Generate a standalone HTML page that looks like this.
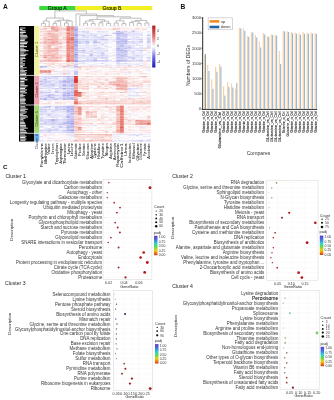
<!DOCTYPE html>
<html><head><meta charset="utf-8"><style>
html,body{margin:0;padding:0;background:#fff;}
svg{display:block;font-family:"Liberation Sans",sans-serif;}
</style></head><body>
<svg width="334" height="400" viewBox="0 0 334 400">
<defs><filter id="soft" x="0" y="0" width="334" height="400" filterUnits="userSpaceOnUse"><feGaussianBlur stdDeviation="0.28"/></filter></defs>
<g filter="url(#soft)"><rect x="0" y="0" width="334" height="400" fill="#fff"/>
<text x="3.00" y="8.70" font-size="6.6" text-anchor="start" fill="#111" font-weight="bold">A</text>
<rect x="39.30" y="6.00" width="36.30" height="4.10" fill="#3cd83c"/>
<rect x="75.60" y="6.00" width="76.60" height="4.10" fill="#f2f024"/>
<text x="57.20" y="9.70" font-size="5.1" text-anchor="middle" fill="#0a2a08" stroke="#0a2a08" stroke-width="0.15">Group A</text>
<text x="112.00" y="9.70" font-size="5.1" text-anchor="middle" fill="#2a2a04" stroke="#2a2a04" stroke-width="0.15">Group B</text>
<defs><filter id="hb" x="-2%" y="-2%" width="104%" height="104%"><feGaussianBlur stdDeviation="0.45"/></filter></defs><g filter="url(#hb)">
<rect x="39.60" y="26.00" width="3.88" height="1.05" fill="#fae6e4"/>
<rect x="43.43" y="26.00" width="3.88" height="1.05" fill="#f3c2be"/>
<rect x="47.26" y="26.00" width="3.88" height="1.05" fill="#f1b5b0"/>
<rect x="51.09" y="26.00" width="3.88" height="1.05" fill="#f2bab5"/>
<rect x="54.92" y="26.00" width="3.88" height="1.05" fill="#f3c2bd"/>
<rect x="58.75" y="26.00" width="3.88" height="1.05" fill="#f8d9d6"/>
<rect x="62.58" y="26.00" width="3.88" height="1.05" fill="#fbecea"/>
<rect x="66.41" y="26.00" width="3.88" height="1.05" fill="#ea9189"/>
<rect x="70.24" y="26.00" width="3.88" height="1.05" fill="#eda099"/>
<rect x="74.07" y="26.00" width="3.88" height="1.05" fill="#cacaf2"/>
<rect x="77.90" y="26.00" width="3.88" height="1.05" fill="#fdf3f2"/>
<rect x="81.73" y="26.00" width="3.88" height="1.05" fill="#fdf6f6"/>
<rect x="85.56" y="26.00" width="3.88" height="1.05" fill="#fef9f9"/>
<rect x="89.39" y="26.00" width="3.88" height="1.05" fill="#fefeff"/>
<rect x="93.22" y="26.00" width="3.88" height="1.05" fill="#fef9f9"/>
<rect x="97.05" y="26.00" width="3.88" height="1.05" fill="#fcefed"/>
<rect x="100.88" y="26.00" width="3.88" height="1.05" fill="#fcf0ef"/>
<rect x="104.71" y="26.00" width="3.88" height="1.05" fill="#ffffff"/>
<rect x="108.54" y="26.00" width="3.88" height="1.05" fill="#eeeefb"/>
<rect x="112.37" y="26.00" width="3.88" height="1.05" fill="#fbeceb"/>
<rect x="116.20" y="26.00" width="3.88" height="1.05" fill="#fbeae8"/>
<rect x="120.03" y="26.00" width="3.88" height="1.05" fill="#fdf6f6"/>
<rect x="123.86" y="26.00" width="3.88" height="1.05" fill="#fffdfd"/>
<rect x="127.69" y="26.00" width="3.88" height="1.05" fill="#fdf6f6"/>
<rect x="131.52" y="26.00" width="3.88" height="1.05" fill="#fdf6f5"/>
<rect x="135.35" y="26.00" width="3.88" height="1.05" fill="#fdf6f5"/>
<rect x="139.18" y="26.00" width="3.88" height="1.05" fill="#fef9f9"/>
<rect x="143.01" y="26.00" width="3.88" height="1.05" fill="#fdfdff"/>
<rect x="146.84" y="26.00" width="3.88" height="1.05" fill="#f7f7fd"/>
<rect x="39.60" y="27.00" width="3.88" height="1.05" fill="#fdf2f2"/>
<rect x="43.43" y="27.00" width="3.88" height="1.05" fill="#fae3e1"/>
<rect x="47.26" y="27.00" width="3.88" height="1.05" fill="#fbe8e6"/>
<rect x="51.09" y="27.00" width="3.88" height="1.05" fill="#eda099"/>
<rect x="54.92" y="27.00" width="3.88" height="1.05" fill="#f2bcb7"/>
<rect x="58.75" y="27.00" width="3.88" height="1.05" fill="#f9dedb"/>
<rect x="62.58" y="27.00" width="3.88" height="1.05" fill="#fcf0ef"/>
<rect x="66.41" y="27.00" width="3.88" height="1.05" fill="#eb948d"/>
<rect x="70.24" y="27.00" width="3.88" height="1.05" fill="#ea9088"/>
<rect x="74.07" y="27.00" width="3.88" height="1.05" fill="#bfbff0"/>
<rect x="77.90" y="27.00" width="3.88" height="1.05" fill="#fef8f7"/>
<rect x="81.73" y="27.00" width="3.88" height="1.05" fill="#f6f6fd"/>
<rect x="85.56" y="27.00" width="3.88" height="1.05" fill="#f6f6fd"/>
<rect x="89.39" y="27.00" width="3.88" height="1.05" fill="#f0f0fb"/>
<rect x="93.22" y="27.00" width="3.88" height="1.05" fill="#fceeed"/>
<rect x="97.05" y="27.00" width="3.88" height="1.05" fill="#f2f2fc"/>
<rect x="100.88" y="27.00" width="3.88" height="1.05" fill="#fffdfd"/>
<rect x="104.71" y="27.00" width="3.88" height="1.05" fill="#fefbfb"/>
<rect x="108.54" y="27.00" width="3.88" height="1.05" fill="#fdfdfe"/>
<rect x="112.37" y="27.00" width="3.88" height="1.05" fill="#fdf5f5"/>
<rect x="116.20" y="27.00" width="3.88" height="1.05" fill="#f4f4fc"/>
<rect x="120.03" y="27.00" width="3.88" height="1.05" fill="#f7f7fd"/>
<rect x="123.86" y="27.00" width="3.88" height="1.05" fill="#fdf2f1"/>
<rect x="127.69" y="27.00" width="3.88" height="1.05" fill="#fdf4f3"/>
<rect x="131.52" y="27.00" width="3.88" height="1.05" fill="#fffefe"/>
<rect x="135.35" y="27.00" width="3.88" height="1.05" fill="#fbedeb"/>
<rect x="139.18" y="27.00" width="3.88" height="1.05" fill="#fdf7f6"/>
<rect x="143.01" y="27.00" width="3.88" height="1.05" fill="#fef9f8"/>
<rect x="146.84" y="27.00" width="3.88" height="1.05" fill="#eaeafa"/>
<rect x="39.60" y="28.00" width="3.88" height="1.05" fill="#f9e1df"/>
<rect x="43.43" y="28.00" width="3.88" height="1.05" fill="#f3c3be"/>
<rect x="47.26" y="28.00" width="3.88" height="1.05" fill="#f9e0de"/>
<rect x="51.09" y="28.00" width="3.88" height="1.05" fill="#ec9c95"/>
<rect x="54.92" y="28.00" width="3.88" height="1.05" fill="#f3bfba"/>
<rect x="58.75" y="28.00" width="3.88" height="1.05" fill="#f4c4c0"/>
<rect x="62.58" y="28.00" width="3.88" height="1.05" fill="#f6cdca"/>
<rect x="66.41" y="28.00" width="3.88" height="1.05" fill="#e7837a"/>
<rect x="70.24" y="28.00" width="3.88" height="1.05" fill="#e98d84"/>
<rect x="74.07" y="28.00" width="3.88" height="1.05" fill="#b4b4ed"/>
<rect x="77.90" y="28.00" width="3.88" height="1.05" fill="#fceeec"/>
<rect x="81.73" y="28.00" width="3.88" height="1.05" fill="#f6f6fd"/>
<rect x="85.56" y="28.00" width="3.88" height="1.05" fill="#f8d8d6"/>
<rect x="89.39" y="28.00" width="3.88" height="1.05" fill="#fbeae9"/>
<rect x="93.22" y="28.00" width="3.88" height="1.05" fill="#fbecea"/>
<rect x="97.05" y="28.00" width="3.88" height="1.05" fill="#f9e1df"/>
<rect x="100.88" y="28.00" width="3.88" height="1.05" fill="#fbebe9"/>
<rect x="104.71" y="28.00" width="3.88" height="1.05" fill="#fbebea"/>
<rect x="108.54" y="28.00" width="3.88" height="1.05" fill="#fcefee"/>
<rect x="112.37" y="28.00" width="3.88" height="1.05" fill="#f7d3d0"/>
<rect x="116.20" y="28.00" width="3.88" height="1.05" fill="#f6d2cf"/>
<rect x="120.03" y="28.00" width="3.88" height="1.05" fill="#fbe7e6"/>
<rect x="123.86" y="28.00" width="3.88" height="1.05" fill="#fbe9e7"/>
<rect x="127.69" y="28.00" width="3.88" height="1.05" fill="#fceeed"/>
<rect x="131.52" y="28.00" width="3.88" height="1.05" fill="#fdf6f6"/>
<rect x="135.35" y="28.00" width="3.88" height="1.05" fill="#f9e0de"/>
<rect x="139.18" y="28.00" width="3.88" height="1.05" fill="#fae7e5"/>
<rect x="143.01" y="28.00" width="3.88" height="1.05" fill="#fbeceb"/>
<rect x="146.84" y="28.00" width="3.88" height="1.05" fill="#fcfcfe"/>
<rect x="39.60" y="29.00" width="3.88" height="1.05" fill="#f8d8d5"/>
<rect x="43.43" y="29.00" width="3.88" height="1.05" fill="#f7d4d1"/>
<rect x="47.26" y="29.00" width="3.88" height="1.05" fill="#fffefe"/>
<rect x="51.09" y="29.00" width="3.88" height="1.05" fill="#f0aea8"/>
<rect x="54.92" y="29.00" width="3.88" height="1.05" fill="#eea49d"/>
<rect x="58.75" y="29.00" width="3.88" height="1.05" fill="#f7d5d2"/>
<rect x="62.58" y="29.00" width="3.88" height="1.05" fill="#f5c8c4"/>
<rect x="66.41" y="29.00" width="3.88" height="1.05" fill="#e67a71"/>
<rect x="70.24" y="29.00" width="3.88" height="1.05" fill="#eb9891"/>
<rect x="74.07" y="29.00" width="3.88" height="1.05" fill="#a2a2e9"/>
<rect x="77.90" y="29.00" width="3.88" height="1.05" fill="#fae3e1"/>
<rect x="81.73" y="29.00" width="3.88" height="1.05" fill="#efeffb"/>
<rect x="85.56" y="29.00" width="3.88" height="1.05" fill="#fdf4f3"/>
<rect x="89.39" y="29.00" width="3.88" height="1.05" fill="#fcefee"/>
<rect x="93.22" y="29.00" width="3.88" height="1.05" fill="#fcedec"/>
<rect x="97.05" y="29.00" width="3.88" height="1.05" fill="#f9e0de"/>
<rect x="100.88" y="29.00" width="3.88" height="1.05" fill="#fbe9e8"/>
<rect x="104.71" y="29.00" width="3.88" height="1.05" fill="#fcf1f1"/>
<rect x="108.54" y="29.00" width="3.88" height="1.05" fill="#f9e1de"/>
<rect x="112.37" y="29.00" width="3.88" height="1.05" fill="#f4c7c3"/>
<rect x="116.20" y="29.00" width="3.88" height="1.05" fill="#f8d9d6"/>
<rect x="120.03" y="29.00" width="3.88" height="1.05" fill="#fdf6f5"/>
<rect x="123.86" y="29.00" width="3.88" height="1.05" fill="#fbebe9"/>
<rect x="127.69" y="29.00" width="3.88" height="1.05" fill="#fbebe9"/>
<rect x="131.52" y="29.00" width="3.88" height="1.05" fill="#efeffb"/>
<rect x="135.35" y="29.00" width="3.88" height="1.05" fill="#f8dcda"/>
<rect x="139.18" y="29.00" width="3.88" height="1.05" fill="#fdf3f2"/>
<rect x="143.01" y="29.00" width="3.88" height="1.05" fill="#f9dedb"/>
<rect x="146.84" y="29.00" width="3.88" height="1.05" fill="#fbfbfe"/>
<rect x="39.60" y="30.00" width="3.88" height="1.05" fill="#fcefee"/>
<rect x="43.43" y="30.00" width="3.88" height="1.05" fill="#fbe9e7"/>
<rect x="47.26" y="30.00" width="3.88" height="1.05" fill="#f7d4d1"/>
<rect x="51.09" y="30.00" width="3.88" height="1.05" fill="#f3c0bb"/>
<rect x="54.92" y="30.00" width="3.88" height="1.05" fill="#efaba5"/>
<rect x="58.75" y="30.00" width="3.88" height="1.05" fill="#f7d6d3"/>
<rect x="62.58" y="30.00" width="3.88" height="1.05" fill="#fae2e0"/>
<rect x="66.41" y="30.00" width="3.88" height="1.05" fill="#e8887f"/>
<rect x="70.24" y="30.00" width="3.88" height="1.05" fill="#eea7a0"/>
<rect x="74.07" y="30.00" width="3.88" height="1.05" fill="#afafec"/>
<rect x="77.90" y="30.00" width="3.88" height="1.05" fill="#fdf7f6"/>
<rect x="81.73" y="30.00" width="3.88" height="1.05" fill="#f3f3fc"/>
<rect x="85.56" y="30.00" width="3.88" height="1.05" fill="#eeeefb"/>
<rect x="89.39" y="30.00" width="3.88" height="1.05" fill="#fef8f7"/>
<rect x="93.22" y="30.00" width="3.88" height="1.05" fill="#fcf0ef"/>
<rect x="97.05" y="30.00" width="3.88" height="1.05" fill="#fcfcfe"/>
<rect x="100.88" y="30.00" width="3.88" height="1.05" fill="#fdf5f4"/>
<rect x="104.71" y="30.00" width="3.88" height="1.05" fill="#fdf4f3"/>
<rect x="108.54" y="30.00" width="3.88" height="1.05" fill="#fffefe"/>
<rect x="112.37" y="30.00" width="3.88" height="1.05" fill="#fdf5f5"/>
<rect x="116.20" y="30.00" width="3.88" height="1.05" fill="#fcf0ef"/>
<rect x="120.03" y="30.00" width="3.88" height="1.05" fill="#fcedeb"/>
<rect x="123.86" y="30.00" width="3.88" height="1.05" fill="#fcefee"/>
<rect x="127.69" y="30.00" width="3.88" height="1.05" fill="#fefaf9"/>
<rect x="131.52" y="30.00" width="3.88" height="1.05" fill="#dedef7"/>
<rect x="135.35" y="30.00" width="3.88" height="1.05" fill="#fef9f8"/>
<rect x="139.18" y="30.00" width="3.88" height="1.05" fill="#fdf2f2"/>
<rect x="143.01" y="30.00" width="3.88" height="1.05" fill="#fdf4f3"/>
<rect x="146.84" y="30.00" width="3.88" height="1.05" fill="#fefbfb"/>
<rect x="39.60" y="31.00" width="3.88" height="1.05" fill="#f7d6d3"/>
<rect x="43.43" y="31.00" width="3.88" height="1.05" fill="#f7d3d0"/>
<rect x="47.26" y="31.00" width="3.88" height="1.05" fill="#f3c1bd"/>
<rect x="51.09" y="31.00" width="3.88" height="1.05" fill="#f5cac6"/>
<rect x="54.92" y="31.00" width="3.88" height="1.05" fill="#f2bab5"/>
<rect x="58.75" y="31.00" width="3.88" height="1.05" fill="#fae2e0"/>
<rect x="62.58" y="31.00" width="3.88" height="1.05" fill="#fcefee"/>
<rect x="66.41" y="31.00" width="3.88" height="1.05" fill="#f0b0aa"/>
<rect x="70.24" y="31.00" width="3.88" height="1.05" fill="#eea6a0"/>
<rect x="74.07" y="31.00" width="3.88" height="1.05" fill="#c0c0f0"/>
<rect x="77.90" y="31.00" width="3.88" height="1.05" fill="#dfdff7"/>
<rect x="81.73" y="31.00" width="3.88" height="1.05" fill="#d4d4f5"/>
<rect x="85.56" y="31.00" width="3.88" height="1.05" fill="#ddddf7"/>
<rect x="89.39" y="31.00" width="3.88" height="1.05" fill="#f2f2fc"/>
<rect x="93.22" y="31.00" width="3.88" height="1.05" fill="#f7f7fd"/>
<rect x="97.05" y="31.00" width="3.88" height="1.05" fill="#dadaf6"/>
<rect x="100.88" y="31.00" width="3.88" height="1.05" fill="#e6e6f9"/>
<rect x="104.71" y="31.00" width="3.88" height="1.05" fill="#e6e6f9"/>
<rect x="108.54" y="31.00" width="3.88" height="1.05" fill="#fefaf9"/>
<rect x="112.37" y="31.00" width="3.88" height="1.05" fill="#fef9f8"/>
<rect x="116.20" y="31.00" width="3.88" height="1.05" fill="#b6b6ee"/>
<rect x="120.03" y="31.00" width="3.88" height="1.05" fill="#ddddf7"/>
<rect x="123.86" y="31.00" width="3.88" height="1.05" fill="#d0d0f4"/>
<rect x="127.69" y="31.00" width="3.88" height="1.05" fill="#f0f0fb"/>
<rect x="131.52" y="31.00" width="3.88" height="1.05" fill="#c6c6f1"/>
<rect x="135.35" y="31.00" width="3.88" height="1.05" fill="#ebebfa"/>
<rect x="139.18" y="31.00" width="3.88" height="1.05" fill="#f5f5fd"/>
<rect x="143.01" y="31.00" width="3.88" height="1.05" fill="#fdfdff"/>
<rect x="146.84" y="31.00" width="3.88" height="1.05" fill="#ebebfa"/>
<rect x="39.60" y="32.00" width="3.88" height="1.05" fill="#fcedec"/>
<rect x="43.43" y="32.00" width="3.88" height="1.05" fill="#fae7e5"/>
<rect x="47.26" y="32.00" width="3.88" height="1.05" fill="#f6d1ce"/>
<rect x="51.09" y="32.00" width="3.88" height="1.05" fill="#f9dfdc"/>
<rect x="54.92" y="32.00" width="3.88" height="1.05" fill="#fbe8e6"/>
<rect x="58.75" y="32.00" width="3.88" height="1.05" fill="#f9dedb"/>
<rect x="62.58" y="32.00" width="3.88" height="1.05" fill="#f8dcd9"/>
<rect x="66.41" y="32.00" width="3.88" height="1.05" fill="#ec9c95"/>
<rect x="70.24" y="32.00" width="3.88" height="1.05" fill="#efaba5"/>
<rect x="74.07" y="32.00" width="3.88" height="1.05" fill="#c0c0f0"/>
<rect x="77.90" y="32.00" width="3.88" height="1.05" fill="#efeffb"/>
<rect x="81.73" y="32.00" width="3.88" height="1.05" fill="#dfdff7"/>
<rect x="85.56" y="32.00" width="3.88" height="1.05" fill="#dcdcf7"/>
<rect x="89.39" y="32.00" width="3.88" height="1.05" fill="#fafafe"/>
<rect x="93.22" y="32.00" width="3.88" height="1.05" fill="#fcfcfe"/>
<rect x="97.05" y="32.00" width="3.88" height="1.05" fill="#eeeefb"/>
<rect x="100.88" y="32.00" width="3.88" height="1.05" fill="#ebebfa"/>
<rect x="104.71" y="32.00" width="3.88" height="1.05" fill="#f0f0fb"/>
<rect x="108.54" y="32.00" width="3.88" height="1.05" fill="#fefafa"/>
<rect x="112.37" y="32.00" width="3.88" height="1.05" fill="#e7e7f9"/>
<rect x="116.20" y="32.00" width="3.88" height="1.05" fill="#cdcdf3"/>
<rect x="120.03" y="32.00" width="3.88" height="1.05" fill="#c6c6f1"/>
<rect x="123.86" y="32.00" width="3.88" height="1.05" fill="#e5e5f9"/>
<rect x="127.69" y="32.00" width="3.88" height="1.05" fill="#dfdff7"/>
<rect x="131.52" y="32.00" width="3.88" height="1.05" fill="#e8e8fa"/>
<rect x="135.35" y="32.00" width="3.88" height="1.05" fill="#efeffb"/>
<rect x="139.18" y="32.00" width="3.88" height="1.05" fill="#f0f0fb"/>
<rect x="143.01" y="32.00" width="3.88" height="1.05" fill="#f8f8fd"/>
<rect x="146.84" y="32.00" width="3.88" height="1.05" fill="#f6f6fd"/>
<rect x="39.60" y="33.00" width="3.88" height="1.05" fill="#fbeceb"/>
<rect x="43.43" y="33.00" width="3.88" height="1.05" fill="#f9dddb"/>
<rect x="47.26" y="33.00" width="3.88" height="1.05" fill="#f0b0aa"/>
<rect x="51.09" y="33.00" width="3.88" height="1.05" fill="#f3beb9"/>
<rect x="54.92" y="33.00" width="3.88" height="1.05" fill="#f5cdca"/>
<rect x="58.75" y="33.00" width="3.88" height="1.05" fill="#f7d5d2"/>
<rect x="62.58" y="33.00" width="3.88" height="1.05" fill="#fae3e1"/>
<rect x="66.41" y="33.00" width="3.88" height="1.05" fill="#e78178"/>
<rect x="70.24" y="33.00" width="3.88" height="1.05" fill="#eea49d"/>
<rect x="74.07" y="33.00" width="3.88" height="1.05" fill="#babaef"/>
<rect x="77.90" y="33.00" width="3.88" height="1.05" fill="#f0f0fb"/>
<rect x="81.73" y="33.00" width="3.88" height="1.05" fill="#efeffb"/>
<rect x="85.56" y="33.00" width="3.88" height="1.05" fill="#e0e0f8"/>
<rect x="89.39" y="33.00" width="3.88" height="1.05" fill="#dbdbf6"/>
<rect x="93.22" y="33.00" width="3.88" height="1.05" fill="#ebebfa"/>
<rect x="97.05" y="33.00" width="3.88" height="1.05" fill="#eeeefb"/>
<rect x="100.88" y="33.00" width="3.88" height="1.05" fill="#eeeefb"/>
<rect x="104.71" y="33.00" width="3.88" height="1.05" fill="#efeffb"/>
<rect x="108.54" y="33.00" width="3.88" height="1.05" fill="#f4f4fc"/>
<rect x="112.37" y="33.00" width="3.88" height="1.05" fill="#c9c9f2"/>
<rect x="116.20" y="33.00" width="3.88" height="1.05" fill="#afafec"/>
<rect x="120.03" y="33.00" width="3.88" height="1.05" fill="#babaef"/>
<rect x="123.86" y="33.00" width="3.88" height="1.05" fill="#ddddf7"/>
<rect x="127.69" y="33.00" width="3.88" height="1.05" fill="#e5e5f9"/>
<rect x="131.52" y="33.00" width="3.88" height="1.05" fill="#dcdcf7"/>
<rect x="135.35" y="33.00" width="3.88" height="1.05" fill="#e2e2f8"/>
<rect x="139.18" y="33.00" width="3.88" height="1.05" fill="#eaeafa"/>
<rect x="143.01" y="33.00" width="3.88" height="1.05" fill="#fefcfb"/>
<rect x="146.84" y="33.00" width="3.88" height="1.05" fill="#eeeefb"/>
<rect x="39.60" y="34.00" width="3.88" height="1.05" fill="#fdf4f3"/>
<rect x="43.43" y="34.00" width="3.88" height="1.05" fill="#f5cdc9"/>
<rect x="47.26" y="34.00" width="3.88" height="1.05" fill="#f2bab5"/>
<rect x="51.09" y="34.00" width="3.88" height="1.05" fill="#f4c6c2"/>
<rect x="54.92" y="34.00" width="3.88" height="1.05" fill="#f6cdca"/>
<rect x="58.75" y="34.00" width="3.88" height="1.05" fill="#f8dad7"/>
<rect x="62.58" y="34.00" width="3.88" height="1.05" fill="#fae3e1"/>
<rect x="66.41" y="34.00" width="3.88" height="1.05" fill="#ec9991"/>
<rect x="70.24" y="34.00" width="3.88" height="1.05" fill="#eb958e"/>
<rect x="74.07" y="34.00" width="3.88" height="1.05" fill="#aeaeec"/>
<rect x="77.90" y="34.00" width="3.88" height="1.05" fill="#dbdbf7"/>
<rect x="81.73" y="34.00" width="3.88" height="1.05" fill="#e4e4f9"/>
<rect x="85.56" y="34.00" width="3.88" height="1.05" fill="#f0f0fc"/>
<rect x="89.39" y="34.00" width="3.88" height="1.05" fill="#e8e8f9"/>
<rect x="93.22" y="34.00" width="3.88" height="1.05" fill="#e7e7f9"/>
<rect x="97.05" y="34.00" width="3.88" height="1.05" fill="#f2f2fc"/>
<rect x="100.88" y="34.00" width="3.88" height="1.05" fill="#f3f3fc"/>
<rect x="104.71" y="34.00" width="3.88" height="1.05" fill="#efeffb"/>
<rect x="108.54" y="34.00" width="3.88" height="1.05" fill="#fafafe"/>
<rect x="112.37" y="34.00" width="3.88" height="1.05" fill="#fefeff"/>
<rect x="116.20" y="34.00" width="3.88" height="1.05" fill="#c8c8f2"/>
<rect x="120.03" y="34.00" width="3.88" height="1.05" fill="#ccccf3"/>
<rect x="123.86" y="34.00" width="3.88" height="1.05" fill="#c4c4f1"/>
<rect x="127.69" y="34.00" width="3.88" height="1.05" fill="#e5e5f9"/>
<rect x="131.52" y="34.00" width="3.88" height="1.05" fill="#e7e7f9"/>
<rect x="135.35" y="34.00" width="3.88" height="1.05" fill="#e2e2f8"/>
<rect x="139.18" y="34.00" width="3.88" height="1.05" fill="#e0e0f8"/>
<rect x="143.01" y="34.00" width="3.88" height="1.05" fill="#fefeff"/>
<rect x="146.84" y="34.00" width="3.88" height="1.05" fill="#e4e4f9"/>
<rect x="39.60" y="35.00" width="3.88" height="1.05" fill="#f8d8d5"/>
<rect x="43.43" y="35.00" width="3.88" height="1.05" fill="#f7d6d3"/>
<rect x="47.26" y="35.00" width="3.88" height="1.05" fill="#f7d7d4"/>
<rect x="51.09" y="35.00" width="3.88" height="1.05" fill="#f0b1ab"/>
<rect x="54.92" y="35.00" width="3.88" height="1.05" fill="#f3bfba"/>
<rect x="58.75" y="35.00" width="3.88" height="1.05" fill="#f9dedb"/>
<rect x="62.58" y="35.00" width="3.88" height="1.05" fill="#fbeae9"/>
<rect x="66.41" y="35.00" width="3.88" height="1.05" fill="#ec9992"/>
<rect x="70.24" y="35.00" width="3.88" height="1.05" fill="#eb9891"/>
<rect x="74.07" y="35.00" width="3.88" height="1.05" fill="#a1a1e9"/>
<rect x="77.90" y="35.00" width="3.88" height="1.05" fill="#e2e2f8"/>
<rect x="81.73" y="35.00" width="3.88" height="1.05" fill="#c9c9f2"/>
<rect x="85.56" y="35.00" width="3.88" height="1.05" fill="#e1e1f8"/>
<rect x="89.39" y="35.00" width="3.88" height="1.05" fill="#d8d8f6"/>
<rect x="93.22" y="35.00" width="3.88" height="1.05" fill="#ccccf3"/>
<rect x="97.05" y="35.00" width="3.88" height="1.05" fill="#fbfbfe"/>
<rect x="100.88" y="35.00" width="3.88" height="1.05" fill="#e6e6f9"/>
<rect x="104.71" y="35.00" width="3.88" height="1.05" fill="#b9b9ee"/>
<rect x="108.54" y="35.00" width="3.88" height="1.05" fill="#dadaf6"/>
<rect x="112.37" y="35.00" width="3.88" height="1.05" fill="#f6f6fd"/>
<rect x="116.20" y="35.00" width="3.88" height="1.05" fill="#c3c3f1"/>
<rect x="120.03" y="35.00" width="3.88" height="1.05" fill="#cfcff3"/>
<rect x="123.86" y="35.00" width="3.88" height="1.05" fill="#cecef3"/>
<rect x="127.69" y="35.00" width="3.88" height="1.05" fill="#e5e5f9"/>
<rect x="131.52" y="35.00" width="3.88" height="1.05" fill="#e1e1f8"/>
<rect x="135.35" y="35.00" width="3.88" height="1.05" fill="#ebebfa"/>
<rect x="139.18" y="35.00" width="3.88" height="1.05" fill="#e5e5f9"/>
<rect x="143.01" y="35.00" width="3.88" height="1.05" fill="#fef8f8"/>
<rect x="146.84" y="35.00" width="3.88" height="1.05" fill="#cbcbf3"/>
<rect x="39.60" y="36.00" width="3.88" height="1.05" fill="#fdf6f5"/>
<rect x="43.43" y="36.00" width="3.88" height="1.05" fill="#f9e0de"/>
<rect x="47.26" y="36.00" width="3.88" height="1.05" fill="#f2bcb7"/>
<rect x="51.09" y="36.00" width="3.88" height="1.05" fill="#f1b6b1"/>
<rect x="54.92" y="36.00" width="3.88" height="1.05" fill="#f3bfba"/>
<rect x="58.75" y="36.00" width="3.88" height="1.05" fill="#f9e2e0"/>
<rect x="62.58" y="36.00" width="3.88" height="1.05" fill="#fae6e4"/>
<rect x="66.41" y="36.00" width="3.88" height="1.05" fill="#ec9992"/>
<rect x="70.24" y="36.00" width="3.88" height="1.05" fill="#f3beba"/>
<rect x="74.07" y="36.00" width="3.88" height="1.05" fill="#b9b9ee"/>
<rect x="77.90" y="36.00" width="3.88" height="1.05" fill="#ededfb"/>
<rect x="81.73" y="36.00" width="3.88" height="1.05" fill="#e5e5f9"/>
<rect x="85.56" y="36.00" width="3.88" height="1.05" fill="#e0e0f8"/>
<rect x="89.39" y="36.00" width="3.88" height="1.05" fill="#eeeefb"/>
<rect x="93.22" y="36.00" width="3.88" height="1.05" fill="#e7e7f9"/>
<rect x="97.05" y="36.00" width="3.88" height="1.05" fill="#efeffb"/>
<rect x="100.88" y="36.00" width="3.88" height="1.05" fill="#d3d3f4"/>
<rect x="104.71" y="36.00" width="3.88" height="1.05" fill="#f6f6fd"/>
<rect x="108.54" y="36.00" width="3.88" height="1.05" fill="#fdf5f4"/>
<rect x="112.37" y="36.00" width="3.88" height="1.05" fill="#fffefe"/>
<rect x="116.20" y="36.00" width="3.88" height="1.05" fill="#d1d1f4"/>
<rect x="120.03" y="36.00" width="3.88" height="1.05" fill="#d3d3f5"/>
<rect x="123.86" y="36.00" width="3.88" height="1.05" fill="#ccccf3"/>
<rect x="127.69" y="36.00" width="3.88" height="1.05" fill="#f5f5fd"/>
<rect x="131.52" y="36.00" width="3.88" height="1.05" fill="#e6e6f9"/>
<rect x="135.35" y="36.00" width="3.88" height="1.05" fill="#eaeafa"/>
<rect x="139.18" y="36.00" width="3.88" height="1.05" fill="#fafafe"/>
<rect x="143.01" y="36.00" width="3.88" height="1.05" fill="#fdfdff"/>
<rect x="146.84" y="36.00" width="3.88" height="1.05" fill="#eeeefb"/>
<rect x="39.60" y="37.00" width="3.88" height="1.05" fill="#fcf0ef"/>
<rect x="43.43" y="37.00" width="3.88" height="1.05" fill="#f3c0bb"/>
<rect x="47.26" y="37.00" width="3.88" height="1.05" fill="#f7d5d2"/>
<rect x="51.09" y="37.00" width="3.88" height="1.05" fill="#f3c2be"/>
<rect x="54.92" y="37.00" width="3.88" height="1.05" fill="#f2bcb8"/>
<rect x="58.75" y="37.00" width="3.88" height="1.05" fill="#fefbfb"/>
<rect x="62.58" y="37.00" width="3.88" height="1.05" fill="#f6d2cf"/>
<rect x="66.41" y="37.00" width="3.88" height="1.05" fill="#ea9088"/>
<rect x="70.24" y="37.00" width="3.88" height="1.05" fill="#e67970"/>
<rect x="74.07" y="37.00" width="3.88" height="1.05" fill="#c0c0f0"/>
<rect x="77.90" y="37.00" width="3.88" height="1.05" fill="#f7f7fd"/>
<rect x="81.73" y="37.00" width="3.88" height="1.05" fill="#d9d9f6"/>
<rect x="85.56" y="37.00" width="3.88" height="1.05" fill="#e0e0f8"/>
<rect x="89.39" y="37.00" width="3.88" height="1.05" fill="#e9e9fa"/>
<rect x="93.22" y="37.00" width="3.88" height="1.05" fill="#d6d6f5"/>
<rect x="97.05" y="37.00" width="3.88" height="1.05" fill="#d1d1f4"/>
<rect x="100.88" y="37.00" width="3.88" height="1.05" fill="#ddddf7"/>
<rect x="104.71" y="37.00" width="3.88" height="1.05" fill="#fcf2f1"/>
<rect x="108.54" y="37.00" width="3.88" height="1.05" fill="#fae7e5"/>
<rect x="112.37" y="37.00" width="3.88" height="1.05" fill="#f0f0fb"/>
<rect x="116.20" y="37.00" width="3.88" height="1.05" fill="#c3c3f1"/>
<rect x="120.03" y="37.00" width="3.88" height="1.05" fill="#dfdff7"/>
<rect x="123.86" y="37.00" width="3.88" height="1.05" fill="#d8d8f6"/>
<rect x="127.69" y="37.00" width="3.88" height="1.05" fill="#f7f7fd"/>
<rect x="131.52" y="37.00" width="3.88" height="1.05" fill="#eeeefb"/>
<rect x="135.35" y="37.00" width="3.88" height="1.05" fill="#dedef7"/>
<rect x="139.18" y="37.00" width="3.88" height="1.05" fill="#e9e9fa"/>
<rect x="143.01" y="37.00" width="3.88" height="1.05" fill="#f6f6fd"/>
<rect x="146.84" y="37.00" width="3.88" height="1.05" fill="#dfdff7"/>
<rect x="39.60" y="38.00" width="3.88" height="1.05" fill="#fbe8e6"/>
<rect x="43.43" y="38.00" width="3.88" height="1.05" fill="#f4c7c3"/>
<rect x="47.26" y="38.00" width="3.88" height="1.05" fill="#f8d9d6"/>
<rect x="51.09" y="38.00" width="3.88" height="1.05" fill="#f2bdb8"/>
<rect x="54.92" y="38.00" width="3.88" height="1.05" fill="#f3c0bb"/>
<rect x="58.75" y="38.00" width="3.88" height="1.05" fill="#fae7e5"/>
<rect x="62.58" y="38.00" width="3.88" height="1.05" fill="#f8d9d6"/>
<rect x="66.41" y="38.00" width="3.88" height="1.05" fill="#e98b83"/>
<rect x="70.24" y="38.00" width="3.88" height="1.05" fill="#e5786e"/>
<rect x="74.07" y="38.00" width="3.88" height="1.05" fill="#c2c2f0"/>
<rect x="77.90" y="38.00" width="3.88" height="1.05" fill="#e3e3f8"/>
<rect x="81.73" y="38.00" width="3.88" height="1.05" fill="#f1f1fc"/>
<rect x="85.56" y="38.00" width="3.88" height="1.05" fill="#eaeafa"/>
<rect x="89.39" y="38.00" width="3.88" height="1.05" fill="#eeeefb"/>
<rect x="93.22" y="38.00" width="3.88" height="1.05" fill="#ededfb"/>
<rect x="97.05" y="38.00" width="3.88" height="1.05" fill="#e7e7f9"/>
<rect x="100.88" y="38.00" width="3.88" height="1.05" fill="#dfdff7"/>
<rect x="104.71" y="38.00" width="3.88" height="1.05" fill="#e8e8f9"/>
<rect x="108.54" y="38.00" width="3.88" height="1.05" fill="#f5f5fd"/>
<rect x="112.37" y="38.00" width="3.88" height="1.05" fill="#f9f9fe"/>
<rect x="116.20" y="38.00" width="3.88" height="1.05" fill="#babaef"/>
<rect x="120.03" y="38.00" width="3.88" height="1.05" fill="#d2d2f4"/>
<rect x="123.86" y="38.00" width="3.88" height="1.05" fill="#dcdcf7"/>
<rect x="127.69" y="38.00" width="3.88" height="1.05" fill="#f1f1fc"/>
<rect x="131.52" y="38.00" width="3.88" height="1.05" fill="#dcdcf7"/>
<rect x="135.35" y="38.00" width="3.88" height="1.05" fill="#ebebfa"/>
<rect x="139.18" y="38.00" width="3.88" height="1.05" fill="#ebebfa"/>
<rect x="143.01" y="38.00" width="3.88" height="1.05" fill="#fcfcfe"/>
<rect x="146.84" y="38.00" width="3.88" height="1.05" fill="#d8d8f6"/>
<rect x="39.60" y="39.00" width="3.88" height="1.05" fill="#f8d9d6"/>
<rect x="43.43" y="39.00" width="3.88" height="1.05" fill="#f3c2bd"/>
<rect x="47.26" y="39.00" width="3.88" height="1.05" fill="#ec9c94"/>
<rect x="51.09" y="39.00" width="3.88" height="1.05" fill="#f0aea8"/>
<rect x="54.92" y="39.00" width="3.88" height="1.05" fill="#f1b7b2"/>
<rect x="58.75" y="39.00" width="3.88" height="1.05" fill="#f8d9d6"/>
<rect x="62.58" y="39.00" width="3.88" height="1.05" fill="#f6cfcb"/>
<rect x="66.41" y="39.00" width="3.88" height="1.05" fill="#e5776e"/>
<rect x="70.24" y="39.00" width="3.88" height="1.05" fill="#e46f65"/>
<rect x="74.07" y="39.00" width="3.88" height="1.05" fill="#aaaaeb"/>
<rect x="77.90" y="39.00" width="3.88" height="1.05" fill="#d6d6f5"/>
<rect x="81.73" y="39.00" width="3.88" height="1.05" fill="#cfcff4"/>
<rect x="85.56" y="39.00" width="3.88" height="1.05" fill="#d5d5f5"/>
<rect x="89.39" y="39.00" width="3.88" height="1.05" fill="#dedef7"/>
<rect x="93.22" y="39.00" width="3.88" height="1.05" fill="#d8d8f6"/>
<rect x="97.05" y="39.00" width="3.88" height="1.05" fill="#d9d9f6"/>
<rect x="100.88" y="39.00" width="3.88" height="1.05" fill="#c5c5f1"/>
<rect x="104.71" y="39.00" width="3.88" height="1.05" fill="#cecef3"/>
<rect x="108.54" y="39.00" width="3.88" height="1.05" fill="#ebebfa"/>
<rect x="112.37" y="39.00" width="3.88" height="1.05" fill="#e1e1f8"/>
<rect x="116.20" y="39.00" width="3.88" height="1.05" fill="#c2c2f0"/>
<rect x="120.03" y="39.00" width="3.88" height="1.05" fill="#bdbdef"/>
<rect x="123.86" y="39.00" width="3.88" height="1.05" fill="#c0c0f0"/>
<rect x="127.69" y="39.00" width="3.88" height="1.05" fill="#cdcdf3"/>
<rect x="131.52" y="39.00" width="3.88" height="1.05" fill="#e7e7f9"/>
<rect x="135.35" y="39.00" width="3.88" height="1.05" fill="#dbdbf6"/>
<rect x="139.18" y="39.00" width="3.88" height="1.05" fill="#cdcdf3"/>
<rect x="143.01" y="39.00" width="3.88" height="1.05" fill="#fdf2f1"/>
<rect x="146.84" y="39.00" width="3.88" height="1.05" fill="#d4d4f5"/>
<rect x="39.60" y="40.00" width="3.88" height="1.05" fill="#fceeed"/>
<rect x="43.43" y="40.00" width="3.88" height="1.05" fill="#f6cdca"/>
<rect x="47.26" y="40.00" width="3.88" height="1.05" fill="#f4c8c4"/>
<rect x="51.09" y="40.00" width="3.88" height="1.05" fill="#f2b9b4"/>
<rect x="54.92" y="40.00" width="3.88" height="1.05" fill="#f4c6c2"/>
<rect x="58.75" y="40.00" width="3.88" height="1.05" fill="#f8dcd9"/>
<rect x="62.58" y="40.00" width="3.88" height="1.05" fill="#fbeae9"/>
<rect x="66.41" y="40.00" width="3.88" height="1.05" fill="#ea928a"/>
<rect x="70.24" y="40.00" width="3.88" height="1.05" fill="#e8877e"/>
<rect x="74.07" y="40.00" width="3.88" height="1.05" fill="#b6b6ee"/>
<rect x="77.90" y="40.00" width="3.88" height="1.05" fill="#e3e3f8"/>
<rect x="81.73" y="40.00" width="3.88" height="1.05" fill="#e6e6f9"/>
<rect x="85.56" y="40.00" width="3.88" height="1.05" fill="#dfdff7"/>
<rect x="89.39" y="40.00" width="3.88" height="1.05" fill="#e6e6f9"/>
<rect x="93.22" y="40.00" width="3.88" height="1.05" fill="#cfcff4"/>
<rect x="97.05" y="40.00" width="3.88" height="1.05" fill="#f1f1fc"/>
<rect x="100.88" y="40.00" width="3.88" height="1.05" fill="#e3e3f8"/>
<rect x="104.71" y="40.00" width="3.88" height="1.05" fill="#e2e2f8"/>
<rect x="108.54" y="40.00" width="3.88" height="1.05" fill="#f2f2fc"/>
<rect x="112.37" y="40.00" width="3.88" height="1.05" fill="#ededfb"/>
<rect x="116.20" y="40.00" width="3.88" height="1.05" fill="#d4d4f5"/>
<rect x="120.03" y="40.00" width="3.88" height="1.05" fill="#c7c7f2"/>
<rect x="123.86" y="40.00" width="3.88" height="1.05" fill="#c1c1f0"/>
<rect x="127.69" y="40.00" width="3.88" height="1.05" fill="#fdfdfe"/>
<rect x="131.52" y="40.00" width="3.88" height="1.05" fill="#eeeefb"/>
<rect x="135.35" y="40.00" width="3.88" height="1.05" fill="#f1f1fc"/>
<rect x="139.18" y="40.00" width="3.88" height="1.05" fill="#e3e3f8"/>
<rect x="143.01" y="40.00" width="3.88" height="1.05" fill="#ffffff"/>
<rect x="146.84" y="40.00" width="3.88" height="1.05" fill="#dbdbf6"/>
<rect x="39.60" y="41.00" width="3.88" height="1.05" fill="#fbeae8"/>
<rect x="43.43" y="41.00" width="3.88" height="1.05" fill="#f2bbb6"/>
<rect x="47.26" y="41.00" width="3.88" height="1.05" fill="#f4c6c2"/>
<rect x="51.09" y="41.00" width="3.88" height="1.05" fill="#f0aea9"/>
<rect x="54.92" y="41.00" width="3.88" height="1.05" fill="#efada7"/>
<rect x="58.75" y="41.00" width="3.88" height="1.05" fill="#fae3e1"/>
<rect x="62.58" y="41.00" width="3.88" height="1.05" fill="#f9e0dd"/>
<rect x="66.41" y="41.00" width="3.88" height="1.05" fill="#e78279"/>
<rect x="70.24" y="41.00" width="3.88" height="1.05" fill="#eea39d"/>
<rect x="74.07" y="41.00" width="3.88" height="1.05" fill="#9797e6"/>
<rect x="77.90" y="41.00" width="3.88" height="1.05" fill="#d1d1f4"/>
<rect x="81.73" y="41.00" width="3.88" height="1.05" fill="#d5d5f5"/>
<rect x="85.56" y="41.00" width="3.88" height="1.05" fill="#c0c0f0"/>
<rect x="89.39" y="41.00" width="3.88" height="1.05" fill="#f3f3fc"/>
<rect x="93.22" y="41.00" width="3.88" height="1.05" fill="#c6c6f1"/>
<rect x="97.05" y="41.00" width="3.88" height="1.05" fill="#e0e0f8"/>
<rect x="100.88" y="41.00" width="3.88" height="1.05" fill="#efeffb"/>
<rect x="104.71" y="41.00" width="3.88" height="1.05" fill="#e8e8fa"/>
<rect x="108.54" y="41.00" width="3.88" height="1.05" fill="#fafafe"/>
<rect x="112.37" y="41.00" width="3.88" height="1.05" fill="#e3e3f8"/>
<rect x="116.20" y="41.00" width="3.88" height="1.05" fill="#bfbff0"/>
<rect x="120.03" y="41.00" width="3.88" height="1.05" fill="#babaee"/>
<rect x="123.86" y="41.00" width="3.88" height="1.05" fill="#b9b9ee"/>
<rect x="127.69" y="41.00" width="3.88" height="1.05" fill="#dadaf6"/>
<rect x="131.52" y="41.00" width="3.88" height="1.05" fill="#dbdbf6"/>
<rect x="135.35" y="41.00" width="3.88" height="1.05" fill="#dfdff7"/>
<rect x="139.18" y="41.00" width="3.88" height="1.05" fill="#ccccf3"/>
<rect x="143.01" y="41.00" width="3.88" height="1.05" fill="#fffefe"/>
<rect x="146.84" y="41.00" width="3.88" height="1.05" fill="#c7c7f2"/>
<rect x="39.60" y="42.00" width="3.88" height="1.05" fill="#f5cac7"/>
<rect x="43.43" y="42.00" width="3.88" height="1.05" fill="#f0b2ac"/>
<rect x="47.26" y="42.00" width="3.88" height="1.05" fill="#f1b5af"/>
<rect x="51.09" y="42.00" width="3.88" height="1.05" fill="#eea49d"/>
<rect x="54.92" y="42.00" width="3.88" height="1.05" fill="#f1b6b1"/>
<rect x="58.75" y="42.00" width="3.88" height="1.05" fill="#f3c1bd"/>
<rect x="62.58" y="42.00" width="3.88" height="1.05" fill="#f8dad7"/>
<rect x="66.41" y="42.00" width="3.88" height="1.05" fill="#e5786e"/>
<rect x="70.24" y="42.00" width="3.88" height="1.05" fill="#e8877f"/>
<rect x="74.07" y="42.00" width="3.88" height="1.05" fill="#a5a5ea"/>
<rect x="77.90" y="42.00" width="3.88" height="1.05" fill="#d2d2f4"/>
<rect x="81.73" y="42.00" width="3.88" height="1.05" fill="#e1e1f8"/>
<rect x="85.56" y="42.00" width="3.88" height="1.05" fill="#c6c6f1"/>
<rect x="89.39" y="42.00" width="3.88" height="1.05" fill="#e3e3f8"/>
<rect x="93.22" y="42.00" width="3.88" height="1.05" fill="#b9b9ee"/>
<rect x="97.05" y="42.00" width="3.88" height="1.05" fill="#d1d1f4"/>
<rect x="100.88" y="42.00" width="3.88" height="1.05" fill="#ececfa"/>
<rect x="104.71" y="42.00" width="3.88" height="1.05" fill="#dcdcf7"/>
<rect x="108.54" y="42.00" width="3.88" height="1.05" fill="#eeeefb"/>
<rect x="112.37" y="42.00" width="3.88" height="1.05" fill="#fefeff"/>
<rect x="116.20" y="42.00" width="3.88" height="1.05" fill="#bebef0"/>
<rect x="120.03" y="42.00" width="3.88" height="1.05" fill="#cecef3"/>
<rect x="123.86" y="42.00" width="3.88" height="1.05" fill="#c6c6f1"/>
<rect x="127.69" y="42.00" width="3.88" height="1.05" fill="#dadaf6"/>
<rect x="131.52" y="42.00" width="3.88" height="1.05" fill="#d8d8f6"/>
<rect x="135.35" y="42.00" width="3.88" height="1.05" fill="#e7e7f9"/>
<rect x="139.18" y="42.00" width="3.88" height="1.05" fill="#d5d5f5"/>
<rect x="143.01" y="42.00" width="3.88" height="1.05" fill="#fffefe"/>
<rect x="146.84" y="42.00" width="3.88" height="1.05" fill="#d7d7f5"/>
<rect x="39.60" y="43.00" width="3.88" height="1.05" fill="#f7d4d1"/>
<rect x="43.43" y="43.00" width="3.88" height="1.05" fill="#f4c3be"/>
<rect x="47.26" y="43.00" width="3.88" height="1.05" fill="#f2bab5"/>
<rect x="51.09" y="43.00" width="3.88" height="1.05" fill="#efa9a3"/>
<rect x="54.92" y="43.00" width="3.88" height="1.05" fill="#f3bfba"/>
<rect x="58.75" y="43.00" width="3.88" height="1.05" fill="#f3c1bd"/>
<rect x="62.58" y="43.00" width="3.88" height="1.05" fill="#fbe7e6"/>
<rect x="66.41" y="43.00" width="3.88" height="1.05" fill="#ec9a93"/>
<rect x="70.24" y="43.00" width="3.88" height="1.05" fill="#eb9790"/>
<rect x="74.07" y="43.00" width="3.88" height="1.05" fill="#b7b7ee"/>
<rect x="77.90" y="43.00" width="3.88" height="1.05" fill="#cacaf2"/>
<rect x="81.73" y="43.00" width="3.88" height="1.05" fill="#d9d9f6"/>
<rect x="85.56" y="43.00" width="3.88" height="1.05" fill="#d4d4f5"/>
<rect x="89.39" y="43.00" width="3.88" height="1.05" fill="#fdfdff"/>
<rect x="93.22" y="43.00" width="3.88" height="1.05" fill="#dfdff7"/>
<rect x="97.05" y="43.00" width="3.88" height="1.05" fill="#e3e3f8"/>
<rect x="100.88" y="43.00" width="3.88" height="1.05" fill="#ececfa"/>
<rect x="104.71" y="43.00" width="3.88" height="1.05" fill="#e7e7f9"/>
<rect x="108.54" y="43.00" width="3.88" height="1.05" fill="#fdfdff"/>
<rect x="112.37" y="43.00" width="3.88" height="1.05" fill="#f9f9fe"/>
<rect x="116.20" y="43.00" width="3.88" height="1.05" fill="#c7c7f2"/>
<rect x="120.03" y="43.00" width="3.88" height="1.05" fill="#bfbff0"/>
<rect x="123.86" y="43.00" width="3.88" height="1.05" fill="#bfbff0"/>
<rect x="127.69" y="43.00" width="3.88" height="1.05" fill="#ebebfa"/>
<rect x="131.52" y="43.00" width="3.88" height="1.05" fill="#d6d6f5"/>
<rect x="135.35" y="43.00" width="3.88" height="1.05" fill="#e2e2f8"/>
<rect x="139.18" y="43.00" width="3.88" height="1.05" fill="#f3f3fc"/>
<rect x="143.01" y="43.00" width="3.88" height="1.05" fill="#fefcfc"/>
<rect x="146.84" y="43.00" width="3.88" height="1.05" fill="#e0e0f8"/>
<rect x="39.60" y="44.00" width="3.88" height="1.05" fill="#fcfcfe"/>
<rect x="43.43" y="44.00" width="3.88" height="1.05" fill="#f7d7d4"/>
<rect x="47.26" y="44.00" width="3.88" height="1.05" fill="#f5cbc8"/>
<rect x="51.09" y="44.00" width="3.88" height="1.05" fill="#f5c9c5"/>
<rect x="54.92" y="44.00" width="3.88" height="1.05" fill="#f6cecb"/>
<rect x="58.75" y="44.00" width="3.88" height="1.05" fill="#f9dfdc"/>
<rect x="62.58" y="44.00" width="3.88" height="1.05" fill="#fdf3f2"/>
<rect x="66.41" y="44.00" width="3.88" height="1.05" fill="#ec9c95"/>
<rect x="70.24" y="44.00" width="3.88" height="1.05" fill="#eea7a1"/>
<rect x="74.07" y="44.00" width="3.88" height="1.05" fill="#aaaaeb"/>
<rect x="77.90" y="44.00" width="3.88" height="1.05" fill="#fefeff"/>
<rect x="81.73" y="44.00" width="3.88" height="1.05" fill="#fdfdff"/>
<rect x="85.56" y="44.00" width="3.88" height="1.05" fill="#eaeafa"/>
<rect x="89.39" y="44.00" width="3.88" height="1.05" fill="#f3f3fc"/>
<rect x="93.22" y="44.00" width="3.88" height="1.05" fill="#ededfb"/>
<rect x="97.05" y="44.00" width="3.88" height="1.05" fill="#f7f7fd"/>
<rect x="100.88" y="44.00" width="3.88" height="1.05" fill="#d4d4f5"/>
<rect x="104.71" y="44.00" width="3.88" height="1.05" fill="#fefafa"/>
<rect x="108.54" y="44.00" width="3.88" height="1.05" fill="#fcfcfe"/>
<rect x="112.37" y="44.00" width="3.88" height="1.05" fill="#ffffff"/>
<rect x="116.20" y="44.00" width="3.88" height="1.05" fill="#d1d1f4"/>
<rect x="120.03" y="44.00" width="3.88" height="1.05" fill="#ccccf3"/>
<rect x="123.86" y="44.00" width="3.88" height="1.05" fill="#dcdcf7"/>
<rect x="127.69" y="44.00" width="3.88" height="1.05" fill="#f0f0fb"/>
<rect x="131.52" y="44.00" width="3.88" height="1.05" fill="#f3f3fc"/>
<rect x="135.35" y="44.00" width="3.88" height="1.05" fill="#e8e8fa"/>
<rect x="139.18" y="44.00" width="3.88" height="1.05" fill="#f5f5fd"/>
<rect x="143.01" y="44.00" width="3.88" height="1.05" fill="#fafafe"/>
<rect x="146.84" y="44.00" width="3.88" height="1.05" fill="#eeeefb"/>
<rect x="39.60" y="45.00" width="3.88" height="1.05" fill="#fae7e5"/>
<rect x="43.43" y="45.00" width="3.88" height="1.05" fill="#f9e2e0"/>
<rect x="47.26" y="45.00" width="3.88" height="1.05" fill="#f1b3ae"/>
<rect x="51.09" y="45.00" width="3.88" height="1.05" fill="#f6cfcc"/>
<rect x="54.92" y="45.00" width="3.88" height="1.05" fill="#fae3e1"/>
<rect x="58.75" y="45.00" width="3.88" height="1.05" fill="#fcedec"/>
<rect x="62.58" y="45.00" width="3.88" height="1.05" fill="#fefcfc"/>
<rect x="66.41" y="45.00" width="3.88" height="1.05" fill="#e98b82"/>
<rect x="70.24" y="45.00" width="3.88" height="1.05" fill="#eea59f"/>
<rect x="74.07" y="45.00" width="3.88" height="1.05" fill="#aaaaeb"/>
<rect x="77.90" y="45.00" width="3.88" height="1.05" fill="#e6e6f9"/>
<rect x="81.73" y="45.00" width="3.88" height="1.05" fill="#e8e8f9"/>
<rect x="85.56" y="45.00" width="3.88" height="1.05" fill="#dfdff7"/>
<rect x="89.39" y="45.00" width="3.88" height="1.05" fill="#e9e9fa"/>
<rect x="93.22" y="45.00" width="3.88" height="1.05" fill="#dbdbf7"/>
<rect x="97.05" y="45.00" width="3.88" height="1.05" fill="#e8e8fa"/>
<rect x="100.88" y="45.00" width="3.88" height="1.05" fill="#ececfa"/>
<rect x="104.71" y="45.00" width="3.88" height="1.05" fill="#ededfb"/>
<rect x="108.54" y="45.00" width="3.88" height="1.05" fill="#fbfbfe"/>
<rect x="112.37" y="45.00" width="3.88" height="1.05" fill="#f5f5fd"/>
<rect x="116.20" y="45.00" width="3.88" height="1.05" fill="#d3d3f5"/>
<rect x="120.03" y="45.00" width="3.88" height="1.05" fill="#bfbff0"/>
<rect x="123.86" y="45.00" width="3.88" height="1.05" fill="#e0e0f8"/>
<rect x="127.69" y="45.00" width="3.88" height="1.05" fill="#dbdbf6"/>
<rect x="131.52" y="45.00" width="3.88" height="1.05" fill="#e8e8f9"/>
<rect x="135.35" y="45.00" width="3.88" height="1.05" fill="#e4e4f9"/>
<rect x="139.18" y="45.00" width="3.88" height="1.05" fill="#e2e2f8"/>
<rect x="143.01" y="45.00" width="3.88" height="1.05" fill="#fafafe"/>
<rect x="146.84" y="45.00" width="3.88" height="1.05" fill="#e5e5f9"/>
<rect x="39.60" y="46.00" width="3.88" height="1.05" fill="#fcefee"/>
<rect x="43.43" y="46.00" width="3.88" height="1.05" fill="#f5cdc9"/>
<rect x="47.26" y="46.00" width="3.88" height="1.05" fill="#f2bbb7"/>
<rect x="51.09" y="46.00" width="3.88" height="1.05" fill="#fcf0ef"/>
<rect x="54.92" y="46.00" width="3.88" height="1.05" fill="#f7d5d2"/>
<rect x="58.75" y="46.00" width="3.88" height="1.05" fill="#f5ccc9"/>
<rect x="62.58" y="46.00" width="3.88" height="1.05" fill="#fae4e2"/>
<rect x="66.41" y="46.00" width="3.88" height="1.05" fill="#eb968f"/>
<rect x="70.24" y="46.00" width="3.88" height="1.05" fill="#e98b83"/>
<rect x="74.07" y="46.00" width="3.88" height="1.05" fill="#afafec"/>
<rect x="77.90" y="46.00" width="3.88" height="1.05" fill="#f1f1fc"/>
<rect x="81.73" y="46.00" width="3.88" height="1.05" fill="#eeeefb"/>
<rect x="85.56" y="46.00" width="3.88" height="1.05" fill="#efeffb"/>
<rect x="89.39" y="46.00" width="3.88" height="1.05" fill="#ededfb"/>
<rect x="93.22" y="46.00" width="3.88" height="1.05" fill="#e9e9fa"/>
<rect x="97.05" y="46.00" width="3.88" height="1.05" fill="#f5f5fd"/>
<rect x="100.88" y="46.00" width="3.88" height="1.05" fill="#f5f5fd"/>
<rect x="104.71" y="46.00" width="3.88" height="1.05" fill="#dfdff7"/>
<rect x="108.54" y="46.00" width="3.88" height="1.05" fill="#f6f6fd"/>
<rect x="112.37" y="46.00" width="3.88" height="1.05" fill="#fefbfb"/>
<rect x="116.20" y="46.00" width="3.88" height="1.05" fill="#c9c9f2"/>
<rect x="120.03" y="46.00" width="3.88" height="1.05" fill="#c2c2f1"/>
<rect x="123.86" y="46.00" width="3.88" height="1.05" fill="#d1d1f4"/>
<rect x="127.69" y="46.00" width="3.88" height="1.05" fill="#d7d7f6"/>
<rect x="131.52" y="46.00" width="3.88" height="1.05" fill="#e5e5f9"/>
<rect x="135.35" y="46.00" width="3.88" height="1.05" fill="#fffdfd"/>
<rect x="139.18" y="46.00" width="3.88" height="1.05" fill="#f1f1fc"/>
<rect x="143.01" y="46.00" width="3.88" height="1.05" fill="#fefcfc"/>
<rect x="146.84" y="46.00" width="3.88" height="1.05" fill="#ddddf7"/>
<rect x="39.60" y="47.00" width="3.88" height="1.05" fill="#fffefe"/>
<rect x="43.43" y="47.00" width="3.88" height="1.05" fill="#f6d2ce"/>
<rect x="47.26" y="47.00" width="3.88" height="1.05" fill="#f2bcb7"/>
<rect x="51.09" y="47.00" width="3.88" height="1.05" fill="#fcf0ef"/>
<rect x="54.92" y="47.00" width="3.88" height="1.05" fill="#f6d1ce"/>
<rect x="58.75" y="47.00" width="3.88" height="1.05" fill="#f6cdca"/>
<rect x="62.58" y="47.00" width="3.88" height="1.05" fill="#fcf2f1"/>
<rect x="66.41" y="47.00" width="3.88" height="1.05" fill="#ea938c"/>
<rect x="70.24" y="47.00" width="3.88" height="1.05" fill="#ea8e86"/>
<rect x="74.07" y="47.00" width="3.88" height="1.05" fill="#c3c3f1"/>
<rect x="77.90" y="47.00" width="3.88" height="1.05" fill="#ebebfa"/>
<rect x="81.73" y="47.00" width="3.88" height="1.05" fill="#f0f0fb"/>
<rect x="85.56" y="47.00" width="3.88" height="1.05" fill="#e1e1f8"/>
<rect x="89.39" y="47.00" width="3.88" height="1.05" fill="#e8e8f9"/>
<rect x="93.22" y="47.00" width="3.88" height="1.05" fill="#e8e8f9"/>
<rect x="97.05" y="47.00" width="3.88" height="1.05" fill="#d7d7f6"/>
<rect x="100.88" y="47.00" width="3.88" height="1.05" fill="#f5f5fd"/>
<rect x="104.71" y="47.00" width="3.88" height="1.05" fill="#f0f0fb"/>
<rect x="108.54" y="47.00" width="3.88" height="1.05" fill="#ececfb"/>
<rect x="112.37" y="47.00" width="3.88" height="1.05" fill="#fefafa"/>
<rect x="116.20" y="47.00" width="3.88" height="1.05" fill="#d0d0f4"/>
<rect x="120.03" y="47.00" width="3.88" height="1.05" fill="#d5d5f5"/>
<rect x="123.86" y="47.00" width="3.88" height="1.05" fill="#d4d4f5"/>
<rect x="127.69" y="47.00" width="3.88" height="1.05" fill="#c5c5f1"/>
<rect x="131.52" y="47.00" width="3.88" height="1.05" fill="#e6e6f9"/>
<rect x="135.35" y="47.00" width="3.88" height="1.05" fill="#f6f6fd"/>
<rect x="139.18" y="47.00" width="3.88" height="1.05" fill="#e3e3f8"/>
<rect x="143.01" y="47.00" width="3.88" height="1.05" fill="#fbebea"/>
<rect x="146.84" y="47.00" width="3.88" height="1.05" fill="#dbdbf6"/>
<rect x="39.60" y="48.00" width="3.88" height="1.05" fill="#fbecea"/>
<rect x="43.43" y="48.00" width="3.88" height="1.05" fill="#f5cac6"/>
<rect x="47.26" y="48.00" width="3.88" height="1.05" fill="#f2bab5"/>
<rect x="51.09" y="48.00" width="3.88" height="1.05" fill="#f3c2bd"/>
<rect x="54.92" y="48.00" width="3.88" height="1.05" fill="#f0afaa"/>
<rect x="58.75" y="48.00" width="3.88" height="1.05" fill="#f9dddb"/>
<rect x="62.58" y="48.00" width="3.88" height="1.05" fill="#fae6e4"/>
<rect x="66.41" y="48.00" width="3.88" height="1.05" fill="#e88880"/>
<rect x="70.24" y="48.00" width="3.88" height="1.05" fill="#e8857d"/>
<rect x="74.07" y="48.00" width="3.88" height="1.05" fill="#babaef"/>
<rect x="77.90" y="48.00" width="3.88" height="1.05" fill="#dfdff7"/>
<rect x="81.73" y="48.00" width="3.88" height="1.05" fill="#dcdcf7"/>
<rect x="85.56" y="48.00" width="3.88" height="1.05" fill="#eaeafa"/>
<rect x="89.39" y="48.00" width="3.88" height="1.05" fill="#e5e5f9"/>
<rect x="93.22" y="48.00" width="3.88" height="1.05" fill="#d8d8f6"/>
<rect x="97.05" y="48.00" width="3.88" height="1.05" fill="#dbdbf7"/>
<rect x="100.88" y="48.00" width="3.88" height="1.05" fill="#e2e2f8"/>
<rect x="104.71" y="48.00" width="3.88" height="1.05" fill="#ececfb"/>
<rect x="108.54" y="48.00" width="3.88" height="1.05" fill="#fdfdfe"/>
<rect x="112.37" y="48.00" width="3.88" height="1.05" fill="#f5f5fd"/>
<rect x="116.20" y="48.00" width="3.88" height="1.05" fill="#b2b2ed"/>
<rect x="120.03" y="48.00" width="3.88" height="1.05" fill="#cfcff3"/>
<rect x="123.86" y="48.00" width="3.88" height="1.05" fill="#bdbdef"/>
<rect x="127.69" y="48.00" width="3.88" height="1.05" fill="#d1d1f4"/>
<rect x="131.52" y="48.00" width="3.88" height="1.05" fill="#d9d9f6"/>
<rect x="135.35" y="48.00" width="3.88" height="1.05" fill="#e1e1f8"/>
<rect x="139.18" y="48.00" width="3.88" height="1.05" fill="#e0e0f8"/>
<rect x="143.01" y="48.00" width="3.88" height="1.05" fill="#f7d7d4"/>
<rect x="146.84" y="48.00" width="3.88" height="1.05" fill="#dedef7"/>
<rect x="39.60" y="49.00" width="3.88" height="1.05" fill="#ffffff"/>
<rect x="43.43" y="49.00" width="3.88" height="1.05" fill="#fae5e3"/>
<rect x="47.26" y="49.00" width="3.88" height="1.05" fill="#f5c9c5"/>
<rect x="51.09" y="49.00" width="3.88" height="1.05" fill="#f6cfcc"/>
<rect x="54.92" y="49.00" width="3.88" height="1.05" fill="#f4c6c2"/>
<rect x="58.75" y="49.00" width="3.88" height="1.05" fill="#fcefee"/>
<rect x="62.58" y="49.00" width="3.88" height="1.05" fill="#f9f9fe"/>
<rect x="66.41" y="49.00" width="3.88" height="1.05" fill="#ec9b93"/>
<rect x="70.24" y="49.00" width="3.88" height="1.05" fill="#eea49e"/>
<rect x="74.07" y="49.00" width="3.88" height="1.05" fill="#b6b6ee"/>
<rect x="77.90" y="49.00" width="3.88" height="1.05" fill="#f6f6fd"/>
<rect x="81.73" y="49.00" width="3.88" height="1.05" fill="#ececfa"/>
<rect x="85.56" y="49.00" width="3.88" height="1.05" fill="#e9e9fa"/>
<rect x="89.39" y="49.00" width="3.88" height="1.05" fill="#f3f3fc"/>
<rect x="93.22" y="49.00" width="3.88" height="1.05" fill="#e0e0f8"/>
<rect x="97.05" y="49.00" width="3.88" height="1.05" fill="#e8e8f9"/>
<rect x="100.88" y="49.00" width="3.88" height="1.05" fill="#eeeefb"/>
<rect x="104.71" y="49.00" width="3.88" height="1.05" fill="#f6f6fd"/>
<rect x="108.54" y="49.00" width="3.88" height="1.05" fill="#fffdfc"/>
<rect x="112.37" y="49.00" width="3.88" height="1.05" fill="#f6f6fd"/>
<rect x="116.20" y="49.00" width="3.88" height="1.05" fill="#c1c1f0"/>
<rect x="120.03" y="49.00" width="3.88" height="1.05" fill="#c6c6f1"/>
<rect x="123.86" y="49.00" width="3.88" height="1.05" fill="#e6e6f9"/>
<rect x="127.69" y="49.00" width="3.88" height="1.05" fill="#e8e8f9"/>
<rect x="131.52" y="49.00" width="3.88" height="1.05" fill="#fefafa"/>
<rect x="135.35" y="49.00" width="3.88" height="1.05" fill="#e8e8fa"/>
<rect x="139.18" y="49.00" width="3.88" height="1.05" fill="#eeeefb"/>
<rect x="143.01" y="49.00" width="3.88" height="1.05" fill="#fbe9e7"/>
<rect x="146.84" y="49.00" width="3.88" height="1.05" fill="#f8f8fd"/>
<rect x="39.60" y="50.00" width="3.88" height="1.05" fill="#f9dedb"/>
<rect x="43.43" y="50.00" width="3.88" height="1.05" fill="#f4c4c0"/>
<rect x="47.26" y="50.00" width="3.88" height="1.05" fill="#f2b9b4"/>
<rect x="51.09" y="50.00" width="3.88" height="1.05" fill="#f0b0ab"/>
<rect x="54.92" y="50.00" width="3.88" height="1.05" fill="#f0afaa"/>
<rect x="58.75" y="50.00" width="3.88" height="1.05" fill="#f6d1ce"/>
<rect x="62.58" y="50.00" width="3.88" height="1.05" fill="#f8dbd8"/>
<rect x="66.41" y="50.00" width="3.88" height="1.05" fill="#e8857c"/>
<rect x="70.24" y="50.00" width="3.88" height="1.05" fill="#eda19a"/>
<rect x="74.07" y="50.00" width="3.88" height="1.05" fill="#b3b3ed"/>
<rect x="77.90" y="50.00" width="3.88" height="1.05" fill="#d2d2f4"/>
<rect x="81.73" y="50.00" width="3.88" height="1.05" fill="#bdbdef"/>
<rect x="85.56" y="50.00" width="3.88" height="1.05" fill="#efeffb"/>
<rect x="89.39" y="50.00" width="3.88" height="1.05" fill="#d9d9f6"/>
<rect x="93.22" y="50.00" width="3.88" height="1.05" fill="#eaeafa"/>
<rect x="97.05" y="50.00" width="3.88" height="1.05" fill="#dfdff7"/>
<rect x="100.88" y="50.00" width="3.88" height="1.05" fill="#e7e7f9"/>
<rect x="104.71" y="50.00" width="3.88" height="1.05" fill="#d3d3f5"/>
<rect x="108.54" y="50.00" width="3.88" height="1.05" fill="#fbfbfe"/>
<rect x="112.37" y="50.00" width="3.88" height="1.05" fill="#f1f1fc"/>
<rect x="116.20" y="50.00" width="3.88" height="1.05" fill="#bcbcef"/>
<rect x="120.03" y="50.00" width="3.88" height="1.05" fill="#b5b5ed"/>
<rect x="123.86" y="50.00" width="3.88" height="1.05" fill="#bfbff0"/>
<rect x="127.69" y="50.00" width="3.88" height="1.05" fill="#dedef7"/>
<rect x="131.52" y="50.00" width="3.88" height="1.05" fill="#e1e1f8"/>
<rect x="135.35" y="50.00" width="3.88" height="1.05" fill="#d9d9f6"/>
<rect x="139.18" y="50.00" width="3.88" height="1.05" fill="#ccccf3"/>
<rect x="143.01" y="50.00" width="3.88" height="1.05" fill="#f7d6d3"/>
<rect x="146.84" y="50.00" width="3.88" height="1.05" fill="#ededfb"/>
<rect x="39.60" y="51.00" width="3.88" height="1.05" fill="#f9e1de"/>
<rect x="43.43" y="51.00" width="3.88" height="1.05" fill="#f8dcd9"/>
<rect x="47.26" y="51.00" width="3.88" height="1.05" fill="#f1b6b0"/>
<rect x="51.09" y="51.00" width="3.88" height="1.05" fill="#f3bfba"/>
<rect x="54.92" y="51.00" width="3.88" height="1.05" fill="#f5ccc8"/>
<rect x="58.75" y="51.00" width="3.88" height="1.05" fill="#fbe8e6"/>
<rect x="62.58" y="51.00" width="3.88" height="1.05" fill="#fbeae8"/>
<rect x="66.41" y="51.00" width="3.88" height="1.05" fill="#eea39d"/>
<rect x="70.24" y="51.00" width="3.88" height="1.05" fill="#ea928a"/>
<rect x="74.07" y="51.00" width="3.88" height="1.05" fill="#cfcff4"/>
<rect x="77.90" y="51.00" width="3.88" height="1.05" fill="#dedef7"/>
<rect x="81.73" y="51.00" width="3.88" height="1.05" fill="#d8d8f6"/>
<rect x="85.56" y="51.00" width="3.88" height="1.05" fill="#e7e7f9"/>
<rect x="89.39" y="51.00" width="3.88" height="1.05" fill="#dadaf6"/>
<rect x="93.22" y="51.00" width="3.88" height="1.05" fill="#fef9f9"/>
<rect x="97.05" y="51.00" width="3.88" height="1.05" fill="#e8e8fa"/>
<rect x="100.88" y="51.00" width="3.88" height="1.05" fill="#e5e5f9"/>
<rect x="104.71" y="51.00" width="3.88" height="1.05" fill="#ebebfa"/>
<rect x="108.54" y="51.00" width="3.88" height="1.05" fill="#fefeff"/>
<rect x="112.37" y="51.00" width="3.88" height="1.05" fill="#fefbfb"/>
<rect x="116.20" y="51.00" width="3.88" height="1.05" fill="#cecef3"/>
<rect x="120.03" y="51.00" width="3.88" height="1.05" fill="#d1d1f4"/>
<rect x="123.86" y="51.00" width="3.88" height="1.05" fill="#bdbdef"/>
<rect x="127.69" y="51.00" width="3.88" height="1.05" fill="#e4e4f9"/>
<rect x="131.52" y="51.00" width="3.88" height="1.05" fill="#ddddf7"/>
<rect x="135.35" y="51.00" width="3.88" height="1.05" fill="#f4f4fc"/>
<rect x="139.18" y="51.00" width="3.88" height="1.05" fill="#e5e5f9"/>
<rect x="143.01" y="51.00" width="3.88" height="1.05" fill="#fefeff"/>
<rect x="146.84" y="51.00" width="3.88" height="1.05" fill="#fef9f8"/>
<rect x="39.60" y="52.00" width="3.88" height="1.05" fill="#fceeed"/>
<rect x="43.43" y="52.00" width="3.88" height="1.05" fill="#f5cdc9"/>
<rect x="47.26" y="52.00" width="3.88" height="1.05" fill="#f3bfba"/>
<rect x="51.09" y="52.00" width="3.88" height="1.05" fill="#f7d4d1"/>
<rect x="54.92" y="52.00" width="3.88" height="1.05" fill="#f6cecb"/>
<rect x="58.75" y="52.00" width="3.88" height="1.05" fill="#ededfb"/>
<rect x="62.58" y="52.00" width="3.88" height="1.05" fill="#fae3e1"/>
<rect x="66.41" y="52.00" width="3.88" height="1.05" fill="#ea9089"/>
<rect x="70.24" y="52.00" width="3.88" height="1.05" fill="#f1b4ae"/>
<rect x="74.07" y="52.00" width="3.88" height="1.05" fill="#b5b5ed"/>
<rect x="77.90" y="52.00" width="3.88" height="1.05" fill="#dbdbf6"/>
<rect x="81.73" y="52.00" width="3.88" height="1.05" fill="#d0d0f4"/>
<rect x="85.56" y="52.00" width="3.88" height="1.05" fill="#e5e5f9"/>
<rect x="89.39" y="52.00" width="3.88" height="1.05" fill="#eeeefb"/>
<rect x="93.22" y="52.00" width="3.88" height="1.05" fill="#cfcff4"/>
<rect x="97.05" y="52.00" width="3.88" height="1.05" fill="#e5e5f9"/>
<rect x="100.88" y="52.00" width="3.88" height="1.05" fill="#d8d8f6"/>
<rect x="104.71" y="52.00" width="3.88" height="1.05" fill="#f4f4fc"/>
<rect x="108.54" y="52.00" width="3.88" height="1.05" fill="#f8f8fd"/>
<rect x="112.37" y="52.00" width="3.88" height="1.05" fill="#e8e8fa"/>
<rect x="116.20" y="52.00" width="3.88" height="1.05" fill="#cfcff4"/>
<rect x="120.03" y="52.00" width="3.88" height="1.05" fill="#c1c1f0"/>
<rect x="123.86" y="52.00" width="3.88" height="1.05" fill="#cacaf2"/>
<rect x="127.69" y="52.00" width="3.88" height="1.05" fill="#fcfcfe"/>
<rect x="131.52" y="52.00" width="3.88" height="1.05" fill="#dadaf6"/>
<rect x="135.35" y="52.00" width="3.88" height="1.05" fill="#f1f1fc"/>
<rect x="139.18" y="52.00" width="3.88" height="1.05" fill="#eaeafa"/>
<rect x="143.01" y="52.00" width="3.88" height="1.05" fill="#fefcfc"/>
<rect x="146.84" y="52.00" width="3.88" height="1.05" fill="#e5e5f9"/>
<rect x="39.60" y="53.00" width="3.88" height="1.05" fill="#fffdfd"/>
<rect x="43.43" y="53.00" width="3.88" height="1.05" fill="#f5cac6"/>
<rect x="47.26" y="53.00" width="3.88" height="1.05" fill="#f4c5c1"/>
<rect x="51.09" y="53.00" width="3.88" height="1.05" fill="#f7d4d1"/>
<rect x="54.92" y="53.00" width="3.88" height="1.05" fill="#f4c5c0"/>
<rect x="58.75" y="53.00" width="3.88" height="1.05" fill="#fdf5f4"/>
<rect x="62.58" y="53.00" width="3.88" height="1.05" fill="#fafafe"/>
<rect x="66.41" y="53.00" width="3.88" height="1.05" fill="#ec9a93"/>
<rect x="70.24" y="53.00" width="3.88" height="1.05" fill="#eda19b"/>
<rect x="74.07" y="53.00" width="3.88" height="1.05" fill="#c3c3f1"/>
<rect x="77.90" y="53.00" width="3.88" height="1.05" fill="#f3f3fc"/>
<rect x="81.73" y="53.00" width="3.88" height="1.05" fill="#eaeafa"/>
<rect x="85.56" y="53.00" width="3.88" height="1.05" fill="#e3e3f8"/>
<rect x="89.39" y="53.00" width="3.88" height="1.05" fill="#d8d8f6"/>
<rect x="93.22" y="53.00" width="3.88" height="1.05" fill="#f6f6fd"/>
<rect x="97.05" y="53.00" width="3.88" height="1.05" fill="#e3e3f8"/>
<rect x="100.88" y="53.00" width="3.88" height="1.05" fill="#d0d0f4"/>
<rect x="104.71" y="53.00" width="3.88" height="1.05" fill="#ededfb"/>
<rect x="108.54" y="53.00" width="3.88" height="1.05" fill="#f0f0fb"/>
<rect x="112.37" y="53.00" width="3.88" height="1.05" fill="#ffffff"/>
<rect x="116.20" y="53.00" width="3.88" height="1.05" fill="#d2d2f4"/>
<rect x="120.03" y="53.00" width="3.88" height="1.05" fill="#dadaf6"/>
<rect x="123.86" y="53.00" width="3.88" height="1.05" fill="#cfcff4"/>
<rect x="127.69" y="53.00" width="3.88" height="1.05" fill="#e5e5f9"/>
<rect x="131.52" y="53.00" width="3.88" height="1.05" fill="#e9e9fa"/>
<rect x="135.35" y="53.00" width="3.88" height="1.05" fill="#ececfb"/>
<rect x="139.18" y="53.00" width="3.88" height="1.05" fill="#e7e7f9"/>
<rect x="143.01" y="53.00" width="3.88" height="1.05" fill="#fdfdfe"/>
<rect x="146.84" y="53.00" width="3.88" height="1.05" fill="#f4f4fc"/>
<rect x="39.60" y="54.00" width="3.88" height="1.05" fill="#fbeae9"/>
<rect x="43.43" y="54.00" width="3.88" height="1.05" fill="#f8dbd8"/>
<rect x="47.26" y="54.00" width="3.88" height="1.05" fill="#f5c9c5"/>
<rect x="51.09" y="54.00" width="3.88" height="1.05" fill="#f2bdb8"/>
<rect x="54.92" y="54.00" width="3.88" height="1.05" fill="#f6ceca"/>
<rect x="58.75" y="54.00" width="3.88" height="1.05" fill="#f9e1df"/>
<rect x="62.58" y="54.00" width="3.88" height="1.05" fill="#fbedeb"/>
<rect x="66.41" y="54.00" width="3.88" height="1.05" fill="#e8867d"/>
<rect x="70.24" y="54.00" width="3.88" height="1.05" fill="#f0b2ad"/>
<rect x="74.07" y="54.00" width="3.88" height="1.05" fill="#a0a0e8"/>
<rect x="77.90" y="54.00" width="3.88" height="1.05" fill="#f2f2fc"/>
<rect x="81.73" y="54.00" width="3.88" height="1.05" fill="#f0f0fb"/>
<rect x="85.56" y="54.00" width="3.88" height="1.05" fill="#fdf6f5"/>
<rect x="89.39" y="54.00" width="3.88" height="1.05" fill="#c4c4f1"/>
<rect x="93.22" y="54.00" width="3.88" height="1.05" fill="#ececfb"/>
<rect x="97.05" y="54.00" width="3.88" height="1.05" fill="#e9e9fa"/>
<rect x="100.88" y="54.00" width="3.88" height="1.05" fill="#d5d5f5"/>
<rect x="104.71" y="54.00" width="3.88" height="1.05" fill="#eeeefb"/>
<rect x="108.54" y="54.00" width="3.88" height="1.05" fill="#fdf6f6"/>
<rect x="112.37" y="54.00" width="3.88" height="1.05" fill="#fbe8e7"/>
<rect x="116.20" y="54.00" width="3.88" height="1.05" fill="#c0c0f0"/>
<rect x="120.03" y="54.00" width="3.88" height="1.05" fill="#c8c8f2"/>
<rect x="123.86" y="54.00" width="3.88" height="1.05" fill="#c6c6f1"/>
<rect x="127.69" y="54.00" width="3.88" height="1.05" fill="#f7f7fd"/>
<rect x="131.52" y="54.00" width="3.88" height="1.05" fill="#e3e3f8"/>
<rect x="135.35" y="54.00" width="3.88" height="1.05" fill="#ececfb"/>
<rect x="139.18" y="54.00" width="3.88" height="1.05" fill="#eeeefb"/>
<rect x="143.01" y="54.00" width="3.88" height="1.05" fill="#e7e7f9"/>
<rect x="146.84" y="54.00" width="3.88" height="1.05" fill="#f4f4fc"/>
<rect x="39.60" y="55.00" width="3.88" height="1.05" fill="#f6cfcc"/>
<rect x="43.43" y="55.00" width="3.88" height="1.05" fill="#efaaa4"/>
<rect x="47.26" y="55.00" width="3.88" height="1.05" fill="#efada7"/>
<rect x="51.09" y="55.00" width="3.88" height="1.05" fill="#f0b2ac"/>
<rect x="54.92" y="55.00" width="3.88" height="1.05" fill="#f4c5c1"/>
<rect x="58.75" y="55.00" width="3.88" height="1.05" fill="#f6d2cf"/>
<rect x="62.58" y="55.00" width="3.88" height="1.05" fill="#f7d3d0"/>
<rect x="66.41" y="55.00" width="3.88" height="1.05" fill="#e98b83"/>
<rect x="70.24" y="55.00" width="3.88" height="1.05" fill="#eb9891"/>
<rect x="74.07" y="55.00" width="3.88" height="1.05" fill="#b0b0ec"/>
<rect x="77.90" y="55.00" width="3.88" height="1.05" fill="#dbdbf7"/>
<rect x="81.73" y="55.00" width="3.88" height="1.05" fill="#d8d8f6"/>
<rect x="85.56" y="55.00" width="3.88" height="1.05" fill="#ececfa"/>
<rect x="89.39" y="55.00" width="3.88" height="1.05" fill="#c2c2f1"/>
<rect x="93.22" y="55.00" width="3.88" height="1.05" fill="#e1e1f8"/>
<rect x="97.05" y="55.00" width="3.88" height="1.05" fill="#dedef7"/>
<rect x="100.88" y="55.00" width="3.88" height="1.05" fill="#d0d0f4"/>
<rect x="104.71" y="55.00" width="3.88" height="1.05" fill="#dfdff7"/>
<rect x="108.54" y="55.00" width="3.88" height="1.05" fill="#f1f1fc"/>
<rect x="112.37" y="55.00" width="3.88" height="1.05" fill="#e6e6f9"/>
<rect x="116.20" y="55.00" width="3.88" height="1.05" fill="#cbcbf3"/>
<rect x="120.03" y="55.00" width="3.88" height="1.05" fill="#c1c1f0"/>
<rect x="123.86" y="55.00" width="3.88" height="1.05" fill="#cecef3"/>
<rect x="127.69" y="55.00" width="3.88" height="1.05" fill="#f0f0fb"/>
<rect x="131.52" y="55.00" width="3.88" height="1.05" fill="#e7e7f9"/>
<rect x="135.35" y="55.00" width="3.88" height="1.05" fill="#d4d4f5"/>
<rect x="139.18" y="55.00" width="3.88" height="1.05" fill="#dfdff7"/>
<rect x="143.01" y="55.00" width="3.88" height="1.05" fill="#f5f5fd"/>
<rect x="146.84" y="55.00" width="3.88" height="1.05" fill="#f0f0fb"/>
<rect x="39.60" y="56.00" width="3.88" height="1.05" fill="#fbe9e7"/>
<rect x="43.43" y="56.00" width="3.88" height="1.05" fill="#f2b9b4"/>
<rect x="47.26" y="56.00" width="3.88" height="1.05" fill="#f6d0cc"/>
<rect x="51.09" y="56.00" width="3.88" height="1.05" fill="#f1b7b1"/>
<rect x="54.92" y="56.00" width="3.88" height="1.05" fill="#f5cbc7"/>
<rect x="58.75" y="56.00" width="3.88" height="1.05" fill="#f8dcd9"/>
<rect x="62.58" y="56.00" width="3.88" height="1.05" fill="#fae4e3"/>
<rect x="66.41" y="56.00" width="3.88" height="1.05" fill="#e7837b"/>
<rect x="70.24" y="56.00" width="3.88" height="1.05" fill="#ec9d96"/>
<rect x="74.07" y="56.00" width="3.88" height="1.05" fill="#b3b3ed"/>
<rect x="77.90" y="56.00" width="3.88" height="1.05" fill="#ededfb"/>
<rect x="81.73" y="56.00" width="3.88" height="1.05" fill="#dfdff7"/>
<rect x="85.56" y="56.00" width="3.88" height="1.05" fill="#e9e9fa"/>
<rect x="89.39" y="56.00" width="3.88" height="1.05" fill="#dcdcf7"/>
<rect x="93.22" y="56.00" width="3.88" height="1.05" fill="#ececfb"/>
<rect x="97.05" y="56.00" width="3.88" height="1.05" fill="#dedef7"/>
<rect x="100.88" y="56.00" width="3.88" height="1.05" fill="#e6e6f9"/>
<rect x="104.71" y="56.00" width="3.88" height="1.05" fill="#e6e6f9"/>
<rect x="108.54" y="56.00" width="3.88" height="1.05" fill="#ededfb"/>
<rect x="112.37" y="56.00" width="3.88" height="1.05" fill="#f5f5fd"/>
<rect x="116.20" y="56.00" width="3.88" height="1.05" fill="#d1d1f4"/>
<rect x="120.03" y="56.00" width="3.88" height="1.05" fill="#cbcbf3"/>
<rect x="123.86" y="56.00" width="3.88" height="1.05" fill="#c7c7f2"/>
<rect x="127.69" y="56.00" width="3.88" height="1.05" fill="#dfdff7"/>
<rect x="131.52" y="56.00" width="3.88" height="1.05" fill="#e0e0f8"/>
<rect x="135.35" y="56.00" width="3.88" height="1.05" fill="#e5e5f9"/>
<rect x="139.18" y="56.00" width="3.88" height="1.05" fill="#e2e2f8"/>
<rect x="143.01" y="56.00" width="3.88" height="1.05" fill="#fafafe"/>
<rect x="146.84" y="56.00" width="3.88" height="1.05" fill="#f9f9fe"/>
<rect x="39.60" y="57.00" width="3.88" height="1.05" fill="#f9dddb"/>
<rect x="43.43" y="57.00" width="3.88" height="1.05" fill="#ec9991"/>
<rect x="47.26" y="57.00" width="3.88" height="1.05" fill="#f6d1cd"/>
<rect x="51.09" y="57.00" width="3.88" height="1.05" fill="#f2b8b3"/>
<rect x="54.92" y="57.00" width="3.88" height="1.05" fill="#f1b5b0"/>
<rect x="58.75" y="57.00" width="3.88" height="1.05" fill="#f3beba"/>
<rect x="62.58" y="57.00" width="3.88" height="1.05" fill="#fbeceb"/>
<rect x="66.41" y="57.00" width="3.88" height="1.05" fill="#ea8f87"/>
<rect x="70.24" y="57.00" width="3.88" height="1.05" fill="#eb9790"/>
<rect x="74.07" y="57.00" width="3.88" height="1.05" fill="#b4b4ed"/>
<rect x="77.90" y="57.00" width="3.88" height="1.05" fill="#dbdbf6"/>
<rect x="81.73" y="57.00" width="3.88" height="1.05" fill="#eaeafa"/>
<rect x="85.56" y="57.00" width="3.88" height="1.05" fill="#d8d8f6"/>
<rect x="89.39" y="57.00" width="3.88" height="1.05" fill="#e1e1f8"/>
<rect x="93.22" y="57.00" width="3.88" height="1.05" fill="#dadaf6"/>
<rect x="97.05" y="57.00" width="3.88" height="1.05" fill="#e0e0f8"/>
<rect x="100.88" y="57.00" width="3.88" height="1.05" fill="#cfcff4"/>
<rect x="104.71" y="57.00" width="3.88" height="1.05" fill="#d0d0f4"/>
<rect x="108.54" y="57.00" width="3.88" height="1.05" fill="#fefeff"/>
<rect x="112.37" y="57.00" width="3.88" height="1.05" fill="#f7f7fd"/>
<rect x="116.20" y="57.00" width="3.88" height="1.05" fill="#c3c3f1"/>
<rect x="120.03" y="57.00" width="3.88" height="1.05" fill="#cacaf2"/>
<rect x="123.86" y="57.00" width="3.88" height="1.05" fill="#ddddf7"/>
<rect x="127.69" y="57.00" width="3.88" height="1.05" fill="#c8c8f2"/>
<rect x="131.52" y="57.00" width="3.88" height="1.05" fill="#d0d0f4"/>
<rect x="135.35" y="57.00" width="3.88" height="1.05" fill="#e4e4f9"/>
<rect x="139.18" y="57.00" width="3.88" height="1.05" fill="#e4e4f9"/>
<rect x="143.01" y="57.00" width="3.88" height="1.05" fill="#f5f5fd"/>
<rect x="146.84" y="57.00" width="3.88" height="1.05" fill="#cbcbf3"/>
<rect x="39.60" y="58.00" width="3.88" height="1.05" fill="#f9f9fe"/>
<rect x="43.43" y="58.00" width="3.88" height="1.05" fill="#f8dcda"/>
<rect x="47.26" y="58.00" width="3.88" height="1.05" fill="#f1b7b2"/>
<rect x="51.09" y="58.00" width="3.88" height="1.05" fill="#f4c4c0"/>
<rect x="54.92" y="58.00" width="3.88" height="1.05" fill="#f3bfbb"/>
<rect x="58.75" y="58.00" width="3.88" height="1.05" fill="#f8dcd9"/>
<rect x="62.58" y="58.00" width="3.88" height="1.05" fill="#fffefe"/>
<rect x="66.41" y="58.00" width="3.88" height="1.05" fill="#e8887f"/>
<rect x="70.24" y="58.00" width="3.88" height="1.05" fill="#efa9a3"/>
<rect x="74.07" y="58.00" width="3.88" height="1.05" fill="#c4c4f1"/>
<rect x="77.90" y="58.00" width="3.88" height="1.05" fill="#e5e5f9"/>
<rect x="81.73" y="58.00" width="3.88" height="1.05" fill="#e9e9fa"/>
<rect x="85.56" y="58.00" width="3.88" height="1.05" fill="#e8e8fa"/>
<rect x="89.39" y="58.00" width="3.88" height="1.05" fill="#e5e5f9"/>
<rect x="93.22" y="58.00" width="3.88" height="1.05" fill="#d8d8f6"/>
<rect x="97.05" y="58.00" width="3.88" height="1.05" fill="#eeeefb"/>
<rect x="100.88" y="58.00" width="3.88" height="1.05" fill="#dcdcf7"/>
<rect x="104.71" y="58.00" width="3.88" height="1.05" fill="#e6e6f9"/>
<rect x="108.54" y="58.00" width="3.88" height="1.05" fill="#fefafa"/>
<rect x="112.37" y="58.00" width="3.88" height="1.05" fill="#fbeceb"/>
<rect x="116.20" y="58.00" width="3.88" height="1.05" fill="#d8d8f6"/>
<rect x="120.03" y="58.00" width="3.88" height="1.05" fill="#ccccf3"/>
<rect x="123.86" y="58.00" width="3.88" height="1.05" fill="#e7e7f9"/>
<rect x="127.69" y="58.00" width="3.88" height="1.05" fill="#e9e9fa"/>
<rect x="131.52" y="58.00" width="3.88" height="1.05" fill="#cacaf2"/>
<rect x="135.35" y="58.00" width="3.88" height="1.05" fill="#f1f1fc"/>
<rect x="139.18" y="58.00" width="3.88" height="1.05" fill="#eaeafa"/>
<rect x="143.01" y="58.00" width="3.88" height="1.05" fill="#fdfdff"/>
<rect x="146.84" y="58.00" width="3.88" height="1.05" fill="#e3e3f8"/>
<rect x="39.60" y="59.00" width="3.88" height="1.05" fill="#fbe8e7"/>
<rect x="43.43" y="59.00" width="3.88" height="1.05" fill="#f8d9d6"/>
<rect x="47.26" y="59.00" width="3.88" height="1.05" fill="#f5cbc8"/>
<rect x="51.09" y="59.00" width="3.88" height="1.05" fill="#f5cac6"/>
<rect x="54.92" y="59.00" width="3.88" height="1.05" fill="#f8d8d6"/>
<rect x="58.75" y="59.00" width="3.88" height="1.05" fill="#fae7e6"/>
<rect x="62.58" y="59.00" width="3.88" height="1.05" fill="#fdf2f1"/>
<rect x="66.41" y="59.00" width="3.88" height="1.05" fill="#e98d85"/>
<rect x="70.24" y="59.00" width="3.88" height="1.05" fill="#ec9b94"/>
<rect x="74.07" y="59.00" width="3.88" height="1.05" fill="#bfbff0"/>
<rect x="77.90" y="59.00" width="3.88" height="1.05" fill="#ececfa"/>
<rect x="81.73" y="59.00" width="3.88" height="1.05" fill="#fffdfd"/>
<rect x="85.56" y="59.00" width="3.88" height="1.05" fill="#d5d5f5"/>
<rect x="89.39" y="59.00" width="3.88" height="1.05" fill="#dfdff7"/>
<rect x="93.22" y="59.00" width="3.88" height="1.05" fill="#c9c9f2"/>
<rect x="97.05" y="59.00" width="3.88" height="1.05" fill="#f7f7fd"/>
<rect x="100.88" y="59.00" width="3.88" height="1.05" fill="#fef8f7"/>
<rect x="104.71" y="59.00" width="3.88" height="1.05" fill="#d6d6f5"/>
<rect x="108.54" y="59.00" width="3.88" height="1.05" fill="#fefbfa"/>
<rect x="112.37" y="59.00" width="3.88" height="1.05" fill="#fdf7f6"/>
<rect x="116.20" y="59.00" width="3.88" height="1.05" fill="#d4d4f5"/>
<rect x="120.03" y="59.00" width="3.88" height="1.05" fill="#dcdcf7"/>
<rect x="123.86" y="59.00" width="3.88" height="1.05" fill="#cdcdf3"/>
<rect x="127.69" y="59.00" width="3.88" height="1.05" fill="#f5f5fd"/>
<rect x="131.52" y="59.00" width="3.88" height="1.05" fill="#d9d9f6"/>
<rect x="135.35" y="59.00" width="3.88" height="1.05" fill="#eeeefb"/>
<rect x="139.18" y="59.00" width="3.88" height="1.05" fill="#e8e8fa"/>
<rect x="143.01" y="59.00" width="3.88" height="1.05" fill="#ffffff"/>
<rect x="146.84" y="59.00" width="3.88" height="1.05" fill="#e9e9fa"/>
<rect x="39.60" y="60.00" width="3.88" height="1.05" fill="#f5ccc9"/>
<rect x="43.43" y="60.00" width="3.88" height="1.05" fill="#f1b5af"/>
<rect x="47.26" y="60.00" width="3.88" height="1.05" fill="#efaaa4"/>
<rect x="51.09" y="60.00" width="3.88" height="1.05" fill="#f0b3ad"/>
<rect x="54.92" y="60.00" width="3.88" height="1.05" fill="#f0b0ab"/>
<rect x="58.75" y="60.00" width="3.88" height="1.05" fill="#f3c0bc"/>
<rect x="62.58" y="60.00" width="3.88" height="1.05" fill="#f8dad8"/>
<rect x="66.41" y="60.00" width="3.88" height="1.05" fill="#e2685e"/>
<rect x="70.24" y="60.00" width="3.88" height="1.05" fill="#e98b82"/>
<rect x="74.07" y="60.00" width="3.88" height="1.05" fill="#a7a7ea"/>
<rect x="77.90" y="60.00" width="3.88" height="1.05" fill="#e1e1f8"/>
<rect x="81.73" y="60.00" width="3.88" height="1.05" fill="#cfcff4"/>
<rect x="85.56" y="60.00" width="3.88" height="1.05" fill="#d9d9f6"/>
<rect x="89.39" y="60.00" width="3.88" height="1.05" fill="#d1d1f4"/>
<rect x="93.22" y="60.00" width="3.88" height="1.05" fill="#c2c2f0"/>
<rect x="97.05" y="60.00" width="3.88" height="1.05" fill="#d0d0f4"/>
<rect x="100.88" y="60.00" width="3.88" height="1.05" fill="#c8c8f2"/>
<rect x="104.71" y="60.00" width="3.88" height="1.05" fill="#d2d2f4"/>
<rect x="108.54" y="60.00" width="3.88" height="1.05" fill="#ddddf7"/>
<rect x="112.37" y="60.00" width="3.88" height="1.05" fill="#f8f8fd"/>
<rect x="116.20" y="60.00" width="3.88" height="1.05" fill="#b2b2ed"/>
<rect x="120.03" y="60.00" width="3.88" height="1.05" fill="#b9b9ee"/>
<rect x="123.86" y="60.00" width="3.88" height="1.05" fill="#ccccf3"/>
<rect x="127.69" y="60.00" width="3.88" height="1.05" fill="#d2d2f4"/>
<rect x="131.52" y="60.00" width="3.88" height="1.05" fill="#e1e1f8"/>
<rect x="135.35" y="60.00" width="3.88" height="1.05" fill="#d4d4f5"/>
<rect x="139.18" y="60.00" width="3.88" height="1.05" fill="#c7c7f2"/>
<rect x="143.01" y="60.00" width="3.88" height="1.05" fill="#fcf0ef"/>
<rect x="146.84" y="60.00" width="3.88" height="1.05" fill="#d2d2f4"/>
<rect x="39.60" y="61.00" width="3.88" height="1.05" fill="#f3bfba"/>
<rect x="43.43" y="61.00" width="3.88" height="1.05" fill="#f6cfcc"/>
<rect x="47.26" y="61.00" width="3.88" height="1.05" fill="#f3bfba"/>
<rect x="51.09" y="61.00" width="3.88" height="1.05" fill="#f2bdb8"/>
<rect x="54.92" y="61.00" width="3.88" height="1.05" fill="#f1b5b0"/>
<rect x="58.75" y="61.00" width="3.88" height="1.05" fill="#f7d3d0"/>
<rect x="62.58" y="61.00" width="3.88" height="1.05" fill="#fae4e2"/>
<rect x="66.41" y="61.00" width="3.88" height="1.05" fill="#e46f65"/>
<rect x="70.24" y="61.00" width="3.88" height="1.05" fill="#ec9b94"/>
<rect x="74.07" y="61.00" width="3.88" height="1.05" fill="#9898e7"/>
<rect x="77.90" y="61.00" width="3.88" height="1.05" fill="#c8c8f2"/>
<rect x="81.73" y="61.00" width="3.88" height="1.05" fill="#d0d0f4"/>
<rect x="85.56" y="61.00" width="3.88" height="1.05" fill="#d5d5f5"/>
<rect x="89.39" y="61.00" width="3.88" height="1.05" fill="#dcdcf7"/>
<rect x="93.22" y="61.00" width="3.88" height="1.05" fill="#c9c9f2"/>
<rect x="97.05" y="61.00" width="3.88" height="1.05" fill="#e1e1f8"/>
<rect x="100.88" y="61.00" width="3.88" height="1.05" fill="#ddddf7"/>
<rect x="104.71" y="61.00" width="3.88" height="1.05" fill="#d5d5f5"/>
<rect x="108.54" y="61.00" width="3.88" height="1.05" fill="#eaeafa"/>
<rect x="112.37" y="61.00" width="3.88" height="1.05" fill="#ddddf7"/>
<rect x="116.20" y="61.00" width="3.88" height="1.05" fill="#c3c3f1"/>
<rect x="120.03" y="61.00" width="3.88" height="1.05" fill="#cacaf2"/>
<rect x="123.86" y="61.00" width="3.88" height="1.05" fill="#cacaf2"/>
<rect x="127.69" y="61.00" width="3.88" height="1.05" fill="#dbdbf6"/>
<rect x="131.52" y="61.00" width="3.88" height="1.05" fill="#dbdbf6"/>
<rect x="135.35" y="61.00" width="3.88" height="1.05" fill="#e5e5f9"/>
<rect x="139.18" y="61.00" width="3.88" height="1.05" fill="#dcdcf7"/>
<rect x="143.01" y="61.00" width="3.88" height="1.05" fill="#f9e1df"/>
<rect x="146.84" y="61.00" width="3.88" height="1.05" fill="#e2e2f8"/>
<rect x="39.60" y="62.00" width="3.88" height="1.05" fill="#f2f2fc"/>
<rect x="43.43" y="62.00" width="3.88" height="1.05" fill="#fffdfd"/>
<rect x="47.26" y="62.00" width="3.88" height="1.05" fill="#fcefee"/>
<rect x="51.09" y="62.00" width="3.88" height="1.05" fill="#fae7e5"/>
<rect x="54.92" y="62.00" width="3.88" height="1.05" fill="#fef8f8"/>
<rect x="58.75" y="62.00" width="3.88" height="1.05" fill="#fefbfa"/>
<rect x="62.58" y="62.00" width="3.88" height="1.05" fill="#fef9f9"/>
<rect x="66.41" y="62.00" width="3.88" height="1.05" fill="#fbe8e6"/>
<rect x="70.24" y="62.00" width="3.88" height="1.05" fill="#fae6e5"/>
<rect x="74.07" y="62.00" width="3.88" height="1.05" fill="#f2f2fc"/>
<rect x="77.90" y="62.00" width="3.88" height="1.05" fill="#f2f2fc"/>
<rect x="81.73" y="62.00" width="3.88" height="1.05" fill="#f0f0fb"/>
<rect x="85.56" y="62.00" width="3.88" height="1.05" fill="#fffefe"/>
<rect x="89.39" y="62.00" width="3.88" height="1.05" fill="#f5f5fd"/>
<rect x="93.22" y="62.00" width="3.88" height="1.05" fill="#fefeff"/>
<rect x="97.05" y="62.00" width="3.88" height="1.05" fill="#fffefe"/>
<rect x="100.88" y="62.00" width="3.88" height="1.05" fill="#f7f7fd"/>
<rect x="104.71" y="62.00" width="3.88" height="1.05" fill="#f5f5fd"/>
<rect x="108.54" y="62.00" width="3.88" height="1.05" fill="#fcfcfe"/>
<rect x="112.37" y="62.00" width="3.88" height="1.05" fill="#fef9f8"/>
<rect x="116.20" y="62.00" width="3.88" height="1.05" fill="#e3e3f8"/>
<rect x="120.03" y="62.00" width="3.88" height="1.05" fill="#ffffff"/>
<rect x="123.86" y="62.00" width="3.88" height="1.05" fill="#f7f7fd"/>
<rect x="127.69" y="62.00" width="3.88" height="1.05" fill="#f7f7fd"/>
<rect x="131.52" y="62.00" width="3.88" height="1.05" fill="#fffefd"/>
<rect x="135.35" y="62.00" width="3.88" height="1.05" fill="#fdfdfe"/>
<rect x="139.18" y="62.00" width="3.88" height="1.05" fill="#f5f5fd"/>
<rect x="143.01" y="62.00" width="3.88" height="1.05" fill="#fcefed"/>
<rect x="146.84" y="62.00" width="3.88" height="1.05" fill="#fefeff"/>
<rect x="39.60" y="63.00" width="3.88" height="1.05" fill="#fbecea"/>
<rect x="43.43" y="63.00" width="3.88" height="1.05" fill="#f8dad7"/>
<rect x="47.26" y="63.00" width="3.88" height="1.05" fill="#f9e0de"/>
<rect x="51.09" y="63.00" width="3.88" height="1.05" fill="#f8dcda"/>
<rect x="54.92" y="63.00" width="3.88" height="1.05" fill="#fae3e1"/>
<rect x="58.75" y="63.00" width="3.88" height="1.05" fill="#fae6e4"/>
<rect x="62.58" y="63.00" width="3.88" height="1.05" fill="#f9e2e0"/>
<rect x="66.41" y="63.00" width="3.88" height="1.05" fill="#f9e1de"/>
<rect x="70.24" y="63.00" width="3.88" height="1.05" fill="#f7d7d5"/>
<rect x="74.07" y="63.00" width="3.88" height="1.05" fill="#dfdff7"/>
<rect x="77.90" y="63.00" width="3.88" height="1.05" fill="#e7e7f9"/>
<rect x="81.73" y="63.00" width="3.88" height="1.05" fill="#e0e0f8"/>
<rect x="85.56" y="63.00" width="3.88" height="1.05" fill="#f4f4fc"/>
<rect x="89.39" y="63.00" width="3.88" height="1.05" fill="#ffffff"/>
<rect x="93.22" y="63.00" width="3.88" height="1.05" fill="#f2f2fc"/>
<rect x="97.05" y="63.00" width="3.88" height="1.05" fill="#efeffb"/>
<rect x="100.88" y="63.00" width="3.88" height="1.05" fill="#dedef7"/>
<rect x="104.71" y="63.00" width="3.88" height="1.05" fill="#fefeff"/>
<rect x="108.54" y="63.00" width="3.88" height="1.05" fill="#f7f7fd"/>
<rect x="112.37" y="63.00" width="3.88" height="1.05" fill="#f7f7fd"/>
<rect x="116.20" y="63.00" width="3.88" height="1.05" fill="#dbdbf6"/>
<rect x="120.03" y="63.00" width="3.88" height="1.05" fill="#e5e5f9"/>
<rect x="123.86" y="63.00" width="3.88" height="1.05" fill="#dbdbf6"/>
<rect x="127.69" y="63.00" width="3.88" height="1.05" fill="#ededfb"/>
<rect x="131.52" y="63.00" width="3.88" height="1.05" fill="#f1f1fc"/>
<rect x="135.35" y="63.00" width="3.88" height="1.05" fill="#ededfb"/>
<rect x="139.18" y="63.00" width="3.88" height="1.05" fill="#efeffb"/>
<rect x="143.01" y="63.00" width="3.88" height="1.05" fill="#fbe9e7"/>
<rect x="146.84" y="63.00" width="3.88" height="1.05" fill="#f9f9fe"/>
<rect x="39.60" y="64.00" width="3.88" height="1.05" fill="#fefafa"/>
<rect x="43.43" y="64.00" width="3.88" height="1.05" fill="#fdf4f3"/>
<rect x="47.26" y="64.00" width="3.88" height="1.05" fill="#fae5e3"/>
<rect x="51.09" y="64.00" width="3.88" height="1.05" fill="#f8d8d5"/>
<rect x="54.92" y="64.00" width="3.88" height="1.05" fill="#fdf3f2"/>
<rect x="58.75" y="64.00" width="3.88" height="1.05" fill="#fae6e4"/>
<rect x="62.58" y="64.00" width="3.88" height="1.05" fill="#fef8f7"/>
<rect x="66.41" y="64.00" width="3.88" height="1.05" fill="#f7d7d4"/>
<rect x="70.24" y="64.00" width="3.88" height="1.05" fill="#fbe9e7"/>
<rect x="74.07" y="64.00" width="3.88" height="1.05" fill="#cdcdf3"/>
<rect x="77.90" y="64.00" width="3.88" height="1.05" fill="#f3f3fc"/>
<rect x="81.73" y="64.00" width="3.88" height="1.05" fill="#f8f8fd"/>
<rect x="85.56" y="64.00" width="3.88" height="1.05" fill="#f6f6fd"/>
<rect x="89.39" y="64.00" width="3.88" height="1.05" fill="#f0f0fb"/>
<rect x="93.22" y="64.00" width="3.88" height="1.05" fill="#f0f0fc"/>
<rect x="97.05" y="64.00" width="3.88" height="1.05" fill="#fefeff"/>
<rect x="100.88" y="64.00" width="3.88" height="1.05" fill="#fdfdff"/>
<rect x="104.71" y="64.00" width="3.88" height="1.05" fill="#eaeafa"/>
<rect x="108.54" y="64.00" width="3.88" height="1.05" fill="#f4f4fc"/>
<rect x="112.37" y="64.00" width="3.88" height="1.05" fill="#fffdfd"/>
<rect x="116.20" y="64.00" width="3.88" height="1.05" fill="#e5e5f9"/>
<rect x="120.03" y="64.00" width="3.88" height="1.05" fill="#eeeefb"/>
<rect x="123.86" y="64.00" width="3.88" height="1.05" fill="#f3f3fc"/>
<rect x="127.69" y="64.00" width="3.88" height="1.05" fill="#e8e8f9"/>
<rect x="131.52" y="64.00" width="3.88" height="1.05" fill="#eaeafa"/>
<rect x="135.35" y="64.00" width="3.88" height="1.05" fill="#e2e2f8"/>
<rect x="139.18" y="64.00" width="3.88" height="1.05" fill="#f9f9fe"/>
<rect x="143.01" y="64.00" width="3.88" height="1.05" fill="#fae7e5"/>
<rect x="146.84" y="64.00" width="3.88" height="1.05" fill="#f7f7fd"/>
<rect x="39.60" y="65.00" width="3.88" height="1.05" fill="#f5f5fd"/>
<rect x="43.43" y="65.00" width="3.88" height="1.05" fill="#fcf1ef"/>
<rect x="47.26" y="65.00" width="3.88" height="1.05" fill="#f8d9d6"/>
<rect x="51.09" y="65.00" width="3.88" height="1.05" fill="#fefbfa"/>
<rect x="54.92" y="65.00" width="3.88" height="1.05" fill="#f9e2e0"/>
<rect x="58.75" y="65.00" width="3.88" height="1.05" fill="#fae4e2"/>
<rect x="62.58" y="65.00" width="3.88" height="1.05" fill="#f9dfdc"/>
<rect x="66.41" y="65.00" width="3.88" height="1.05" fill="#f3bfba"/>
<rect x="70.24" y="65.00" width="3.88" height="1.05" fill="#f5cbc7"/>
<rect x="74.07" y="65.00" width="3.88" height="1.05" fill="#dcdcf7"/>
<rect x="77.90" y="65.00" width="3.88" height="1.05" fill="#fefbfb"/>
<rect x="81.73" y="65.00" width="3.88" height="1.05" fill="#f0f0fc"/>
<rect x="85.56" y="65.00" width="3.88" height="1.05" fill="#f7f7fd"/>
<rect x="89.39" y="65.00" width="3.88" height="1.05" fill="#e7e7f9"/>
<rect x="93.22" y="65.00" width="3.88" height="1.05" fill="#eeeefb"/>
<rect x="97.05" y="65.00" width="3.88" height="1.05" fill="#ececfb"/>
<rect x="100.88" y="65.00" width="3.88" height="1.05" fill="#eaeafa"/>
<rect x="104.71" y="65.00" width="3.88" height="1.05" fill="#e5e5f9"/>
<rect x="108.54" y="65.00" width="3.88" height="1.05" fill="#f0f0fb"/>
<rect x="112.37" y="65.00" width="3.88" height="1.05" fill="#f3f3fc"/>
<rect x="116.20" y="65.00" width="3.88" height="1.05" fill="#e5e5f9"/>
<rect x="120.03" y="65.00" width="3.88" height="1.05" fill="#eeeefb"/>
<rect x="123.86" y="65.00" width="3.88" height="1.05" fill="#e8e8f9"/>
<rect x="127.69" y="65.00" width="3.88" height="1.05" fill="#dfdff7"/>
<rect x="131.52" y="65.00" width="3.88" height="1.05" fill="#f7f7fd"/>
<rect x="135.35" y="65.00" width="3.88" height="1.05" fill="#f2f2fc"/>
<rect x="139.18" y="65.00" width="3.88" height="1.05" fill="#d8d8f6"/>
<rect x="143.01" y="65.00" width="3.88" height="1.05" fill="#fcefee"/>
<rect x="146.84" y="65.00" width="3.88" height="1.05" fill="#f1f1fc"/>
<rect x="39.60" y="66.00" width="3.88" height="1.05" fill="#b7b7ee"/>
<rect x="43.43" y="66.00" width="3.88" height="1.05" fill="#c2c2f0"/>
<rect x="47.26" y="66.00" width="3.88" height="1.05" fill="#e5e5f9"/>
<rect x="51.09" y="66.00" width="3.88" height="1.05" fill="#fae6e5"/>
<rect x="54.92" y="66.00" width="3.88" height="1.05" fill="#f5f5fd"/>
<rect x="58.75" y="66.00" width="3.88" height="1.05" fill="#e8e8f9"/>
<rect x="62.58" y="66.00" width="3.88" height="1.05" fill="#f3c2be"/>
<rect x="66.41" y="66.00" width="3.88" height="1.05" fill="#d8d8f6"/>
<rect x="70.24" y="66.00" width="3.88" height="1.05" fill="#eaeafa"/>
<rect x="74.07" y="66.00" width="3.88" height="1.05" fill="#b8b8ee"/>
<rect x="77.90" y="66.00" width="3.88" height="1.05" fill="#f6cdca"/>
<rect x="81.73" y="66.00" width="3.88" height="1.05" fill="#f9e0dd"/>
<rect x="85.56" y="66.00" width="3.88" height="1.05" fill="#f7d7d4"/>
<rect x="89.39" y="66.00" width="3.88" height="1.05" fill="#f8dbd8"/>
<rect x="93.22" y="66.00" width="3.88" height="1.05" fill="#f9e1df"/>
<rect x="97.05" y="66.00" width="3.88" height="1.05" fill="#f8dcd9"/>
<rect x="100.88" y="66.00" width="3.88" height="1.05" fill="#fae5e4"/>
<rect x="104.71" y="66.00" width="3.88" height="1.05" fill="#fae3e1"/>
<rect x="108.54" y="66.00" width="3.88" height="1.05" fill="#fae4e2"/>
<rect x="112.37" y="66.00" width="3.88" height="1.05" fill="#fdf2f1"/>
<rect x="116.20" y="66.00" width="3.88" height="1.05" fill="#fae6e4"/>
<rect x="120.03" y="66.00" width="3.88" height="1.05" fill="#fbeceb"/>
<rect x="123.86" y="66.00" width="3.88" height="1.05" fill="#fceeed"/>
<rect x="127.69" y="66.00" width="3.88" height="1.05" fill="#f6cecb"/>
<rect x="131.52" y="66.00" width="3.88" height="1.05" fill="#fdf6f5"/>
<rect x="135.35" y="66.00" width="3.88" height="1.05" fill="#fae4e2"/>
<rect x="139.18" y="66.00" width="3.88" height="1.05" fill="#fae5e4"/>
<rect x="143.01" y="66.00" width="3.88" height="1.05" fill="#fae5e3"/>
<rect x="146.84" y="66.00" width="3.88" height="1.05" fill="#fbeceb"/>
<rect x="39.60" y="67.00" width="3.88" height="1.05" fill="#cdcdf3"/>
<rect x="43.43" y="67.00" width="3.88" height="1.05" fill="#d3d3f4"/>
<rect x="47.26" y="67.00" width="3.88" height="1.05" fill="#fdf7f6"/>
<rect x="51.09" y="67.00" width="3.88" height="1.05" fill="#f9e1df"/>
<rect x="54.92" y="67.00" width="3.88" height="1.05" fill="#f8f8fd"/>
<rect x="58.75" y="67.00" width="3.88" height="1.05" fill="#ebebfa"/>
<rect x="62.58" y="67.00" width="3.88" height="1.05" fill="#f6cfcb"/>
<rect x="66.41" y="67.00" width="3.88" height="1.05" fill="#ebebfa"/>
<rect x="70.24" y="67.00" width="3.88" height="1.05" fill="#e3e3f8"/>
<rect x="74.07" y="67.00" width="3.88" height="1.05" fill="#cecef3"/>
<rect x="77.90" y="67.00" width="3.88" height="1.05" fill="#f6d1ce"/>
<rect x="81.73" y="67.00" width="3.88" height="1.05" fill="#fae6e5"/>
<rect x="85.56" y="67.00" width="3.88" height="1.05" fill="#fbecea"/>
<rect x="89.39" y="67.00" width="3.88" height="1.05" fill="#f9dedb"/>
<rect x="93.22" y="67.00" width="3.88" height="1.05" fill="#fbe8e6"/>
<rect x="97.05" y="67.00" width="3.88" height="1.05" fill="#fef9f8"/>
<rect x="100.88" y="67.00" width="3.88" height="1.05" fill="#fbe7e6"/>
<rect x="104.71" y="67.00" width="3.88" height="1.05" fill="#fae4e2"/>
<rect x="108.54" y="67.00" width="3.88" height="1.05" fill="#f9dedc"/>
<rect x="112.37" y="67.00" width="3.88" height="1.05" fill="#f6f6fd"/>
<rect x="116.20" y="67.00" width="3.88" height="1.05" fill="#f8dad7"/>
<rect x="120.03" y="67.00" width="3.88" height="1.05" fill="#fbeae8"/>
<rect x="123.86" y="67.00" width="3.88" height="1.05" fill="#f6d2cf"/>
<rect x="127.69" y="67.00" width="3.88" height="1.05" fill="#fbeae8"/>
<rect x="131.52" y="67.00" width="3.88" height="1.05" fill="#f9e2e0"/>
<rect x="135.35" y="67.00" width="3.88" height="1.05" fill="#fbecea"/>
<rect x="139.18" y="67.00" width="3.88" height="1.05" fill="#fdf3f2"/>
<rect x="143.01" y="67.00" width="3.88" height="1.05" fill="#f9dedc"/>
<rect x="146.84" y="67.00" width="3.88" height="1.05" fill="#f9e0de"/>
<rect x="39.60" y="68.00" width="3.88" height="1.05" fill="#fcedec"/>
<rect x="43.43" y="68.00" width="3.88" height="1.05" fill="#fefafa"/>
<rect x="47.26" y="68.00" width="3.88" height="1.05" fill="#fbe9e8"/>
<rect x="51.09" y="68.00" width="3.88" height="1.05" fill="#fffdfd"/>
<rect x="54.92" y="68.00" width="3.88" height="1.05" fill="#fdf3f3"/>
<rect x="58.75" y="68.00" width="3.88" height="1.05" fill="#fef8f7"/>
<rect x="62.58" y="68.00" width="3.88" height="1.05" fill="#fefeff"/>
<rect x="66.41" y="68.00" width="3.88" height="1.05" fill="#fdf3f3"/>
<rect x="70.24" y="68.00" width="3.88" height="1.05" fill="#fcefee"/>
<rect x="74.07" y="68.00" width="3.88" height="1.05" fill="#f9f9fe"/>
<rect x="77.90" y="68.00" width="3.88" height="1.05" fill="#f6d1cd"/>
<rect x="81.73" y="68.00" width="3.88" height="1.05" fill="#fffefe"/>
<rect x="85.56" y="68.00" width="3.88" height="1.05" fill="#fbeae9"/>
<rect x="89.39" y="68.00" width="3.88" height="1.05" fill="#fbebe9"/>
<rect x="93.22" y="68.00" width="3.88" height="1.05" fill="#f6f6fd"/>
<rect x="97.05" y="68.00" width="3.88" height="1.05" fill="#ffffff"/>
<rect x="100.88" y="68.00" width="3.88" height="1.05" fill="#fefaf9"/>
<rect x="104.71" y="68.00" width="3.88" height="1.05" fill="#fbfbfe"/>
<rect x="108.54" y="68.00" width="3.88" height="1.05" fill="#f4f4fc"/>
<rect x="112.37" y="68.00" width="3.88" height="1.05" fill="#ececfb"/>
<rect x="116.20" y="68.00" width="3.88" height="1.05" fill="#fffefe"/>
<rect x="120.03" y="68.00" width="3.88" height="1.05" fill="#f1f1fc"/>
<rect x="123.86" y="68.00" width="3.88" height="1.05" fill="#fdf2f1"/>
<rect x="127.69" y="68.00" width="3.88" height="1.05" fill="#f9f9fd"/>
<rect x="131.52" y="68.00" width="3.88" height="1.05" fill="#fdfdfe"/>
<rect x="135.35" y="68.00" width="3.88" height="1.05" fill="#fefafa"/>
<rect x="139.18" y="68.00" width="3.88" height="1.05" fill="#fef7f7"/>
<rect x="143.01" y="68.00" width="3.88" height="1.05" fill="#f4f4fc"/>
<rect x="146.84" y="68.00" width="3.88" height="1.05" fill="#efeffb"/>
<rect x="39.60" y="69.00" width="3.88" height="1.05" fill="#fbebe9"/>
<rect x="43.43" y="69.00" width="3.88" height="1.05" fill="#fdf6f6"/>
<rect x="47.26" y="69.00" width="3.88" height="1.05" fill="#fafafe"/>
<rect x="51.09" y="69.00" width="3.88" height="1.05" fill="#f9dedc"/>
<rect x="54.92" y="69.00" width="3.88" height="1.05" fill="#fdf2f1"/>
<rect x="58.75" y="69.00" width="3.88" height="1.05" fill="#f8f8fd"/>
<rect x="62.58" y="69.00" width="3.88" height="1.05" fill="#fbeae8"/>
<rect x="66.41" y="69.00" width="3.88" height="1.05" fill="#f6f6fd"/>
<rect x="70.24" y="69.00" width="3.88" height="1.05" fill="#fafafe"/>
<rect x="74.07" y="69.00" width="3.88" height="1.05" fill="#dedef7"/>
<rect x="77.90" y="69.00" width="3.88" height="1.05" fill="#fdf4f3"/>
<rect x="81.73" y="69.00" width="3.88" height="1.05" fill="#fcf0ef"/>
<rect x="85.56" y="69.00" width="3.88" height="1.05" fill="#f8d8d6"/>
<rect x="89.39" y="69.00" width="3.88" height="1.05" fill="#fdf3f2"/>
<rect x="93.22" y="69.00" width="3.88" height="1.05" fill="#fbebe9"/>
<rect x="97.05" y="69.00" width="3.88" height="1.05" fill="#fef9f8"/>
<rect x="100.88" y="69.00" width="3.88" height="1.05" fill="#fdf4f3"/>
<rect x="104.71" y="69.00" width="3.88" height="1.05" fill="#fdf6f5"/>
<rect x="108.54" y="69.00" width="3.88" height="1.05" fill="#fceeed"/>
<rect x="112.37" y="69.00" width="3.88" height="1.05" fill="#fae4e2"/>
<rect x="116.20" y="69.00" width="3.88" height="1.05" fill="#fdf5f5"/>
<rect x="120.03" y="69.00" width="3.88" height="1.05" fill="#f9dfdd"/>
<rect x="123.86" y="69.00" width="3.88" height="1.05" fill="#f7d3d0"/>
<rect x="127.69" y="69.00" width="3.88" height="1.05" fill="#fbecea"/>
<rect x="131.52" y="69.00" width="3.88" height="1.05" fill="#fceeec"/>
<rect x="135.35" y="69.00" width="3.88" height="1.05" fill="#fae3e1"/>
<rect x="139.18" y="69.00" width="3.88" height="1.05" fill="#fdf5f4"/>
<rect x="143.01" y="69.00" width="3.88" height="1.05" fill="#fdf4f3"/>
<rect x="146.84" y="69.00" width="3.88" height="1.05" fill="#f1f1fc"/>
<rect x="39.60" y="70.00" width="3.88" height="1.05" fill="#eea49d"/>
<rect x="43.43" y="70.00" width="3.88" height="1.05" fill="#eea49e"/>
<rect x="47.26" y="70.00" width="3.88" height="1.05" fill="#ed9e97"/>
<rect x="51.09" y="70.00" width="3.88" height="1.05" fill="#fae4e2"/>
<rect x="54.92" y="70.00" width="3.88" height="1.05" fill="#fefafa"/>
<rect x="58.75" y="70.00" width="3.88" height="1.05" fill="#fdfdff"/>
<rect x="62.58" y="70.00" width="3.88" height="1.05" fill="#fbe9e8"/>
<rect x="66.41" y="70.00" width="3.88" height="1.05" fill="#ededfb"/>
<rect x="70.24" y="70.00" width="3.88" height="1.05" fill="#eeeefb"/>
<rect x="74.07" y="70.00" width="3.88" height="1.05" fill="#ebebfa"/>
<rect x="77.90" y="70.00" width="3.88" height="1.05" fill="#fcefee"/>
<rect x="81.73" y="70.00" width="3.88" height="1.05" fill="#fefaf9"/>
<rect x="85.56" y="70.00" width="3.88" height="1.05" fill="#fcfcfe"/>
<rect x="89.39" y="70.00" width="3.88" height="1.05" fill="#fdfdff"/>
<rect x="93.22" y="70.00" width="3.88" height="1.05" fill="#fefcfc"/>
<rect x="97.05" y="70.00" width="3.88" height="1.05" fill="#efeffb"/>
<rect x="100.88" y="70.00" width="3.88" height="1.05" fill="#f8f8fd"/>
<rect x="104.71" y="70.00" width="3.88" height="1.05" fill="#fdf6f5"/>
<rect x="108.54" y="70.00" width="3.88" height="1.05" fill="#fefbfb"/>
<rect x="112.37" y="70.00" width="3.88" height="1.05" fill="#f9f9fe"/>
<rect x="116.20" y="70.00" width="3.88" height="1.05" fill="#fef9f9"/>
<rect x="120.03" y="70.00" width="3.88" height="1.05" fill="#fbeceb"/>
<rect x="123.86" y="70.00" width="3.88" height="1.05" fill="#fcefee"/>
<rect x="127.69" y="70.00" width="3.88" height="1.05" fill="#f8f8fd"/>
<rect x="131.52" y="70.00" width="3.88" height="1.05" fill="#fdfdff"/>
<rect x="135.35" y="70.00" width="3.88" height="1.05" fill="#f2f2fc"/>
<rect x="139.18" y="70.00" width="3.88" height="1.05" fill="#fdfdff"/>
<rect x="143.01" y="70.00" width="3.88" height="1.05" fill="#f7f7fd"/>
<rect x="146.84" y="70.00" width="3.88" height="1.05" fill="#ececfa"/>
<rect x="39.60" y="71.00" width="3.88" height="1.05" fill="#ea9189"/>
<rect x="43.43" y="71.00" width="3.88" height="1.05" fill="#e98b83"/>
<rect x="47.26" y="71.00" width="3.88" height="1.05" fill="#e98d85"/>
<rect x="51.09" y="71.00" width="3.88" height="1.05" fill="#f8dcda"/>
<rect x="54.92" y="71.00" width="3.88" height="1.05" fill="#dfdff7"/>
<rect x="58.75" y="71.00" width="3.88" height="1.05" fill="#e8e8fa"/>
<rect x="62.58" y="71.00" width="3.88" height="1.05" fill="#fae4e2"/>
<rect x="66.41" y="71.00" width="3.88" height="1.05" fill="#e4e4f9"/>
<rect x="70.24" y="71.00" width="3.88" height="1.05" fill="#f2f2fc"/>
<rect x="74.07" y="71.00" width="3.88" height="1.05" fill="#c6c6f1"/>
<rect x="77.90" y="71.00" width="3.88" height="1.05" fill="#fdf4f3"/>
<rect x="81.73" y="71.00" width="3.88" height="1.05" fill="#fdf7f6"/>
<rect x="85.56" y="71.00" width="3.88" height="1.05" fill="#fefeff"/>
<rect x="89.39" y="71.00" width="3.88" height="1.05" fill="#fbe7e6"/>
<rect x="93.22" y="71.00" width="3.88" height="1.05" fill="#f9e1df"/>
<rect x="97.05" y="71.00" width="3.88" height="1.05" fill="#fbebea"/>
<rect x="100.88" y="71.00" width="3.88" height="1.05" fill="#fdf6f5"/>
<rect x="104.71" y="71.00" width="3.88" height="1.05" fill="#f8f8fd"/>
<rect x="108.54" y="71.00" width="3.88" height="1.05" fill="#fbebea"/>
<rect x="112.37" y="71.00" width="3.88" height="1.05" fill="#f9e2e0"/>
<rect x="116.20" y="71.00" width="3.88" height="1.05" fill="#fbeae9"/>
<rect x="120.03" y="71.00" width="3.88" height="1.05" fill="#fae4e3"/>
<rect x="123.86" y="71.00" width="3.88" height="1.05" fill="#fdf2f1"/>
<rect x="127.69" y="71.00" width="3.88" height="1.05" fill="#fae3e1"/>
<rect x="131.52" y="71.00" width="3.88" height="1.05" fill="#fcf1f0"/>
<rect x="135.35" y="71.00" width="3.88" height="1.05" fill="#fae3e1"/>
<rect x="139.18" y="71.00" width="3.88" height="1.05" fill="#fae6e4"/>
<rect x="143.01" y="71.00" width="3.88" height="1.05" fill="#fefbfb"/>
<rect x="146.84" y="71.00" width="3.88" height="1.05" fill="#fafafe"/>
<rect x="39.60" y="72.00" width="3.88" height="1.05" fill="#eda29b"/>
<rect x="43.43" y="72.00" width="3.88" height="1.05" fill="#eea49d"/>
<rect x="47.26" y="72.00" width="3.88" height="1.05" fill="#eda099"/>
<rect x="51.09" y="72.00" width="3.88" height="1.05" fill="#fdf5f5"/>
<rect x="54.92" y="72.00" width="3.88" height="1.05" fill="#f7f7fd"/>
<rect x="58.75" y="72.00" width="3.88" height="1.05" fill="#efeffb"/>
<rect x="62.58" y="72.00" width="3.88" height="1.05" fill="#fae7e5"/>
<rect x="66.41" y="72.00" width="3.88" height="1.05" fill="#e8e8fa"/>
<rect x="70.24" y="72.00" width="3.88" height="1.05" fill="#fdf4f3"/>
<rect x="74.07" y="72.00" width="3.88" height="1.05" fill="#c0c0f0"/>
<rect x="77.90" y="72.00" width="3.88" height="1.05" fill="#fbe8e6"/>
<rect x="81.73" y="72.00" width="3.88" height="1.05" fill="#fcf2f1"/>
<rect x="85.56" y="72.00" width="3.88" height="1.05" fill="#fbeae8"/>
<rect x="89.39" y="72.00" width="3.88" height="1.05" fill="#fceeed"/>
<rect x="93.22" y="72.00" width="3.88" height="1.05" fill="#fdf2f1"/>
<rect x="97.05" y="72.00" width="3.88" height="1.05" fill="#fcf0ef"/>
<rect x="100.88" y="72.00" width="3.88" height="1.05" fill="#fef9f9"/>
<rect x="104.71" y="72.00" width="3.88" height="1.05" fill="#fbeceb"/>
<rect x="108.54" y="72.00" width="3.88" height="1.05" fill="#fdf3f3"/>
<rect x="112.37" y="72.00" width="3.88" height="1.05" fill="#fef9f8"/>
<rect x="116.20" y="72.00" width="3.88" height="1.05" fill="#fcf1f0"/>
<rect x="120.03" y="72.00" width="3.88" height="1.05" fill="#fbeae9"/>
<rect x="123.86" y="72.00" width="3.88" height="1.05" fill="#e8e8fa"/>
<rect x="127.69" y="72.00" width="3.88" height="1.05" fill="#e4e4f9"/>
<rect x="131.52" y="72.00" width="3.88" height="1.05" fill="#f4f4fc"/>
<rect x="135.35" y="72.00" width="3.88" height="1.05" fill="#fcf2f1"/>
<rect x="139.18" y="72.00" width="3.88" height="1.05" fill="#fceeed"/>
<rect x="143.01" y="72.00" width="3.88" height="1.05" fill="#fef9f9"/>
<rect x="146.84" y="72.00" width="3.88" height="1.05" fill="#fbfbfe"/>
<rect x="39.60" y="73.00" width="3.88" height="1.05" fill="#f7d6d3"/>
<rect x="43.43" y="73.00" width="3.88" height="1.05" fill="#ededfb"/>
<rect x="47.26" y="73.00" width="3.88" height="1.05" fill="#dcdcf7"/>
<rect x="51.09" y="73.00" width="3.88" height="1.05" fill="#fdf7f6"/>
<rect x="54.92" y="73.00" width="3.88" height="1.05" fill="#eaeafa"/>
<rect x="58.75" y="73.00" width="3.88" height="1.05" fill="#ececfa"/>
<rect x="62.58" y="73.00" width="3.88" height="1.05" fill="#f4c3be"/>
<rect x="66.41" y="73.00" width="3.88" height="1.05" fill="#e0e0f8"/>
<rect x="70.24" y="73.00" width="3.88" height="1.05" fill="#fdf2f1"/>
<rect x="74.07" y="73.00" width="3.88" height="1.05" fill="#c3c3f1"/>
<rect x="77.90" y="73.00" width="3.88" height="1.05" fill="#fef8f7"/>
<rect x="81.73" y="73.00" width="3.88" height="1.05" fill="#fcf0ef"/>
<rect x="85.56" y="73.00" width="3.88" height="1.05" fill="#fae7e5"/>
<rect x="89.39" y="73.00" width="3.88" height="1.05" fill="#fcedeb"/>
<rect x="93.22" y="73.00" width="3.88" height="1.05" fill="#fbeae8"/>
<rect x="97.05" y="73.00" width="3.88" height="1.05" fill="#fdf3f2"/>
<rect x="100.88" y="73.00" width="3.88" height="1.05" fill="#fcf0ef"/>
<rect x="104.71" y="73.00" width="3.88" height="1.05" fill="#fae4e2"/>
<rect x="108.54" y="73.00" width="3.88" height="1.05" fill="#fceeed"/>
<rect x="112.37" y="73.00" width="3.88" height="1.05" fill="#fcedec"/>
<rect x="116.20" y="73.00" width="3.88" height="1.05" fill="#fae3e1"/>
<rect x="120.03" y="73.00" width="3.88" height="1.05" fill="#fcedec"/>
<rect x="123.86" y="73.00" width="3.88" height="1.05" fill="#f4f4fc"/>
<rect x="127.69" y="73.00" width="3.88" height="1.05" fill="#fbeceb"/>
<rect x="131.52" y="73.00" width="3.88" height="1.05" fill="#fefbfb"/>
<rect x="135.35" y="73.00" width="3.88" height="1.05" fill="#fdf6f5"/>
<rect x="139.18" y="73.00" width="3.88" height="1.05" fill="#f9e1df"/>
<rect x="143.01" y="73.00" width="3.88" height="1.05" fill="#fbecea"/>
<rect x="146.84" y="73.00" width="3.88" height="1.05" fill="#fcf2f1"/>
<rect x="39.60" y="74.00" width="3.88" height="1.05" fill="#fceeed"/>
<rect x="43.43" y="74.00" width="3.88" height="1.05" fill="#e9e9fa"/>
<rect x="47.26" y="74.00" width="3.88" height="1.05" fill="#dadaf6"/>
<rect x="51.09" y="74.00" width="3.88" height="1.05" fill="#fae6e5"/>
<rect x="54.92" y="74.00" width="3.88" height="1.05" fill="#f5f5fd"/>
<rect x="58.75" y="74.00" width="3.88" height="1.05" fill="#f1f1fc"/>
<rect x="62.58" y="74.00" width="3.88" height="1.05" fill="#f8dcda"/>
<rect x="66.41" y="74.00" width="3.88" height="1.05" fill="#e2e2f8"/>
<rect x="70.24" y="74.00" width="3.88" height="1.05" fill="#fcf0ef"/>
<rect x="74.07" y="74.00" width="3.88" height="1.05" fill="#c2c2f1"/>
<rect x="77.90" y="74.00" width="3.88" height="1.05" fill="#fcedec"/>
<rect x="81.73" y="74.00" width="3.88" height="1.05" fill="#ffffff"/>
<rect x="85.56" y="74.00" width="3.88" height="1.05" fill="#fdf2f1"/>
<rect x="89.39" y="74.00" width="3.88" height="1.05" fill="#fdf3f2"/>
<rect x="93.22" y="74.00" width="3.88" height="1.05" fill="#fae7e5"/>
<rect x="97.05" y="74.00" width="3.88" height="1.05" fill="#f8f8fd"/>
<rect x="100.88" y="74.00" width="3.88" height="1.05" fill="#fdf3f3"/>
<rect x="104.71" y="74.00" width="3.88" height="1.05" fill="#f9dddb"/>
<rect x="108.54" y="74.00" width="3.88" height="1.05" fill="#fcefee"/>
<rect x="112.37" y="74.00" width="3.88" height="1.05" fill="#fceeed"/>
<rect x="116.20" y="74.00" width="3.88" height="1.05" fill="#fae4e2"/>
<rect x="120.03" y="74.00" width="3.88" height="1.05" fill="#fefcfc"/>
<rect x="123.86" y="74.00" width="3.88" height="1.05" fill="#fbe8e6"/>
<rect x="127.69" y="74.00" width="3.88" height="1.05" fill="#fdf6f5"/>
<rect x="131.52" y="74.00" width="3.88" height="1.05" fill="#f9f9fe"/>
<rect x="135.35" y="74.00" width="3.88" height="1.05" fill="#f9f9fe"/>
<rect x="139.18" y="74.00" width="3.88" height="1.05" fill="#fbeae8"/>
<rect x="143.01" y="74.00" width="3.88" height="1.05" fill="#eaeafa"/>
<rect x="146.84" y="74.00" width="3.88" height="1.05" fill="#fafafe"/>
<rect x="39.60" y="75.00" width="3.88" height="1.05" fill="#fae4e2"/>
<rect x="43.43" y="75.00" width="3.88" height="1.05" fill="#d6d6f5"/>
<rect x="47.26" y="75.00" width="3.88" height="1.05" fill="#ccccf3"/>
<rect x="51.09" y="75.00" width="3.88" height="1.05" fill="#f6d2cf"/>
<rect x="54.92" y="75.00" width="3.88" height="1.05" fill="#f2f2fc"/>
<rect x="58.75" y="75.00" width="3.88" height="1.05" fill="#d5d5f5"/>
<rect x="62.58" y="75.00" width="3.88" height="1.05" fill="#f8d9d7"/>
<rect x="66.41" y="75.00" width="3.88" height="1.05" fill="#d3d3f4"/>
<rect x="70.24" y="75.00" width="3.88" height="1.05" fill="#fef9f9"/>
<rect x="74.07" y="75.00" width="3.88" height="1.05" fill="#bdbdef"/>
<rect x="77.90" y="75.00" width="3.88" height="1.05" fill="#fae7e5"/>
<rect x="81.73" y="75.00" width="3.88" height="1.05" fill="#fae4e2"/>
<rect x="85.56" y="75.00" width="3.88" height="1.05" fill="#f9dfdd"/>
<rect x="89.39" y="75.00" width="3.88" height="1.05" fill="#fef8f8"/>
<rect x="93.22" y="75.00" width="3.88" height="1.05" fill="#fae4e2"/>
<rect x="97.05" y="75.00" width="3.88" height="1.05" fill="#f1f1fc"/>
<rect x="100.88" y="75.00" width="3.88" height="1.05" fill="#fef8f8"/>
<rect x="104.71" y="75.00" width="3.88" height="1.05" fill="#f9dddb"/>
<rect x="108.54" y="75.00" width="3.88" height="1.05" fill="#fae4e2"/>
<rect x="112.37" y="75.00" width="3.88" height="1.05" fill="#fdf6f6"/>
<rect x="116.20" y="75.00" width="3.88" height="1.05" fill="#f8dbd8"/>
<rect x="120.03" y="75.00" width="3.88" height="1.05" fill="#f7d3d0"/>
<rect x="123.86" y="75.00" width="3.88" height="1.05" fill="#fae4e2"/>
<rect x="127.69" y="75.00" width="3.88" height="1.05" fill="#f8d9d7"/>
<rect x="131.52" y="75.00" width="3.88" height="1.05" fill="#f5cbc8"/>
<rect x="135.35" y="75.00" width="3.88" height="1.05" fill="#f1f1fc"/>
<rect x="139.18" y="75.00" width="3.88" height="1.05" fill="#fdf4f3"/>
<rect x="143.01" y="75.00" width="3.88" height="1.05" fill="#fafafe"/>
<rect x="146.84" y="75.00" width="3.88" height="1.05" fill="#f9dedb"/>
<rect x="39.60" y="76.00" width="3.88" height="1.05" fill="#dbdbf7"/>
<rect x="43.43" y="76.00" width="3.88" height="1.05" fill="#d6d6f5"/>
<rect x="47.26" y="76.00" width="3.88" height="1.05" fill="#cecef3"/>
<rect x="51.09" y="76.00" width="3.88" height="1.05" fill="#cecef3"/>
<rect x="54.92" y="76.00" width="3.88" height="1.05" fill="#c5c5f1"/>
<rect x="58.75" y="76.00" width="3.88" height="1.05" fill="#c7c7f2"/>
<rect x="62.58" y="76.00" width="3.88" height="1.05" fill="#bebeef"/>
<rect x="66.41" y="76.00" width="3.88" height="1.05" fill="#b3b3ed"/>
<rect x="70.24" y="76.00" width="3.88" height="1.05" fill="#c1c1f0"/>
<rect x="74.07" y="76.00" width="3.88" height="1.05" fill="#d93829"/>
<rect x="77.90" y="76.00" width="3.88" height="1.05" fill="#fbe8e6"/>
<rect x="81.73" y="76.00" width="3.88" height="1.05" fill="#f8dcd9"/>
<rect x="85.56" y="76.00" width="3.88" height="1.05" fill="#f6cfcc"/>
<rect x="89.39" y="76.00" width="3.88" height="1.05" fill="#f8dbd8"/>
<rect x="93.22" y="76.00" width="3.88" height="1.05" fill="#fae4e2"/>
<rect x="97.05" y="76.00" width="3.88" height="1.05" fill="#fae4e2"/>
<rect x="100.88" y="76.00" width="3.88" height="1.05" fill="#f8d8d5"/>
<rect x="104.71" y="76.00" width="3.88" height="1.05" fill="#fae4e2"/>
<rect x="108.54" y="76.00" width="3.88" height="1.05" fill="#fbe9e7"/>
<rect x="112.37" y="76.00" width="3.88" height="1.05" fill="#f8dcd9"/>
<rect x="116.20" y="76.00" width="3.88" height="1.05" fill="#f8ddda"/>
<rect x="120.03" y="76.00" width="3.88" height="1.05" fill="#fae4e2"/>
<rect x="123.86" y="76.00" width="3.88" height="1.05" fill="#fae7e5"/>
<rect x="127.69" y="76.00" width="3.88" height="1.05" fill="#f8dad7"/>
<rect x="131.52" y="76.00" width="3.88" height="1.05" fill="#fceeed"/>
<rect x="135.35" y="76.00" width="3.88" height="1.05" fill="#fae3e1"/>
<rect x="139.18" y="76.00" width="3.88" height="1.05" fill="#f5ccc9"/>
<rect x="143.01" y="76.00" width="3.88" height="1.05" fill="#f1b7b2"/>
<rect x="146.84" y="76.00" width="3.88" height="1.05" fill="#fae7e5"/>
<rect x="39.60" y="77.00" width="3.88" height="1.05" fill="#ececfb"/>
<rect x="43.43" y="77.00" width="3.88" height="1.05" fill="#cdcdf3"/>
<rect x="47.26" y="77.00" width="3.88" height="1.05" fill="#e5e5f9"/>
<rect x="51.09" y="77.00" width="3.88" height="1.05" fill="#ddddf7"/>
<rect x="54.92" y="77.00" width="3.88" height="1.05" fill="#d9d9f6"/>
<rect x="58.75" y="77.00" width="3.88" height="1.05" fill="#f3f3fc"/>
<rect x="62.58" y="77.00" width="3.88" height="1.05" fill="#e5e5f9"/>
<rect x="66.41" y="77.00" width="3.88" height="1.05" fill="#c9c9f2"/>
<rect x="70.24" y="77.00" width="3.88" height="1.05" fill="#d8d8f6"/>
<rect x="74.07" y="77.00" width="3.88" height="1.05" fill="#dd4d40"/>
<rect x="77.90" y="77.00" width="3.88" height="1.05" fill="#f8f8fd"/>
<rect x="81.73" y="77.00" width="3.88" height="1.05" fill="#fdf5f5"/>
<rect x="85.56" y="77.00" width="3.88" height="1.05" fill="#fcf0ef"/>
<rect x="89.39" y="77.00" width="3.88" height="1.05" fill="#fbebea"/>
<rect x="93.22" y="77.00" width="3.88" height="1.05" fill="#fefcfb"/>
<rect x="97.05" y="77.00" width="3.88" height="1.05" fill="#fbeceb"/>
<rect x="100.88" y="77.00" width="3.88" height="1.05" fill="#fcf2f1"/>
<rect x="104.71" y="77.00" width="3.88" height="1.05" fill="#fcfcfe"/>
<rect x="108.54" y="77.00" width="3.88" height="1.05" fill="#f6f6fd"/>
<rect x="112.37" y="77.00" width="3.88" height="1.05" fill="#fbe9e7"/>
<rect x="116.20" y="77.00" width="3.88" height="1.05" fill="#f5ccc8"/>
<rect x="120.03" y="77.00" width="3.88" height="1.05" fill="#f6cfcb"/>
<rect x="123.86" y="77.00" width="3.88" height="1.05" fill="#f7d3d0"/>
<rect x="127.69" y="77.00" width="3.88" height="1.05" fill="#fbe9e8"/>
<rect x="131.52" y="77.00" width="3.88" height="1.05" fill="#fefbfa"/>
<rect x="135.35" y="77.00" width="3.88" height="1.05" fill="#fffefd"/>
<rect x="139.18" y="77.00" width="3.88" height="1.05" fill="#fae7e5"/>
<rect x="143.01" y="77.00" width="3.88" height="1.05" fill="#fae2e0"/>
<rect x="146.84" y="77.00" width="3.88" height="1.05" fill="#fefeff"/>
<rect x="39.60" y="78.00" width="3.88" height="1.05" fill="#dcdcf7"/>
<rect x="43.43" y="78.00" width="3.88" height="1.05" fill="#e6e6f9"/>
<rect x="47.26" y="78.00" width="3.88" height="1.05" fill="#cacaf2"/>
<rect x="51.09" y="78.00" width="3.88" height="1.05" fill="#ddddf7"/>
<rect x="54.92" y="78.00" width="3.88" height="1.05" fill="#dedef7"/>
<rect x="58.75" y="78.00" width="3.88" height="1.05" fill="#ededfb"/>
<rect x="62.58" y="78.00" width="3.88" height="1.05" fill="#e0e0f8"/>
<rect x="66.41" y="78.00" width="3.88" height="1.05" fill="#c3c3f1"/>
<rect x="70.24" y="78.00" width="3.88" height="1.05" fill="#cbcbf3"/>
<rect x="74.07" y="78.00" width="3.88" height="1.05" fill="#da3c2e"/>
<rect x="77.90" y="78.00" width="3.88" height="1.05" fill="#fbe9e8"/>
<rect x="81.73" y="78.00" width="3.88" height="1.05" fill="#f8dad7"/>
<rect x="85.56" y="78.00" width="3.88" height="1.05" fill="#fae4e2"/>
<rect x="89.39" y="78.00" width="3.88" height="1.05" fill="#fdf2f1"/>
<rect x="93.22" y="78.00" width="3.88" height="1.05" fill="#fae7e5"/>
<rect x="97.05" y="78.00" width="3.88" height="1.05" fill="#f9dfdd"/>
<rect x="100.88" y="78.00" width="3.88" height="1.05" fill="#fceeed"/>
<rect x="104.71" y="78.00" width="3.88" height="1.05" fill="#fae3e1"/>
<rect x="108.54" y="78.00" width="3.88" height="1.05" fill="#fdf3f2"/>
<rect x="112.37" y="78.00" width="3.88" height="1.05" fill="#f9e1df"/>
<rect x="116.20" y="78.00" width="3.88" height="1.05" fill="#f1b6b0"/>
<rect x="120.03" y="78.00" width="3.88" height="1.05" fill="#f2bab5"/>
<rect x="123.86" y="78.00" width="3.88" height="1.05" fill="#f2bbb6"/>
<rect x="127.69" y="78.00" width="3.88" height="1.05" fill="#fbe8e6"/>
<rect x="131.52" y="78.00" width="3.88" height="1.05" fill="#f8dad8"/>
<rect x="135.35" y="78.00" width="3.88" height="1.05" fill="#f8dbd9"/>
<rect x="139.18" y="78.00" width="3.88" height="1.05" fill="#fef9f9"/>
<rect x="143.01" y="78.00" width="3.88" height="1.05" fill="#fcf0ef"/>
<rect x="146.84" y="78.00" width="3.88" height="1.05" fill="#fbe8e7"/>
<rect x="39.60" y="79.00" width="3.88" height="1.05" fill="#e3e3f8"/>
<rect x="43.43" y="79.00" width="3.88" height="1.05" fill="#bfbff0"/>
<rect x="47.26" y="79.00" width="3.88" height="1.05" fill="#efeffb"/>
<rect x="51.09" y="79.00" width="3.88" height="1.05" fill="#ededfb"/>
<rect x="54.92" y="79.00" width="3.88" height="1.05" fill="#e1e1f8"/>
<rect x="58.75" y="79.00" width="3.88" height="1.05" fill="#f0f0fb"/>
<rect x="62.58" y="79.00" width="3.88" height="1.05" fill="#dcdcf7"/>
<rect x="66.41" y="79.00" width="3.88" height="1.05" fill="#c5c5f1"/>
<rect x="70.24" y="79.00" width="3.88" height="1.05" fill="#c4c4f1"/>
<rect x="74.07" y="79.00" width="3.88" height="1.05" fill="#d93829"/>
<rect x="77.90" y="79.00" width="3.88" height="1.05" fill="#fae6e4"/>
<rect x="81.73" y="79.00" width="3.88" height="1.05" fill="#fae2e0"/>
<rect x="85.56" y="79.00" width="3.88" height="1.05" fill="#fcf0ef"/>
<rect x="89.39" y="79.00" width="3.88" height="1.05" fill="#f9dfdd"/>
<rect x="93.22" y="79.00" width="3.88" height="1.05" fill="#fcefed"/>
<rect x="97.05" y="79.00" width="3.88" height="1.05" fill="#f9e0de"/>
<rect x="100.88" y="79.00" width="3.88" height="1.05" fill="#fae6e5"/>
<rect x="104.71" y="79.00" width="3.88" height="1.05" fill="#f8dcd9"/>
<rect x="108.54" y="79.00" width="3.88" height="1.05" fill="#fcefee"/>
<rect x="112.37" y="79.00" width="3.88" height="1.05" fill="#fcf1f1"/>
<rect x="116.20" y="79.00" width="3.88" height="1.05" fill="#f5c9c5"/>
<rect x="120.03" y="79.00" width="3.88" height="1.05" fill="#f3c3be"/>
<rect x="123.86" y="79.00" width="3.88" height="1.05" fill="#f9e0de"/>
<rect x="127.69" y="79.00" width="3.88" height="1.05" fill="#f9e1df"/>
<rect x="131.52" y="79.00" width="3.88" height="1.05" fill="#fbebea"/>
<rect x="135.35" y="79.00" width="3.88" height="1.05" fill="#fdf4f4"/>
<rect x="139.18" y="79.00" width="3.88" height="1.05" fill="#fcfcfe"/>
<rect x="143.01" y="79.00" width="3.88" height="1.05" fill="#fcf1f0"/>
<rect x="146.84" y="79.00" width="3.88" height="1.05" fill="#fdf4f3"/>
<rect x="39.60" y="80.00" width="3.88" height="1.05" fill="#d8d8f6"/>
<rect x="43.43" y="80.00" width="3.88" height="1.05" fill="#d1d1f4"/>
<rect x="47.26" y="80.00" width="3.88" height="1.05" fill="#e1e1f8"/>
<rect x="51.09" y="80.00" width="3.88" height="1.05" fill="#d8d8f6"/>
<rect x="54.92" y="80.00" width="3.88" height="1.05" fill="#e9e9fa"/>
<rect x="58.75" y="80.00" width="3.88" height="1.05" fill="#d7d7f6"/>
<rect x="62.58" y="80.00" width="3.88" height="1.05" fill="#c3c3f1"/>
<rect x="66.41" y="80.00" width="3.88" height="1.05" fill="#c1c1f0"/>
<rect x="70.24" y="80.00" width="3.88" height="1.05" fill="#b7b7ee"/>
<rect x="74.07" y="80.00" width="3.88" height="1.05" fill="#d93829"/>
<rect x="77.90" y="80.00" width="3.88" height="1.05" fill="#f8d8d5"/>
<rect x="81.73" y="80.00" width="3.88" height="1.05" fill="#fae5e3"/>
<rect x="85.56" y="80.00" width="3.88" height="1.05" fill="#fbe9e8"/>
<rect x="89.39" y="80.00" width="3.88" height="1.05" fill="#fceeed"/>
<rect x="93.22" y="80.00" width="3.88" height="1.05" fill="#f9e2df"/>
<rect x="97.05" y="80.00" width="3.88" height="1.05" fill="#fcf1f0"/>
<rect x="100.88" y="80.00" width="3.88" height="1.05" fill="#fdf7f6"/>
<rect x="104.71" y="80.00" width="3.88" height="1.05" fill="#f6d2ce"/>
<rect x="108.54" y="80.00" width="3.88" height="1.05" fill="#fcf1f0"/>
<rect x="112.37" y="80.00" width="3.88" height="1.05" fill="#fcedec"/>
<rect x="116.20" y="80.00" width="3.88" height="1.05" fill="#f2bcb8"/>
<rect x="120.03" y="80.00" width="3.88" height="1.05" fill="#f3bfba"/>
<rect x="123.86" y="80.00" width="3.88" height="1.05" fill="#f6d0cc"/>
<rect x="127.69" y="80.00" width="3.88" height="1.05" fill="#fcf1f0"/>
<rect x="131.52" y="80.00" width="3.88" height="1.05" fill="#fcf0ef"/>
<rect x="135.35" y="80.00" width="3.88" height="1.05" fill="#fdf3f2"/>
<rect x="139.18" y="80.00" width="3.88" height="1.05" fill="#fcf0ef"/>
<rect x="143.01" y="80.00" width="3.88" height="1.05" fill="#fae4e2"/>
<rect x="146.84" y="80.00" width="3.88" height="1.05" fill="#fae3e1"/>
<rect x="39.60" y="81.00" width="3.88" height="1.05" fill="#c0c0f0"/>
<rect x="43.43" y="81.00" width="3.88" height="1.05" fill="#cecef3"/>
<rect x="47.26" y="81.00" width="3.88" height="1.05" fill="#d2d2f4"/>
<rect x="51.09" y="81.00" width="3.88" height="1.05" fill="#ededfb"/>
<rect x="54.92" y="81.00" width="3.88" height="1.05" fill="#dfdff7"/>
<rect x="58.75" y="81.00" width="3.88" height="1.05" fill="#d0d0f4"/>
<rect x="62.58" y="81.00" width="3.88" height="1.05" fill="#ababeb"/>
<rect x="66.41" y="81.00" width="3.88" height="1.05" fill="#b6b6ee"/>
<rect x="70.24" y="81.00" width="3.88" height="1.05" fill="#c7c7f2"/>
<rect x="74.07" y="81.00" width="3.88" height="1.05" fill="#d93829"/>
<rect x="77.90" y="81.00" width="3.88" height="1.05" fill="#f8ddda"/>
<rect x="81.73" y="81.00" width="3.88" height="1.05" fill="#fbeae8"/>
<rect x="85.56" y="81.00" width="3.88" height="1.05" fill="#fbe8e6"/>
<rect x="89.39" y="81.00" width="3.88" height="1.05" fill="#fdf5f4"/>
<rect x="93.22" y="81.00" width="3.88" height="1.05" fill="#f8dbd8"/>
<rect x="97.05" y="81.00" width="3.88" height="1.05" fill="#fcedec"/>
<rect x="100.88" y="81.00" width="3.88" height="1.05" fill="#fcf0ef"/>
<rect x="104.71" y="81.00" width="3.88" height="1.05" fill="#fdf3f2"/>
<rect x="108.54" y="81.00" width="3.88" height="1.05" fill="#f8d8d6"/>
<rect x="112.37" y="81.00" width="3.88" height="1.05" fill="#f5cac6"/>
<rect x="116.20" y="81.00" width="3.88" height="1.05" fill="#f2bcb7"/>
<rect x="120.03" y="81.00" width="3.88" height="1.05" fill="#f0aea8"/>
<rect x="123.86" y="81.00" width="3.88" height="1.05" fill="#f6cdca"/>
<rect x="127.69" y="81.00" width="3.88" height="1.05" fill="#fceeed"/>
<rect x="131.52" y="81.00" width="3.88" height="1.05" fill="#f9dedb"/>
<rect x="135.35" y="81.00" width="3.88" height="1.05" fill="#f8dcd9"/>
<rect x="139.18" y="81.00" width="3.88" height="1.05" fill="#fdf5f4"/>
<rect x="143.01" y="81.00" width="3.88" height="1.05" fill="#f7d2cf"/>
<rect x="146.84" y="81.00" width="3.88" height="1.05" fill="#f9dfdc"/>
<rect x="39.60" y="82.00" width="3.88" height="1.05" fill="#ddddf7"/>
<rect x="43.43" y="82.00" width="3.88" height="1.05" fill="#ccccf3"/>
<rect x="47.26" y="82.00" width="3.88" height="1.05" fill="#d2d2f4"/>
<rect x="51.09" y="82.00" width="3.88" height="1.05" fill="#e6e6f9"/>
<rect x="54.92" y="82.00" width="3.88" height="1.05" fill="#dadaf6"/>
<rect x="58.75" y="82.00" width="3.88" height="1.05" fill="#c7c7f2"/>
<rect x="62.58" y="82.00" width="3.88" height="1.05" fill="#c2c2f1"/>
<rect x="66.41" y="82.00" width="3.88" height="1.05" fill="#b7b7ee"/>
<rect x="70.24" y="82.00" width="3.88" height="1.05" fill="#c5c5f1"/>
<rect x="74.07" y="82.00" width="3.88" height="1.05" fill="#d93829"/>
<rect x="77.90" y="82.00" width="3.88" height="1.05" fill="#f7d7d5"/>
<rect x="81.73" y="82.00" width="3.88" height="1.05" fill="#fbe8e7"/>
<rect x="85.56" y="82.00" width="3.88" height="1.05" fill="#fae2e0"/>
<rect x="89.39" y="82.00" width="3.88" height="1.05" fill="#fef8f7"/>
<rect x="93.22" y="82.00" width="3.88" height="1.05" fill="#f9e1df"/>
<rect x="97.05" y="82.00" width="3.88" height="1.05" fill="#f7d6d3"/>
<rect x="100.88" y="82.00" width="3.88" height="1.05" fill="#f8d9d6"/>
<rect x="104.71" y="82.00" width="3.88" height="1.05" fill="#fbecea"/>
<rect x="108.54" y="82.00" width="3.88" height="1.05" fill="#f2b9b4"/>
<rect x="112.37" y="82.00" width="3.88" height="1.05" fill="#f1b4af"/>
<rect x="116.20" y="82.00" width="3.88" height="1.05" fill="#f1b4af"/>
<rect x="120.03" y="82.00" width="3.88" height="1.05" fill="#f4c5c0"/>
<rect x="123.86" y="82.00" width="3.88" height="1.05" fill="#f1b8b3"/>
<rect x="127.69" y="82.00" width="3.88" height="1.05" fill="#f9e1df"/>
<rect x="131.52" y="82.00" width="3.88" height="1.05" fill="#f9ddda"/>
<rect x="135.35" y="82.00" width="3.88" height="1.05" fill="#fcf1f0"/>
<rect x="139.18" y="82.00" width="3.88" height="1.05" fill="#f9e1df"/>
<rect x="143.01" y="82.00" width="3.88" height="1.05" fill="#f7d6d3"/>
<rect x="146.84" y="82.00" width="3.88" height="1.05" fill="#f7d3d0"/>
<rect x="39.60" y="83.00" width="3.88" height="1.05" fill="#d2d2f4"/>
<rect x="43.43" y="83.00" width="3.88" height="1.05" fill="#d2d2f4"/>
<rect x="47.26" y="83.00" width="3.88" height="1.05" fill="#e0e0f8"/>
<rect x="51.09" y="83.00" width="3.88" height="1.05" fill="#e0e0f8"/>
<rect x="54.92" y="83.00" width="3.88" height="1.05" fill="#e4e4f8"/>
<rect x="58.75" y="83.00" width="3.88" height="1.05" fill="#e4e4f9"/>
<rect x="62.58" y="83.00" width="3.88" height="1.05" fill="#d2d2f4"/>
<rect x="66.41" y="83.00" width="3.88" height="1.05" fill="#d1d1f4"/>
<rect x="70.24" y="83.00" width="3.88" height="1.05" fill="#cecef3"/>
<rect x="74.07" y="83.00" width="3.88" height="1.05" fill="#f1b7b1"/>
<rect x="77.90" y="83.00" width="3.88" height="1.05" fill="#f8dcda"/>
<rect x="81.73" y="83.00" width="3.88" height="1.05" fill="#fbeae9"/>
<rect x="85.56" y="83.00" width="3.88" height="1.05" fill="#f8ddda"/>
<rect x="89.39" y="83.00" width="3.88" height="1.05" fill="#f7d6d3"/>
<rect x="93.22" y="83.00" width="3.88" height="1.05" fill="#fbeceb"/>
<rect x="97.05" y="83.00" width="3.88" height="1.05" fill="#f9e2df"/>
<rect x="100.88" y="83.00" width="3.88" height="1.05" fill="#f7d5d2"/>
<rect x="104.71" y="83.00" width="3.88" height="1.05" fill="#fbebe9"/>
<rect x="108.54" y="83.00" width="3.88" height="1.05" fill="#f5cac6"/>
<rect x="112.37" y="83.00" width="3.88" height="1.05" fill="#f5ccc8"/>
<rect x="116.20" y="83.00" width="3.88" height="1.05" fill="#f3c2be"/>
<rect x="120.03" y="83.00" width="3.88" height="1.05" fill="#f3bfbb"/>
<rect x="123.86" y="83.00" width="3.88" height="1.05" fill="#f3beb9"/>
<rect x="127.69" y="83.00" width="3.88" height="1.05" fill="#f6d0cd"/>
<rect x="131.52" y="83.00" width="3.88" height="1.05" fill="#fae6e4"/>
<rect x="135.35" y="83.00" width="3.88" height="1.05" fill="#fae5e3"/>
<rect x="139.18" y="83.00" width="3.88" height="1.05" fill="#f9dfdd"/>
<rect x="143.01" y="83.00" width="3.88" height="1.05" fill="#ffffff"/>
<rect x="146.84" y="83.00" width="3.88" height="1.05" fill="#fefbfb"/>
<rect x="39.60" y="84.00" width="3.88" height="1.05" fill="#c2c2f0"/>
<rect x="43.43" y="84.00" width="3.88" height="1.05" fill="#e0e0f8"/>
<rect x="47.26" y="84.00" width="3.88" height="1.05" fill="#d7d7f6"/>
<rect x="51.09" y="84.00" width="3.88" height="1.05" fill="#c5c5f1"/>
<rect x="54.92" y="84.00" width="3.88" height="1.05" fill="#e9e9fa"/>
<rect x="58.75" y="84.00" width="3.88" height="1.05" fill="#d4d4f5"/>
<rect x="62.58" y="84.00" width="3.88" height="1.05" fill="#c2c2f1"/>
<rect x="66.41" y="84.00" width="3.88" height="1.05" fill="#d2d2f4"/>
<rect x="70.24" y="84.00" width="3.88" height="1.05" fill="#bebeef"/>
<rect x="74.07" y="84.00" width="3.88" height="1.05" fill="#eda29b"/>
<rect x="77.90" y="84.00" width="3.88" height="1.05" fill="#f6cfcc"/>
<rect x="81.73" y="84.00" width="3.88" height="1.05" fill="#f9e0de"/>
<rect x="85.56" y="84.00" width="3.88" height="1.05" fill="#f6d0cc"/>
<rect x="89.39" y="84.00" width="3.88" height="1.05" fill="#f9dedc"/>
<rect x="93.22" y="84.00" width="3.88" height="1.05" fill="#f6d0cd"/>
<rect x="97.05" y="84.00" width="3.88" height="1.05" fill="#fbeae9"/>
<rect x="100.88" y="84.00" width="3.88" height="1.05" fill="#f5cac6"/>
<rect x="104.71" y="84.00" width="3.88" height="1.05" fill="#f9dfdc"/>
<rect x="108.54" y="84.00" width="3.88" height="1.05" fill="#f3c0bc"/>
<rect x="112.37" y="84.00" width="3.88" height="1.05" fill="#eea49d"/>
<rect x="116.20" y="84.00" width="3.88" height="1.05" fill="#eb9991"/>
<rect x="120.03" y="84.00" width="3.88" height="1.05" fill="#f1b7b2"/>
<rect x="123.86" y="84.00" width="3.88" height="1.05" fill="#f3c1bd"/>
<rect x="127.69" y="84.00" width="3.88" height="1.05" fill="#fbe9e7"/>
<rect x="131.52" y="84.00" width="3.88" height="1.05" fill="#fae4e2"/>
<rect x="135.35" y="84.00" width="3.88" height="1.05" fill="#fae7e6"/>
<rect x="139.18" y="84.00" width="3.88" height="1.05" fill="#f7d7d4"/>
<rect x="143.01" y="84.00" width="3.88" height="1.05" fill="#fbe9e8"/>
<rect x="146.84" y="84.00" width="3.88" height="1.05" fill="#fae3e1"/>
<rect x="39.60" y="85.00" width="3.88" height="1.05" fill="#e3e3f8"/>
<rect x="43.43" y="85.00" width="3.88" height="1.05" fill="#cfcff4"/>
<rect x="47.26" y="85.00" width="3.88" height="1.05" fill="#d1d1f4"/>
<rect x="51.09" y="85.00" width="3.88" height="1.05" fill="#cecef3"/>
<rect x="54.92" y="85.00" width="3.88" height="1.05" fill="#e4e4f8"/>
<rect x="58.75" y="85.00" width="3.88" height="1.05" fill="#dfdff7"/>
<rect x="62.58" y="85.00" width="3.88" height="1.05" fill="#aaaaeb"/>
<rect x="66.41" y="85.00" width="3.88" height="1.05" fill="#cbcbf3"/>
<rect x="70.24" y="85.00" width="3.88" height="1.05" fill="#b3b3ed"/>
<rect x="74.07" y="85.00" width="3.88" height="1.05" fill="#ec9b94"/>
<rect x="77.90" y="85.00" width="3.88" height="1.05" fill="#f9e2df"/>
<rect x="81.73" y="85.00" width="3.88" height="1.05" fill="#fcedec"/>
<rect x="85.56" y="85.00" width="3.88" height="1.05" fill="#fdf2f1"/>
<rect x="89.39" y="85.00" width="3.88" height="1.05" fill="#fbebe9"/>
<rect x="93.22" y="85.00" width="3.88" height="1.05" fill="#fceeed"/>
<rect x="97.05" y="85.00" width="3.88" height="1.05" fill="#f8dcd9"/>
<rect x="100.88" y="85.00" width="3.88" height="1.05" fill="#fdf2f2"/>
<rect x="104.71" y="85.00" width="3.88" height="1.05" fill="#f9e0de"/>
<rect x="108.54" y="85.00" width="3.88" height="1.05" fill="#fae4e2"/>
<rect x="112.37" y="85.00" width="3.88" height="1.05" fill="#f7d4d1"/>
<rect x="116.20" y="85.00" width="3.88" height="1.05" fill="#eda19a"/>
<rect x="120.03" y="85.00" width="3.88" height="1.05" fill="#eea8a2"/>
<rect x="123.86" y="85.00" width="3.88" height="1.05" fill="#efa9a3"/>
<rect x="127.69" y="85.00" width="3.88" height="1.05" fill="#f8ddda"/>
<rect x="131.52" y="85.00" width="3.88" height="1.05" fill="#f4c7c3"/>
<rect x="135.35" y="85.00" width="3.88" height="1.05" fill="#f6d1ce"/>
<rect x="139.18" y="85.00" width="3.88" height="1.05" fill="#f8dad7"/>
<rect x="143.01" y="85.00" width="3.88" height="1.05" fill="#fefbfb"/>
<rect x="146.84" y="85.00" width="3.88" height="1.05" fill="#fae4e2"/>
<rect x="39.60" y="86.00" width="3.88" height="1.05" fill="#e8e8f9"/>
<rect x="43.43" y="86.00" width="3.88" height="1.05" fill="#dadaf6"/>
<rect x="47.26" y="86.00" width="3.88" height="1.05" fill="#dadaf6"/>
<rect x="51.09" y="86.00" width="3.88" height="1.05" fill="#dbdbf6"/>
<rect x="54.92" y="86.00" width="3.88" height="1.05" fill="#ebebfa"/>
<rect x="58.75" y="86.00" width="3.88" height="1.05" fill="#d6d6f5"/>
<rect x="62.58" y="86.00" width="3.88" height="1.05" fill="#d0d0f4"/>
<rect x="66.41" y="86.00" width="3.88" height="1.05" fill="#cdcdf3"/>
<rect x="70.24" y="86.00" width="3.88" height="1.05" fill="#c3c3f1"/>
<rect x="74.07" y="86.00" width="3.88" height="1.05" fill="#efaca6"/>
<rect x="77.90" y="86.00" width="3.88" height="1.05" fill="#f9e1df"/>
<rect x="81.73" y="86.00" width="3.88" height="1.05" fill="#f7d4d1"/>
<rect x="85.56" y="86.00" width="3.88" height="1.05" fill="#f4c6c2"/>
<rect x="89.39" y="86.00" width="3.88" height="1.05" fill="#fdfdfe"/>
<rect x="93.22" y="86.00" width="3.88" height="1.05" fill="#fdfdff"/>
<rect x="97.05" y="86.00" width="3.88" height="1.05" fill="#f7d6d3"/>
<rect x="100.88" y="86.00" width="3.88" height="1.05" fill="#fcf0ef"/>
<rect x="104.71" y="86.00" width="3.88" height="1.05" fill="#f8d8d5"/>
<rect x="108.54" y="86.00" width="3.88" height="1.05" fill="#fdf4f3"/>
<rect x="112.37" y="86.00" width="3.88" height="1.05" fill="#fae7e5"/>
<rect x="116.20" y="86.00" width="3.88" height="1.05" fill="#f1b6b1"/>
<rect x="120.03" y="86.00" width="3.88" height="1.05" fill="#f1b3ae"/>
<rect x="123.86" y="86.00" width="3.88" height="1.05" fill="#efaba5"/>
<rect x="127.69" y="86.00" width="3.88" height="1.05" fill="#f9e2e0"/>
<rect x="131.52" y="86.00" width="3.88" height="1.05" fill="#f8dad8"/>
<rect x="135.35" y="86.00" width="3.88" height="1.05" fill="#f7d7d4"/>
<rect x="139.18" y="86.00" width="3.88" height="1.05" fill="#f9e0dd"/>
<rect x="143.01" y="86.00" width="3.88" height="1.05" fill="#f3f3fc"/>
<rect x="146.84" y="86.00" width="3.88" height="1.05" fill="#efeffb"/>
<rect x="39.60" y="87.00" width="3.88" height="1.05" fill="#e9e9fa"/>
<rect x="43.43" y="87.00" width="3.88" height="1.05" fill="#ebebfa"/>
<rect x="47.26" y="87.00" width="3.88" height="1.05" fill="#dfdff7"/>
<rect x="51.09" y="87.00" width="3.88" height="1.05" fill="#ebebfa"/>
<rect x="54.92" y="87.00" width="3.88" height="1.05" fill="#fcfcfe"/>
<rect x="58.75" y="87.00" width="3.88" height="1.05" fill="#dedef7"/>
<rect x="62.58" y="87.00" width="3.88" height="1.05" fill="#dfdff7"/>
<rect x="66.41" y="87.00" width="3.88" height="1.05" fill="#e0e0f8"/>
<rect x="70.24" y="87.00" width="3.88" height="1.05" fill="#ddddf7"/>
<rect x="74.07" y="87.00" width="3.88" height="1.05" fill="#eea39d"/>
<rect x="77.90" y="87.00" width="3.88" height="1.05" fill="#fae4e2"/>
<rect x="81.73" y="87.00" width="3.88" height="1.05" fill="#fae6e4"/>
<rect x="85.56" y="87.00" width="3.88" height="1.05" fill="#fbe8e7"/>
<rect x="89.39" y="87.00" width="3.88" height="1.05" fill="#f0f0fb"/>
<rect x="93.22" y="87.00" width="3.88" height="1.05" fill="#f8f8fd"/>
<rect x="97.05" y="87.00" width="3.88" height="1.05" fill="#f8dcda"/>
<rect x="100.88" y="87.00" width="3.88" height="1.05" fill="#fceeec"/>
<rect x="104.71" y="87.00" width="3.88" height="1.05" fill="#f4f4fc"/>
<rect x="108.54" y="87.00" width="3.88" height="1.05" fill="#f9dfdc"/>
<rect x="112.37" y="87.00" width="3.88" height="1.05" fill="#fdf7f6"/>
<rect x="116.20" y="87.00" width="3.88" height="1.05" fill="#f7d4d1"/>
<rect x="120.03" y="87.00" width="3.88" height="1.05" fill="#f3bfbb"/>
<rect x="123.86" y="87.00" width="3.88" height="1.05" fill="#f3c1bd"/>
<rect x="127.69" y="87.00" width="3.88" height="1.05" fill="#f6f6fd"/>
<rect x="131.52" y="87.00" width="3.88" height="1.05" fill="#fefbfb"/>
<rect x="135.35" y="87.00" width="3.88" height="1.05" fill="#f1f1fc"/>
<rect x="139.18" y="87.00" width="3.88" height="1.05" fill="#f0f0fb"/>
<rect x="143.01" y="87.00" width="3.88" height="1.05" fill="#f9f9fe"/>
<rect x="146.84" y="87.00" width="3.88" height="1.05" fill="#fdf4f3"/>
<rect x="39.60" y="88.00" width="3.88" height="1.05" fill="#d2d2f4"/>
<rect x="43.43" y="88.00" width="3.88" height="1.05" fill="#d9d9f6"/>
<rect x="47.26" y="88.00" width="3.88" height="1.05" fill="#e6e6f9"/>
<rect x="51.09" y="88.00" width="3.88" height="1.05" fill="#d5d5f5"/>
<rect x="54.92" y="88.00" width="3.88" height="1.05" fill="#cfcff4"/>
<rect x="58.75" y="88.00" width="3.88" height="1.05" fill="#d4d4f5"/>
<rect x="62.58" y="88.00" width="3.88" height="1.05" fill="#a9a9ea"/>
<rect x="66.41" y="88.00" width="3.88" height="1.05" fill="#c3c3f1"/>
<rect x="70.24" y="88.00" width="3.88" height="1.05" fill="#bebeef"/>
<rect x="74.07" y="88.00" width="3.88" height="1.05" fill="#eb9891"/>
<rect x="77.90" y="88.00" width="3.88" height="1.05" fill="#f7d6d3"/>
<rect x="81.73" y="88.00" width="3.88" height="1.05" fill="#f5cdc9"/>
<rect x="85.56" y="88.00" width="3.88" height="1.05" fill="#f6d0cc"/>
<rect x="89.39" y="88.00" width="3.88" height="1.05" fill="#fcf1f0"/>
<rect x="93.22" y="88.00" width="3.88" height="1.05" fill="#f9e1df"/>
<rect x="97.05" y="88.00" width="3.88" height="1.05" fill="#f9dfdd"/>
<rect x="100.88" y="88.00" width="3.88" height="1.05" fill="#f8d8d5"/>
<rect x="104.71" y="88.00" width="3.88" height="1.05" fill="#f4c7c3"/>
<rect x="108.54" y="88.00" width="3.88" height="1.05" fill="#fbeae8"/>
<rect x="112.37" y="88.00" width="3.88" height="1.05" fill="#fae2e0"/>
<rect x="116.20" y="88.00" width="3.88" height="1.05" fill="#eea7a1"/>
<rect x="120.03" y="88.00" width="3.88" height="1.05" fill="#eea8a2"/>
<rect x="123.86" y="88.00" width="3.88" height="1.05" fill="#f2b9b4"/>
<rect x="127.69" y="88.00" width="3.88" height="1.05" fill="#d2d2f4"/>
<rect x="131.52" y="88.00" width="3.88" height="1.05" fill="#ddddf7"/>
<rect x="135.35" y="88.00" width="3.88" height="1.05" fill="#dfdff7"/>
<rect x="139.18" y="88.00" width="3.88" height="1.05" fill="#fae7e6"/>
<rect x="143.01" y="88.00" width="3.88" height="1.05" fill="#fcefee"/>
<rect x="146.84" y="88.00" width="3.88" height="1.05" fill="#fcefee"/>
<rect x="39.60" y="89.00" width="3.88" height="1.05" fill="#f5f5fd"/>
<rect x="43.43" y="89.00" width="3.88" height="1.05" fill="#ffffff"/>
<rect x="47.26" y="89.00" width="3.88" height="1.05" fill="#e5e5f9"/>
<rect x="51.09" y="89.00" width="3.88" height="1.05" fill="#fdf2f1"/>
<rect x="54.92" y="89.00" width="3.88" height="1.05" fill="#dedef7"/>
<rect x="58.75" y="89.00" width="3.88" height="1.05" fill="#ebebfa"/>
<rect x="62.58" y="89.00" width="3.88" height="1.05" fill="#d4d4f5"/>
<rect x="66.41" y="89.00" width="3.88" height="1.05" fill="#ddddf7"/>
<rect x="70.24" y="89.00" width="3.88" height="1.05" fill="#cecef3"/>
<rect x="74.07" y="89.00" width="3.88" height="1.05" fill="#f1b7b2"/>
<rect x="77.90" y="89.00" width="3.88" height="1.05" fill="#fdf7f6"/>
<rect x="81.73" y="89.00" width="3.88" height="1.05" fill="#fae3e1"/>
<rect x="85.56" y="89.00" width="3.88" height="1.05" fill="#f8dad7"/>
<rect x="89.39" y="89.00" width="3.88" height="1.05" fill="#ffffff"/>
<rect x="93.22" y="89.00" width="3.88" height="1.05" fill="#fdf7f6"/>
<rect x="97.05" y="89.00" width="3.88" height="1.05" fill="#fbfbfe"/>
<rect x="100.88" y="89.00" width="3.88" height="1.05" fill="#fdf2f1"/>
<rect x="104.71" y="89.00" width="3.88" height="1.05" fill="#fcf0ef"/>
<rect x="108.54" y="89.00" width="3.88" height="1.05" fill="#fefbfa"/>
<rect x="112.37" y="89.00" width="3.88" height="1.05" fill="#f9f9fd"/>
<rect x="116.20" y="89.00" width="3.88" height="1.05" fill="#f3bfbb"/>
<rect x="120.03" y="89.00" width="3.88" height="1.05" fill="#f3c2be"/>
<rect x="123.86" y="89.00" width="3.88" height="1.05" fill="#f0b3ad"/>
<rect x="127.69" y="89.00" width="3.88" height="1.05" fill="#e5e5f9"/>
<rect x="131.52" y="89.00" width="3.88" height="1.05" fill="#eaeafa"/>
<rect x="135.35" y="89.00" width="3.88" height="1.05" fill="#f5f5fd"/>
<rect x="139.18" y="89.00" width="3.88" height="1.05" fill="#fceeed"/>
<rect x="143.01" y="89.00" width="3.88" height="1.05" fill="#f8f8fd"/>
<rect x="146.84" y="89.00" width="3.88" height="1.05" fill="#fcf0ef"/>
<rect x="39.60" y="90.00" width="3.88" height="1.05" fill="#ebebfa"/>
<rect x="43.43" y="90.00" width="3.88" height="1.05" fill="#ebebfa"/>
<rect x="47.26" y="90.00" width="3.88" height="1.05" fill="#e2e2f8"/>
<rect x="51.09" y="90.00" width="3.88" height="1.05" fill="#fefcfc"/>
<rect x="54.92" y="90.00" width="3.88" height="1.05" fill="#e2e2f8"/>
<rect x="58.75" y="90.00" width="3.88" height="1.05" fill="#ebebfa"/>
<rect x="62.58" y="90.00" width="3.88" height="1.05" fill="#ebebfa"/>
<rect x="66.41" y="90.00" width="3.88" height="1.05" fill="#d7d7f5"/>
<rect x="70.24" y="90.00" width="3.88" height="1.05" fill="#d4d4f5"/>
<rect x="74.07" y="90.00" width="3.88" height="1.05" fill="#e47167"/>
<rect x="77.90" y="90.00" width="3.88" height="1.05" fill="#fbecea"/>
<rect x="81.73" y="90.00" width="3.88" height="1.05" fill="#fdf6f6"/>
<rect x="85.56" y="90.00" width="3.88" height="1.05" fill="#fefaf9"/>
<rect x="89.39" y="90.00" width="3.88" height="1.05" fill="#fffdfd"/>
<rect x="93.22" y="90.00" width="3.88" height="1.05" fill="#fcefee"/>
<rect x="97.05" y="90.00" width="3.88" height="1.05" fill="#fdf3f2"/>
<rect x="100.88" y="90.00" width="3.88" height="1.05" fill="#fefafa"/>
<rect x="104.71" y="90.00" width="3.88" height="1.05" fill="#fef9f9"/>
<rect x="108.54" y="90.00" width="3.88" height="1.05" fill="#f9f9fe"/>
<rect x="112.37" y="90.00" width="3.88" height="1.05" fill="#fcfcfe"/>
<rect x="116.20" y="90.00" width="3.88" height="1.05" fill="#f5f5fd"/>
<rect x="120.03" y="90.00" width="3.88" height="1.05" fill="#fae7e5"/>
<rect x="123.86" y="90.00" width="3.88" height="1.05" fill="#f8dcd9"/>
<rect x="127.69" y="90.00" width="3.88" height="1.05" fill="#e9e9fa"/>
<rect x="131.52" y="90.00" width="3.88" height="1.05" fill="#fafafe"/>
<rect x="135.35" y="90.00" width="3.88" height="1.05" fill="#f8f8fd"/>
<rect x="139.18" y="90.00" width="3.88" height="1.05" fill="#fdf3f2"/>
<rect x="143.01" y="90.00" width="3.88" height="1.05" fill="#fdf3f2"/>
<rect x="146.84" y="90.00" width="3.88" height="1.05" fill="#fcfcfe"/>
<rect x="39.60" y="91.00" width="3.88" height="1.05" fill="#d9d9f6"/>
<rect x="43.43" y="91.00" width="3.88" height="1.05" fill="#e7e7f9"/>
<rect x="47.26" y="91.00" width="3.88" height="1.05" fill="#eeeefb"/>
<rect x="51.09" y="91.00" width="3.88" height="1.05" fill="#f0f0fc"/>
<rect x="54.92" y="91.00" width="3.88" height="1.05" fill="#cdcdf3"/>
<rect x="58.75" y="91.00" width="3.88" height="1.05" fill="#f2f2fc"/>
<rect x="62.58" y="91.00" width="3.88" height="1.05" fill="#dbdbf6"/>
<rect x="66.41" y="91.00" width="3.88" height="1.05" fill="#d1d1f4"/>
<rect x="70.24" y="91.00" width="3.88" height="1.05" fill="#ccccf3"/>
<rect x="74.07" y="91.00" width="3.88" height="1.05" fill="#e36b61"/>
<rect x="77.90" y="91.00" width="3.88" height="1.05" fill="#fbfbfe"/>
<rect x="81.73" y="91.00" width="3.88" height="1.05" fill="#fefeff"/>
<rect x="85.56" y="91.00" width="3.88" height="1.05" fill="#fdf3f2"/>
<rect x="89.39" y="91.00" width="3.88" height="1.05" fill="#fdf3f2"/>
<rect x="93.22" y="91.00" width="3.88" height="1.05" fill="#fcfcfe"/>
<rect x="97.05" y="91.00" width="3.88" height="1.05" fill="#fefcfc"/>
<rect x="100.88" y="91.00" width="3.88" height="1.05" fill="#fbebea"/>
<rect x="104.71" y="91.00" width="3.88" height="1.05" fill="#fef7f7"/>
<rect x="108.54" y="91.00" width="3.88" height="1.05" fill="#fdfdff"/>
<rect x="112.37" y="91.00" width="3.88" height="1.05" fill="#fef8f8"/>
<rect x="116.20" y="91.00" width="3.88" height="1.05" fill="#fcf0ef"/>
<rect x="120.03" y="91.00" width="3.88" height="1.05" fill="#fefafa"/>
<rect x="123.86" y="91.00" width="3.88" height="1.05" fill="#f9dfdc"/>
<rect x="127.69" y="91.00" width="3.88" height="1.05" fill="#f3f3fc"/>
<rect x="131.52" y="91.00" width="3.88" height="1.05" fill="#e6e6f9"/>
<rect x="135.35" y="91.00" width="3.88" height="1.05" fill="#fffefe"/>
<rect x="139.18" y="91.00" width="3.88" height="1.05" fill="#f5f5fd"/>
<rect x="143.01" y="91.00" width="3.88" height="1.05" fill="#fceeed"/>
<rect x="146.84" y="91.00" width="3.88" height="1.05" fill="#fdf5f4"/>
<rect x="39.60" y="92.00" width="3.88" height="1.05" fill="#c5c5f1"/>
<rect x="43.43" y="92.00" width="3.88" height="1.05" fill="#cdcdf3"/>
<rect x="47.26" y="92.00" width="3.88" height="1.05" fill="#c4c4f1"/>
<rect x="51.09" y="92.00" width="3.88" height="1.05" fill="#ebebfa"/>
<rect x="54.92" y="92.00" width="3.88" height="1.05" fill="#bfbff0"/>
<rect x="58.75" y="92.00" width="3.88" height="1.05" fill="#d8d8f6"/>
<rect x="62.58" y="92.00" width="3.88" height="1.05" fill="#bfbff0"/>
<rect x="66.41" y="92.00" width="3.88" height="1.05" fill="#bbbbef"/>
<rect x="70.24" y="92.00" width="3.88" height="1.05" fill="#b5b5ed"/>
<rect x="74.07" y="92.00" width="3.88" height="1.05" fill="#e05a4e"/>
<rect x="77.90" y="92.00" width="3.88" height="1.05" fill="#de5346"/>
<rect x="81.73" y="92.00" width="3.88" height="1.05" fill="#f2bcb7"/>
<rect x="85.56" y="92.00" width="3.88" height="1.05" fill="#f8dad7"/>
<rect x="89.39" y="92.00" width="3.88" height="1.05" fill="#fdf3f2"/>
<rect x="93.22" y="92.00" width="3.88" height="1.05" fill="#fbe9e7"/>
<rect x="97.05" y="92.00" width="3.88" height="1.05" fill="#f8dcda"/>
<rect x="100.88" y="92.00" width="3.88" height="1.05" fill="#f6cfcc"/>
<rect x="104.71" y="92.00" width="3.88" height="1.05" fill="#fbeae9"/>
<rect x="108.54" y="92.00" width="3.88" height="1.05" fill="#f6d1cd"/>
<rect x="112.37" y="92.00" width="3.88" height="1.05" fill="#f8dbd8"/>
<rect x="116.20" y="92.00" width="3.88" height="1.05" fill="#f9dfdd"/>
<rect x="120.03" y="92.00" width="3.88" height="1.05" fill="#f2bab5"/>
<rect x="123.86" y="92.00" width="3.88" height="1.05" fill="#f6d0cc"/>
<rect x="127.69" y="92.00" width="3.88" height="1.05" fill="#e9e9fa"/>
<rect x="131.52" y="92.00" width="3.88" height="1.05" fill="#e9e9fa"/>
<rect x="135.35" y="92.00" width="3.88" height="1.05" fill="#d8d8f6"/>
<rect x="139.18" y="92.00" width="3.88" height="1.05" fill="#f9dedb"/>
<rect x="143.01" y="92.00" width="3.88" height="1.05" fill="#f7d3cf"/>
<rect x="146.84" y="92.00" width="3.88" height="1.05" fill="#fdf2f2"/>
<rect x="39.60" y="93.00" width="3.88" height="1.05" fill="#ddddf7"/>
<rect x="43.43" y="93.00" width="3.88" height="1.05" fill="#e1e1f8"/>
<rect x="47.26" y="93.00" width="3.88" height="1.05" fill="#f2f2fc"/>
<rect x="51.09" y="93.00" width="3.88" height="1.05" fill="#efeffb"/>
<rect x="54.92" y="93.00" width="3.88" height="1.05" fill="#f8f8fd"/>
<rect x="58.75" y="93.00" width="3.88" height="1.05" fill="#f0f0fb"/>
<rect x="62.58" y="93.00" width="3.88" height="1.05" fill="#c9c9f2"/>
<rect x="66.41" y="93.00" width="3.88" height="1.05" fill="#b3b3ed"/>
<rect x="70.24" y="93.00" width="3.88" height="1.05" fill="#d1d1f4"/>
<rect x="74.07" y="93.00" width="3.88" height="1.05" fill="#e5756b"/>
<rect x="77.90" y="93.00" width="3.88" height="1.05" fill="#e67970"/>
<rect x="81.73" y="93.00" width="3.88" height="1.05" fill="#f9e1df"/>
<rect x="85.56" y="93.00" width="3.88" height="1.05" fill="#fcf0ef"/>
<rect x="89.39" y="93.00" width="3.88" height="1.05" fill="#fdf6f5"/>
<rect x="93.22" y="93.00" width="3.88" height="1.05" fill="#fbeae9"/>
<rect x="97.05" y="93.00" width="3.88" height="1.05" fill="#fae7e5"/>
<rect x="100.88" y="93.00" width="3.88" height="1.05" fill="#fcedeb"/>
<rect x="104.71" y="93.00" width="3.88" height="1.05" fill="#fbe9e8"/>
<rect x="108.54" y="93.00" width="3.88" height="1.05" fill="#fcedec"/>
<rect x="112.37" y="93.00" width="3.88" height="1.05" fill="#fbedeb"/>
<rect x="116.20" y="93.00" width="3.88" height="1.05" fill="#fffefe"/>
<rect x="120.03" y="93.00" width="3.88" height="1.05" fill="#fefeff"/>
<rect x="123.86" y="93.00" width="3.88" height="1.05" fill="#fef9f9"/>
<rect x="127.69" y="93.00" width="3.88" height="1.05" fill="#f8f8fd"/>
<rect x="131.52" y="93.00" width="3.88" height="1.05" fill="#fffdfd"/>
<rect x="135.35" y="93.00" width="3.88" height="1.05" fill="#e8e8fa"/>
<rect x="139.18" y="93.00" width="3.88" height="1.05" fill="#fffefe"/>
<rect x="143.01" y="93.00" width="3.88" height="1.05" fill="#fefbfb"/>
<rect x="146.84" y="93.00" width="3.88" height="1.05" fill="#fae2e0"/>
<rect x="39.60" y="94.00" width="3.88" height="1.05" fill="#e5e5f9"/>
<rect x="43.43" y="94.00" width="3.88" height="1.05" fill="#ebebfa"/>
<rect x="47.26" y="94.00" width="3.88" height="1.05" fill="#c7c7f2"/>
<rect x="51.09" y="94.00" width="3.88" height="1.05" fill="#cfcff4"/>
<rect x="54.92" y="94.00" width="3.88" height="1.05" fill="#eeeefb"/>
<rect x="58.75" y="94.00" width="3.88" height="1.05" fill="#e4e4f9"/>
<rect x="62.58" y="94.00" width="3.88" height="1.05" fill="#c0c0f0"/>
<rect x="66.41" y="94.00" width="3.88" height="1.05" fill="#c3c3f1"/>
<rect x="70.24" y="94.00" width="3.88" height="1.05" fill="#c7c7f2"/>
<rect x="74.07" y="94.00" width="3.88" height="1.05" fill="#e16358"/>
<rect x="77.90" y="94.00" width="3.88" height="1.05" fill="#e77f76"/>
<rect x="81.73" y="94.00" width="3.88" height="1.05" fill="#fae4e2"/>
<rect x="85.56" y="94.00" width="3.88" height="1.05" fill="#fbebea"/>
<rect x="89.39" y="94.00" width="3.88" height="1.05" fill="#fdf3f2"/>
<rect x="93.22" y="94.00" width="3.88" height="1.05" fill="#fdf2f1"/>
<rect x="97.05" y="94.00" width="3.88" height="1.05" fill="#fbeae8"/>
<rect x="100.88" y="94.00" width="3.88" height="1.05" fill="#f9e2df"/>
<rect x="104.71" y="94.00" width="3.88" height="1.05" fill="#fbebea"/>
<rect x="108.54" y="94.00" width="3.88" height="1.05" fill="#fdf6f5"/>
<rect x="112.37" y="94.00" width="3.88" height="1.05" fill="#fcf1f0"/>
<rect x="116.20" y="94.00" width="3.88" height="1.05" fill="#fefafa"/>
<rect x="120.03" y="94.00" width="3.88" height="1.05" fill="#fbeceb"/>
<rect x="123.86" y="94.00" width="3.88" height="1.05" fill="#fdf3f2"/>
<rect x="127.69" y="94.00" width="3.88" height="1.05" fill="#eeeefb"/>
<rect x="131.52" y="94.00" width="3.88" height="1.05" fill="#f6f6fd"/>
<rect x="135.35" y="94.00" width="3.88" height="1.05" fill="#fdf4f3"/>
<rect x="139.18" y="94.00" width="3.88" height="1.05" fill="#fefeff"/>
<rect x="143.01" y="94.00" width="3.88" height="1.05" fill="#fef8f7"/>
<rect x="146.84" y="94.00" width="3.88" height="1.05" fill="#fef7f7"/>
<rect x="39.60" y="95.00" width="3.88" height="1.05" fill="#e0e0f8"/>
<rect x="43.43" y="95.00" width="3.88" height="1.05" fill="#ccccf3"/>
<rect x="47.26" y="95.00" width="3.88" height="1.05" fill="#b8b8ee"/>
<rect x="51.09" y="95.00" width="3.88" height="1.05" fill="#c9c9f2"/>
<rect x="54.92" y="95.00" width="3.88" height="1.05" fill="#cfcff4"/>
<rect x="58.75" y="95.00" width="3.88" height="1.05" fill="#e2e2f8"/>
<rect x="62.58" y="95.00" width="3.88" height="1.05" fill="#b0b0ec"/>
<rect x="66.41" y="95.00" width="3.88" height="1.05" fill="#a9a9ea"/>
<rect x="70.24" y="95.00" width="3.88" height="1.05" fill="#b0b0ec"/>
<rect x="74.07" y="95.00" width="3.88" height="1.05" fill="#e36e63"/>
<rect x="77.90" y="95.00" width="3.88" height="1.05" fill="#e67a70"/>
<rect x="81.73" y="95.00" width="3.88" height="1.05" fill="#f7d4d1"/>
<rect x="85.56" y="95.00" width="3.88" height="1.05" fill="#fbe9e8"/>
<rect x="89.39" y="95.00" width="3.88" height="1.05" fill="#fae6e4"/>
<rect x="93.22" y="95.00" width="3.88" height="1.05" fill="#fbe7e6"/>
<rect x="97.05" y="95.00" width="3.88" height="1.05" fill="#fae6e4"/>
<rect x="100.88" y="95.00" width="3.88" height="1.05" fill="#fdf3f2"/>
<rect x="104.71" y="95.00" width="3.88" height="1.05" fill="#ffffff"/>
<rect x="108.54" y="95.00" width="3.88" height="1.05" fill="#fae7e5"/>
<rect x="112.37" y="95.00" width="3.88" height="1.05" fill="#fcefee"/>
<rect x="116.20" y="95.00" width="3.88" height="1.05" fill="#fbebea"/>
<rect x="120.03" y="95.00" width="3.88" height="1.05" fill="#fae3e1"/>
<rect x="123.86" y="95.00" width="3.88" height="1.05" fill="#fef9f9"/>
<rect x="127.69" y="95.00" width="3.88" height="1.05" fill="#e0e0f8"/>
<rect x="131.52" y="95.00" width="3.88" height="1.05" fill="#e1e1f8"/>
<rect x="135.35" y="95.00" width="3.88" height="1.05" fill="#ddddf7"/>
<rect x="139.18" y="95.00" width="3.88" height="1.05" fill="#fae4e2"/>
<rect x="143.01" y="95.00" width="3.88" height="1.05" fill="#fbe8e7"/>
<rect x="146.84" y="95.00" width="3.88" height="1.05" fill="#fceeed"/>
<rect x="39.60" y="96.00" width="3.88" height="1.05" fill="#dadaf6"/>
<rect x="43.43" y="96.00" width="3.88" height="1.05" fill="#dfdff7"/>
<rect x="47.26" y="96.00" width="3.88" height="1.05" fill="#c7c7f2"/>
<rect x="51.09" y="96.00" width="3.88" height="1.05" fill="#dcdcf7"/>
<rect x="54.92" y="96.00" width="3.88" height="1.05" fill="#e9e9fa"/>
<rect x="58.75" y="96.00" width="3.88" height="1.05" fill="#e4e4f8"/>
<rect x="62.58" y="96.00" width="3.88" height="1.05" fill="#c3c3f1"/>
<rect x="66.41" y="96.00" width="3.88" height="1.05" fill="#cbcbf3"/>
<rect x="70.24" y="96.00" width="3.88" height="1.05" fill="#d9d9f6"/>
<rect x="74.07" y="96.00" width="3.88" height="1.05" fill="#efada7"/>
<rect x="77.90" y="96.00" width="3.88" height="1.05" fill="#ea8e86"/>
<rect x="81.73" y="96.00" width="3.88" height="1.05" fill="#fdf6f5"/>
<rect x="85.56" y="96.00" width="3.88" height="1.05" fill="#f9dedc"/>
<rect x="89.39" y="96.00" width="3.88" height="1.05" fill="#fdf2f1"/>
<rect x="93.22" y="96.00" width="3.88" height="1.05" fill="#f9f9fe"/>
<rect x="97.05" y="96.00" width="3.88" height="1.05" fill="#f9e0de"/>
<rect x="100.88" y="96.00" width="3.88" height="1.05" fill="#fae4e2"/>
<rect x="104.71" y="96.00" width="3.88" height="1.05" fill="#fceeec"/>
<rect x="108.54" y="96.00" width="3.88" height="1.05" fill="#fcedec"/>
<rect x="112.37" y="96.00" width="3.88" height="1.05" fill="#fae7e5"/>
<rect x="116.20" y="96.00" width="3.88" height="1.05" fill="#fcefee"/>
<rect x="120.03" y="96.00" width="3.88" height="1.05" fill="#fcf1f0"/>
<rect x="123.86" y="96.00" width="3.88" height="1.05" fill="#fae5e3"/>
<rect x="127.69" y="96.00" width="3.88" height="1.05" fill="#f4f4fc"/>
<rect x="131.52" y="96.00" width="3.88" height="1.05" fill="#ececfb"/>
<rect x="135.35" y="96.00" width="3.88" height="1.05" fill="#f0f0fc"/>
<rect x="139.18" y="96.00" width="3.88" height="1.05" fill="#fceeed"/>
<rect x="143.01" y="96.00" width="3.88" height="1.05" fill="#fefbfb"/>
<rect x="146.84" y="96.00" width="3.88" height="1.05" fill="#fae5e3"/>
<rect x="39.60" y="97.00" width="3.88" height="1.05" fill="#dedef7"/>
<rect x="43.43" y="97.00" width="3.88" height="1.05" fill="#dadaf6"/>
<rect x="47.26" y="97.00" width="3.88" height="1.05" fill="#c1c1f0"/>
<rect x="51.09" y="97.00" width="3.88" height="1.05" fill="#c2c2f0"/>
<rect x="54.92" y="97.00" width="3.88" height="1.05" fill="#e8e8f9"/>
<rect x="58.75" y="97.00" width="3.88" height="1.05" fill="#dbdbf6"/>
<rect x="62.58" y="97.00" width="3.88" height="1.05" fill="#d7d7f5"/>
<rect x="66.41" y="97.00" width="3.88" height="1.05" fill="#c0c0f0"/>
<rect x="70.24" y="97.00" width="3.88" height="1.05" fill="#bbbbef"/>
<rect x="74.07" y="97.00" width="3.88" height="1.05" fill="#f3bfbb"/>
<rect x="77.90" y="97.00" width="3.88" height="1.05" fill="#fdf6f6"/>
<rect x="81.73" y="97.00" width="3.88" height="1.05" fill="#fdf6f5"/>
<rect x="85.56" y="97.00" width="3.88" height="1.05" fill="#fae5e3"/>
<rect x="89.39" y="97.00" width="3.88" height="1.05" fill="#f4f4fc"/>
<rect x="93.22" y="97.00" width="3.88" height="1.05" fill="#fdfdfe"/>
<rect x="97.05" y="97.00" width="3.88" height="1.05" fill="#f9e2df"/>
<rect x="100.88" y="97.00" width="3.88" height="1.05" fill="#fceeed"/>
<rect x="104.71" y="97.00" width="3.88" height="1.05" fill="#f9e2e0"/>
<rect x="108.54" y="97.00" width="3.88" height="1.05" fill="#fae7e6"/>
<rect x="112.37" y="97.00" width="3.88" height="1.05" fill="#fae3e2"/>
<rect x="116.20" y="97.00" width="3.88" height="1.05" fill="#fbeceb"/>
<rect x="120.03" y="97.00" width="3.88" height="1.05" fill="#fffdfc"/>
<rect x="123.86" y="97.00" width="3.88" height="1.05" fill="#fcefee"/>
<rect x="127.69" y="97.00" width="3.88" height="1.05" fill="#f0f0fb"/>
<rect x="131.52" y="97.00" width="3.88" height="1.05" fill="#fefaf9"/>
<rect x="135.35" y="97.00" width="3.88" height="1.05" fill="#fdfdff"/>
<rect x="139.18" y="97.00" width="3.88" height="1.05" fill="#fceeed"/>
<rect x="143.01" y="97.00" width="3.88" height="1.05" fill="#fcf0ef"/>
<rect x="146.84" y="97.00" width="3.88" height="1.05" fill="#fbeceb"/>
<rect x="39.60" y="98.00" width="3.88" height="1.05" fill="#ccccf3"/>
<rect x="43.43" y="98.00" width="3.88" height="1.05" fill="#c2c2f0"/>
<rect x="47.26" y="98.00" width="3.88" height="1.05" fill="#e5e5f9"/>
<rect x="51.09" y="98.00" width="3.88" height="1.05" fill="#d1d1f4"/>
<rect x="54.92" y="98.00" width="3.88" height="1.05" fill="#cdcdf3"/>
<rect x="58.75" y="98.00" width="3.88" height="1.05" fill="#d4d4f5"/>
<rect x="62.58" y="98.00" width="3.88" height="1.05" fill="#b6b6ee"/>
<rect x="66.41" y="98.00" width="3.88" height="1.05" fill="#c3c3f1"/>
<rect x="70.24" y="98.00" width="3.88" height="1.05" fill="#b3b3ed"/>
<rect x="74.07" y="98.00" width="3.88" height="1.05" fill="#f2bbb6"/>
<rect x="77.90" y="98.00" width="3.88" height="1.05" fill="#fbeae9"/>
<rect x="81.73" y="98.00" width="3.88" height="1.05" fill="#f7d4d1"/>
<rect x="85.56" y="98.00" width="3.88" height="1.05" fill="#fae7e5"/>
<rect x="89.39" y="98.00" width="3.88" height="1.05" fill="#fcf2f1"/>
<rect x="93.22" y="98.00" width="3.88" height="1.05" fill="#f9dfdd"/>
<rect x="97.05" y="98.00" width="3.88" height="1.05" fill="#f9e0de"/>
<rect x="100.88" y="98.00" width="3.88" height="1.05" fill="#f7d7d4"/>
<rect x="104.71" y="98.00" width="3.88" height="1.05" fill="#f4c7c3"/>
<rect x="108.54" y="98.00" width="3.88" height="1.05" fill="#f9dedc"/>
<rect x="112.37" y="98.00" width="3.88" height="1.05" fill="#fbe7e6"/>
<rect x="116.20" y="98.00" width="3.88" height="1.05" fill="#fceeed"/>
<rect x="120.03" y="98.00" width="3.88" height="1.05" fill="#f9e1de"/>
<rect x="123.86" y="98.00" width="3.88" height="1.05" fill="#fae6e4"/>
<rect x="127.69" y="98.00" width="3.88" height="1.05" fill="#f6cfcc"/>
<rect x="131.52" y="98.00" width="3.88" height="1.05" fill="#f8dad8"/>
<rect x="135.35" y="98.00" width="3.88" height="1.05" fill="#fae7e5"/>
<rect x="139.18" y="98.00" width="3.88" height="1.05" fill="#f8dcda"/>
<rect x="143.01" y="98.00" width="3.88" height="1.05" fill="#f7d6d3"/>
<rect x="146.84" y="98.00" width="3.88" height="1.05" fill="#fae7e5"/>
<rect x="39.60" y="99.00" width="3.88" height="1.05" fill="#c4c4f1"/>
<rect x="43.43" y="99.00" width="3.88" height="1.05" fill="#a8a8ea"/>
<rect x="47.26" y="99.00" width="3.88" height="1.05" fill="#d4d4f5"/>
<rect x="51.09" y="99.00" width="3.88" height="1.05" fill="#d1d1f4"/>
<rect x="54.92" y="99.00" width="3.88" height="1.05" fill="#bebef0"/>
<rect x="58.75" y="99.00" width="3.88" height="1.05" fill="#dedef7"/>
<rect x="62.58" y="99.00" width="3.88" height="1.05" fill="#c4c4f1"/>
<rect x="66.41" y="99.00" width="3.88" height="1.05" fill="#c1c1f0"/>
<rect x="70.24" y="99.00" width="3.88" height="1.05" fill="#bcbcef"/>
<rect x="74.07" y="99.00" width="3.88" height="1.05" fill="#ea9088"/>
<rect x="77.90" y="99.00" width="3.88" height="1.05" fill="#fdf4f3"/>
<rect x="81.73" y="99.00" width="3.88" height="1.05" fill="#fef9f8"/>
<rect x="85.56" y="99.00" width="3.88" height="1.05" fill="#fbeae9"/>
<rect x="89.39" y="99.00" width="3.88" height="1.05" fill="#fdf4f4"/>
<rect x="93.22" y="99.00" width="3.88" height="1.05" fill="#fdf3f2"/>
<rect x="97.05" y="99.00" width="3.88" height="1.05" fill="#fae6e5"/>
<rect x="100.88" y="99.00" width="3.88" height="1.05" fill="#fae7e6"/>
<rect x="104.71" y="99.00" width="3.88" height="1.05" fill="#f6d0cd"/>
<rect x="108.54" y="99.00" width="3.88" height="1.05" fill="#fcf0ef"/>
<rect x="112.37" y="99.00" width="3.88" height="1.05" fill="#fbeae8"/>
<rect x="116.20" y="99.00" width="3.88" height="1.05" fill="#fffefe"/>
<rect x="120.03" y="99.00" width="3.88" height="1.05" fill="#fae4e2"/>
<rect x="123.86" y="99.00" width="3.88" height="1.05" fill="#f9e1df"/>
<rect x="127.69" y="99.00" width="3.88" height="1.05" fill="#f7d8d5"/>
<rect x="131.52" y="99.00" width="3.88" height="1.05" fill="#f8dcda"/>
<rect x="135.35" y="99.00" width="3.88" height="1.05" fill="#fcefee"/>
<rect x="139.18" y="99.00" width="3.88" height="1.05" fill="#fbeceb"/>
<rect x="143.01" y="99.00" width="3.88" height="1.05" fill="#fcf0ef"/>
<rect x="146.84" y="99.00" width="3.88" height="1.05" fill="#fae5e3"/>
<rect x="39.60" y="100.00" width="3.88" height="1.05" fill="#ffffff"/>
<rect x="43.43" y="100.00" width="3.88" height="1.05" fill="#eeeefb"/>
<rect x="47.26" y="100.00" width="3.88" height="1.05" fill="#fbecea"/>
<rect x="51.09" y="100.00" width="3.88" height="1.05" fill="#f4f4fc"/>
<rect x="54.92" y="100.00" width="3.88" height="1.05" fill="#fefafa"/>
<rect x="58.75" y="100.00" width="3.88" height="1.05" fill="#fefafa"/>
<rect x="62.58" y="100.00" width="3.88" height="1.05" fill="#fbebea"/>
<rect x="66.41" y="100.00" width="3.88" height="1.05" fill="#fefaf9"/>
<rect x="70.24" y="100.00" width="3.88" height="1.05" fill="#fefbfa"/>
<rect x="74.07" y="100.00" width="3.88" height="1.05" fill="#f0aea8"/>
<rect x="77.90" y="100.00" width="3.88" height="1.05" fill="#fbe9e7"/>
<rect x="81.73" y="100.00" width="3.88" height="1.05" fill="#fbebea"/>
<rect x="85.56" y="100.00" width="3.88" height="1.05" fill="#fae5e3"/>
<rect x="89.39" y="100.00" width="3.88" height="1.05" fill="#f7d5d2"/>
<rect x="93.22" y="100.00" width="3.88" height="1.05" fill="#f7d7d4"/>
<rect x="97.05" y="100.00" width="3.88" height="1.05" fill="#fae4e2"/>
<rect x="100.88" y="100.00" width="3.88" height="1.05" fill="#f8dad8"/>
<rect x="104.71" y="100.00" width="3.88" height="1.05" fill="#fae3e1"/>
<rect x="108.54" y="100.00" width="3.88" height="1.05" fill="#fbeceb"/>
<rect x="112.37" y="100.00" width="3.88" height="1.05" fill="#f8d8d5"/>
<rect x="116.20" y="100.00" width="3.88" height="1.05" fill="#fcf0ef"/>
<rect x="120.03" y="100.00" width="3.88" height="1.05" fill="#f8d9d7"/>
<rect x="123.86" y="100.00" width="3.88" height="1.05" fill="#f8dad7"/>
<rect x="127.69" y="100.00" width="3.88" height="1.05" fill="#fbe9e7"/>
<rect x="131.52" y="100.00" width="3.88" height="1.05" fill="#f9dfdd"/>
<rect x="135.35" y="100.00" width="3.88" height="1.05" fill="#fbe8e6"/>
<rect x="139.18" y="100.00" width="3.88" height="1.05" fill="#f9dddb"/>
<rect x="143.01" y="100.00" width="3.88" height="1.05" fill="#f8d9d7"/>
<rect x="146.84" y="100.00" width="3.88" height="1.05" fill="#f7d7d5"/>
<rect x="39.60" y="101.00" width="3.88" height="1.05" fill="#fbeae9"/>
<rect x="43.43" y="101.00" width="3.88" height="1.05" fill="#f9f9fe"/>
<rect x="47.26" y="101.00" width="3.88" height="1.05" fill="#fcefee"/>
<rect x="51.09" y="101.00" width="3.88" height="1.05" fill="#f5f5fd"/>
<rect x="54.92" y="101.00" width="3.88" height="1.05" fill="#fcf0ef"/>
<rect x="58.75" y="101.00" width="3.88" height="1.05" fill="#fcf1f0"/>
<rect x="62.58" y="101.00" width="3.88" height="1.05" fill="#fdf6f5"/>
<rect x="66.41" y="101.00" width="3.88" height="1.05" fill="#fbecea"/>
<rect x="70.24" y="101.00" width="3.88" height="1.05" fill="#fbecea"/>
<rect x="74.07" y="101.00" width="3.88" height="1.05" fill="#e98b83"/>
<rect x="77.90" y="101.00" width="3.88" height="1.05" fill="#f6d0cd"/>
<rect x="81.73" y="101.00" width="3.88" height="1.05" fill="#f7d7d4"/>
<rect x="85.56" y="101.00" width="3.88" height="1.05" fill="#f7d2cf"/>
<rect x="89.39" y="101.00" width="3.88" height="1.05" fill="#f8d9d7"/>
<rect x="93.22" y="101.00" width="3.88" height="1.05" fill="#f7d7d4"/>
<rect x="97.05" y="101.00" width="3.88" height="1.05" fill="#f9dedb"/>
<rect x="100.88" y="101.00" width="3.88" height="1.05" fill="#f9e1de"/>
<rect x="104.71" y="101.00" width="3.88" height="1.05" fill="#f6d1ce"/>
<rect x="108.54" y="101.00" width="3.88" height="1.05" fill="#f6cdca"/>
<rect x="112.37" y="101.00" width="3.88" height="1.05" fill="#f7d3d0"/>
<rect x="116.20" y="101.00" width="3.88" height="1.05" fill="#f7d5d2"/>
<rect x="120.03" y="101.00" width="3.88" height="1.05" fill="#f7d7d4"/>
<rect x="123.86" y="101.00" width="3.88" height="1.05" fill="#f9dedb"/>
<rect x="127.69" y="101.00" width="3.88" height="1.05" fill="#fbeae8"/>
<rect x="131.52" y="101.00" width="3.88" height="1.05" fill="#f7d3d0"/>
<rect x="135.35" y="101.00" width="3.88" height="1.05" fill="#f7d8d5"/>
<rect x="139.18" y="101.00" width="3.88" height="1.05" fill="#f6cdca"/>
<rect x="143.01" y="101.00" width="3.88" height="1.05" fill="#fae2e0"/>
<rect x="146.84" y="101.00" width="3.88" height="1.05" fill="#f6ceca"/>
<rect x="39.60" y="102.00" width="3.88" height="1.05" fill="#fef8f7"/>
<rect x="43.43" y="102.00" width="3.88" height="1.05" fill="#fefeff"/>
<rect x="47.26" y="102.00" width="3.88" height="1.05" fill="#f9e1de"/>
<rect x="51.09" y="102.00" width="3.88" height="1.05" fill="#fefeff"/>
<rect x="54.92" y="102.00" width="3.88" height="1.05" fill="#f8dad7"/>
<rect x="58.75" y="102.00" width="3.88" height="1.05" fill="#f9e1df"/>
<rect x="62.58" y="102.00" width="3.88" height="1.05" fill="#fbebea"/>
<rect x="66.41" y="102.00" width="3.88" height="1.05" fill="#fbebe9"/>
<rect x="70.24" y="102.00" width="3.88" height="1.05" fill="#fdf6f6"/>
<rect x="74.07" y="102.00" width="3.88" height="1.05" fill="#e47066"/>
<rect x="77.90" y="102.00" width="3.88" height="1.05" fill="#f4c7c3"/>
<rect x="81.73" y="102.00" width="3.88" height="1.05" fill="#f8dbd9"/>
<rect x="85.56" y="102.00" width="3.88" height="1.05" fill="#f7d6d3"/>
<rect x="89.39" y="102.00" width="3.88" height="1.05" fill="#f5cac6"/>
<rect x="93.22" y="102.00" width="3.88" height="1.05" fill="#f6d2cf"/>
<rect x="97.05" y="102.00" width="3.88" height="1.05" fill="#f6d0cc"/>
<rect x="100.88" y="102.00" width="3.88" height="1.05" fill="#f6cfcb"/>
<rect x="104.71" y="102.00" width="3.88" height="1.05" fill="#f6cfcb"/>
<rect x="108.54" y="102.00" width="3.88" height="1.05" fill="#f9dedb"/>
<rect x="112.37" y="102.00" width="3.88" height="1.05" fill="#f8d9d6"/>
<rect x="116.20" y="102.00" width="3.88" height="1.05" fill="#f7d5d2"/>
<rect x="120.03" y="102.00" width="3.88" height="1.05" fill="#f9e0dd"/>
<rect x="123.86" y="102.00" width="3.88" height="1.05" fill="#f9dddb"/>
<rect x="127.69" y="102.00" width="3.88" height="1.05" fill="#f9e1de"/>
<rect x="131.52" y="102.00" width="3.88" height="1.05" fill="#f8dad7"/>
<rect x="135.35" y="102.00" width="3.88" height="1.05" fill="#f6cecb"/>
<rect x="139.18" y="102.00" width="3.88" height="1.05" fill="#f3c0bc"/>
<rect x="143.01" y="102.00" width="3.88" height="1.05" fill="#f7d4d1"/>
<rect x="146.84" y="102.00" width="3.88" height="1.05" fill="#f6d2cf"/>
<rect x="39.60" y="103.00" width="3.88" height="1.05" fill="#fbe8e7"/>
<rect x="43.43" y="103.00" width="3.88" height="1.05" fill="#f8d9d6"/>
<rect x="47.26" y="103.00" width="3.88" height="1.05" fill="#f8dad8"/>
<rect x="51.09" y="103.00" width="3.88" height="1.05" fill="#fefbfa"/>
<rect x="54.92" y="103.00" width="3.88" height="1.05" fill="#f8d9d7"/>
<rect x="58.75" y="103.00" width="3.88" height="1.05" fill="#fae3e1"/>
<rect x="62.58" y="103.00" width="3.88" height="1.05" fill="#fbe9e7"/>
<rect x="66.41" y="103.00" width="3.88" height="1.05" fill="#fefafa"/>
<rect x="70.24" y="103.00" width="3.88" height="1.05" fill="#fae6e4"/>
<rect x="74.07" y="103.00" width="3.88" height="1.05" fill="#e47066"/>
<rect x="77.90" y="103.00" width="3.88" height="1.05" fill="#efaba5"/>
<rect x="81.73" y="103.00" width="3.88" height="1.05" fill="#f6cfcc"/>
<rect x="85.56" y="103.00" width="3.88" height="1.05" fill="#f4c4c0"/>
<rect x="89.39" y="103.00" width="3.88" height="1.05" fill="#f3c0bb"/>
<rect x="93.22" y="103.00" width="3.88" height="1.05" fill="#f7d6d3"/>
<rect x="97.05" y="103.00" width="3.88" height="1.05" fill="#f5cbc7"/>
<rect x="100.88" y="103.00" width="3.88" height="1.05" fill="#f8dad7"/>
<rect x="104.71" y="103.00" width="3.88" height="1.05" fill="#f5c8c4"/>
<rect x="108.54" y="103.00" width="3.88" height="1.05" fill="#f5c8c4"/>
<rect x="112.37" y="103.00" width="3.88" height="1.05" fill="#f3c0bb"/>
<rect x="116.20" y="103.00" width="3.88" height="1.05" fill="#f5cbc7"/>
<rect x="120.03" y="103.00" width="3.88" height="1.05" fill="#f6d2cf"/>
<rect x="123.86" y="103.00" width="3.88" height="1.05" fill="#f7d5d2"/>
<rect x="127.69" y="103.00" width="3.88" height="1.05" fill="#f8d9d6"/>
<rect x="131.52" y="103.00" width="3.88" height="1.05" fill="#f4c6c2"/>
<rect x="135.35" y="103.00" width="3.88" height="1.05" fill="#f6d0cc"/>
<rect x="139.18" y="103.00" width="3.88" height="1.05" fill="#f7d4d1"/>
<rect x="143.01" y="103.00" width="3.88" height="1.05" fill="#f5c8c5"/>
<rect x="146.84" y="103.00" width="3.88" height="1.05" fill="#f7d4d1"/>
<rect x="39.60" y="104.00" width="3.88" height="1.05" fill="#f9e1df"/>
<rect x="43.43" y="104.00" width="3.88" height="1.05" fill="#f9dfdc"/>
<rect x="47.26" y="104.00" width="3.88" height="1.05" fill="#f7d6d3"/>
<rect x="51.09" y="104.00" width="3.88" height="1.05" fill="#fbebe9"/>
<rect x="54.92" y="104.00" width="3.88" height="1.05" fill="#fae3e1"/>
<rect x="58.75" y="104.00" width="3.88" height="1.05" fill="#fae5e4"/>
<rect x="62.58" y="104.00" width="3.88" height="1.05" fill="#fbe8e6"/>
<rect x="66.41" y="104.00" width="3.88" height="1.05" fill="#fef7f7"/>
<rect x="70.24" y="104.00" width="3.88" height="1.05" fill="#fbeae9"/>
<rect x="74.07" y="104.00" width="3.88" height="1.05" fill="#e5746a"/>
<rect x="77.90" y="104.00" width="3.88" height="1.05" fill="#f2b9b4"/>
<rect x="81.73" y="104.00" width="3.88" height="1.05" fill="#f5cdc9"/>
<rect x="85.56" y="104.00" width="3.88" height="1.05" fill="#f7d3d0"/>
<rect x="89.39" y="104.00" width="3.88" height="1.05" fill="#f3c2be"/>
<rect x="93.22" y="104.00" width="3.88" height="1.05" fill="#f4c7c3"/>
<rect x="97.05" y="104.00" width="3.88" height="1.05" fill="#f5cac6"/>
<rect x="100.88" y="104.00" width="3.88" height="1.05" fill="#f8dcd9"/>
<rect x="104.71" y="104.00" width="3.88" height="1.05" fill="#f7d5d2"/>
<rect x="108.54" y="104.00" width="3.88" height="1.05" fill="#f6cfcb"/>
<rect x="112.37" y="104.00" width="3.88" height="1.05" fill="#f4c5c0"/>
<rect x="116.20" y="104.00" width="3.88" height="1.05" fill="#f8dcda"/>
<rect x="120.03" y="104.00" width="3.88" height="1.05" fill="#f7d6d3"/>
<rect x="123.86" y="104.00" width="3.88" height="1.05" fill="#f5cac7"/>
<rect x="127.69" y="104.00" width="3.88" height="1.05" fill="#f6cecb"/>
<rect x="131.52" y="104.00" width="3.88" height="1.05" fill="#f6cdca"/>
<rect x="135.35" y="104.00" width="3.88" height="1.05" fill="#f7d6d3"/>
<rect x="139.18" y="104.00" width="3.88" height="1.05" fill="#f2bdb8"/>
<rect x="143.01" y="104.00" width="3.88" height="1.05" fill="#f5cac6"/>
<rect x="146.84" y="104.00" width="3.88" height="1.05" fill="#f6d1cd"/>
<rect x="39.60" y="105.00" width="3.88" height="1.05" fill="#f3f3fc"/>
<rect x="43.43" y="105.00" width="3.88" height="1.05" fill="#efeffb"/>
<rect x="47.26" y="105.00" width="3.88" height="1.05" fill="#ededfb"/>
<rect x="51.09" y="105.00" width="3.88" height="1.05" fill="#e7e7f9"/>
<rect x="54.92" y="105.00" width="3.88" height="1.05" fill="#f6f6fd"/>
<rect x="58.75" y="105.00" width="3.88" height="1.05" fill="#e2e2f8"/>
<rect x="62.58" y="105.00" width="3.88" height="1.05" fill="#dedef7"/>
<rect x="66.41" y="105.00" width="3.88" height="1.05" fill="#c3c3f1"/>
<rect x="70.24" y="105.00" width="3.88" height="1.05" fill="#bebeef"/>
<rect x="74.07" y="105.00" width="3.88" height="1.05" fill="#f7d5d2"/>
<rect x="77.90" y="105.00" width="3.88" height="1.05" fill="#fbeae9"/>
<rect x="81.73" y="105.00" width="3.88" height="1.05" fill="#fdf6f5"/>
<rect x="85.56" y="105.00" width="3.88" height="1.05" fill="#fcf1f0"/>
<rect x="89.39" y="105.00" width="3.88" height="1.05" fill="#fbecea"/>
<rect x="93.22" y="105.00" width="3.88" height="1.05" fill="#fef8f7"/>
<rect x="97.05" y="105.00" width="3.88" height="1.05" fill="#fbe8e6"/>
<rect x="100.88" y="105.00" width="3.88" height="1.05" fill="#fefbfb"/>
<rect x="104.71" y="105.00" width="3.88" height="1.05" fill="#fdf6f5"/>
<rect x="108.54" y="105.00" width="3.88" height="1.05" fill="#f8f8fd"/>
<rect x="112.37" y="105.00" width="3.88" height="1.05" fill="#fefcfc"/>
<rect x="116.20" y="105.00" width="3.88" height="1.05" fill="#f5c9c5"/>
<rect x="120.03" y="105.00" width="3.88" height="1.05" fill="#e67b71"/>
<rect x="123.86" y="105.00" width="3.88" height="1.05" fill="#fcf0ef"/>
<rect x="127.69" y="105.00" width="3.88" height="1.05" fill="#ffffff"/>
<rect x="131.52" y="105.00" width="3.88" height="1.05" fill="#fcf0ef"/>
<rect x="135.35" y="105.00" width="3.88" height="1.05" fill="#fcf0ef"/>
<rect x="139.18" y="105.00" width="3.88" height="1.05" fill="#fdf7f6"/>
<rect x="143.01" y="105.00" width="3.88" height="1.05" fill="#fdf5f4"/>
<rect x="146.84" y="105.00" width="3.88" height="1.05" fill="#fef8f7"/>
<rect x="39.60" y="106.00" width="3.88" height="1.05" fill="#e8e8fa"/>
<rect x="43.43" y="106.00" width="3.88" height="1.05" fill="#cdcdf3"/>
<rect x="47.26" y="106.00" width="3.88" height="1.05" fill="#bcbcef"/>
<rect x="51.09" y="106.00" width="3.88" height="1.05" fill="#e5e5f9"/>
<rect x="54.92" y="106.00" width="3.88" height="1.05" fill="#ccccf3"/>
<rect x="58.75" y="106.00" width="3.88" height="1.05" fill="#cbcbf3"/>
<rect x="62.58" y="106.00" width="3.88" height="1.05" fill="#c5c5f1"/>
<rect x="66.41" y="106.00" width="3.88" height="1.05" fill="#bbbbef"/>
<rect x="70.24" y="106.00" width="3.88" height="1.05" fill="#b2b2ed"/>
<rect x="74.07" y="106.00" width="3.88" height="1.05" fill="#f3beba"/>
<rect x="77.90" y="106.00" width="3.88" height="1.05" fill="#f4c8c4"/>
<rect x="81.73" y="106.00" width="3.88" height="1.05" fill="#f9dedc"/>
<rect x="85.56" y="106.00" width="3.88" height="1.05" fill="#f8dcda"/>
<rect x="89.39" y="106.00" width="3.88" height="1.05" fill="#f8dbd8"/>
<rect x="93.22" y="106.00" width="3.88" height="1.05" fill="#fbe9e8"/>
<rect x="97.05" y="106.00" width="3.88" height="1.05" fill="#fbeceb"/>
<rect x="100.88" y="106.00" width="3.88" height="1.05" fill="#fae5e4"/>
<rect x="104.71" y="106.00" width="3.88" height="1.05" fill="#f4c8c4"/>
<rect x="108.54" y="106.00" width="3.88" height="1.05" fill="#fae7e6"/>
<rect x="112.37" y="106.00" width="3.88" height="1.05" fill="#f9dfdc"/>
<rect x="116.20" y="106.00" width="3.88" height="1.05" fill="#f1b8b3"/>
<rect x="120.03" y="106.00" width="3.88" height="1.05" fill="#e8857c"/>
<rect x="123.86" y="106.00" width="3.88" height="1.05" fill="#fafafe"/>
<rect x="127.69" y="106.00" width="3.88" height="1.05" fill="#fbe9e8"/>
<rect x="131.52" y="106.00" width="3.88" height="1.05" fill="#fceeec"/>
<rect x="135.35" y="106.00" width="3.88" height="1.05" fill="#fbe9e8"/>
<rect x="139.18" y="106.00" width="3.88" height="1.05" fill="#f9e1df"/>
<rect x="143.01" y="106.00" width="3.88" height="1.05" fill="#fcf1f0"/>
<rect x="146.84" y="106.00" width="3.88" height="1.05" fill="#f7d5d2"/>
<rect x="39.60" y="107.00" width="3.88" height="1.05" fill="#cfcff4"/>
<rect x="43.43" y="107.00" width="3.88" height="1.05" fill="#ccccf3"/>
<rect x="47.26" y="107.00" width="3.88" height="1.05" fill="#cfcff3"/>
<rect x="51.09" y="107.00" width="3.88" height="1.05" fill="#efeffb"/>
<rect x="54.92" y="107.00" width="3.88" height="1.05" fill="#c3c3f1"/>
<rect x="58.75" y="107.00" width="3.88" height="1.05" fill="#dadaf6"/>
<rect x="62.58" y="107.00" width="3.88" height="1.05" fill="#cbcbf3"/>
<rect x="66.41" y="107.00" width="3.88" height="1.05" fill="#b5b5ed"/>
<rect x="70.24" y="107.00" width="3.88" height="1.05" fill="#bebeef"/>
<rect x="74.07" y="107.00" width="3.88" height="1.05" fill="#f3c0bb"/>
<rect x="77.90" y="107.00" width="3.88" height="1.05" fill="#ea8f87"/>
<rect x="81.73" y="107.00" width="3.88" height="1.05" fill="#fae2e0"/>
<rect x="85.56" y="107.00" width="3.88" height="1.05" fill="#f8dad7"/>
<rect x="89.39" y="107.00" width="3.88" height="1.05" fill="#fbebea"/>
<rect x="93.22" y="107.00" width="3.88" height="1.05" fill="#fae6e4"/>
<rect x="97.05" y="107.00" width="3.88" height="1.05" fill="#fbecea"/>
<rect x="100.88" y="107.00" width="3.88" height="1.05" fill="#f9dedb"/>
<rect x="104.71" y="107.00" width="3.88" height="1.05" fill="#f8d8d5"/>
<rect x="108.54" y="107.00" width="3.88" height="1.05" fill="#f6d0cd"/>
<rect x="112.37" y="107.00" width="3.88" height="1.05" fill="#fae6e4"/>
<rect x="116.20" y="107.00" width="3.88" height="1.05" fill="#f1b4ae"/>
<rect x="120.03" y="107.00" width="3.88" height="1.05" fill="#e67d74"/>
<rect x="123.86" y="107.00" width="3.88" height="1.05" fill="#f4f4fc"/>
<rect x="127.69" y="107.00" width="3.88" height="1.05" fill="#f8dad8"/>
<rect x="131.52" y="107.00" width="3.88" height="1.05" fill="#f9e0de"/>
<rect x="135.35" y="107.00" width="3.88" height="1.05" fill="#fbebea"/>
<rect x="139.18" y="107.00" width="3.88" height="1.05" fill="#fbe9e7"/>
<rect x="143.01" y="107.00" width="3.88" height="1.05" fill="#f9dfdd"/>
<rect x="146.84" y="107.00" width="3.88" height="1.05" fill="#f9e0de"/>
<rect x="39.60" y="108.00" width="3.88" height="1.05" fill="#e0e0f8"/>
<rect x="43.43" y="108.00" width="3.88" height="1.05" fill="#e7e7f9"/>
<rect x="47.26" y="108.00" width="3.88" height="1.05" fill="#f1f1fc"/>
<rect x="51.09" y="108.00" width="3.88" height="1.05" fill="#f6f6fd"/>
<rect x="54.92" y="108.00" width="3.88" height="1.05" fill="#d4d4f5"/>
<rect x="58.75" y="108.00" width="3.88" height="1.05" fill="#d2d2f4"/>
<rect x="62.58" y="108.00" width="3.88" height="1.05" fill="#dadaf6"/>
<rect x="66.41" y="108.00" width="3.88" height="1.05" fill="#bbbbef"/>
<rect x="70.24" y="108.00" width="3.88" height="1.05" fill="#c0c0f0"/>
<rect x="74.07" y="108.00" width="3.88" height="1.05" fill="#f4c7c3"/>
<rect x="77.90" y="108.00" width="3.88" height="1.05" fill="#eb9890"/>
<rect x="81.73" y="108.00" width="3.88" height="1.05" fill="#fcedec"/>
<rect x="85.56" y="108.00" width="3.88" height="1.05" fill="#fbeceb"/>
<rect x="89.39" y="108.00" width="3.88" height="1.05" fill="#fefeff"/>
<rect x="93.22" y="108.00" width="3.88" height="1.05" fill="#fcf0ef"/>
<rect x="97.05" y="108.00" width="3.88" height="1.05" fill="#fbe9e7"/>
<rect x="100.88" y="108.00" width="3.88" height="1.05" fill="#fefafa"/>
<rect x="104.71" y="108.00" width="3.88" height="1.05" fill="#fefcfc"/>
<rect x="108.54" y="108.00" width="3.88" height="1.05" fill="#fbeae8"/>
<rect x="112.37" y="108.00" width="3.88" height="1.05" fill="#fcf1f0"/>
<rect x="116.20" y="108.00" width="3.88" height="1.05" fill="#f1b8b3"/>
<rect x="120.03" y="108.00" width="3.88" height="1.05" fill="#ea938b"/>
<rect x="123.86" y="108.00" width="3.88" height="1.05" fill="#fcefee"/>
<rect x="127.69" y="108.00" width="3.88" height="1.05" fill="#fdf7f6"/>
<rect x="131.52" y="108.00" width="3.88" height="1.05" fill="#fbe8e6"/>
<rect x="135.35" y="108.00" width="3.88" height="1.05" fill="#f9dfdd"/>
<rect x="139.18" y="108.00" width="3.88" height="1.05" fill="#fdf2f2"/>
<rect x="143.01" y="108.00" width="3.88" height="1.05" fill="#fae7e5"/>
<rect x="146.84" y="108.00" width="3.88" height="1.05" fill="#fdf7f6"/>
<rect x="39.60" y="109.00" width="3.88" height="1.05" fill="#cdcdf3"/>
<rect x="43.43" y="109.00" width="3.88" height="1.05" fill="#d0d0f4"/>
<rect x="47.26" y="109.00" width="3.88" height="1.05" fill="#d2d2f4"/>
<rect x="51.09" y="109.00" width="3.88" height="1.05" fill="#dcdcf7"/>
<rect x="54.92" y="109.00" width="3.88" height="1.05" fill="#cacaf2"/>
<rect x="58.75" y="109.00" width="3.88" height="1.05" fill="#d5d5f5"/>
<rect x="62.58" y="109.00" width="3.88" height="1.05" fill="#b5b5ed"/>
<rect x="66.41" y="109.00" width="3.88" height="1.05" fill="#c6c6f1"/>
<rect x="70.24" y="109.00" width="3.88" height="1.05" fill="#a7a7ea"/>
<rect x="74.07" y="109.00" width="3.88" height="1.05" fill="#f5ccc9"/>
<rect x="77.90" y="109.00" width="3.88" height="1.05" fill="#e98c84"/>
<rect x="81.73" y="109.00" width="3.88" height="1.05" fill="#f9dedb"/>
<rect x="85.56" y="109.00" width="3.88" height="1.05" fill="#f8dbd9"/>
<rect x="89.39" y="109.00" width="3.88" height="1.05" fill="#fae5e3"/>
<rect x="93.22" y="109.00" width="3.88" height="1.05" fill="#fae4e2"/>
<rect x="97.05" y="109.00" width="3.88" height="1.05" fill="#fae4e2"/>
<rect x="100.88" y="109.00" width="3.88" height="1.05" fill="#fae7e5"/>
<rect x="104.71" y="109.00" width="3.88" height="1.05" fill="#fef9f8"/>
<rect x="108.54" y="109.00" width="3.88" height="1.05" fill="#f8d9d7"/>
<rect x="112.37" y="109.00" width="3.88" height="1.05" fill="#f9e0dd"/>
<rect x="116.20" y="109.00" width="3.88" height="1.05" fill="#efaea8"/>
<rect x="120.03" y="109.00" width="3.88" height="1.05" fill="#e67b71"/>
<rect x="123.86" y="109.00" width="3.88" height="1.05" fill="#fcefed"/>
<rect x="127.69" y="109.00" width="3.88" height="1.05" fill="#f9e2e0"/>
<rect x="131.52" y="109.00" width="3.88" height="1.05" fill="#fae2e0"/>
<rect x="135.35" y="109.00" width="3.88" height="1.05" fill="#f8d8d5"/>
<rect x="139.18" y="109.00" width="3.88" height="1.05" fill="#fcf1f0"/>
<rect x="143.01" y="109.00" width="3.88" height="1.05" fill="#f9e0dd"/>
<rect x="146.84" y="109.00" width="3.88" height="1.05" fill="#fbebea"/>
<rect x="39.60" y="110.00" width="3.88" height="1.05" fill="#dbdbf6"/>
<rect x="43.43" y="110.00" width="3.88" height="1.05" fill="#d8d8f6"/>
<rect x="47.26" y="110.00" width="3.88" height="1.05" fill="#f3f3fc"/>
<rect x="51.09" y="110.00" width="3.88" height="1.05" fill="#e5e5f9"/>
<rect x="54.92" y="110.00" width="3.88" height="1.05" fill="#d4d4f5"/>
<rect x="58.75" y="110.00" width="3.88" height="1.05" fill="#e6e6f9"/>
<rect x="62.58" y="110.00" width="3.88" height="1.05" fill="#eaeafa"/>
<rect x="66.41" y="110.00" width="3.88" height="1.05" fill="#b4b4ed"/>
<rect x="70.24" y="110.00" width="3.88" height="1.05" fill="#c9c9f2"/>
<rect x="74.07" y="110.00" width="3.88" height="1.05" fill="#f5cdc9"/>
<rect x="77.90" y="110.00" width="3.88" height="1.05" fill="#efa9a3"/>
<rect x="81.73" y="110.00" width="3.88" height="1.05" fill="#fcefee"/>
<rect x="85.56" y="110.00" width="3.88" height="1.05" fill="#fdf7f6"/>
<rect x="89.39" y="110.00" width="3.88" height="1.05" fill="#fcefed"/>
<rect x="93.22" y="110.00" width="3.88" height="1.05" fill="#fbeceb"/>
<rect x="97.05" y="110.00" width="3.88" height="1.05" fill="#fcefee"/>
<rect x="100.88" y="110.00" width="3.88" height="1.05" fill="#f3f3fc"/>
<rect x="104.71" y="110.00" width="3.88" height="1.05" fill="#fcedec"/>
<rect x="108.54" y="110.00" width="3.88" height="1.05" fill="#fae4e2"/>
<rect x="112.37" y="110.00" width="3.88" height="1.05" fill="#fffefd"/>
<rect x="116.20" y="110.00" width="3.88" height="1.05" fill="#efa9a3"/>
<rect x="120.03" y="110.00" width="3.88" height="1.05" fill="#e98b82"/>
<rect x="123.86" y="110.00" width="3.88" height="1.05" fill="#efeffb"/>
<rect x="127.69" y="110.00" width="3.88" height="1.05" fill="#f0f0fc"/>
<rect x="131.52" y="110.00" width="3.88" height="1.05" fill="#fae7e5"/>
<rect x="135.35" y="110.00" width="3.88" height="1.05" fill="#fceeed"/>
<rect x="139.18" y="110.00" width="3.88" height="1.05" fill="#fefaf9"/>
<rect x="143.01" y="110.00" width="3.88" height="1.05" fill="#fef8f8"/>
<rect x="146.84" y="110.00" width="3.88" height="1.05" fill="#f6f6fd"/>
<rect x="39.60" y="111.00" width="3.88" height="1.05" fill="#d1d1f4"/>
<rect x="43.43" y="111.00" width="3.88" height="1.05" fill="#d6d6f5"/>
<rect x="47.26" y="111.00" width="3.88" height="1.05" fill="#eeeefb"/>
<rect x="51.09" y="111.00" width="3.88" height="1.05" fill="#d0d0f4"/>
<rect x="54.92" y="111.00" width="3.88" height="1.05" fill="#ebebfa"/>
<rect x="58.75" y="111.00" width="3.88" height="1.05" fill="#e1e1f8"/>
<rect x="62.58" y="111.00" width="3.88" height="1.05" fill="#dcdcf7"/>
<rect x="66.41" y="111.00" width="3.88" height="1.05" fill="#bbbbef"/>
<rect x="70.24" y="111.00" width="3.88" height="1.05" fill="#b6b6ee"/>
<rect x="74.07" y="111.00" width="3.88" height="1.05" fill="#f0afa9"/>
<rect x="77.90" y="111.00" width="3.88" height="1.05" fill="#ea9189"/>
<rect x="81.73" y="111.00" width="3.88" height="1.05" fill="#fdf6f5"/>
<rect x="85.56" y="111.00" width="3.88" height="1.05" fill="#f0b2ad"/>
<rect x="89.39" y="111.00" width="3.88" height="1.05" fill="#f7d7d4"/>
<rect x="93.22" y="111.00" width="3.88" height="1.05" fill="#f4c7c3"/>
<rect x="97.05" y="111.00" width="3.88" height="1.05" fill="#fdf6f5"/>
<rect x="100.88" y="111.00" width="3.88" height="1.05" fill="#fcf1f0"/>
<rect x="104.71" y="111.00" width="3.88" height="1.05" fill="#fbe9e7"/>
<rect x="108.54" y="111.00" width="3.88" height="1.05" fill="#fbe9e8"/>
<rect x="112.37" y="111.00" width="3.88" height="1.05" fill="#fae4e2"/>
<rect x="116.20" y="111.00" width="3.88" height="1.05" fill="#f3c2bd"/>
<rect x="120.03" y="111.00" width="3.88" height="1.05" fill="#e47369"/>
<rect x="123.86" y="111.00" width="3.88" height="1.05" fill="#f9e1df"/>
<rect x="127.69" y="111.00" width="3.88" height="1.05" fill="#fefcfb"/>
<rect x="131.52" y="111.00" width="3.88" height="1.05" fill="#fbe9e7"/>
<rect x="135.35" y="111.00" width="3.88" height="1.05" fill="#fdf4f3"/>
<rect x="139.18" y="111.00" width="3.88" height="1.05" fill="#fceeed"/>
<rect x="143.01" y="111.00" width="3.88" height="1.05" fill="#fef9f8"/>
<rect x="146.84" y="111.00" width="3.88" height="1.05" fill="#fbeceb"/>
<rect x="39.60" y="112.00" width="3.88" height="1.05" fill="#dfdff7"/>
<rect x="43.43" y="112.00" width="3.88" height="1.05" fill="#e1e1f8"/>
<rect x="47.26" y="112.00" width="3.88" height="1.05" fill="#f0f0fb"/>
<rect x="51.09" y="112.00" width="3.88" height="1.05" fill="#e2e2f8"/>
<rect x="54.92" y="112.00" width="3.88" height="1.05" fill="#ebebfa"/>
<rect x="58.75" y="112.00" width="3.88" height="1.05" fill="#e7e7f9"/>
<rect x="62.58" y="112.00" width="3.88" height="1.05" fill="#ececfa"/>
<rect x="66.41" y="112.00" width="3.88" height="1.05" fill="#ccccf3"/>
<rect x="70.24" y="112.00" width="3.88" height="1.05" fill="#cfcff4"/>
<rect x="74.07" y="112.00" width="3.88" height="1.05" fill="#f5cbc8"/>
<rect x="77.90" y="112.00" width="3.88" height="1.05" fill="#eea39d"/>
<rect x="81.73" y="112.00" width="3.88" height="1.05" fill="#f9f9fe"/>
<rect x="85.56" y="112.00" width="3.88" height="1.05" fill="#f0aea8"/>
<rect x="89.39" y="112.00" width="3.88" height="1.05" fill="#f3c2be"/>
<rect x="93.22" y="112.00" width="3.88" height="1.05" fill="#f7d6d3"/>
<rect x="97.05" y="112.00" width="3.88" height="1.05" fill="#fefaf9"/>
<rect x="100.88" y="112.00" width="3.88" height="1.05" fill="#fcf1f0"/>
<rect x="104.71" y="112.00" width="3.88" height="1.05" fill="#fffdfd"/>
<rect x="108.54" y="112.00" width="3.88" height="1.05" fill="#fbeae9"/>
<rect x="112.37" y="112.00" width="3.88" height="1.05" fill="#f9e1df"/>
<rect x="116.20" y="112.00" width="3.88" height="1.05" fill="#f6d1ce"/>
<rect x="120.03" y="112.00" width="3.88" height="1.05" fill="#ea8f87"/>
<rect x="123.86" y="112.00" width="3.88" height="1.05" fill="#fbebe9"/>
<rect x="127.69" y="112.00" width="3.88" height="1.05" fill="#fef8f7"/>
<rect x="131.52" y="112.00" width="3.88" height="1.05" fill="#fcefee"/>
<rect x="135.35" y="112.00" width="3.88" height="1.05" fill="#fdf3f2"/>
<rect x="139.18" y="112.00" width="3.88" height="1.05" fill="#fdf6f6"/>
<rect x="143.01" y="112.00" width="3.88" height="1.05" fill="#fdf4f3"/>
<rect x="146.84" y="112.00" width="3.88" height="1.05" fill="#fefbfa"/>
<rect x="39.60" y="113.00" width="3.88" height="1.05" fill="#ddddf7"/>
<rect x="43.43" y="113.00" width="3.88" height="1.05" fill="#dedef7"/>
<rect x="47.26" y="113.00" width="3.88" height="1.05" fill="#dedef7"/>
<rect x="51.09" y="113.00" width="3.88" height="1.05" fill="#eaeafa"/>
<rect x="54.92" y="113.00" width="3.88" height="1.05" fill="#eeeefb"/>
<rect x="58.75" y="113.00" width="3.88" height="1.05" fill="#fefeff"/>
<rect x="62.58" y="113.00" width="3.88" height="1.05" fill="#e4e4f9"/>
<rect x="66.41" y="113.00" width="3.88" height="1.05" fill="#e1e1f8"/>
<rect x="70.24" y="113.00" width="3.88" height="1.05" fill="#bcbcef"/>
<rect x="74.07" y="113.00" width="3.88" height="1.05" fill="#f2b9b4"/>
<rect x="77.90" y="113.00" width="3.88" height="1.05" fill="#ea9088"/>
<rect x="81.73" y="113.00" width="3.88" height="1.05" fill="#fefcfb"/>
<rect x="85.56" y="113.00" width="3.88" height="1.05" fill="#f4c5c1"/>
<rect x="89.39" y="113.00" width="3.88" height="1.05" fill="#f8dad7"/>
<rect x="93.22" y="113.00" width="3.88" height="1.05" fill="#fae2e0"/>
<rect x="97.05" y="113.00" width="3.88" height="1.05" fill="#fbedeb"/>
<rect x="100.88" y="113.00" width="3.88" height="1.05" fill="#fcedeb"/>
<rect x="104.71" y="113.00" width="3.88" height="1.05" fill="#fdf5f4"/>
<rect x="108.54" y="113.00" width="3.88" height="1.05" fill="#f5f5fd"/>
<rect x="112.37" y="113.00" width="3.88" height="1.05" fill="#fdf3f3"/>
<rect x="116.20" y="113.00" width="3.88" height="1.05" fill="#f4c3bf"/>
<rect x="120.03" y="113.00" width="3.88" height="1.05" fill="#e98a81"/>
<rect x="123.86" y="113.00" width="3.88" height="1.05" fill="#fbeae9"/>
<rect x="127.69" y="113.00" width="3.88" height="1.05" fill="#efeffb"/>
<rect x="131.52" y="113.00" width="3.88" height="1.05" fill="#fef8f8"/>
<rect x="135.35" y="113.00" width="3.88" height="1.05" fill="#fffcfc"/>
<rect x="139.18" y="113.00" width="3.88" height="1.05" fill="#ffffff"/>
<rect x="143.01" y="113.00" width="3.88" height="1.05" fill="#fdf6f6"/>
<rect x="146.84" y="113.00" width="3.88" height="1.05" fill="#fef9f9"/>
<rect x="39.60" y="114.00" width="3.88" height="1.05" fill="#d3d3f5"/>
<rect x="43.43" y="114.00" width="3.88" height="1.05" fill="#eaeafa"/>
<rect x="47.26" y="114.00" width="3.88" height="1.05" fill="#cecef3"/>
<rect x="51.09" y="114.00" width="3.88" height="1.05" fill="#e2e2f8"/>
<rect x="54.92" y="114.00" width="3.88" height="1.05" fill="#e8e8fa"/>
<rect x="58.75" y="114.00" width="3.88" height="1.05" fill="#e5e5f9"/>
<rect x="62.58" y="114.00" width="3.88" height="1.05" fill="#f2f2fc"/>
<rect x="66.41" y="114.00" width="3.88" height="1.05" fill="#cfcff4"/>
<rect x="70.24" y="114.00" width="3.88" height="1.05" fill="#c1c1f0"/>
<rect x="74.07" y="114.00" width="3.88" height="1.05" fill="#f8d9d6"/>
<rect x="77.90" y="114.00" width="3.88" height="1.05" fill="#eea49e"/>
<rect x="81.73" y="114.00" width="3.88" height="1.05" fill="#ffffff"/>
<rect x="85.56" y="114.00" width="3.88" height="1.05" fill="#f5cac7"/>
<rect x="89.39" y="114.00" width="3.88" height="1.05" fill="#f4c7c3"/>
<rect x="93.22" y="114.00" width="3.88" height="1.05" fill="#fae4e2"/>
<rect x="97.05" y="114.00" width="3.88" height="1.05" fill="#fefaf9"/>
<rect x="100.88" y="114.00" width="3.88" height="1.05" fill="#fceeed"/>
<rect x="104.71" y="114.00" width="3.88" height="1.05" fill="#f3f3fc"/>
<rect x="108.54" y="114.00" width="3.88" height="1.05" fill="#fceeed"/>
<rect x="112.37" y="114.00" width="3.88" height="1.05" fill="#fdf6f5"/>
<rect x="116.20" y="114.00" width="3.88" height="1.05" fill="#f2bdb9"/>
<rect x="120.03" y="114.00" width="3.88" height="1.05" fill="#e78178"/>
<rect x="123.86" y="114.00" width="3.88" height="1.05" fill="#f9e0dd"/>
<rect x="127.69" y="114.00" width="3.88" height="1.05" fill="#efeffb"/>
<rect x="131.52" y="114.00" width="3.88" height="1.05" fill="#fcf1f0"/>
<rect x="135.35" y="114.00" width="3.88" height="1.05" fill="#efeffb"/>
<rect x="139.18" y="114.00" width="3.88" height="1.05" fill="#f4f4fc"/>
<rect x="143.01" y="114.00" width="3.88" height="1.05" fill="#fbfbfe"/>
<rect x="146.84" y="114.00" width="3.88" height="1.05" fill="#ffffff"/>
<rect x="39.60" y="115.00" width="3.88" height="1.05" fill="#ececfa"/>
<rect x="43.43" y="115.00" width="3.88" height="1.05" fill="#eaeafa"/>
<rect x="47.26" y="115.00" width="3.88" height="1.05" fill="#cbcbf3"/>
<rect x="51.09" y="115.00" width="3.88" height="1.05" fill="#eeeefb"/>
<rect x="54.92" y="115.00" width="3.88" height="1.05" fill="#dcdcf7"/>
<rect x="58.75" y="115.00" width="3.88" height="1.05" fill="#ececfb"/>
<rect x="62.58" y="115.00" width="3.88" height="1.05" fill="#e9e9fa"/>
<rect x="66.41" y="115.00" width="3.88" height="1.05" fill="#cdcdf3"/>
<rect x="70.24" y="115.00" width="3.88" height="1.05" fill="#ddddf7"/>
<rect x="74.07" y="115.00" width="3.88" height="1.05" fill="#f8dad7"/>
<rect x="77.90" y="115.00" width="3.88" height="1.05" fill="#f9dddb"/>
<rect x="81.73" y="115.00" width="3.88" height="1.05" fill="#fdf3f3"/>
<rect x="85.56" y="115.00" width="3.88" height="1.05" fill="#f6d0cc"/>
<rect x="89.39" y="115.00" width="3.88" height="1.05" fill="#fae3e1"/>
<rect x="93.22" y="115.00" width="3.88" height="1.05" fill="#f7d5d2"/>
<rect x="97.05" y="115.00" width="3.88" height="1.05" fill="#fffefe"/>
<rect x="100.88" y="115.00" width="3.88" height="1.05" fill="#f9dfdc"/>
<rect x="104.71" y="115.00" width="3.88" height="1.05" fill="#fafafe"/>
<rect x="108.54" y="115.00" width="3.88" height="1.05" fill="#fdf7f7"/>
<rect x="112.37" y="115.00" width="3.88" height="1.05" fill="#fef9f8"/>
<rect x="116.20" y="115.00" width="3.88" height="1.05" fill="#f4c3bf"/>
<rect x="120.03" y="115.00" width="3.88" height="1.05" fill="#eea59f"/>
<rect x="123.86" y="115.00" width="3.88" height="1.05" fill="#fcf1f0"/>
<rect x="127.69" y="115.00" width="3.88" height="1.05" fill="#fdf3f2"/>
<rect x="131.52" y="115.00" width="3.88" height="1.05" fill="#fdf6f5"/>
<rect x="135.35" y="115.00" width="3.88" height="1.05" fill="#fefbfb"/>
<rect x="139.18" y="115.00" width="3.88" height="1.05" fill="#fffefe"/>
<rect x="143.01" y="115.00" width="3.88" height="1.05" fill="#fef9f9"/>
<rect x="146.84" y="115.00" width="3.88" height="1.05" fill="#fcedec"/>
<rect x="39.60" y="116.00" width="3.88" height="1.05" fill="#f0f0fb"/>
<rect x="43.43" y="116.00" width="3.88" height="1.05" fill="#f5f5fd"/>
<rect x="47.26" y="116.00" width="3.88" height="1.05" fill="#ebebfa"/>
<rect x="51.09" y="116.00" width="3.88" height="1.05" fill="#dadaf6"/>
<rect x="54.92" y="116.00" width="3.88" height="1.05" fill="#ededfb"/>
<rect x="58.75" y="116.00" width="3.88" height="1.05" fill="#e4e4f9"/>
<rect x="62.58" y="116.00" width="3.88" height="1.05" fill="#e4e4f9"/>
<rect x="66.41" y="116.00" width="3.88" height="1.05" fill="#b3b3ed"/>
<rect x="70.24" y="116.00" width="3.88" height="1.05" fill="#c8c8f2"/>
<rect x="74.07" y="116.00" width="3.88" height="1.05" fill="#f9e1df"/>
<rect x="77.90" y="116.00" width="3.88" height="1.05" fill="#f9dedc"/>
<rect x="81.73" y="116.00" width="3.88" height="1.05" fill="#fefbfa"/>
<rect x="85.56" y="116.00" width="3.88" height="1.05" fill="#f7d7d4"/>
<rect x="89.39" y="116.00" width="3.88" height="1.05" fill="#f4c4c0"/>
<rect x="93.22" y="116.00" width="3.88" height="1.05" fill="#f4c5c0"/>
<rect x="97.05" y="116.00" width="3.88" height="1.05" fill="#fafafe"/>
<rect x="100.88" y="116.00" width="3.88" height="1.05" fill="#fae4e2"/>
<rect x="104.71" y="116.00" width="3.88" height="1.05" fill="#eaeafa"/>
<rect x="108.54" y="116.00" width="3.88" height="1.05" fill="#fdf3f2"/>
<rect x="112.37" y="116.00" width="3.88" height="1.05" fill="#fbfbfe"/>
<rect x="116.20" y="116.00" width="3.88" height="1.05" fill="#f6cecb"/>
<rect x="120.03" y="116.00" width="3.88" height="1.05" fill="#e88880"/>
<rect x="123.86" y="116.00" width="3.88" height="1.05" fill="#fefbfb"/>
<rect x="127.69" y="116.00" width="3.88" height="1.05" fill="#fbebe9"/>
<rect x="131.52" y="116.00" width="3.88" height="1.05" fill="#fdf7f6"/>
<rect x="135.35" y="116.00" width="3.88" height="1.05" fill="#fdf2f1"/>
<rect x="139.18" y="116.00" width="3.88" height="1.05" fill="#fef8f8"/>
<rect x="143.01" y="116.00" width="3.88" height="1.05" fill="#fcedec"/>
<rect x="146.84" y="116.00" width="3.88" height="1.05" fill="#f7d3d0"/>
<rect x="39.60" y="117.00" width="3.88" height="1.05" fill="#dedef7"/>
<rect x="43.43" y="117.00" width="3.88" height="1.05" fill="#eaeafa"/>
<rect x="47.26" y="117.00" width="3.88" height="1.05" fill="#e5e5f9"/>
<rect x="51.09" y="117.00" width="3.88" height="1.05" fill="#dbdbf7"/>
<rect x="54.92" y="117.00" width="3.88" height="1.05" fill="#e2e2f8"/>
<rect x="58.75" y="117.00" width="3.88" height="1.05" fill="#f1f1fc"/>
<rect x="62.58" y="117.00" width="3.88" height="1.05" fill="#dfdff7"/>
<rect x="66.41" y="117.00" width="3.88" height="1.05" fill="#b9b9ee"/>
<rect x="70.24" y="117.00" width="3.88" height="1.05" fill="#c6c6f1"/>
<rect x="74.07" y="117.00" width="3.88" height="1.05" fill="#f7d8d5"/>
<rect x="77.90" y="117.00" width="3.88" height="1.05" fill="#f8d8d6"/>
<rect x="81.73" y="117.00" width="3.88" height="1.05" fill="#fcefee"/>
<rect x="85.56" y="117.00" width="3.88" height="1.05" fill="#f6cdca"/>
<rect x="89.39" y="117.00" width="3.88" height="1.05" fill="#f7d3d0"/>
<rect x="93.22" y="117.00" width="3.88" height="1.05" fill="#f5c9c5"/>
<rect x="97.05" y="117.00" width="3.88" height="1.05" fill="#fdf3f2"/>
<rect x="100.88" y="117.00" width="3.88" height="1.05" fill="#f9dedc"/>
<rect x="104.71" y="117.00" width="3.88" height="1.05" fill="#f9dedc"/>
<rect x="108.54" y="117.00" width="3.88" height="1.05" fill="#fdf4f3"/>
<rect x="112.37" y="117.00" width="3.88" height="1.05" fill="#fae6e4"/>
<rect x="116.20" y="117.00" width="3.88" height="1.05" fill="#f4c4c0"/>
<rect x="120.03" y="117.00" width="3.88" height="1.05" fill="#e77f76"/>
<rect x="123.86" y="117.00" width="3.88" height="1.05" fill="#f8dcd9"/>
<rect x="127.69" y="117.00" width="3.88" height="1.05" fill="#f5f5fd"/>
<rect x="131.52" y="117.00" width="3.88" height="1.05" fill="#fffefe"/>
<rect x="135.35" y="117.00" width="3.88" height="1.05" fill="#fefbfa"/>
<rect x="139.18" y="117.00" width="3.88" height="1.05" fill="#fae4e2"/>
<rect x="143.01" y="117.00" width="3.88" height="1.05" fill="#fcfcfe"/>
<rect x="146.84" y="117.00" width="3.88" height="1.05" fill="#f7d2cf"/>
<rect x="39.60" y="118.00" width="3.88" height="1.05" fill="#d4d4f5"/>
<rect x="43.43" y="118.00" width="3.88" height="1.05" fill="#f6f6fd"/>
<rect x="47.26" y="118.00" width="3.88" height="1.05" fill="#fefeff"/>
<rect x="51.09" y="118.00" width="3.88" height="1.05" fill="#fef8f7"/>
<rect x="54.92" y="118.00" width="3.88" height="1.05" fill="#eeeefb"/>
<rect x="58.75" y="118.00" width="3.88" height="1.05" fill="#fafafe"/>
<rect x="62.58" y="118.00" width="3.88" height="1.05" fill="#e6e6f9"/>
<rect x="66.41" y="118.00" width="3.88" height="1.05" fill="#dbdbf6"/>
<rect x="70.24" y="118.00" width="3.88" height="1.05" fill="#cecef3"/>
<rect x="74.07" y="118.00" width="3.88" height="1.05" fill="#f6d1ce"/>
<rect x="77.90" y="118.00" width="3.88" height="1.05" fill="#f4c6c2"/>
<rect x="81.73" y="118.00" width="3.88" height="1.05" fill="#fcefed"/>
<rect x="85.56" y="118.00" width="3.88" height="1.05" fill="#fcf2f1"/>
<rect x="89.39" y="118.00" width="3.88" height="1.05" fill="#f9f9fe"/>
<rect x="93.22" y="118.00" width="3.88" height="1.05" fill="#fefeff"/>
<rect x="97.05" y="118.00" width="3.88" height="1.05" fill="#fbeceb"/>
<rect x="100.88" y="118.00" width="3.88" height="1.05" fill="#f8dbd8"/>
<rect x="104.71" y="118.00" width="3.88" height="1.05" fill="#fffdfd"/>
<rect x="108.54" y="118.00" width="3.88" height="1.05" fill="#fbecea"/>
<rect x="112.37" y="118.00" width="3.88" height="1.05" fill="#fdf2f2"/>
<rect x="116.20" y="118.00" width="3.88" height="1.05" fill="#f3c2bd"/>
<rect x="120.03" y="118.00" width="3.88" height="1.05" fill="#eb948c"/>
<rect x="123.86" y="118.00" width="3.88" height="1.05" fill="#fae4e2"/>
<rect x="127.69" y="118.00" width="3.88" height="1.05" fill="#fdf6f5"/>
<rect x="131.52" y="118.00" width="3.88" height="1.05" fill="#f1f1fc"/>
<rect x="135.35" y="118.00" width="3.88" height="1.05" fill="#ffffff"/>
<rect x="139.18" y="118.00" width="3.88" height="1.05" fill="#f6f6fd"/>
<rect x="143.01" y="118.00" width="3.88" height="1.05" fill="#f3f3fc"/>
<rect x="146.84" y="118.00" width="3.88" height="1.05" fill="#fae2e0"/>
<rect x="39.60" y="119.00" width="3.88" height="1.05" fill="#dadaf6"/>
<rect x="43.43" y="119.00" width="3.88" height="1.05" fill="#d8d8f6"/>
<rect x="47.26" y="119.00" width="3.88" height="1.05" fill="#cacaf2"/>
<rect x="51.09" y="119.00" width="3.88" height="1.05" fill="#b6b6ee"/>
<rect x="54.92" y="119.00" width="3.88" height="1.05" fill="#cacaf2"/>
<rect x="58.75" y="119.00" width="3.88" height="1.05" fill="#dbdbf6"/>
<rect x="62.58" y="119.00" width="3.88" height="1.05" fill="#d5d5f5"/>
<rect x="66.41" y="119.00" width="3.88" height="1.05" fill="#c3c3f1"/>
<rect x="70.24" y="119.00" width="3.88" height="1.05" fill="#babaef"/>
<rect x="74.07" y="119.00" width="3.88" height="1.05" fill="#f5cac6"/>
<rect x="77.90" y="119.00" width="3.88" height="1.05" fill="#f3bfbb"/>
<rect x="81.73" y="119.00" width="3.88" height="1.05" fill="#fbeae9"/>
<rect x="85.56" y="119.00" width="3.88" height="1.05" fill="#fbe9e7"/>
<rect x="89.39" y="119.00" width="3.88" height="1.05" fill="#fae6e4"/>
<rect x="93.22" y="119.00" width="3.88" height="1.05" fill="#fceeed"/>
<rect x="97.05" y="119.00" width="3.88" height="1.05" fill="#f8dad7"/>
<rect x="100.88" y="119.00" width="3.88" height="1.05" fill="#fbeae8"/>
<rect x="104.71" y="119.00" width="3.88" height="1.05" fill="#fefbfa"/>
<rect x="108.54" y="119.00" width="3.88" height="1.05" fill="#fae5e3"/>
<rect x="112.37" y="119.00" width="3.88" height="1.05" fill="#fcf0ef"/>
<rect x="116.20" y="119.00" width="3.88" height="1.05" fill="#f2bbb7"/>
<rect x="120.03" y="119.00" width="3.88" height="1.05" fill="#e67a70"/>
<rect x="123.86" y="119.00" width="3.88" height="1.05" fill="#f6cecb"/>
<rect x="127.69" y="119.00" width="3.88" height="1.05" fill="#f9e2e0"/>
<rect x="131.52" y="119.00" width="3.88" height="1.05" fill="#f9e0de"/>
<rect x="135.35" y="119.00" width="3.88" height="1.05" fill="#fae4e2"/>
<rect x="139.18" y="119.00" width="3.88" height="1.05" fill="#fbe8e7"/>
<rect x="143.01" y="119.00" width="3.88" height="1.05" fill="#fcedec"/>
<rect x="146.84" y="119.00" width="3.88" height="1.05" fill="#fae4e2"/>
<rect x="39.60" y="120.00" width="3.88" height="1.05" fill="#cfcff4"/>
<rect x="43.43" y="120.00" width="3.88" height="1.05" fill="#dedef7"/>
<rect x="47.26" y="120.00" width="3.88" height="1.05" fill="#d2d2f4"/>
<rect x="51.09" y="120.00" width="3.88" height="1.05" fill="#b6b6ee"/>
<rect x="54.92" y="120.00" width="3.88" height="1.05" fill="#d1d1f4"/>
<rect x="58.75" y="120.00" width="3.88" height="1.05" fill="#e6e6f9"/>
<rect x="62.58" y="120.00" width="3.88" height="1.05" fill="#d8d8f6"/>
<rect x="66.41" y="120.00" width="3.88" height="1.05" fill="#ccccf3"/>
<rect x="70.24" y="120.00" width="3.88" height="1.05" fill="#bebef0"/>
<rect x="74.07" y="120.00" width="3.88" height="1.05" fill="#f8dbd8"/>
<rect x="77.90" y="120.00" width="3.88" height="1.05" fill="#f7d5d2"/>
<rect x="81.73" y="120.00" width="3.88" height="1.05" fill="#f8dcda"/>
<rect x="85.56" y="120.00" width="3.88" height="1.05" fill="#f9e1df"/>
<rect x="89.39" y="120.00" width="3.88" height="1.05" fill="#fcedeb"/>
<rect x="93.22" y="120.00" width="3.88" height="1.05" fill="#fcedec"/>
<rect x="97.05" y="120.00" width="3.88" height="1.05" fill="#f9e0de"/>
<rect x="100.88" y="120.00" width="3.88" height="1.05" fill="#fae7e5"/>
<rect x="104.71" y="120.00" width="3.88" height="1.05" fill="#fcedec"/>
<rect x="108.54" y="120.00" width="3.88" height="1.05" fill="#f9e1df"/>
<rect x="112.37" y="120.00" width="3.88" height="1.05" fill="#fbebe9"/>
<rect x="116.20" y="120.00" width="3.88" height="1.05" fill="#f3c1bd"/>
<rect x="120.03" y="120.00" width="3.88" height="1.05" fill="#e98c84"/>
<rect x="123.86" y="120.00" width="3.88" height="1.05" fill="#fbebea"/>
<rect x="127.69" y="120.00" width="3.88" height="1.05" fill="#f5cbc8"/>
<rect x="131.52" y="120.00" width="3.88" height="1.05" fill="#fbe9e8"/>
<rect x="135.35" y="120.00" width="3.88" height="1.05" fill="#eb978f"/>
<rect x="139.18" y="120.00" width="3.88" height="1.05" fill="#eea49e"/>
<rect x="143.01" y="120.00" width="3.88" height="1.05" fill="#f0b2ac"/>
<rect x="146.84" y="120.00" width="3.88" height="1.05" fill="#f0b1ab"/>
<rect x="39.60" y="121.00" width="3.88" height="1.05" fill="#dcdcf7"/>
<rect x="43.43" y="121.00" width="3.88" height="1.05" fill="#d4d4f5"/>
<rect x="47.26" y="121.00" width="3.88" height="1.05" fill="#d8d8f6"/>
<rect x="51.09" y="121.00" width="3.88" height="1.05" fill="#cacaf2"/>
<rect x="54.92" y="121.00" width="3.88" height="1.05" fill="#d7d7f5"/>
<rect x="58.75" y="121.00" width="3.88" height="1.05" fill="#ddddf7"/>
<rect x="62.58" y="121.00" width="3.88" height="1.05" fill="#dfdff7"/>
<rect x="66.41" y="121.00" width="3.88" height="1.05" fill="#bdbdef"/>
<rect x="70.24" y="121.00" width="3.88" height="1.05" fill="#a9a9eb"/>
<rect x="74.07" y="121.00" width="3.88" height="1.05" fill="#f5cbc7"/>
<rect x="77.90" y="121.00" width="3.88" height="1.05" fill="#f6cfcb"/>
<rect x="81.73" y="121.00" width="3.88" height="1.05" fill="#fbebea"/>
<rect x="85.56" y="121.00" width="3.88" height="1.05" fill="#fdf3f2"/>
<rect x="89.39" y="121.00" width="3.88" height="1.05" fill="#fdf3f2"/>
<rect x="93.22" y="121.00" width="3.88" height="1.05" fill="#fceeec"/>
<rect x="97.05" y="121.00" width="3.88" height="1.05" fill="#fdf2f1"/>
<rect x="100.88" y="121.00" width="3.88" height="1.05" fill="#fdf3f2"/>
<rect x="104.71" y="121.00" width="3.88" height="1.05" fill="#fbe9e8"/>
<rect x="108.54" y="121.00" width="3.88" height="1.05" fill="#f8f8fd"/>
<rect x="112.37" y="121.00" width="3.88" height="1.05" fill="#fdf5f5"/>
<rect x="116.20" y="121.00" width="3.88" height="1.05" fill="#eea8a2"/>
<rect x="120.03" y="121.00" width="3.88" height="1.05" fill="#e5746a"/>
<rect x="123.86" y="121.00" width="3.88" height="1.05" fill="#fae3e1"/>
<rect x="127.69" y="121.00" width="3.88" height="1.05" fill="#f7d6d3"/>
<rect x="131.52" y="121.00" width="3.88" height="1.05" fill="#fae7e5"/>
<rect x="135.35" y="121.00" width="3.88" height="1.05" fill="#f1b6b1"/>
<rect x="139.18" y="121.00" width="3.88" height="1.05" fill="#ec9c95"/>
<rect x="143.01" y="121.00" width="3.88" height="1.05" fill="#efa9a3"/>
<rect x="146.84" y="121.00" width="3.88" height="1.05" fill="#f0b0aa"/>
<rect x="39.60" y="122.00" width="3.88" height="1.05" fill="#f0f0fc"/>
<rect x="43.43" y="122.00" width="3.88" height="1.05" fill="#d2d2f4"/>
<rect x="47.26" y="122.00" width="3.88" height="1.05" fill="#d8d8f6"/>
<rect x="51.09" y="122.00" width="3.88" height="1.05" fill="#d8d8f6"/>
<rect x="54.92" y="122.00" width="3.88" height="1.05" fill="#ddddf7"/>
<rect x="58.75" y="122.00" width="3.88" height="1.05" fill="#e4e4f9"/>
<rect x="62.58" y="122.00" width="3.88" height="1.05" fill="#c4c4f1"/>
<rect x="66.41" y="122.00" width="3.88" height="1.05" fill="#b1b1ec"/>
<rect x="70.24" y="122.00" width="3.88" height="1.05" fill="#c6c6f1"/>
<rect x="74.07" y="122.00" width="3.88" height="1.05" fill="#f3c0bc"/>
<rect x="77.90" y="122.00" width="3.88" height="1.05" fill="#f8d9d6"/>
<rect x="81.73" y="122.00" width="3.88" height="1.05" fill="#fdf6f5"/>
<rect x="85.56" y="122.00" width="3.88" height="1.05" fill="#fbe9e7"/>
<rect x="89.39" y="122.00" width="3.88" height="1.05" fill="#fcf0ef"/>
<rect x="93.22" y="122.00" width="3.88" height="1.05" fill="#fbfbfe"/>
<rect x="97.05" y="122.00" width="3.88" height="1.05" fill="#fefeff"/>
<rect x="100.88" y="122.00" width="3.88" height="1.05" fill="#fae3e1"/>
<rect x="104.71" y="122.00" width="3.88" height="1.05" fill="#fffefd"/>
<rect x="108.54" y="122.00" width="3.88" height="1.05" fill="#fdfdff"/>
<rect x="112.37" y="122.00" width="3.88" height="1.05" fill="#f9e0de"/>
<rect x="116.20" y="122.00" width="3.88" height="1.05" fill="#f2b9b4"/>
<rect x="120.03" y="122.00" width="3.88" height="1.05" fill="#e98a81"/>
<rect x="123.86" y="122.00" width="3.88" height="1.05" fill="#fdf5f4"/>
<rect x="127.69" y="122.00" width="3.88" height="1.05" fill="#fae6e4"/>
<rect x="131.52" y="122.00" width="3.88" height="1.05" fill="#fbebea"/>
<rect x="135.35" y="122.00" width="3.88" height="1.05" fill="#f2b9b4"/>
<rect x="139.18" y="122.00" width="3.88" height="1.05" fill="#f0afaa"/>
<rect x="143.01" y="122.00" width="3.88" height="1.05" fill="#f1b6b0"/>
<rect x="146.84" y="122.00" width="3.88" height="1.05" fill="#ed9e97"/>
<rect x="39.60" y="123.00" width="3.88" height="1.05" fill="#d1d1f4"/>
<rect x="43.43" y="123.00" width="3.88" height="1.05" fill="#d2d2f4"/>
<rect x="47.26" y="123.00" width="3.88" height="1.05" fill="#e0e0f8"/>
<rect x="51.09" y="123.00" width="3.88" height="1.05" fill="#c3c3f1"/>
<rect x="54.92" y="123.00" width="3.88" height="1.05" fill="#dadaf6"/>
<rect x="58.75" y="123.00" width="3.88" height="1.05" fill="#d1d1f4"/>
<rect x="62.58" y="123.00" width="3.88" height="1.05" fill="#b7b7ee"/>
<rect x="66.41" y="123.00" width="3.88" height="1.05" fill="#b3b3ed"/>
<rect x="70.24" y="123.00" width="3.88" height="1.05" fill="#9b9be7"/>
<rect x="74.07" y="123.00" width="3.88" height="1.05" fill="#f3c0bc"/>
<rect x="77.90" y="123.00" width="3.88" height="1.05" fill="#f3c2be"/>
<rect x="81.73" y="123.00" width="3.88" height="1.05" fill="#f5cdc9"/>
<rect x="85.56" y="123.00" width="3.88" height="1.05" fill="#fae5e3"/>
<rect x="89.39" y="123.00" width="3.88" height="1.05" fill="#f5ccc8"/>
<rect x="93.22" y="123.00" width="3.88" height="1.05" fill="#fcf1ef"/>
<rect x="97.05" y="123.00" width="3.88" height="1.05" fill="#f7d7d5"/>
<rect x="100.88" y="123.00" width="3.88" height="1.05" fill="#f7d4d1"/>
<rect x="104.71" y="123.00" width="3.88" height="1.05" fill="#f8dcd9"/>
<rect x="108.54" y="123.00" width="3.88" height="1.05" fill="#fcedec"/>
<rect x="112.37" y="123.00" width="3.88" height="1.05" fill="#f6d0cd"/>
<rect x="116.20" y="123.00" width="3.88" height="1.05" fill="#f0b1ab"/>
<rect x="120.03" y="123.00" width="3.88" height="1.05" fill="#e77f75"/>
<rect x="123.86" y="123.00" width="3.88" height="1.05" fill="#f6cfcb"/>
<rect x="127.69" y="123.00" width="3.88" height="1.05" fill="#fae4e2"/>
<rect x="131.52" y="123.00" width="3.88" height="1.05" fill="#fdf3f2"/>
<rect x="135.35" y="123.00" width="3.88" height="1.05" fill="#eea49d"/>
<rect x="139.18" y="123.00" width="3.88" height="1.05" fill="#ec9b94"/>
<rect x="143.01" y="123.00" width="3.88" height="1.05" fill="#ec9992"/>
<rect x="146.84" y="123.00" width="3.88" height="1.05" fill="#e47369"/>
<rect x="39.60" y="124.00" width="3.88" height="1.05" fill="#dfdff7"/>
<rect x="43.43" y="124.00" width="3.88" height="1.05" fill="#d6d6f5"/>
<rect x="47.26" y="124.00" width="3.88" height="1.05" fill="#d5d5f5"/>
<rect x="51.09" y="124.00" width="3.88" height="1.05" fill="#dedef7"/>
<rect x="54.92" y="124.00" width="3.88" height="1.05" fill="#d5d5f5"/>
<rect x="58.75" y="124.00" width="3.88" height="1.05" fill="#c1c1f0"/>
<rect x="62.58" y="124.00" width="3.88" height="1.05" fill="#c8c8f2"/>
<rect x="66.41" y="124.00" width="3.88" height="1.05" fill="#cdcdf3"/>
<rect x="70.24" y="124.00" width="3.88" height="1.05" fill="#bcbcef"/>
<rect x="74.07" y="124.00" width="3.88" height="1.05" fill="#f5c9c5"/>
<rect x="77.90" y="124.00" width="3.88" height="1.05" fill="#f6d0cc"/>
<rect x="81.73" y="124.00" width="3.88" height="1.05" fill="#fae6e4"/>
<rect x="85.56" y="124.00" width="3.88" height="1.05" fill="#fbecea"/>
<rect x="89.39" y="124.00" width="3.88" height="1.05" fill="#fae4e2"/>
<rect x="93.22" y="124.00" width="3.88" height="1.05" fill="#fefafa"/>
<rect x="97.05" y="124.00" width="3.88" height="1.05" fill="#fbebea"/>
<rect x="100.88" y="124.00" width="3.88" height="1.05" fill="#fae7e5"/>
<rect x="104.71" y="124.00" width="3.88" height="1.05" fill="#fcf1f0"/>
<rect x="108.54" y="124.00" width="3.88" height="1.05" fill="#f9e0de"/>
<rect x="112.37" y="124.00" width="3.88" height="1.05" fill="#f6cfcc"/>
<rect x="116.20" y="124.00" width="3.88" height="1.05" fill="#f5c8c4"/>
<rect x="120.03" y="124.00" width="3.88" height="1.05" fill="#e67970"/>
<rect x="123.86" y="124.00" width="3.88" height="1.05" fill="#fbeae9"/>
<rect x="127.69" y="124.00" width="3.88" height="1.05" fill="#f9e1df"/>
<rect x="131.52" y="124.00" width="3.88" height="1.05" fill="#f7d4d1"/>
<rect x="135.35" y="124.00" width="3.88" height="1.05" fill="#f0b0ab"/>
<rect x="139.18" y="124.00" width="3.88" height="1.05" fill="#eda29b"/>
<rect x="143.01" y="124.00" width="3.88" height="1.05" fill="#efa8a2"/>
<rect x="146.84" y="124.00" width="3.88" height="1.05" fill="#e8867e"/>
<rect x="39.60" y="125.00" width="3.88" height="1.05" fill="#eeeefb"/>
<rect x="43.43" y="125.00" width="3.88" height="1.05" fill="#f3f3fc"/>
<rect x="47.26" y="125.00" width="3.88" height="1.05" fill="#ebebfa"/>
<rect x="51.09" y="125.00" width="3.88" height="1.05" fill="#dedef7"/>
<rect x="54.92" y="125.00" width="3.88" height="1.05" fill="#eeeefb"/>
<rect x="58.75" y="125.00" width="3.88" height="1.05" fill="#e7e7f9"/>
<rect x="62.58" y="125.00" width="3.88" height="1.05" fill="#e9e9fa"/>
<rect x="66.41" y="125.00" width="3.88" height="1.05" fill="#c7c7f2"/>
<rect x="70.24" y="125.00" width="3.88" height="1.05" fill="#c0c0f0"/>
<rect x="74.07" y="125.00" width="3.88" height="1.05" fill="#fae5e4"/>
<rect x="77.90" y="125.00" width="3.88" height="1.05" fill="#f9e2e0"/>
<rect x="81.73" y="125.00" width="3.88" height="1.05" fill="#efeffb"/>
<rect x="85.56" y="125.00" width="3.88" height="1.05" fill="#e0e0f8"/>
<rect x="89.39" y="125.00" width="3.88" height="1.05" fill="#fcf0ef"/>
<rect x="93.22" y="125.00" width="3.88" height="1.05" fill="#dbdbf6"/>
<rect x="97.05" y="125.00" width="3.88" height="1.05" fill="#fdfdff"/>
<rect x="100.88" y="125.00" width="3.88" height="1.05" fill="#fdf6f5"/>
<rect x="104.71" y="125.00" width="3.88" height="1.05" fill="#eeeefb"/>
<rect x="108.54" y="125.00" width="3.88" height="1.05" fill="#fceeed"/>
<rect x="112.37" y="125.00" width="3.88" height="1.05" fill="#fdfdfe"/>
<rect x="116.20" y="125.00" width="3.88" height="1.05" fill="#f3c2bd"/>
<rect x="120.03" y="125.00" width="3.88" height="1.05" fill="#ea928a"/>
<rect x="123.86" y="125.00" width="3.88" height="1.05" fill="#fef8f7"/>
<rect x="127.69" y="125.00" width="3.88" height="1.05" fill="#fefaf9"/>
<rect x="131.52" y="125.00" width="3.88" height="1.05" fill="#fefafa"/>
<rect x="135.35" y="125.00" width="3.88" height="1.05" fill="#f3f3fc"/>
<rect x="139.18" y="125.00" width="3.88" height="1.05" fill="#f6f6fd"/>
<rect x="143.01" y="125.00" width="3.88" height="1.05" fill="#fefbfb"/>
<rect x="146.84" y="125.00" width="3.88" height="1.05" fill="#fceeed"/>
<rect x="39.60" y="126.00" width="3.88" height="1.05" fill="#dedef7"/>
<rect x="43.43" y="126.00" width="3.88" height="1.05" fill="#f7f7fd"/>
<rect x="47.26" y="126.00" width="3.88" height="1.05" fill="#fefeff"/>
<rect x="51.09" y="126.00" width="3.88" height="1.05" fill="#eaeafa"/>
<rect x="54.92" y="126.00" width="3.88" height="1.05" fill="#e2e2f8"/>
<rect x="58.75" y="126.00" width="3.88" height="1.05" fill="#cacaf2"/>
<rect x="62.58" y="126.00" width="3.88" height="1.05" fill="#ececfa"/>
<rect x="66.41" y="126.00" width="3.88" height="1.05" fill="#c7c7f2"/>
<rect x="70.24" y="126.00" width="3.88" height="1.05" fill="#bcbcef"/>
<rect x="74.07" y="126.00" width="3.88" height="1.05" fill="#f4c4c0"/>
<rect x="77.90" y="126.00" width="3.88" height="1.05" fill="#f8dcda"/>
<rect x="81.73" y="126.00" width="3.88" height="1.05" fill="#fffefd"/>
<rect x="85.56" y="126.00" width="3.88" height="1.05" fill="#fefbfa"/>
<rect x="89.39" y="126.00" width="3.88" height="1.05" fill="#fcf1f0"/>
<rect x="93.22" y="126.00" width="3.88" height="1.05" fill="#fffefe"/>
<rect x="97.05" y="126.00" width="3.88" height="1.05" fill="#fbfbfe"/>
<rect x="100.88" y="126.00" width="3.88" height="1.05" fill="#fffdfd"/>
<rect x="104.71" y="126.00" width="3.88" height="1.05" fill="#fcf1f0"/>
<rect x="108.54" y="126.00" width="3.88" height="1.05" fill="#fbeae8"/>
<rect x="112.37" y="126.00" width="3.88" height="1.05" fill="#fcf1f0"/>
<rect x="116.20" y="126.00" width="3.88" height="1.05" fill="#f5c8c4"/>
<rect x="120.03" y="126.00" width="3.88" height="1.05" fill="#e67c72"/>
<rect x="123.86" y="126.00" width="3.88" height="1.05" fill="#fefbfb"/>
<rect x="127.69" y="126.00" width="3.88" height="1.05" fill="#fae6e5"/>
<rect x="131.52" y="126.00" width="3.88" height="1.05" fill="#fef9f9"/>
<rect x="135.35" y="126.00" width="3.88" height="1.05" fill="#fbe9e8"/>
<rect x="139.18" y="126.00" width="3.88" height="1.05" fill="#ececfa"/>
<rect x="143.01" y="126.00" width="3.88" height="1.05" fill="#ededfb"/>
<rect x="146.84" y="126.00" width="3.88" height="1.05" fill="#fdf6f6"/>
<rect x="39.60" y="127.00" width="3.88" height="1.05" fill="#e4e4f9"/>
<rect x="43.43" y="127.00" width="3.88" height="1.05" fill="#eeeefb"/>
<rect x="47.26" y="127.00" width="3.88" height="1.05" fill="#f8f8fd"/>
<rect x="51.09" y="127.00" width="3.88" height="1.05" fill="#d7d7f5"/>
<rect x="54.92" y="127.00" width="3.88" height="1.05" fill="#ededfb"/>
<rect x="58.75" y="127.00" width="3.88" height="1.05" fill="#cacaf2"/>
<rect x="62.58" y="127.00" width="3.88" height="1.05" fill="#dbdbf6"/>
<rect x="66.41" y="127.00" width="3.88" height="1.05" fill="#b3b3ed"/>
<rect x="70.24" y="127.00" width="3.88" height="1.05" fill="#bbbbef"/>
<rect x="74.07" y="127.00" width="3.88" height="1.05" fill="#f5cac6"/>
<rect x="77.90" y="127.00" width="3.88" height="1.05" fill="#ea9189"/>
<rect x="81.73" y="127.00" width="3.88" height="1.05" fill="#f9e1df"/>
<rect x="85.56" y="127.00" width="3.88" height="1.05" fill="#fcf0ef"/>
<rect x="89.39" y="127.00" width="3.88" height="1.05" fill="#fdf6f6"/>
<rect x="93.22" y="127.00" width="3.88" height="1.05" fill="#fefaf9"/>
<rect x="97.05" y="127.00" width="3.88" height="1.05" fill="#fbe8e7"/>
<rect x="100.88" y="127.00" width="3.88" height="1.05" fill="#fcf1f0"/>
<rect x="104.71" y="127.00" width="3.88" height="1.05" fill="#fae3e1"/>
<rect x="108.54" y="127.00" width="3.88" height="1.05" fill="#f8dcd9"/>
<rect x="112.37" y="127.00" width="3.88" height="1.05" fill="#fef8f7"/>
<rect x="116.20" y="127.00" width="3.88" height="1.05" fill="#f1b5b0"/>
<rect x="120.03" y="127.00" width="3.88" height="1.05" fill="#e16257"/>
<rect x="123.86" y="127.00" width="3.88" height="1.05" fill="#fffcfc"/>
<rect x="127.69" y="127.00" width="3.88" height="1.05" fill="#fbe9e8"/>
<rect x="131.52" y="127.00" width="3.88" height="1.05" fill="#fcedec"/>
<rect x="135.35" y="127.00" width="3.88" height="1.05" fill="#fef8f7"/>
<rect x="139.18" y="127.00" width="3.88" height="1.05" fill="#f9dfdd"/>
<rect x="143.01" y="127.00" width="3.88" height="1.05" fill="#fbe9e8"/>
<rect x="146.84" y="127.00" width="3.88" height="1.05" fill="#fcefee"/>
<rect x="39.60" y="128.00" width="3.88" height="1.05" fill="#fdfdff"/>
<rect x="43.43" y="128.00" width="3.88" height="1.05" fill="#eaeafa"/>
<rect x="47.26" y="128.00" width="3.88" height="1.05" fill="#dbdbf6"/>
<rect x="51.09" y="128.00" width="3.88" height="1.05" fill="#f2f2fc"/>
<rect x="54.92" y="128.00" width="3.88" height="1.05" fill="#dbdbf6"/>
<rect x="58.75" y="128.00" width="3.88" height="1.05" fill="#f1f1fc"/>
<rect x="62.58" y="128.00" width="3.88" height="1.05" fill="#ededfb"/>
<rect x="66.41" y="128.00" width="3.88" height="1.05" fill="#cecef3"/>
<rect x="70.24" y="128.00" width="3.88" height="1.05" fill="#d8d8f6"/>
<rect x="74.07" y="128.00" width="3.88" height="1.05" fill="#f8d8d5"/>
<rect x="77.90" y="128.00" width="3.88" height="1.05" fill="#efaca6"/>
<rect x="81.73" y="128.00" width="3.88" height="1.05" fill="#fdf4f4"/>
<rect x="85.56" y="128.00" width="3.88" height="1.05" fill="#fdf3f2"/>
<rect x="89.39" y="128.00" width="3.88" height="1.05" fill="#f7f7fd"/>
<rect x="93.22" y="128.00" width="3.88" height="1.05" fill="#fefcfc"/>
<rect x="97.05" y="128.00" width="3.88" height="1.05" fill="#fbeceb"/>
<rect x="100.88" y="128.00" width="3.88" height="1.05" fill="#ffffff"/>
<rect x="104.71" y="128.00" width="3.88" height="1.05" fill="#fcefee"/>
<rect x="108.54" y="128.00" width="3.88" height="1.05" fill="#fbfbfe"/>
<rect x="112.37" y="128.00" width="3.88" height="1.05" fill="#fcefee"/>
<rect x="116.20" y="128.00" width="3.88" height="1.05" fill="#f5cac6"/>
<rect x="120.03" y="128.00" width="3.88" height="1.05" fill="#e7847b"/>
<rect x="123.86" y="128.00" width="3.88" height="1.05" fill="#fcf2f1"/>
<rect x="127.69" y="128.00" width="3.88" height="1.05" fill="#fdf7f6"/>
<rect x="131.52" y="128.00" width="3.88" height="1.05" fill="#fefbfa"/>
<rect x="135.35" y="128.00" width="3.88" height="1.05" fill="#fef9f9"/>
<rect x="139.18" y="128.00" width="3.88" height="1.05" fill="#fcf1f0"/>
<rect x="143.01" y="128.00" width="3.88" height="1.05" fill="#fbeae9"/>
<rect x="146.84" y="128.00" width="3.88" height="1.05" fill="#fef9f9"/>
<rect x="39.60" y="129.00" width="3.88" height="1.05" fill="#eaeafa"/>
<rect x="43.43" y="129.00" width="3.88" height="1.05" fill="#e4e4f9"/>
<rect x="47.26" y="129.00" width="3.88" height="1.05" fill="#dfdff7"/>
<rect x="51.09" y="129.00" width="3.88" height="1.05" fill="#d6d6f5"/>
<rect x="54.92" y="129.00" width="3.88" height="1.05" fill="#d5d5f5"/>
<rect x="58.75" y="129.00" width="3.88" height="1.05" fill="#f2f2fc"/>
<rect x="62.58" y="129.00" width="3.88" height="1.05" fill="#ececfa"/>
<rect x="66.41" y="129.00" width="3.88" height="1.05" fill="#cacaf2"/>
<rect x="70.24" y="129.00" width="3.88" height="1.05" fill="#babaef"/>
<rect x="74.07" y="129.00" width="3.88" height="1.05" fill="#f7d6d4"/>
<rect x="77.90" y="129.00" width="3.88" height="1.05" fill="#ec9d96"/>
<rect x="81.73" y="129.00" width="3.88" height="1.05" fill="#fffdfd"/>
<rect x="85.56" y="129.00" width="3.88" height="1.05" fill="#fbfbfe"/>
<rect x="89.39" y="129.00" width="3.88" height="1.05" fill="#f6f6fd"/>
<rect x="93.22" y="129.00" width="3.88" height="1.05" fill="#fffcfc"/>
<rect x="97.05" y="129.00" width="3.88" height="1.05" fill="#fefeff"/>
<rect x="100.88" y="129.00" width="3.88" height="1.05" fill="#fceeec"/>
<rect x="104.71" y="129.00" width="3.88" height="1.05" fill="#fcf2f1"/>
<rect x="108.54" y="129.00" width="3.88" height="1.05" fill="#f5f5fd"/>
<rect x="112.37" y="129.00" width="3.88" height="1.05" fill="#fffefe"/>
<rect x="116.20" y="129.00" width="3.88" height="1.05" fill="#f2bab5"/>
<rect x="120.03" y="129.00" width="3.88" height="1.05" fill="#e7837a"/>
<rect x="123.86" y="129.00" width="3.88" height="1.05" fill="#fef8f7"/>
<rect x="127.69" y="129.00" width="3.88" height="1.05" fill="#fae7e5"/>
<rect x="131.52" y="129.00" width="3.88" height="1.05" fill="#fef7f7"/>
<rect x="135.35" y="129.00" width="3.88" height="1.05" fill="#fffefe"/>
<rect x="139.18" y="129.00" width="3.88" height="1.05" fill="#fbebea"/>
<rect x="143.01" y="129.00" width="3.88" height="1.05" fill="#fdf7f6"/>
<rect x="146.84" y="129.00" width="3.88" height="1.05" fill="#fcf2f1"/>
<rect x="39.60" y="130.00" width="3.88" height="1.05" fill="#cacaf2"/>
<rect x="43.43" y="130.00" width="3.88" height="1.05" fill="#dadaf6"/>
<rect x="47.26" y="130.00" width="3.88" height="1.05" fill="#bebeef"/>
<rect x="51.09" y="130.00" width="3.88" height="1.05" fill="#d2d2f4"/>
<rect x="54.92" y="130.00" width="3.88" height="1.05" fill="#d2d2f4"/>
<rect x="58.75" y="130.00" width="3.88" height="1.05" fill="#dcdcf7"/>
<rect x="62.58" y="130.00" width="3.88" height="1.05" fill="#c9c9f2"/>
<rect x="66.41" y="130.00" width="3.88" height="1.05" fill="#b0b0ec"/>
<rect x="70.24" y="130.00" width="3.88" height="1.05" fill="#a5a5ea"/>
<rect x="74.07" y="130.00" width="3.88" height="1.05" fill="#f3c0bb"/>
<rect x="77.90" y="130.00" width="3.88" height="1.05" fill="#f6d2ce"/>
<rect x="81.73" y="130.00" width="3.88" height="1.05" fill="#f9dfdd"/>
<rect x="85.56" y="130.00" width="3.88" height="1.05" fill="#f8ddda"/>
<rect x="89.39" y="130.00" width="3.88" height="1.05" fill="#fbebe9"/>
<rect x="93.22" y="130.00" width="3.88" height="1.05" fill="#fcefee"/>
<rect x="97.05" y="130.00" width="3.88" height="1.05" fill="#fae4e2"/>
<rect x="100.88" y="130.00" width="3.88" height="1.05" fill="#f9dedc"/>
<rect x="104.71" y="130.00" width="3.88" height="1.05" fill="#fcf1ef"/>
<rect x="108.54" y="130.00" width="3.88" height="1.05" fill="#fcf1f0"/>
<rect x="112.37" y="130.00" width="3.88" height="1.05" fill="#fceeec"/>
<rect x="116.20" y="130.00" width="3.88" height="1.05" fill="#eea49d"/>
<rect x="120.03" y="130.00" width="3.88" height="1.05" fill="#e5746a"/>
<rect x="123.86" y="130.00" width="3.88" height="1.05" fill="#fdf3f2"/>
<rect x="127.69" y="130.00" width="3.88" height="1.05" fill="#fbe9e8"/>
<rect x="131.52" y="130.00" width="3.88" height="1.05" fill="#fae4e2"/>
<rect x="135.35" y="130.00" width="3.88" height="1.05" fill="#fbe9e7"/>
<rect x="139.18" y="130.00" width="3.88" height="1.05" fill="#fae4e2"/>
<rect x="143.01" y="130.00" width="3.88" height="1.05" fill="#f9e1de"/>
<rect x="146.84" y="130.00" width="3.88" height="1.05" fill="#fae2e0"/>
<rect x="39.60" y="131.00" width="3.88" height="1.05" fill="#e3e3f8"/>
<rect x="43.43" y="131.00" width="3.88" height="1.05" fill="#e8e8f9"/>
<rect x="47.26" y="131.00" width="3.88" height="1.05" fill="#dbdbf7"/>
<rect x="51.09" y="131.00" width="3.88" height="1.05" fill="#f4f4fc"/>
<rect x="54.92" y="131.00" width="3.88" height="1.05" fill="#ececfa"/>
<rect x="58.75" y="131.00" width="3.88" height="1.05" fill="#f1f1fc"/>
<rect x="62.58" y="131.00" width="3.88" height="1.05" fill="#ddddf7"/>
<rect x="66.41" y="131.00" width="3.88" height="1.05" fill="#d9d9f6"/>
<rect x="70.24" y="131.00" width="3.88" height="1.05" fill="#d0d0f4"/>
<rect x="74.07" y="131.00" width="3.88" height="1.05" fill="#fae4e2"/>
<rect x="77.90" y="131.00" width="3.88" height="1.05" fill="#f8d8d5"/>
<rect x="81.73" y="131.00" width="3.88" height="1.05" fill="#fbe9e7"/>
<rect x="85.56" y="131.00" width="3.88" height="1.05" fill="#fefafa"/>
<rect x="89.39" y="131.00" width="3.88" height="1.05" fill="#fdf6f6"/>
<rect x="93.22" y="131.00" width="3.88" height="1.05" fill="#fffefd"/>
<rect x="97.05" y="131.00" width="3.88" height="1.05" fill="#ffffff"/>
<rect x="100.88" y="131.00" width="3.88" height="1.05" fill="#fdf5f4"/>
<rect x="104.71" y="131.00" width="3.88" height="1.05" fill="#f6d1ce"/>
<rect x="108.54" y="131.00" width="3.88" height="1.05" fill="#fef9f8"/>
<rect x="112.37" y="131.00" width="3.88" height="1.05" fill="#fae6e4"/>
<rect x="116.20" y="131.00" width="3.88" height="1.05" fill="#efaba5"/>
<rect x="120.03" y="131.00" width="3.88" height="1.05" fill="#ea9088"/>
<rect x="123.86" y="131.00" width="3.88" height="1.05" fill="#fdf3f2"/>
<rect x="127.69" y="131.00" width="3.88" height="1.05" fill="#fdf2f1"/>
<rect x="131.52" y="131.00" width="3.88" height="1.05" fill="#fbfbfe"/>
<rect x="135.35" y="131.00" width="3.88" height="1.05" fill="#fbfbfe"/>
<rect x="139.18" y="131.00" width="3.88" height="1.05" fill="#fefbfa"/>
<rect x="143.01" y="131.00" width="3.88" height="1.05" fill="#fdf2f1"/>
<rect x="146.84" y="131.00" width="3.88" height="1.05" fill="#fef7f7"/>
<rect x="39.60" y="132.00" width="3.88" height="1.05" fill="#d4d4f5"/>
<rect x="43.43" y="132.00" width="3.88" height="1.05" fill="#cfcff4"/>
<rect x="47.26" y="132.00" width="3.88" height="1.05" fill="#cecef3"/>
<rect x="51.09" y="132.00" width="3.88" height="1.05" fill="#d4d4f5"/>
<rect x="54.92" y="132.00" width="3.88" height="1.05" fill="#d9d9f6"/>
<rect x="58.75" y="132.00" width="3.88" height="1.05" fill="#d2d2f4"/>
<rect x="62.58" y="132.00" width="3.88" height="1.05" fill="#c7c7f2"/>
<rect x="66.41" y="132.00" width="3.88" height="1.05" fill="#babaef"/>
<rect x="70.24" y="132.00" width="3.88" height="1.05" fill="#a6a6ea"/>
<rect x="74.07" y="132.00" width="3.88" height="1.05" fill="#f3bfbb"/>
<rect x="77.90" y="132.00" width="3.88" height="1.05" fill="#f6d0cd"/>
<rect x="81.73" y="132.00" width="3.88" height="1.05" fill="#f7d4d1"/>
<rect x="85.56" y="132.00" width="3.88" height="1.05" fill="#f8dad8"/>
<rect x="89.39" y="132.00" width="3.88" height="1.05" fill="#f5cdc9"/>
<rect x="93.22" y="132.00" width="3.88" height="1.05" fill="#fae3e2"/>
<rect x="97.05" y="132.00" width="3.88" height="1.05" fill="#f9e2e0"/>
<rect x="100.88" y="132.00" width="3.88" height="1.05" fill="#fbeae8"/>
<rect x="104.71" y="132.00" width="3.88" height="1.05" fill="#f5c9c5"/>
<rect x="108.54" y="132.00" width="3.88" height="1.05" fill="#fbebe9"/>
<rect x="112.37" y="132.00" width="3.88" height="1.05" fill="#f4c5c1"/>
<rect x="116.20" y="132.00" width="3.88" height="1.05" fill="#ec9c95"/>
<rect x="120.03" y="132.00" width="3.88" height="1.05" fill="#e36d63"/>
<rect x="123.86" y="132.00" width="3.88" height="1.05" fill="#f9dedc"/>
<rect x="127.69" y="132.00" width="3.88" height="1.05" fill="#fbe8e6"/>
<rect x="131.52" y="132.00" width="3.88" height="1.05" fill="#fae5e3"/>
<rect x="135.35" y="132.00" width="3.88" height="1.05" fill="#fcf1f0"/>
<rect x="139.18" y="132.00" width="3.88" height="1.05" fill="#fbe9e8"/>
<rect x="143.01" y="132.00" width="3.88" height="1.05" fill="#fae6e4"/>
<rect x="146.84" y="132.00" width="3.88" height="1.05" fill="#f7d7d5"/>
<rect x="39.60" y="133.00" width="3.88" height="1.05" fill="#cacaf2"/>
<rect x="43.43" y="133.00" width="3.88" height="1.05" fill="#e9e9fa"/>
<rect x="47.26" y="133.00" width="3.88" height="1.05" fill="#c0c0f0"/>
<rect x="51.09" y="133.00" width="3.88" height="1.05" fill="#ccccf3"/>
<rect x="54.92" y="133.00" width="3.88" height="1.05" fill="#ccccf3"/>
<rect x="58.75" y="133.00" width="3.88" height="1.05" fill="#d0d0f4"/>
<rect x="62.58" y="133.00" width="3.88" height="1.05" fill="#cbcbf3"/>
<rect x="66.41" y="133.00" width="3.88" height="1.05" fill="#adadec"/>
<rect x="70.24" y="133.00" width="3.88" height="1.05" fill="#afafec"/>
<rect x="74.07" y="133.00" width="3.88" height="1.05" fill="#f1b5b0"/>
<rect x="77.90" y="133.00" width="3.88" height="1.05" fill="#f5cac6"/>
<rect x="81.73" y="133.00" width="3.88" height="1.05" fill="#f9ddda"/>
<rect x="85.56" y="133.00" width="3.88" height="1.05" fill="#fbebe9"/>
<rect x="89.39" y="133.00" width="3.88" height="1.05" fill="#fae7e5"/>
<rect x="93.22" y="133.00" width="3.88" height="1.05" fill="#fdf6f6"/>
<rect x="97.05" y="133.00" width="3.88" height="1.05" fill="#f9e2e0"/>
<rect x="100.88" y="133.00" width="3.88" height="1.05" fill="#f8dad8"/>
<rect x="104.71" y="133.00" width="3.88" height="1.05" fill="#f9dedb"/>
<rect x="108.54" y="133.00" width="3.88" height="1.05" fill="#fae5e3"/>
<rect x="112.37" y="133.00" width="3.88" height="1.05" fill="#f8dbd8"/>
<rect x="116.20" y="133.00" width="3.88" height="1.05" fill="#f0b1ab"/>
<rect x="120.03" y="133.00" width="3.88" height="1.05" fill="#e47066"/>
<rect x="123.86" y="133.00" width="3.88" height="1.05" fill="#f9dedb"/>
<rect x="127.69" y="133.00" width="3.88" height="1.05" fill="#f8dbd9"/>
<rect x="131.52" y="133.00" width="3.88" height="1.05" fill="#fdf6f6"/>
<rect x="135.35" y="133.00" width="3.88" height="1.05" fill="#fbeceb"/>
<rect x="139.18" y="133.00" width="3.88" height="1.05" fill="#f8d9d7"/>
<rect x="143.01" y="133.00" width="3.88" height="1.05" fill="#f9e1df"/>
<rect x="146.84" y="133.00" width="3.88" height="1.05" fill="#f5ccc9"/>
<rect x="39.60" y="134.00" width="3.88" height="1.05" fill="#f2f2fc"/>
<rect x="43.43" y="134.00" width="3.88" height="1.05" fill="#fae4e2"/>
<rect x="47.26" y="134.00" width="3.88" height="1.05" fill="#efeffb"/>
<rect x="51.09" y="134.00" width="3.88" height="1.05" fill="#fbe9e7"/>
<rect x="54.92" y="134.00" width="3.88" height="1.05" fill="#fffdfd"/>
<rect x="58.75" y="134.00" width="3.88" height="1.05" fill="#fcedec"/>
<rect x="62.58" y="134.00" width="3.88" height="1.05" fill="#f1f1fc"/>
<rect x="66.41" y="134.00" width="3.88" height="1.05" fill="#f8dad8"/>
<rect x="70.24" y="134.00" width="3.88" height="1.05" fill="#ebebfa"/>
<rect x="74.07" y="134.00" width="3.88" height="1.05" fill="#f3c0bc"/>
<rect x="77.90" y="134.00" width="3.88" height="1.05" fill="#f3bfbb"/>
<rect x="81.73" y="134.00" width="3.88" height="1.05" fill="#f2bab5"/>
<rect x="85.56" y="134.00" width="3.88" height="1.05" fill="#f7d3d0"/>
<rect x="89.39" y="134.00" width="3.88" height="1.05" fill="#f2bbb6"/>
<rect x="93.22" y="134.00" width="3.88" height="1.05" fill="#f3c1bd"/>
<rect x="97.05" y="134.00" width="3.88" height="1.05" fill="#f2bdb9"/>
<rect x="100.88" y="134.00" width="3.88" height="1.05" fill="#f3c2bd"/>
<rect x="104.71" y="134.00" width="3.88" height="1.05" fill="#f1b4af"/>
<rect x="108.54" y="134.00" width="3.88" height="1.05" fill="#f3c2be"/>
<rect x="112.37" y="134.00" width="3.88" height="1.05" fill="#ebebfa"/>
<rect x="116.20" y="134.00" width="3.88" height="1.05" fill="#e5e5f9"/>
<rect x="120.03" y="134.00" width="3.88" height="1.05" fill="#e4e4f9"/>
<rect x="123.86" y="134.00" width="3.88" height="1.05" fill="#e5e5f9"/>
<rect x="127.69" y="134.00" width="3.88" height="1.05" fill="#e8e8f9"/>
<rect x="131.52" y="134.00" width="3.88" height="1.05" fill="#dadaf6"/>
<rect x="135.35" y="134.00" width="3.88" height="1.05" fill="#ececfb"/>
<rect x="139.18" y="134.00" width="3.88" height="1.05" fill="#dcdcf7"/>
<rect x="143.01" y="134.00" width="3.88" height="1.05" fill="#efeffb"/>
<rect x="146.84" y="134.00" width="3.88" height="1.05" fill="#f6f6fd"/>
<rect x="39.60" y="135.00" width="3.88" height="1.05" fill="#fdfdff"/>
<rect x="43.43" y="135.00" width="3.88" height="1.05" fill="#f9dddb"/>
<rect x="47.26" y="135.00" width="3.88" height="1.05" fill="#f4f4fc"/>
<rect x="51.09" y="135.00" width="3.88" height="1.05" fill="#fceeed"/>
<rect x="54.92" y="135.00" width="3.88" height="1.05" fill="#fdf3f2"/>
<rect x="58.75" y="135.00" width="3.88" height="1.05" fill="#fefbfb"/>
<rect x="62.58" y="135.00" width="3.88" height="1.05" fill="#fdf4f3"/>
<rect x="66.41" y="135.00" width="3.88" height="1.05" fill="#ededfb"/>
<rect x="70.24" y="135.00" width="3.88" height="1.05" fill="#dfdff7"/>
<rect x="74.07" y="135.00" width="3.88" height="1.05" fill="#f8d9d7"/>
<rect x="77.90" y="135.00" width="3.88" height="1.05" fill="#f9dfdc"/>
<rect x="81.73" y="135.00" width="3.88" height="1.05" fill="#fcefee"/>
<rect x="85.56" y="135.00" width="3.88" height="1.05" fill="#f8dbd9"/>
<rect x="89.39" y="135.00" width="3.88" height="1.05" fill="#fae6e5"/>
<rect x="93.22" y="135.00" width="3.88" height="1.05" fill="#fae4e2"/>
<rect x="97.05" y="135.00" width="3.88" height="1.05" fill="#f8d9d6"/>
<rect x="100.88" y="135.00" width="3.88" height="1.05" fill="#f8dad8"/>
<rect x="104.71" y="135.00" width="3.88" height="1.05" fill="#f4c8c4"/>
<rect x="108.54" y="135.00" width="3.88" height="1.05" fill="#f5cac6"/>
<rect x="112.37" y="135.00" width="3.88" height="1.05" fill="#f2f2fc"/>
<rect x="116.20" y="135.00" width="3.88" height="1.05" fill="#f6f6fd"/>
<rect x="120.03" y="135.00" width="3.88" height="1.05" fill="#fdfdff"/>
<rect x="123.86" y="135.00" width="3.88" height="1.05" fill="#fafafe"/>
<rect x="127.69" y="135.00" width="3.88" height="1.05" fill="#e7e7f9"/>
<rect x="131.52" y="135.00" width="3.88" height="1.05" fill="#ededfb"/>
<rect x="135.35" y="135.00" width="3.88" height="1.05" fill="#d7d7f5"/>
<rect x="139.18" y="135.00" width="3.88" height="1.05" fill="#fcf1ef"/>
<rect x="143.01" y="135.00" width="3.88" height="1.05" fill="#f9f9fe"/>
<rect x="146.84" y="135.00" width="3.88" height="1.05" fill="#f9f9fd"/>
<rect x="39.60" y="136.00" width="3.88" height="1.05" fill="#e4e4f9"/>
<rect x="43.43" y="136.00" width="3.88" height="1.05" fill="#fcf0ef"/>
<rect x="47.26" y="136.00" width="3.88" height="1.05" fill="#fbfbfe"/>
<rect x="51.09" y="136.00" width="3.88" height="1.05" fill="#fef8f7"/>
<rect x="54.92" y="136.00" width="3.88" height="1.05" fill="#fdfdff"/>
<rect x="58.75" y="136.00" width="3.88" height="1.05" fill="#fef9f9"/>
<rect x="62.58" y="136.00" width="3.88" height="1.05" fill="#fef8f8"/>
<rect x="66.41" y="136.00" width="3.88" height="1.05" fill="#f9f9fe"/>
<rect x="70.24" y="136.00" width="3.88" height="1.05" fill="#ececfb"/>
<rect x="74.07" y="136.00" width="3.88" height="1.05" fill="#f6d0cc"/>
<rect x="77.90" y="136.00" width="3.88" height="1.05" fill="#f7d3d0"/>
<rect x="81.73" y="136.00" width="3.88" height="1.05" fill="#fae2e0"/>
<rect x="85.56" y="136.00" width="3.88" height="1.05" fill="#f8d9d6"/>
<rect x="89.39" y="136.00" width="3.88" height="1.05" fill="#f7d6d3"/>
<rect x="93.22" y="136.00" width="3.88" height="1.05" fill="#f8dad8"/>
<rect x="97.05" y="136.00" width="3.88" height="1.05" fill="#f7d7d4"/>
<rect x="100.88" y="136.00" width="3.88" height="1.05" fill="#f8d9d6"/>
<rect x="104.71" y="136.00" width="3.88" height="1.05" fill="#f8dad7"/>
<rect x="108.54" y="136.00" width="3.88" height="1.05" fill="#f9dedb"/>
<rect x="112.37" y="136.00" width="3.88" height="1.05" fill="#f0f0fb"/>
<rect x="116.20" y="136.00" width="3.88" height="1.05" fill="#ebebfa"/>
<rect x="120.03" y="136.00" width="3.88" height="1.05" fill="#fefeff"/>
<rect x="123.86" y="136.00" width="3.88" height="1.05" fill="#f7f7fd"/>
<rect x="127.69" y="136.00" width="3.88" height="1.05" fill="#f9f9fe"/>
<rect x="131.52" y="136.00" width="3.88" height="1.05" fill="#fcfcfe"/>
<rect x="135.35" y="136.00" width="3.88" height="1.05" fill="#f1f1fc"/>
<rect x="139.18" y="136.00" width="3.88" height="1.05" fill="#ffffff"/>
<rect x="143.01" y="136.00" width="3.88" height="1.05" fill="#e5e5f9"/>
<rect x="146.84" y="136.00" width="3.88" height="1.05" fill="#efeffb"/>
<rect x="39.60" y="137.00" width="3.88" height="1.05" fill="#f3f3fc"/>
<rect x="43.43" y="137.00" width="3.88" height="1.05" fill="#fdf6f6"/>
<rect x="47.26" y="137.00" width="3.88" height="1.05" fill="#eeeefb"/>
<rect x="51.09" y="137.00" width="3.88" height="1.05" fill="#f9f9fe"/>
<rect x="54.92" y="137.00" width="3.88" height="1.05" fill="#fefbfb"/>
<rect x="58.75" y="137.00" width="3.88" height="1.05" fill="#fdf2f1"/>
<rect x="62.58" y="137.00" width="3.88" height="1.05" fill="#fdf4f3"/>
<rect x="66.41" y="137.00" width="3.88" height="1.05" fill="#f2f2fc"/>
<rect x="70.24" y="137.00" width="3.88" height="1.05" fill="#f4f4fc"/>
<rect x="74.07" y="137.00" width="3.88" height="1.05" fill="#fae7e5"/>
<rect x="77.90" y="137.00" width="3.88" height="1.05" fill="#f9dedc"/>
<rect x="81.73" y="137.00" width="3.88" height="1.05" fill="#f8dbd8"/>
<rect x="85.56" y="137.00" width="3.88" height="1.05" fill="#f7d5d2"/>
<rect x="89.39" y="137.00" width="3.88" height="1.05" fill="#f8ddda"/>
<rect x="93.22" y="137.00" width="3.88" height="1.05" fill="#f8d9d7"/>
<rect x="97.05" y="137.00" width="3.88" height="1.05" fill="#f8ddda"/>
<rect x="100.88" y="137.00" width="3.88" height="1.05" fill="#f5cbc8"/>
<rect x="104.71" y="137.00" width="3.88" height="1.05" fill="#fcf1f0"/>
<rect x="108.54" y="137.00" width="3.88" height="1.05" fill="#f9dedc"/>
<rect x="112.37" y="137.00" width="3.88" height="1.05" fill="#fbeceb"/>
<rect x="116.20" y="137.00" width="3.88" height="1.05" fill="#fefeff"/>
<rect x="120.03" y="137.00" width="3.88" height="1.05" fill="#ececfa"/>
<rect x="123.86" y="137.00" width="3.88" height="1.05" fill="#fdfdff"/>
<rect x="127.69" y="137.00" width="3.88" height="1.05" fill="#efeffb"/>
<rect x="131.52" y="137.00" width="3.88" height="1.05" fill="#f6f6fd"/>
<rect x="135.35" y="137.00" width="3.88" height="1.05" fill="#fefeff"/>
<rect x="139.18" y="137.00" width="3.88" height="1.05" fill="#fdf3f2"/>
<rect x="143.01" y="137.00" width="3.88" height="1.05" fill="#fffefe"/>
<rect x="146.84" y="137.00" width="3.88" height="1.05" fill="#fefcfc"/>
<rect x="39.60" y="138.00" width="3.88" height="1.05" fill="#fcfcfe"/>
<rect x="43.43" y="138.00" width="3.88" height="1.05" fill="#fdf5f4"/>
<rect x="47.26" y="138.00" width="3.88" height="1.05" fill="#eeeefb"/>
<rect x="51.09" y="138.00" width="3.88" height="1.05" fill="#fbe9e7"/>
<rect x="54.92" y="138.00" width="3.88" height="1.05" fill="#fcefed"/>
<rect x="58.75" y="138.00" width="3.88" height="1.05" fill="#fdf6f5"/>
<rect x="62.58" y="138.00" width="3.88" height="1.05" fill="#fef8f7"/>
<rect x="66.41" y="138.00" width="3.88" height="1.05" fill="#f6f6fd"/>
<rect x="70.24" y="138.00" width="3.88" height="1.05" fill="#f0f0fb"/>
<rect x="74.07" y="138.00" width="3.88" height="1.05" fill="#fceeed"/>
<rect x="77.90" y="138.00" width="3.88" height="1.05" fill="#f8dad7"/>
<rect x="81.73" y="138.00" width="3.88" height="1.05" fill="#f9dddb"/>
<rect x="85.56" y="138.00" width="3.88" height="1.05" fill="#fafafe"/>
<rect x="89.39" y="138.00" width="3.88" height="1.05" fill="#fcefee"/>
<rect x="93.22" y="138.00" width="3.88" height="1.05" fill="#f7d4d0"/>
<rect x="97.05" y="138.00" width="3.88" height="1.05" fill="#f8ddda"/>
<rect x="100.88" y="138.00" width="3.88" height="1.05" fill="#fae6e4"/>
<rect x="104.71" y="138.00" width="3.88" height="1.05" fill="#fcf0ef"/>
<rect x="108.54" y="138.00" width="3.88" height="1.05" fill="#fbe9e8"/>
<rect x="112.37" y="138.00" width="3.88" height="1.05" fill="#fdf2f1"/>
<rect x="116.20" y="138.00" width="3.88" height="1.05" fill="#eaeafa"/>
<rect x="120.03" y="138.00" width="3.88" height="1.05" fill="#fefbfb"/>
<rect x="123.86" y="138.00" width="3.88" height="1.05" fill="#fbeae9"/>
<rect x="127.69" y="138.00" width="3.88" height="1.05" fill="#fffffe"/>
<rect x="131.52" y="138.00" width="3.88" height="1.05" fill="#f6f6fd"/>
<rect x="135.35" y="138.00" width="3.88" height="1.05" fill="#fefbfb"/>
<rect x="139.18" y="138.00" width="3.88" height="1.05" fill="#fefafa"/>
<rect x="143.01" y="138.00" width="3.88" height="1.05" fill="#fefcfc"/>
<rect x="146.84" y="138.00" width="3.88" height="1.05" fill="#fdfdfe"/>
<rect x="39.60" y="139.00" width="3.88" height="1.05" fill="#f3f3fc"/>
<rect x="43.43" y="139.00" width="3.88" height="1.05" fill="#fefbfa"/>
<rect x="47.26" y="139.00" width="3.88" height="1.05" fill="#f3f3fc"/>
<rect x="51.09" y="139.00" width="3.88" height="1.05" fill="#fdf6f5"/>
<rect x="54.92" y="139.00" width="3.88" height="1.05" fill="#fdf7f6"/>
<rect x="58.75" y="139.00" width="3.88" height="1.05" fill="#fafafe"/>
<rect x="62.58" y="139.00" width="3.88" height="1.05" fill="#fae7e5"/>
<rect x="66.41" y="139.00" width="3.88" height="1.05" fill="#fbe7e6"/>
<rect x="70.24" y="139.00" width="3.88" height="1.05" fill="#fffdfd"/>
<rect x="74.07" y="139.00" width="3.88" height="1.05" fill="#fae7e5"/>
<rect x="77.90" y="139.00" width="3.88" height="1.05" fill="#f8dbd8"/>
<rect x="81.73" y="139.00" width="3.88" height="1.05" fill="#f8d8d6"/>
<rect x="85.56" y="139.00" width="3.88" height="1.05" fill="#fffefe"/>
<rect x="89.39" y="139.00" width="3.88" height="1.05" fill="#f8dcd9"/>
<rect x="93.22" y="139.00" width="3.88" height="1.05" fill="#fbe9e8"/>
<rect x="97.05" y="139.00" width="3.88" height="1.05" fill="#f8d8d5"/>
<rect x="100.88" y="139.00" width="3.88" height="1.05" fill="#f6d0cc"/>
<rect x="104.71" y="139.00" width="3.88" height="1.05" fill="#f7d3d0"/>
<rect x="108.54" y="139.00" width="3.88" height="1.05" fill="#fbe9e8"/>
<rect x="112.37" y="139.00" width="3.88" height="1.05" fill="#fef8f7"/>
<rect x="116.20" y="139.00" width="3.88" height="1.05" fill="#fefcfc"/>
<rect x="120.03" y="139.00" width="3.88" height="1.05" fill="#f7f7fd"/>
<rect x="123.86" y="139.00" width="3.88" height="1.05" fill="#ffffff"/>
<rect x="127.69" y="139.00" width="3.88" height="1.05" fill="#fdf6f6"/>
<rect x="131.52" y="139.00" width="3.88" height="1.05" fill="#f7f7fd"/>
<rect x="135.35" y="139.00" width="3.88" height="1.05" fill="#fafafe"/>
<rect x="139.18" y="139.00" width="3.88" height="1.05" fill="#f5f5fd"/>
<rect x="143.01" y="139.00" width="3.88" height="1.05" fill="#fefaf9"/>
<rect x="146.84" y="139.00" width="3.88" height="1.05" fill="#e7e7f9"/>
<rect x="39.60" y="140.00" width="3.88" height="1.05" fill="#e8e8fa"/>
<rect x="43.43" y="140.00" width="3.88" height="1.05" fill="#fcf1f0"/>
<rect x="47.26" y="140.00" width="3.88" height="1.05" fill="#dbdbf6"/>
<rect x="51.09" y="140.00" width="3.88" height="1.05" fill="#fbebea"/>
<rect x="54.92" y="140.00" width="3.88" height="1.05" fill="#d9d9f6"/>
<rect x="58.75" y="140.00" width="3.88" height="1.05" fill="#f8d9d6"/>
<rect x="62.58" y="140.00" width="3.88" height="1.05" fill="#ededfb"/>
<rect x="66.41" y="140.00" width="3.88" height="1.05" fill="#fcf2f1"/>
<rect x="70.24" y="140.00" width="3.88" height="1.05" fill="#e2e2f8"/>
<rect x="74.07" y="140.00" width="3.88" height="1.05" fill="#efada7"/>
<rect x="77.90" y="140.00" width="3.88" height="1.05" fill="#f8dad7"/>
<rect x="81.73" y="140.00" width="3.88" height="1.05" fill="#f5c8c4"/>
<rect x="85.56" y="140.00" width="3.88" height="1.05" fill="#f3c0bb"/>
<rect x="89.39" y="140.00" width="3.88" height="1.05" fill="#f1b4ae"/>
<rect x="93.22" y="140.00" width="3.88" height="1.05" fill="#f3c2be"/>
<rect x="97.05" y="140.00" width="3.88" height="1.05" fill="#f5cbc7"/>
<rect x="100.88" y="140.00" width="3.88" height="1.05" fill="#f3c0bc"/>
<rect x="104.71" y="140.00" width="3.88" height="1.05" fill="#f5c9c6"/>
<rect x="108.54" y="140.00" width="3.88" height="1.05" fill="#f3c0bc"/>
<rect x="112.37" y="140.00" width="3.88" height="1.05" fill="#ebebfa"/>
<rect x="116.20" y="140.00" width="3.88" height="1.05" fill="#e3e3f8"/>
<rect x="120.03" y="140.00" width="3.88" height="1.05" fill="#ececfb"/>
<rect x="123.86" y="140.00" width="3.88" height="1.05" fill="#eeeefb"/>
<rect x="127.69" y="140.00" width="3.88" height="1.05" fill="#ebebfa"/>
<rect x="131.52" y="140.00" width="3.88" height="1.05" fill="#dfdff7"/>
<rect x="135.35" y="140.00" width="3.88" height="1.05" fill="#d9d9f6"/>
<rect x="139.18" y="140.00" width="3.88" height="1.05" fill="#cdcdf3"/>
<rect x="143.01" y="140.00" width="3.88" height="1.05" fill="#e8e8fa"/>
<rect x="146.84" y="140.00" width="3.88" height="1.05" fill="#d9d9f6"/>
<rect x="39.60" y="141.00" width="3.88" height="0.55" fill="#d7d7f6"/>
<rect x="43.43" y="141.00" width="3.88" height="0.55" fill="#fae5e3"/>
<rect x="47.26" y="141.00" width="3.88" height="0.55" fill="#ededfb"/>
<rect x="51.09" y="141.00" width="3.88" height="0.55" fill="#fbeceb"/>
<rect x="54.92" y="141.00" width="3.88" height="0.55" fill="#ddddf7"/>
<rect x="58.75" y="141.00" width="3.88" height="0.55" fill="#fbe9e7"/>
<rect x="62.58" y="141.00" width="3.88" height="0.55" fill="#f6f6fd"/>
<rect x="66.41" y="141.00" width="3.88" height="0.55" fill="#f8dad7"/>
<rect x="70.24" y="141.00" width="3.88" height="0.55" fill="#ddddf7"/>
<rect x="74.07" y="141.00" width="3.88" height="0.55" fill="#f2bcb7"/>
<rect x="77.90" y="141.00" width="3.88" height="0.55" fill="#f4c6c2"/>
<rect x="81.73" y="141.00" width="3.88" height="0.55" fill="#f3c2bd"/>
<rect x="85.56" y="141.00" width="3.88" height="0.55" fill="#f4c6c2"/>
<rect x="89.39" y="141.00" width="3.88" height="0.55" fill="#f3c3be"/>
<rect x="93.22" y="141.00" width="3.88" height="0.55" fill="#f6cfcc"/>
<rect x="97.05" y="141.00" width="3.88" height="0.55" fill="#f9dedc"/>
<rect x="100.88" y="141.00" width="3.88" height="0.55" fill="#f1b5af"/>
<rect x="104.71" y="141.00" width="3.88" height="0.55" fill="#f0b2ac"/>
<rect x="108.54" y="141.00" width="3.88" height="0.55" fill="#f3c1bc"/>
<rect x="112.37" y="141.00" width="3.88" height="0.55" fill="#d9d9f6"/>
<rect x="116.20" y="141.00" width="3.88" height="0.55" fill="#f2f2fc"/>
<rect x="120.03" y="141.00" width="3.88" height="0.55" fill="#dfdff7"/>
<rect x="123.86" y="141.00" width="3.88" height="0.55" fill="#dfdff7"/>
<rect x="127.69" y="141.00" width="3.88" height="0.55" fill="#e6e6f9"/>
<rect x="131.52" y="141.00" width="3.88" height="0.55" fill="#d3d3f4"/>
<rect x="135.35" y="141.00" width="3.88" height="0.55" fill="#e1e1f8"/>
<rect x="139.18" y="141.00" width="3.88" height="0.55" fill="#c2c2f1"/>
<rect x="143.01" y="141.00" width="3.88" height="0.55" fill="#dbdbf7"/>
<rect x="146.84" y="141.00" width="3.88" height="0.55" fill="#d6d6f5"/>
</g>
<rect x="19.60" y="74.95" width="131.07" height="0.70" fill="#ffffff"/>
<rect x="19.60" y="104.65" width="131.07" height="0.70" fill="#ffffff"/>
<rect x="19.60" y="132.85" width="131.07" height="0.70" fill="#ffffff"/>
<rect x="19.00" y="26.00" width="15.20" height="115.50" fill="#000000"/>
<rect x="20.00" y="27.60" width="5.43" height="0.85" fill="rgba(255,255,255,0.96)"/>
<rect x="19.93" y="28.94" width="2.53" height="1.03" fill="rgba(255,255,255,0.93)"/>
<rect x="20.30" y="30.34" width="5.15" height="1.03" fill="rgba(255,255,255,0.95)"/>
<rect x="19.96" y="31.87" width="5.80" height="1.05" fill="rgba(255,255,255,0.95)"/>
<rect x="20.17" y="33.44" width="3.16" height="1.00" fill="rgba(255,255,255,0.96)"/>
<rect x="19.91" y="34.83" width="7.06" height="0.89" fill="rgba(255,255,255,0.97)"/>
<rect x="20.19" y="36.28" width="7.51" height="0.86" fill="rgba(255,255,255,0.98)"/>
<rect x="20.27" y="37.57" width="7.16" height="0.74" fill="rgba(255,255,255,0.91)"/>
<rect x="20.29" y="38.68" width="5.03" height="0.95" fill="rgba(255,255,255,0.93)"/>
<rect x="20.05" y="40.08" width="4.71" height="0.93" fill="rgba(255,255,255,0.96)"/>
<rect x="20.17" y="41.59" width="7.59" height="1.04" fill="rgba(255,255,255,1.00)"/>
<rect x="19.97" y="43.13" width="7.02" height="1.09" fill="rgba(255,255,255,0.99)"/>
<rect x="20.19" y="44.69" width="4.11" height="1.03" fill="rgba(255,255,255,0.96)"/>
<rect x="19.93" y="46.11" width="6.98" height="1.10" fill="rgba(255,255,255,0.91)"/>
<rect x="20.06" y="47.74" width="3.78" height="0.82" fill="rgba(255,255,255,0.98)"/>
<rect x="19.92" y="49.12" width="5.71" height="0.72" fill="rgba(255,255,255,0.97)"/>
<rect x="20.25" y="50.24" width="8.26" height="0.90" fill="rgba(255,255,255,1.00)"/>
<rect x="19.93" y="51.53" width="5.65" height="0.71" fill="rgba(255,255,255,0.92)"/>
<rect x="20.14" y="52.67" width="3.81" height="0.72" fill="rgba(255,255,255,0.99)"/>
<rect x="20.28" y="53.78" width="7.30" height="0.85" fill="rgba(255,255,255,0.95)"/>
<rect x="20.16" y="55.09" width="5.64" height="0.92" fill="rgba(255,255,255,0.96)"/>
<rect x="20.10" y="56.59" width="5.01" height="0.99" fill="rgba(255,255,255,0.92)"/>
<rect x="20.29" y="57.97" width="5.34" height="0.92" fill="rgba(255,255,255,0.90)"/>
<rect x="20.13" y="59.31" width="2.65" height="0.95" fill="rgba(255,255,255,0.96)"/>
<rect x="20.15" y="60.58" width="5.13" height="0.97" fill="rgba(255,255,255,0.94)"/>
<rect x="20.20" y="62.06" width="2.68" height="0.72" fill="rgba(255,255,255,0.97)"/>
<rect x="20.00" y="63.38" width="5.10" height="0.94" fill="rgba(255,255,255,0.93)"/>
<rect x="20.03" y="64.72" width="4.78" height="0.94" fill="rgba(255,255,255,0.93)"/>
<rect x="20.21" y="66.07" width="2.75" height="0.93" fill="rgba(255,255,255,0.97)"/>
<rect x="19.99" y="67.39" width="6.66" height="0.80" fill="rgba(255,255,255,0.92)"/>
<rect x="20.18" y="68.62" width="3.46" height="0.83" fill="rgba(255,255,255,0.93)"/>
<rect x="20.08" y="70.00" width="6.99" height="0.77" fill="rgba(255,255,255,0.93)"/>
<rect x="20.25" y="71.26" width="5.08" height="0.79" fill="rgba(255,255,255,0.91)"/>
<rect x="19.98" y="72.51" width="6.67" height="1.04" fill="rgba(255,255,255,0.92)"/>
<rect x="20.22" y="73.93" width="5.83" height="1.02" fill="rgba(255,255,255,0.93)"/>
<rect x="20.02" y="76.69" width="6.60" height="0.81" fill="rgba(255,255,255,0.93)"/>
<rect x="20.07" y="77.93" width="4.93" height="1.07" fill="rgba(255,255,255,0.92)"/>
<rect x="20.28" y="79.29" width="7.17" height="1.09" fill="rgba(255,255,255,0.94)"/>
<rect x="20.27" y="80.97" width="4.16" height="1.00" fill="rgba(255,255,255,0.98)"/>
<rect x="20.11" y="82.47" width="4.46" height="0.84" fill="rgba(255,255,255,0.92)"/>
<rect x="20.14" y="83.63" width="4.46" height="1.02" fill="rgba(255,255,255,0.90)"/>
<rect x="20.18" y="85.22" width="7.54" height="1.06" fill="rgba(255,255,255,0.99)"/>
<rect x="19.91" y="86.76" width="6.33" height="0.77" fill="rgba(255,255,255,0.93)"/>
<rect x="20.11" y="88.02" width="4.95" height="1.08" fill="rgba(255,255,255,0.96)"/>
<rect x="20.00" y="89.50" width="7.03" height="0.89" fill="rgba(255,255,255,0.98)"/>
<rect x="19.98" y="90.80" width="5.39" height="1.03" fill="rgba(255,255,255,0.92)"/>
<rect x="20.27" y="92.36" width="6.67" height="1.03" fill="rgba(255,255,255,0.90)"/>
<rect x="20.25" y="93.88" width="3.02" height="0.81" fill="rgba(255,255,255,0.93)"/>
<rect x="20.07" y="95.15" width="5.16" height="1.01" fill="rgba(255,255,255,0.90)"/>
<rect x="19.95" y="96.47" width="3.62" height="0.73" fill="rgba(255,255,255,1.00)"/>
<rect x="19.93" y="97.76" width="5.27" height="0.83" fill="rgba(255,255,255,0.93)"/>
<rect x="20.16" y="98.99" width="5.60" height="0.84" fill="rgba(255,255,255,0.92)"/>
<rect x="19.95" y="100.23" width="5.47" height="0.99" fill="rgba(255,255,255,0.94)"/>
<rect x="19.97" y="101.54" width="4.80" height="0.94" fill="rgba(255,255,255,0.98)"/>
<rect x="20.22" y="102.90" width="5.75" height="0.87" fill="rgba(255,255,255,0.94)"/>
<rect x="20.18" y="106.32" width="4.97" height="0.98" fill="rgba(255,255,255,0.95)"/>
<rect x="20.11" y="107.67" width="6.08" height="0.73" fill="rgba(255,255,255,0.94)"/>
<rect x="20.25" y="108.83" width="7.67" height="0.85" fill="rgba(255,255,255,0.99)"/>
<rect x="20.00" y="110.21" width="5.13" height="0.75" fill="rgba(255,255,255,0.98)"/>
<rect x="20.25" y="111.46" width="6.59" height="0.97" fill="rgba(255,255,255,0.97)"/>
<rect x="19.94" y="112.90" width="5.60" height="0.70" fill="rgba(255,255,255,0.91)"/>
<rect x="19.92" y="114.13" width="3.39" height="0.74" fill="rgba(255,255,255,0.99)"/>
<rect x="19.91" y="115.23" width="6.89" height="0.75" fill="rgba(255,255,255,0.98)"/>
<rect x="20.23" y="116.48" width="7.85" height="0.93" fill="rgba(255,255,255,0.98)"/>
<rect x="20.21" y="117.72" width="5.30" height="0.99" fill="rgba(255,255,255,0.91)"/>
<rect x="20.27" y="119.23" width="3.13" height="0.83" fill="rgba(255,255,255,0.96)"/>
<rect x="20.00" y="120.61" width="3.94" height="0.80" fill="rgba(255,255,255,0.96)"/>
<rect x="20.06" y="121.93" width="4.78" height="0.86" fill="rgba(255,255,255,0.94)"/>
<rect x="19.93" y="123.22" width="5.26" height="1.09" fill="rgba(255,255,255,0.94)"/>
<rect x="19.96" y="124.83" width="6.06" height="1.00" fill="rgba(255,255,255,0.97)"/>
<rect x="20.09" y="126.29" width="5.84" height="1.06" fill="rgba(255,255,255,0.91)"/>
<rect x="20.20" y="127.68" width="7.47" height="0.91" fill="rgba(255,255,255,0.94)"/>
<rect x="19.97" y="129.10" width="4.37" height="0.78" fill="rgba(255,255,255,0.96)"/>
<rect x="19.99" y="130.27" width="6.06" height="1.08" fill="rgba(255,255,255,0.93)"/>
<rect x="20.07" y="131.87" width="6.98" height="0.93" fill="rgba(255,255,255,0.93)"/>
<rect x="19.91" y="134.57" width="5.18" height="0.85" fill="rgba(255,255,255,0.92)"/>
<rect x="20.03" y="135.83" width="6.49" height="0.76" fill="rgba(255,255,255,1.00)"/>
<rect x="20.14" y="137.03" width="5.14" height="1.03" fill="rgba(255,255,255,0.98)"/>
<rect x="20.09" y="138.53" width="6.20" height="1.04" fill="rgba(255,255,255,0.94)"/>
<rect x="20.28" y="140.09" width="5.14" height="0.79" fill="rgba(255,255,255,0.92)"/>
<rect x="34.20" y="26.00" width="5.10" height="49.30" fill="#f2f2a0"/>
<rect x="34.20" y="75.30" width="5.10" height="29.70" fill="#f0a6b0"/>
<rect x="34.20" y="105.00" width="5.10" height="28.20" fill="#a6d872"/>
<rect x="34.20" y="133.20" width="5.10" height="8.30" fill="#74b6e6"/>
<rect x="19.60" y="74.95" width="131.07" height="0.70" fill="#ffffff"/>
<rect x="19.60" y="104.65" width="131.07" height="0.70" fill="#ffffff"/>
<rect x="19.60" y="132.85" width="131.07" height="0.70" fill="#ffffff"/>
<text x="37.90" y="49.50" font-size="3.75" text-anchor="middle" fill="#4a4410" transform="rotate(-90 37.9 49.5)">Cluster 1</text>
<text x="37.90" y="90.00" font-size="3.75" text-anchor="middle" fill="#5a1020" transform="rotate(-90 37.9 90.0)">Cluster 2</text>
<text x="37.90" y="119.00" font-size="3.75" text-anchor="middle" fill="#1f420c" transform="rotate(-90 37.9 119.0)">Cluster 3</text>
<text x="37.90" y="141.70" font-size="3.75" text-anchor="middle" fill="#102a58" transform="rotate(-90 37.9 141.7)">Cluster 4</text>
<line x1="41.52" y1="23.40" x2="41.52" y2="26.00" stroke="#959595" stroke-width="0.6"/>
<line x1="45.34" y1="23.40" x2="45.34" y2="26.00" stroke="#959595" stroke-width="0.6"/>
<line x1="41.52" y1="23.40" x2="45.34" y2="23.40" stroke="#959595" stroke-width="0.6"/>
<line x1="43.43" y1="21.00" x2="43.43" y2="23.40" stroke="#959595" stroke-width="0.6"/>
<line x1="49.17" y1="21.00" x2="49.17" y2="26.00" stroke="#959595" stroke-width="0.6"/>
<line x1="43.43" y1="21.00" x2="49.17" y2="21.00" stroke="#959595" stroke-width="0.6"/>
<line x1="53.01" y1="23.40" x2="53.01" y2="26.00" stroke="#959595" stroke-width="0.6"/>
<line x1="56.84" y1="23.40" x2="56.84" y2="26.00" stroke="#959595" stroke-width="0.6"/>
<line x1="53.01" y1="23.40" x2="56.84" y2="23.40" stroke="#959595" stroke-width="0.6"/>
<line x1="54.92" y1="21.20" x2="54.92" y2="23.40" stroke="#959595" stroke-width="0.6"/>
<line x1="60.67" y1="21.20" x2="60.67" y2="26.00" stroke="#959595" stroke-width="0.6"/>
<line x1="54.92" y1="21.20" x2="60.67" y2="21.20" stroke="#959595" stroke-width="0.6"/>
<line x1="64.50" y1="23.00" x2="64.50" y2="26.00" stroke="#959595" stroke-width="0.6"/>
<line x1="68.33" y1="23.00" x2="68.33" y2="26.00" stroke="#959595" stroke-width="0.6"/>
<line x1="64.50" y1="23.00" x2="68.33" y2="23.00" stroke="#959595" stroke-width="0.6"/>
<line x1="66.41" y1="21.00" x2="66.41" y2="23.00" stroke="#959595" stroke-width="0.6"/>
<line x1="72.16" y1="21.00" x2="72.16" y2="26.00" stroke="#959595" stroke-width="0.6"/>
<line x1="66.41" y1="21.00" x2="72.16" y2="21.00" stroke="#959595" stroke-width="0.6"/>
<line x1="57.79" y1="20.20" x2="57.79" y2="21.20" stroke="#959595" stroke-width="0.6"/>
<line x1="69.28" y1="20.20" x2="69.28" y2="21.00" stroke="#959595" stroke-width="0.6"/>
<line x1="57.79" y1="20.20" x2="69.28" y2="20.20" stroke="#959595" stroke-width="0.6"/>
<line x1="46.30" y1="18.00" x2="46.30" y2="21.00" stroke="#959595" stroke-width="0.6"/>
<line x1="63.54" y1="18.00" x2="63.54" y2="20.20" stroke="#959595" stroke-width="0.6"/>
<line x1="46.30" y1="18.00" x2="63.54" y2="18.00" stroke="#959595" stroke-width="0.6"/>
<line x1="83.65" y1="23.20" x2="83.65" y2="26.00" stroke="#959595" stroke-width="0.6"/>
<line x1="87.47" y1="23.20" x2="87.47" y2="26.00" stroke="#959595" stroke-width="0.6"/>
<line x1="83.65" y1="23.20" x2="87.47" y2="23.20" stroke="#959595" stroke-width="0.6"/>
<line x1="91.31" y1="23.60" x2="91.31" y2="26.00" stroke="#959595" stroke-width="0.6"/>
<line x1="95.14" y1="23.60" x2="95.14" y2="26.00" stroke="#959595" stroke-width="0.6"/>
<line x1="91.31" y1="23.60" x2="95.14" y2="23.60" stroke="#959595" stroke-width="0.6"/>
<line x1="98.97" y1="22.80" x2="98.97" y2="26.00" stroke="#959595" stroke-width="0.6"/>
<line x1="102.80" y1="22.80" x2="102.80" y2="26.00" stroke="#959595" stroke-width="0.6"/>
<line x1="98.97" y1="22.80" x2="102.80" y2="22.80" stroke="#959595" stroke-width="0.6"/>
<line x1="106.62" y1="23.40" x2="106.62" y2="26.00" stroke="#959595" stroke-width="0.6"/>
<line x1="110.46" y1="23.40" x2="110.46" y2="26.00" stroke="#959595" stroke-width="0.6"/>
<line x1="106.62" y1="23.40" x2="110.46" y2="23.40" stroke="#959595" stroke-width="0.6"/>
<line x1="114.28" y1="23.00" x2="114.28" y2="26.00" stroke="#959595" stroke-width="0.6"/>
<line x1="118.12" y1="23.00" x2="118.12" y2="26.00" stroke="#959595" stroke-width="0.6"/>
<line x1="114.28" y1="23.00" x2="118.12" y2="23.00" stroke="#959595" stroke-width="0.6"/>
<line x1="121.94" y1="23.60" x2="121.94" y2="26.00" stroke="#959595" stroke-width="0.6"/>
<line x1="125.78" y1="23.60" x2="125.78" y2="26.00" stroke="#959595" stroke-width="0.6"/>
<line x1="121.94" y1="23.60" x2="125.78" y2="23.60" stroke="#959595" stroke-width="0.6"/>
<line x1="129.60" y1="22.60" x2="129.60" y2="26.00" stroke="#959595" stroke-width="0.6"/>
<line x1="133.44" y1="22.60" x2="133.44" y2="26.00" stroke="#959595" stroke-width="0.6"/>
<line x1="129.60" y1="22.60" x2="133.44" y2="22.60" stroke="#959595" stroke-width="0.6"/>
<line x1="137.27" y1="23.40" x2="137.27" y2="26.00" stroke="#959595" stroke-width="0.6"/>
<line x1="141.09" y1="23.40" x2="141.09" y2="26.00" stroke="#959595" stroke-width="0.6"/>
<line x1="137.27" y1="23.40" x2="141.09" y2="23.40" stroke="#959595" stroke-width="0.6"/>
<line x1="144.93" y1="23.00" x2="144.93" y2="26.00" stroke="#959595" stroke-width="0.6"/>
<line x1="148.75" y1="23.00" x2="148.75" y2="26.00" stroke="#959595" stroke-width="0.6"/>
<line x1="144.93" y1="23.00" x2="148.75" y2="23.00" stroke="#959595" stroke-width="0.6"/>
<line x1="85.56" y1="21.00" x2="85.56" y2="23.20" stroke="#959595" stroke-width="0.6"/>
<line x1="93.22" y1="21.00" x2="93.22" y2="23.60" stroke="#959595" stroke-width="0.6"/>
<line x1="85.56" y1="21.00" x2="93.22" y2="21.00" stroke="#959595" stroke-width="0.6"/>
<line x1="100.88" y1="21.20" x2="100.88" y2="22.80" stroke="#959595" stroke-width="0.6"/>
<line x1="108.54" y1="21.20" x2="108.54" y2="23.40" stroke="#959595" stroke-width="0.6"/>
<line x1="100.88" y1="21.20" x2="108.54" y2="21.20" stroke="#959595" stroke-width="0.6"/>
<line x1="116.20" y1="20.80" x2="116.20" y2="23.00" stroke="#959595" stroke-width="0.6"/>
<line x1="123.86" y1="20.80" x2="123.86" y2="23.60" stroke="#959595" stroke-width="0.6"/>
<line x1="116.20" y1="20.80" x2="123.86" y2="20.80" stroke="#959595" stroke-width="0.6"/>
<line x1="131.52" y1="21.40" x2="131.52" y2="22.60" stroke="#959595" stroke-width="0.6"/>
<line x1="139.18" y1="21.40" x2="139.18" y2="23.40" stroke="#959595" stroke-width="0.6"/>
<line x1="131.52" y1="21.40" x2="139.18" y2="21.40" stroke="#959595" stroke-width="0.6"/>
<line x1="135.35" y1="20.40" x2="135.35" y2="21.40" stroke="#959595" stroke-width="0.6"/>
<line x1="146.84" y1="20.40" x2="146.84" y2="23.00" stroke="#959595" stroke-width="0.6"/>
<line x1="135.35" y1="20.40" x2="146.84" y2="20.40" stroke="#959595" stroke-width="0.6"/>
<line x1="89.39" y1="19.60" x2="89.39" y2="21.00" stroke="#959595" stroke-width="0.6"/>
<line x1="104.71" y1="19.60" x2="104.71" y2="21.20" stroke="#959595" stroke-width="0.6"/>
<line x1="89.39" y1="19.60" x2="104.71" y2="19.60" stroke="#959595" stroke-width="0.6"/>
<line x1="120.03" y1="18.20" x2="120.03" y2="20.80" stroke="#959595" stroke-width="0.6"/>
<line x1="141.09" y1="18.20" x2="141.09" y2="20.40" stroke="#959595" stroke-width="0.6"/>
<line x1="120.03" y1="18.20" x2="141.09" y2="18.20" stroke="#959595" stroke-width="0.6"/>
<line x1="97.05" y1="16.80" x2="97.05" y2="19.60" stroke="#959595" stroke-width="0.6"/>
<line x1="130.56" y1="16.80" x2="130.56" y2="18.20" stroke="#959595" stroke-width="0.6"/>
<line x1="97.05" y1="16.80" x2="130.56" y2="16.80" stroke="#959595" stroke-width="0.6"/>
<line x1="79.81" y1="15.60" x2="79.81" y2="26.00" stroke="#959595" stroke-width="0.6"/>
<line x1="113.81" y1="15.60" x2="113.81" y2="16.80" stroke="#959595" stroke-width="0.6"/>
<line x1="79.81" y1="15.60" x2="113.81" y2="15.60" stroke="#959595" stroke-width="0.6"/>
<line x1="75.98" y1="14.00" x2="75.98" y2="26.00" stroke="#959595" stroke-width="0.6"/>
<line x1="96.81" y1="14.00" x2="96.81" y2="15.60" stroke="#959595" stroke-width="0.6"/>
<line x1="75.98" y1="14.00" x2="96.81" y2="14.00" stroke="#959595" stroke-width="0.6"/>
<line x1="54.92" y1="10.90" x2="54.92" y2="18.00" stroke="#959595" stroke-width="0.6"/>
<line x1="86.40" y1="10.90" x2="86.40" y2="14.00" stroke="#959595" stroke-width="0.6"/>
<line x1="54.92" y1="10.90" x2="86.40" y2="10.90" stroke="#959595" stroke-width="0.6"/>
<defs><linearGradient id="hk" x1="0" y1="0" x2="0" y2="1"><stop offset="0" stop-color="#b01818"/><stop offset="0.25" stop-color="#e07070"/><stop offset="0.5" stop-color="#ffffff"/><stop offset="0.75" stop-color="#7070e0"/><stop offset="1" stop-color="#1818b0"/></linearGradient></defs>
<rect x="152.20" y="25.60" width="3.20" height="41.90" fill="url(#hk)"/>
<text x="157.00" y="31.80" font-size="3.4" text-anchor="start" fill="#333">4</text>
<text x="157.00" y="39.95" font-size="3.4" text-anchor="start" fill="#333">2</text>
<text x="157.00" y="47.20" font-size="3.4" text-anchor="start" fill="#333">0</text>
<text x="157.00" y="55.20" font-size="3.4" text-anchor="start" fill="#333">-2</text>
<text x="157.00" y="63.20" font-size="3.4" text-anchor="start" fill="#333">-4</text>
<text x="42.77" y="143.3" font-size="4.2" text-anchor="end" fill="#2a2a2a" stroke="#2a2a2a" stroke-width="0.04" transform="rotate(-90 42.77 143.3)" textLength="24.0" lengthAdjust="spacingAndGlyphs">Phenylalanine</text>
<text x="46.59" y="143.3" font-size="4.2" text-anchor="end" fill="#2a2a2a" stroke="#2a2a2a" stroke-width="0.04" transform="rotate(-90 46.59 143.3)" textLength="20.4" lengthAdjust="spacingAndGlyphs">Methionine</text>
<text x="50.42" y="143.3" font-size="4.2" text-anchor="end" fill="#2a2a2a" stroke="#2a2a2a" stroke-width="0.04" transform="rotate(-90 50.42 143.3)" textLength="11.4" lengthAdjust="spacingAndGlyphs">Valine</text>
<text x="54.26" y="143.3" font-size="4.2" text-anchor="end" fill="#2a2a2a" stroke="#2a2a2a" stroke-width="0.04" transform="rotate(-90 54.26 143.3)" textLength="10.8" lengthAdjust="spacingAndGlyphs">Iron</text>
<text x="58.09" y="143.3" font-size="4.2" text-anchor="end" fill="#2a2a2a" stroke="#2a2a2a" stroke-width="0.04" transform="rotate(-90 58.09 143.3)" textLength="21.5" lengthAdjust="spacingAndGlyphs">Tryptophan</text>
<text x="61.92" y="143.3" font-size="4.2" text-anchor="end" fill="#2a2a2a" stroke="#2a2a2a" stroke-width="0.04" transform="rotate(-90 61.92 143.3)" textLength="20.4" lengthAdjust="spacingAndGlyphs">Asparagine</text>
<text x="65.75" y="143.3" font-size="4.2" text-anchor="end" fill="#2a2a2a" stroke="#2a2a2a" stroke-width="0.04" transform="rotate(-90 65.75 143.3)" textLength="21.0" lengthAdjust="spacingAndGlyphs">Threonine</text>
<text x="69.58" y="143.3" font-size="4.2" text-anchor="end" fill="#2a2a2a" stroke="#2a2a2a" stroke-width="0.04" transform="rotate(-90 69.58 143.3)" textLength="10.8" lengthAdjust="spacingAndGlyphs">Lysine</text>
<text x="73.41" y="143.3" font-size="4.2" text-anchor="end" fill="#2a2a2a" stroke="#2a2a2a" stroke-width="0.04" transform="rotate(-90 73.41 143.3)" textLength="13.0" lengthAdjust="spacingAndGlyphs">Leucine</text>
<text x="77.23" y="143.3" font-size="4.2" text-anchor="end" fill="#2a2a2a" stroke="#2a2a2a" stroke-width="0.04" transform="rotate(-90 77.23 143.3)" textLength="15.6" lengthAdjust="spacingAndGlyphs">Glutamate</text>
<text x="81.06" y="143.3" font-size="4.2" text-anchor="end" fill="#2a2a2a" stroke="#2a2a2a" stroke-width="0.04" transform="rotate(-90 81.06 143.3)" textLength="12.6" lengthAdjust="spacingAndGlyphs">Proline</text>
<text x="84.90" y="143.3" font-size="4.2" text-anchor="end" fill="#2a2a2a" stroke="#2a2a2a" stroke-width="0.04" transform="rotate(-90 84.90 143.3)" textLength="12.6" lengthAdjust="spacingAndGlyphs">Serine</text>
<text x="88.72" y="143.3" font-size="4.2" text-anchor="end" fill="#2a2a2a" stroke="#2a2a2a" stroke-width="0.04" transform="rotate(-90 88.72 143.3)" textLength="16.2" lengthAdjust="spacingAndGlyphs">Glucose</text>
<text x="92.56" y="143.3" font-size="4.2" text-anchor="end" fill="#2a2a2a" stroke="#2a2a2a" stroke-width="0.04" transform="rotate(-90 92.56 143.3)" textLength="15.6" lengthAdjust="spacingAndGlyphs">Alanine</text>
<text x="96.39" y="143.3" font-size="4.2" text-anchor="end" fill="#2a2a2a" stroke="#2a2a2a" stroke-width="0.04" transform="rotate(-90 96.39 143.3)" textLength="15.0" lengthAdjust="spacingAndGlyphs">Cysteine</text>
<text x="100.22" y="143.3" font-size="4.2" text-anchor="end" fill="#2a2a2a" stroke="#2a2a2a" stroke-width="0.04" transform="rotate(-90 100.22 143.3)" textLength="15.6" lengthAdjust="spacingAndGlyphs">Histidine</text>
<text x="104.05" y="143.3" font-size="4.2" text-anchor="end" fill="#2a2a2a" stroke="#2a2a2a" stroke-width="0.04" transform="rotate(-90 104.05 143.3)" textLength="15.6" lengthAdjust="spacingAndGlyphs">Tyrosine</text>
<text x="107.88" y="143.3" font-size="4.2" text-anchor="end" fill="#2a2a2a" stroke="#2a2a2a" stroke-width="0.04" transform="rotate(-90 107.88 143.3)" textLength="12.6" lengthAdjust="spacingAndGlyphs">Nitrogen</text>
<text x="111.71" y="143.3" font-size="4.2" text-anchor="end" fill="#2a2a2a" stroke="#2a2a2a" stroke-width="0.04" transform="rotate(-90 111.71 143.3)" textLength="15.6" lengthAdjust="spacingAndGlyphs">Arginine</text>
<text x="115.53" y="143.3" font-size="4.2" text-anchor="end" fill="#2a2a2a" stroke="#2a2a2a" stroke-width="0.04" transform="rotate(-90 115.53 143.3)" textLength="16.6" lengthAdjust="spacingAndGlyphs">Ammonia</text>
<text x="119.37" y="143.3" font-size="4.2" text-anchor="end" fill="#2a2a2a" stroke="#2a2a2a" stroke-width="0.04" transform="rotate(-90 119.37 143.3)" textLength="23.5" lengthAdjust="spacingAndGlyphs">Rapamycin</text>
<text x="123.19" y="143.3" font-size="4.2" text-anchor="end" fill="#2a2a2a" stroke="#2a2a2a" stroke-width="0.04" transform="rotate(-90 123.19 143.3)" textLength="24.5" lengthAdjust="spacingAndGlyphs">Caffeine1</text>
<text x="127.03" y="143.3" font-size="4.2" text-anchor="end" fill="#2a2a2a" stroke="#2a2a2a" stroke-width="0.04" transform="rotate(-90 127.03 143.3)" textLength="13.0" lengthAdjust="spacingAndGlyphs">Urea</text>
<text x="130.85" y="143.3" font-size="4.2" text-anchor="end" fill="#2a2a2a" stroke="#2a2a2a" stroke-width="0.04" transform="rotate(-90 130.85 143.3)" textLength="20.0" lengthAdjust="spacingAndGlyphs">Isoleucine</text>
<text x="134.69" y="143.3" font-size="4.2" text-anchor="end" fill="#2a2a2a" stroke="#2a2a2a" stroke-width="0.04" transform="rotate(-90 134.69 143.3)" textLength="15.6" lengthAdjust="spacingAndGlyphs">Ethanol</text>
<text x="138.52" y="143.3" font-size="4.2" text-anchor="end" fill="#2a2a2a" stroke="#2a2a2a" stroke-width="0.04" transform="rotate(-90 138.52 143.3)" textLength="17.5" lengthAdjust="spacingAndGlyphs">Glycine</text>
<text x="142.34" y="143.3" font-size="4.2" text-anchor="end" fill="#2a2a2a" stroke="#2a2a2a" stroke-width="0.04" transform="rotate(-90 142.34 143.3)" textLength="16.6" lengthAdjust="spacingAndGlyphs">Glutamine</text>
<text x="146.18" y="143.3" font-size="4.2" text-anchor="end" fill="#2a2a2a" stroke="#2a2a2a" stroke-width="0.04" transform="rotate(-90 146.18 143.3)" textLength="13.0" lengthAdjust="spacingAndGlyphs">Pyruvate</text>
<text x="150.00" y="143.3" font-size="4.2" text-anchor="end" fill="#2a2a2a" stroke="#2a2a2a" stroke-width="0.04" transform="rotate(-90 150.00 143.3)" textLength="15.6" lengthAdjust="spacingAndGlyphs">Acetate</text>
<text x="180.50" y="8.50" font-size="6.6" text-anchor="start" fill="#111" font-weight="bold">B</text>
<line x1="202.70" y1="17.20" x2="202.70" y2="109.60" stroke="#111" stroke-width="0.9"/>
<line x1="202.20" y1="109.40" x2="317.20" y2="109.40" stroke="#111" stroke-width="0.9"/>
<line x1="201.20" y1="109.00" x2="202.70" y2="109.00" stroke="#111" stroke-width="0.5"/>
<text x="201.00" y="110.45" font-size="4.1" text-anchor="end" fill="#333">0</text>
<line x1="201.20" y1="93.80" x2="202.70" y2="93.80" stroke="#111" stroke-width="0.5"/>
<text x="201.00" y="95.25" font-size="4.1" text-anchor="end" fill="#333">500</text>
<line x1="201.20" y1="78.60" x2="202.70" y2="78.60" stroke="#111" stroke-width="0.5"/>
<text x="201.00" y="80.05" font-size="4.1" text-anchor="end" fill="#333">1000</text>
<line x1="201.20" y1="63.40" x2="202.70" y2="63.40" stroke="#111" stroke-width="0.5"/>
<text x="201.00" y="64.85" font-size="4.1" text-anchor="end" fill="#333">1500</text>
<line x1="201.20" y1="48.20" x2="202.70" y2="48.20" stroke="#111" stroke-width="0.5"/>
<text x="201.00" y="49.65" font-size="4.1" text-anchor="end" fill="#333">2000</text>
<line x1="201.20" y1="33.00" x2="202.70" y2="33.00" stroke="#111" stroke-width="0.5"/>
<text x="201.00" y="34.45" font-size="4.1" text-anchor="end" fill="#333">2500</text>
<line x1="201.20" y1="17.80" x2="202.70" y2="17.80" stroke="#111" stroke-width="0.5"/>
<text x="201.00" y="19.25" font-size="4.1" text-anchor="end" fill="#333">3000</text>
<text x="189.50" y="65.50" font-size="5.05" text-anchor="middle" fill="#333" transform="rotate(-90 189.5 65.5)">Numbers of DEGs</text>
<text x="258.50" y="154.60" font-size="5.15" text-anchor="middle" fill="#333">Compares</text>
<rect x="208.10" y="17.90" width="24.20" height="11.90" fill="#ffffff" stroke="#9a9a9a" stroke-width="0.4"/>
<rect x="209.60" y="20.10" width="9.70" height="2.60" fill="#f28a24"/>
<rect x="209.60" y="25.70" width="9.70" height="2.60" fill="#1c64aa"/>
<text x="220.80" y="22.80" font-size="4.0" text-anchor="start" fill="#333">up</text>
<text x="220.80" y="28.40" font-size="4.0" text-anchor="start" fill="#333">down</text>
<rect x="203.50" y="54.50" width="0.90" height="54.40" fill="#f2e4cc"/>
<rect x="204.80" y="54.20" width="0.90" height="54.70" fill="#5e7060"/>
<rect x="207.08" y="64.80" width="1.20" height="44.10" fill="#f6d2aa"/>
<rect x="208.43" y="71.00" width="1.10" height="37.90" fill="#9cb6ca"/>
<rect x="211.06" y="79.30" width="1.20" height="29.60" fill="#f6d2aa"/>
<rect x="212.41" y="88.90" width="1.10" height="20.00" fill="#9cb6ca"/>
<rect x="215.04" y="66.80" width="1.20" height="42.10" fill="#f6d2aa"/>
<rect x="216.39" y="71.80" width="1.10" height="37.10" fill="#9cb6ca"/>
<rect x="219.02" y="64.00" width="1.20" height="44.90" fill="#f6d2aa"/>
<rect x="220.37" y="66.80" width="1.10" height="42.10" fill="#9cb6ca"/>
<rect x="223.00" y="86.00" width="1.20" height="22.90" fill="#f6d2aa"/>
<rect x="224.35" y="95.70" width="1.10" height="13.20" fill="#9cb6ca"/>
<rect x="226.98" y="82.00" width="1.20" height="26.90" fill="#f6d2aa"/>
<rect x="228.33" y="86.90" width="1.10" height="22.00" fill="#9cb6ca"/>
<rect x="230.96" y="83.40" width="1.20" height="25.50" fill="#f6d2aa"/>
<rect x="232.31" y="87.60" width="1.10" height="21.30" fill="#9cb6ca"/>
<rect x="234.94" y="88.60" width="1.20" height="20.30" fill="#f6d2aa"/>
<rect x="236.29" y="82.80" width="1.10" height="26.10" fill="#9cb6ca"/>
<rect x="238.92" y="27.80" width="1.20" height="81.10" fill="#f6d2aa"/>
<rect x="240.27" y="28.40" width="1.10" height="80.50" fill="#9cb6ca"/>
<rect x="242.90" y="28.40" width="1.20" height="80.50" fill="#f6d2aa"/>
<rect x="244.25" y="30.80" width="1.10" height="78.10" fill="#9cb6ca"/>
<rect x="246.88" y="36.20" width="1.20" height="72.70" fill="#f6d2aa"/>
<rect x="248.23" y="36.80" width="1.10" height="72.10" fill="#9cb6ca"/>
<rect x="250.86" y="32.00" width="1.20" height="76.90" fill="#f6d2aa"/>
<rect x="252.21" y="32.60" width="1.10" height="76.30" fill="#9cb6ca"/>
<rect x="254.84" y="35.00" width="1.20" height="73.90" fill="#f6d2aa"/>
<rect x="256.19" y="37.40" width="1.10" height="71.50" fill="#9cb6ca"/>
<rect x="258.82" y="41.50" width="1.20" height="67.40" fill="#f6d2aa"/>
<rect x="260.17" y="47.50" width="1.10" height="61.40" fill="#9cb6ca"/>
<rect x="262.80" y="33.20" width="1.20" height="75.70" fill="#f6d2aa"/>
<rect x="264.15" y="34.40" width="1.10" height="74.50" fill="#9cb6ca"/>
<rect x="266.78" y="36.20" width="1.20" height="72.70" fill="#f6d2aa"/>
<rect x="268.13" y="36.80" width="1.10" height="72.10" fill="#9cb6ca"/>
<rect x="270.76" y="34.40" width="1.20" height="74.50" fill="#f6d2aa"/>
<rect x="272.11" y="35.00" width="1.10" height="73.90" fill="#9cb6ca"/>
<rect x="274.74" y="35.00" width="1.20" height="73.90" fill="#f6d2aa"/>
<rect x="276.09" y="35.60" width="1.10" height="73.30" fill="#9cb6ca"/>
<rect x="278.72" y="51.00" width="1.20" height="57.90" fill="#f6d2aa"/>
<rect x="280.07" y="64.00" width="1.10" height="44.90" fill="#9cb6ca"/>
<rect x="282.70" y="30.80" width="1.20" height="78.10" fill="#f6d2aa"/>
<rect x="284.05" y="31.40" width="1.10" height="77.50" fill="#9cb6ca"/>
<rect x="286.68" y="31.40" width="1.20" height="77.50" fill="#f6d2aa"/>
<rect x="288.03" y="32.00" width="1.10" height="76.90" fill="#9cb6ca"/>
<rect x="290.66" y="32.00" width="1.20" height="76.90" fill="#f6d2aa"/>
<rect x="292.01" y="33.20" width="1.10" height="75.70" fill="#9cb6ca"/>
<rect x="294.64" y="32.60" width="1.20" height="76.30" fill="#f6d2aa"/>
<rect x="295.99" y="33.80" width="1.10" height="75.10" fill="#9cb6ca"/>
<rect x="298.62" y="33.20" width="1.20" height="75.70" fill="#f6d2aa"/>
<rect x="299.97" y="35.00" width="1.10" height="73.90" fill="#9cb6ca"/>
<rect x="302.60" y="32.00" width="1.20" height="76.90" fill="#f6d2aa"/>
<rect x="303.95" y="33.80" width="1.10" height="75.10" fill="#9cb6ca"/>
<rect x="306.58" y="32.60" width="1.20" height="76.30" fill="#f6d2aa"/>
<rect x="307.93" y="33.80" width="1.10" height="75.10" fill="#9cb6ca"/>
<rect x="310.56" y="32.50" width="1.20" height="76.40" fill="#f6d2aa"/>
<rect x="311.91" y="33.50" width="1.10" height="75.40" fill="#9cb6ca"/>
<rect x="314.54" y="33.00" width="1.20" height="75.90" fill="#f6d2aa"/>
<rect x="315.89" y="34.00" width="1.10" height="74.90" fill="#9cb6ca"/>
<text x="205.20" y="111.6" font-size="3.9" text-anchor="end" fill="#1e1e1e" stroke="#1e1e1e" stroke-width="0.1" transform="rotate(-90 205.20 111.6)" textLength="21.0" lengthAdjust="spacingAndGlyphs">Glutamine_vs_Ctrl</text>
<text x="209.18" y="111.6" font-size="3.9" text-anchor="end" fill="#1e1e1e" stroke="#1e1e1e" stroke-width="0.1" transform="rotate(-90 209.18 111.6)" textLength="21.0" lengthAdjust="spacingAndGlyphs">Glutamine_vs_Ctrl</text>
<text x="213.16" y="111.6" font-size="3.9" text-anchor="end" fill="#1e1e1e" stroke="#1e1e1e" stroke-width="0.1" transform="rotate(-90 213.16 111.6)" textLength="21.0" lengthAdjust="spacingAndGlyphs">Glutamine_vs_Ctrl</text>
<text x="217.14" y="111.6" font-size="3.9" text-anchor="end" fill="#1e1e1e" stroke="#1e1e1e" stroke-width="0.1" transform="rotate(-90 217.14 111.6)" textLength="21.0" lengthAdjust="spacingAndGlyphs">Glutamine_vs_Ctrl</text>
<text x="221.12" y="111.6" font-size="3.9" text-anchor="end" fill="#1e1e1e" stroke="#1e1e1e" stroke-width="0.1" transform="rotate(-90 221.12 111.6)" textLength="37.0" lengthAdjust="spacingAndGlyphs">Glutamine_vs_Ctrl</text>
<text x="225.10" y="111.6" font-size="3.9" text-anchor="end" fill="#1e1e1e" stroke="#1e1e1e" stroke-width="0.1" transform="rotate(-90 225.10 111.6)" textLength="21.0" lengthAdjust="spacingAndGlyphs">Glutamine_vs_Ctrl</text>
<text x="229.08" y="111.6" font-size="3.9" text-anchor="end" fill="#1e1e1e" stroke="#1e1e1e" stroke-width="0.1" transform="rotate(-90 229.08 111.6)" textLength="21.0" lengthAdjust="spacingAndGlyphs">Glutamine_vs_Ctrl</text>
<text x="233.06" y="111.6" font-size="3.9" text-anchor="end" fill="#1e1e1e" stroke="#1e1e1e" stroke-width="0.1" transform="rotate(-90 233.06 111.6)" textLength="21.0" lengthAdjust="spacingAndGlyphs">Glutamine_vs_Ctrl</text>
<text x="237.04" y="111.6" font-size="3.9" text-anchor="end" fill="#1e1e1e" stroke="#1e1e1e" stroke-width="0.1" transform="rotate(-90 237.04 111.6)" textLength="21.0" lengthAdjust="spacingAndGlyphs">Glutamine_vs_Ctrl</text>
<text x="241.02" y="111.6" font-size="3.9" text-anchor="end" fill="#1e1e1e" stroke="#1e1e1e" stroke-width="0.1" transform="rotate(-90 241.02 111.6)" textLength="21.0" lengthAdjust="spacingAndGlyphs">Glutamine_vs_Ctrl</text>
<text x="245.00" y="111.6" font-size="3.9" text-anchor="end" fill="#1e1e1e" stroke="#1e1e1e" stroke-width="0.1" transform="rotate(-90 245.00 111.6)" textLength="21.0" lengthAdjust="spacingAndGlyphs">Glutamine_vs_Ctrl</text>
<text x="248.98" y="111.6" font-size="3.9" text-anchor="end" fill="#1e1e1e" stroke="#1e1e1e" stroke-width="0.1" transform="rotate(-90 248.98 111.6)" textLength="21.0" lengthAdjust="spacingAndGlyphs">Glutamine_vs_Ctrl</text>
<text x="252.96" y="111.6" font-size="3.9" text-anchor="end" fill="#1e1e1e" stroke="#1e1e1e" stroke-width="0.1" transform="rotate(-90 252.96 111.6)" textLength="21.0" lengthAdjust="spacingAndGlyphs">Glutamine_vs_Ctrl</text>
<text x="256.94" y="111.6" font-size="3.9" text-anchor="end" fill="#1e1e1e" stroke="#1e1e1e" stroke-width="0.1" transform="rotate(-90 256.94 111.6)" textLength="21.0" lengthAdjust="spacingAndGlyphs">Glutamine_vs_Ctrl</text>
<text x="260.92" y="111.6" font-size="3.9" text-anchor="end" fill="#1e1e1e" stroke="#1e1e1e" stroke-width="0.1" transform="rotate(-90 260.92 111.6)" textLength="21.0" lengthAdjust="spacingAndGlyphs">Glutamine_vs_Ctrl</text>
<text x="264.90" y="111.6" font-size="3.9" text-anchor="end" fill="#1e1e1e" stroke="#1e1e1e" stroke-width="0.1" transform="rotate(-90 264.90 111.6)" textLength="21.0" lengthAdjust="spacingAndGlyphs">Glutamine_vs_Ctrl</text>
<text x="268.88" y="111.6" font-size="3.9" text-anchor="end" fill="#1e1e1e" stroke="#1e1e1e" stroke-width="0.1" transform="rotate(-90 268.88 111.6)" textLength="30.5" lengthAdjust="spacingAndGlyphs">Glutamine_vs_Ctrl</text>
<text x="272.86" y="111.6" font-size="3.9" text-anchor="end" fill="#1e1e1e" stroke="#1e1e1e" stroke-width="0.1" transform="rotate(-90 272.86 111.6)" textLength="30.5" lengthAdjust="spacingAndGlyphs">Glutamine_vs_Ctrl</text>
<text x="276.84" y="111.6" font-size="3.9" text-anchor="end" fill="#1e1e1e" stroke="#1e1e1e" stroke-width="0.1" transform="rotate(-90 276.84 111.6)" textLength="30.5" lengthAdjust="spacingAndGlyphs">Glutamine_vs_Ctrl</text>
<text x="280.82" y="111.6" font-size="3.9" text-anchor="end" fill="#1e1e1e" stroke="#1e1e1e" stroke-width="0.1" transform="rotate(-90 280.82 111.6)" textLength="30.5" lengthAdjust="spacingAndGlyphs">Glutamine_vs_Ctrl</text>
<text x="284.80" y="111.6" font-size="3.9" text-anchor="end" fill="#1e1e1e" stroke="#1e1e1e" stroke-width="0.1" transform="rotate(-90 284.80 111.6)" textLength="21.5" lengthAdjust="spacingAndGlyphs">Glutamine_vs_Ctrl</text>
<text x="288.78" y="111.6" font-size="3.9" text-anchor="end" fill="#1e1e1e" stroke="#1e1e1e" stroke-width="0.1" transform="rotate(-90 288.78 111.6)" textLength="25.0" lengthAdjust="spacingAndGlyphs">Glutamine_vs_Ctrl</text>
<text x="292.76" y="111.6" font-size="3.9" text-anchor="end" fill="#1e1e1e" stroke="#1e1e1e" stroke-width="0.1" transform="rotate(-90 292.76 111.6)" textLength="21.0" lengthAdjust="spacingAndGlyphs">Glutamine_vs_Ctrl</text>
<text x="296.74" y="111.6" font-size="3.9" text-anchor="end" fill="#1e1e1e" stroke="#1e1e1e" stroke-width="0.1" transform="rotate(-90 296.74 111.6)" textLength="21.0" lengthAdjust="spacingAndGlyphs">Glutamine_vs_Ctrl</text>
<text x="300.72" y="111.6" font-size="3.9" text-anchor="end" fill="#1e1e1e" stroke="#1e1e1e" stroke-width="0.1" transform="rotate(-90 300.72 111.6)" textLength="21.0" lengthAdjust="spacingAndGlyphs">Glutamine_vs_Ctrl</text>
<text x="304.70" y="111.6" font-size="3.9" text-anchor="end" fill="#1e1e1e" stroke="#1e1e1e" stroke-width="0.1" transform="rotate(-90 304.70 111.6)" textLength="21.0" lengthAdjust="spacingAndGlyphs">Glutamine_vs_Ctrl</text>
<text x="308.68" y="111.6" font-size="3.9" text-anchor="end" fill="#1e1e1e" stroke="#1e1e1e" stroke-width="0.1" transform="rotate(-90 308.68 111.6)" textLength="21.0" lengthAdjust="spacingAndGlyphs">Glutamine_vs_Ctrl</text>
<text x="312.66" y="111.6" font-size="3.9" text-anchor="end" fill="#1e1e1e" stroke="#1e1e1e" stroke-width="0.1" transform="rotate(-90 312.66 111.6)" textLength="21.0" lengthAdjust="spacingAndGlyphs">Glutamine_vs_Ctrl</text>
<text x="316.64" y="111.6" font-size="3.9" text-anchor="end" fill="#1e1e1e" stroke="#1e1e1e" stroke-width="0.1" transform="rotate(-90 316.64 111.6)" textLength="21.0" lengthAdjust="spacingAndGlyphs">Glutamine_vs_Ctrl</text>
<text x="3.00" y="169.00" font-size="6.2" text-anchor="start" fill="#111" font-weight="bold">C</text>
<text x="5.40" y="177.80" font-size="5.15" text-anchor="start" fill="#222">Cluster 1</text>
<rect x="103.00" y="179.40" width="48.90" height="99.90" fill="#ffffff" stroke="#d4d4d4" stroke-width="0.5"/>
<line x1="108.60" y1="179.40" x2="108.60" y2="279.30" stroke="#f5f5f5" stroke-width="0.4"/>
<line x1="124.00" y1="179.40" x2="124.00" y2="279.30" stroke="#f5f5f5" stroke-width="0.4"/>
<line x1="138.90" y1="179.40" x2="138.90" y2="279.30" stroke="#f5f5f5" stroke-width="0.4"/>
<line x1="103.00" y1="182.70" x2="151.90" y2="182.70" stroke="#f4f4f4" stroke-width="0.35"/>
<line x1="103.00" y1="187.69" x2="151.90" y2="187.69" stroke="#f4f4f4" stroke-width="0.35"/>
<line x1="103.00" y1="192.67" x2="151.90" y2="192.67" stroke="#f4f4f4" stroke-width="0.35"/>
<line x1="103.00" y1="197.66" x2="151.90" y2="197.66" stroke="#f4f4f4" stroke-width="0.35"/>
<line x1="103.00" y1="202.64" x2="151.90" y2="202.64" stroke="#f4f4f4" stroke-width="0.35"/>
<line x1="103.00" y1="207.62" x2="151.90" y2="207.62" stroke="#f4f4f4" stroke-width="0.35"/>
<line x1="103.00" y1="212.61" x2="151.90" y2="212.61" stroke="#f4f4f4" stroke-width="0.35"/>
<line x1="103.00" y1="217.59" x2="151.90" y2="217.59" stroke="#f4f4f4" stroke-width="0.35"/>
<line x1="103.00" y1="222.58" x2="151.90" y2="222.58" stroke="#f4f4f4" stroke-width="0.35"/>
<line x1="103.00" y1="227.56" x2="151.90" y2="227.56" stroke="#f4f4f4" stroke-width="0.35"/>
<line x1="103.00" y1="232.55" x2="151.90" y2="232.55" stroke="#f4f4f4" stroke-width="0.35"/>
<line x1="103.00" y1="237.53" x2="151.90" y2="237.53" stroke="#f4f4f4" stroke-width="0.35"/>
<line x1="103.00" y1="242.52" x2="151.90" y2="242.52" stroke="#f4f4f4" stroke-width="0.35"/>
<line x1="103.00" y1="247.50" x2="151.90" y2="247.50" stroke="#f4f4f4" stroke-width="0.35"/>
<line x1="103.00" y1="252.49" x2="151.90" y2="252.49" stroke="#f4f4f4" stroke-width="0.35"/>
<line x1="103.00" y1="257.48" x2="151.90" y2="257.48" stroke="#f4f4f4" stroke-width="0.35"/>
<line x1="103.00" y1="262.46" x2="151.90" y2="262.46" stroke="#f4f4f4" stroke-width="0.35"/>
<line x1="103.00" y1="267.44" x2="151.90" y2="267.44" stroke="#f4f4f4" stroke-width="0.35"/>
<line x1="103.00" y1="272.43" x2="151.90" y2="272.43" stroke="#f4f4f4" stroke-width="0.35"/>
<line x1="103.00" y1="277.41" x2="151.90" y2="277.41" stroke="#f4f4f4" stroke-width="0.35"/>
<text x="102.10" y="184.25" font-size="4.42" text-anchor="end" fill="#333">Glyoxylate and dicarboxylate metabolism</text>
<text x="102.10" y="189.24" font-size="4.42" text-anchor="end" fill="#333">Carbon metabolism</text>
<text x="102.10" y="194.22" font-size="4.42" text-anchor="end" fill="#333">Autophagy - other</text>
<text x="102.10" y="199.21" font-size="4.42" text-anchor="end" fill="#333">Galactose metabolism</text>
<text x="102.10" y="204.19" font-size="4.42" text-anchor="end" fill="#333">Longevity regulating pathway - multiple species</text>
<text x="102.10" y="209.18" font-size="4.42" text-anchor="end" fill="#333">Ubiquitin mediated proteolysis</text>
<text x="102.10" y="214.16" font-size="4.42" text-anchor="end" fill="#333">Mitophagy - yeast</text>
<text x="102.10" y="219.15" font-size="4.42" text-anchor="end" fill="#333">Porphyrin and chlorophyll metabolism</text>
<text x="102.10" y="224.13" font-size="4.42" text-anchor="end" fill="#333">Glycerophospholipid metabolism</text>
<text x="102.10" y="229.12" font-size="4.42" text-anchor="end" fill="#333">Starch and sucrose metabolism</text>
<text x="102.10" y="234.10" font-size="4.42" text-anchor="end" fill="#333">Pyruvate metabolism</text>
<text x="102.10" y="239.09" font-size="4.42" text-anchor="end" fill="#333">Glycerolipid metabolism</text>
<text x="102.10" y="244.07" font-size="4.42" text-anchor="end" fill="#333">SNARE interactions in vesicular transport</text>
<text x="102.10" y="249.06" font-size="4.42" text-anchor="end" fill="#333">Peroxisome</text>
<text x="102.10" y="254.04" font-size="4.42" text-anchor="end" fill="#333">Autophagy - yeast</text>
<text x="102.10" y="259.03" font-size="4.42" text-anchor="end" fill="#333">Endocytosis</text>
<text x="102.10" y="264.01" font-size="4.42" text-anchor="end" fill="#333">Protein processing in endoplasmic reticulum</text>
<text x="102.10" y="269.00" font-size="4.42" text-anchor="end" fill="#333">Citrate cycle (TCA cycle)</text>
<text x="102.10" y="273.98" font-size="4.42" text-anchor="end" fill="#333">Oxidative phosphorylation</text>
<text x="102.10" y="278.96" font-size="4.42" text-anchor="end" fill="#333">Proteasome</text>
<text x="108.60" y="283.70" font-size="3.7" text-anchor="middle" fill="#333">0.02</text>
<text x="124.00" y="283.70" font-size="3.7" text-anchor="middle" fill="#333">0.04</text>
<text x="138.90" y="283.70" font-size="3.7" text-anchor="middle" fill="#333">0.06</text>
<text x="129.30" y="287.60" font-size="3.8" text-anchor="middle" fill="#222">GeneRatio</text>
<text x="12.60" y="229.70" font-size="4.38" text-anchor="middle" fill="#333" transform="rotate(-90 12.6 229.7)">Description</text>
<circle cx="108.90" cy="182.70" r="0.75" fill="#9a2c2c"/>
<circle cx="150.00" cy="187.69" r="1.45" fill="#b01a1a"/>
<circle cx="107.30" cy="192.67" r="0.70" fill="#8a3434"/>
<circle cx="107.30" cy="197.66" r="0.70" fill="#8a3434"/>
<circle cx="114.20" cy="202.64" r="0.85" fill="#983030"/>
<circle cx="120.00" cy="207.62" r="0.95" fill="#982626"/>
<circle cx="116.90" cy="212.61" r="0.95" fill="#a82222"/>
<circle cx="105.20" cy="217.59" r="0.45" fill="#909090"/>
<circle cx="115.10" cy="222.58" r="0.90" fill="#a82424"/>
<circle cx="117.70" cy="227.56" r="0.95" fill="#a82222"/>
<circle cx="119.90" cy="232.55" r="0.95" fill="#a82222"/>
<circle cx="110.90" cy="237.53" r="0.85" fill="#a82626"/>
<circle cx="108.20" cy="242.52" r="0.80" fill="#a42a2a"/>
<circle cx="118.60" cy="247.50" r="0.95" fill="#a82222"/>
<circle cx="143.70" cy="252.49" r="1.35" fill="#b01a1a"/>
<circle cx="140.60" cy="257.48" r="1.35" fill="#b01a1a"/>
<circle cx="147.30" cy="262.46" r="1.45" fill="#b01a1a"/>
<circle cx="118.60" cy="267.44" r="0.95" fill="#a82222"/>
<circle cx="144.70" cy="272.43" r="1.40" fill="#b01a1a"/>
<circle cx="125.50" cy="277.41" r="1.10" fill="#a81e1e"/>
<text x="154.00" y="208.30" font-size="3.9" text-anchor="start" fill="#333">Count</text>
<circle cx="156.20" cy="211.00" r="0.55" fill="#111"/>
<text x="159.20" y="212.20" font-size="3.4" text-anchor="start" fill="#333">20</text>
<circle cx="156.20" cy="214.80" r="0.75" fill="#111"/>
<text x="159.20" y="216.00" font-size="3.4" text-anchor="start" fill="#333">30</text>
<circle cx="156.20" cy="218.50" r="0.90" fill="#111"/>
<text x="159.20" y="219.70" font-size="3.4" text-anchor="start" fill="#333">40</text>
<circle cx="156.20" cy="222.20" r="1.05" fill="#111"/>
<text x="159.20" y="223.40" font-size="3.4" text-anchor="start" fill="#333">50</text>
<circle cx="156.20" cy="226.20" r="1.25" fill="#111"/>
<text x="159.20" y="227.40" font-size="3.4" text-anchor="start" fill="#333">60</text>
<text x="153.80" y="233.60" font-size="3.9" text-anchor="start" fill="#333">padj</text>
<defs><linearGradient id="pg1" x1="0" y1="0" x2="0" y2="1"><stop offset="0" stop-color="#5a3cc8"/><stop offset="0.2" stop-color="#4a70e0"/><stop offset="0.4" stop-color="#30d0d0"/><stop offset="0.6" stop-color="#70d840"/><stop offset="0.75" stop-color="#e8d020"/><stop offset="0.88" stop-color="#f08010"/><stop offset="1" stop-color="#c83c10"/></linearGradient></defs>
<rect x="154.00" y="235.80" width="3.50" height="19.40" fill="url(#pg1)"/>
<text x="158.80" y="238.40" font-size="3.4" text-anchor="start" fill="#333">1.00</text>
<text x="158.80" y="242.80" font-size="3.4" text-anchor="start" fill="#333">0.75</text>
<text x="158.80" y="247.20" font-size="3.4" text-anchor="start" fill="#333">0.50</text>
<text x="158.80" y="251.60" font-size="3.4" text-anchor="start" fill="#333">0.25</text>
<text x="158.80" y="256.00" font-size="3.4" text-anchor="start" fill="#333">0.00</text>
<text x="172.20" y="178.10" font-size="5.15" text-anchor="start" fill="#222">Cluster 2</text>
<rect x="266.80" y="180.20" width="51.20" height="100.00" fill="#ffffff" stroke="#d4d4d4" stroke-width="0.5"/>
<line x1="277.70" y1="180.20" x2="277.70" y2="280.20" stroke="#f5f5f5" stroke-width="0.4"/>
<line x1="291.30" y1="180.20" x2="291.30" y2="280.20" stroke="#f5f5f5" stroke-width="0.4"/>
<line x1="305.00" y1="180.20" x2="305.00" y2="280.20" stroke="#f5f5f5" stroke-width="0.4"/>
<line x1="266.80" y1="182.90" x2="318.00" y2="182.90" stroke="#f4f4f4" stroke-width="0.35"/>
<line x1="266.80" y1="187.89" x2="318.00" y2="187.89" stroke="#f4f4f4" stroke-width="0.35"/>
<line x1="266.80" y1="192.87" x2="318.00" y2="192.87" stroke="#f4f4f4" stroke-width="0.35"/>
<line x1="266.80" y1="197.86" x2="318.00" y2="197.86" stroke="#f4f4f4" stroke-width="0.35"/>
<line x1="266.80" y1="202.84" x2="318.00" y2="202.84" stroke="#f4f4f4" stroke-width="0.35"/>
<line x1="266.80" y1="207.83" x2="318.00" y2="207.83" stroke="#f4f4f4" stroke-width="0.35"/>
<line x1="266.80" y1="212.81" x2="318.00" y2="212.81" stroke="#f4f4f4" stroke-width="0.35"/>
<line x1="266.80" y1="217.80" x2="318.00" y2="217.80" stroke="#f4f4f4" stroke-width="0.35"/>
<line x1="266.80" y1="222.78" x2="318.00" y2="222.78" stroke="#f4f4f4" stroke-width="0.35"/>
<line x1="266.80" y1="227.77" x2="318.00" y2="227.77" stroke="#f4f4f4" stroke-width="0.35"/>
<line x1="266.80" y1="232.75" x2="318.00" y2="232.75" stroke="#f4f4f4" stroke-width="0.35"/>
<line x1="266.80" y1="237.74" x2="318.00" y2="237.74" stroke="#f4f4f4" stroke-width="0.35"/>
<line x1="266.80" y1="242.72" x2="318.00" y2="242.72" stroke="#f4f4f4" stroke-width="0.35"/>
<line x1="266.80" y1="247.71" x2="318.00" y2="247.71" stroke="#f4f4f4" stroke-width="0.35"/>
<line x1="266.80" y1="252.69" x2="318.00" y2="252.69" stroke="#f4f4f4" stroke-width="0.35"/>
<line x1="266.80" y1="257.68" x2="318.00" y2="257.68" stroke="#f4f4f4" stroke-width="0.35"/>
<line x1="266.80" y1="262.66" x2="318.00" y2="262.66" stroke="#f4f4f4" stroke-width="0.35"/>
<line x1="266.80" y1="267.64" x2="318.00" y2="267.64" stroke="#f4f4f4" stroke-width="0.35"/>
<line x1="266.80" y1="272.63" x2="318.00" y2="272.63" stroke="#f4f4f4" stroke-width="0.35"/>
<line x1="266.80" y1="277.62" x2="318.00" y2="277.62" stroke="#f4f4f4" stroke-width="0.35"/>
<text x="264.30" y="184.45" font-size="4.42" text-anchor="end" fill="#333">RNA degradation</text>
<text x="264.30" y="189.44" font-size="4.42" text-anchor="end" fill="#333">Glycine, serine and threonine metabolism</text>
<text x="264.30" y="194.42" font-size="4.42" text-anchor="end" fill="#333">Sphingolipid metabolism</text>
<text x="264.30" y="199.41" font-size="4.42" text-anchor="end" fill="#333">N-Glycan biosynthesis</text>
<text x="264.30" y="204.39" font-size="4.42" text-anchor="end" fill="#333">Tyrosine metabolism</text>
<text x="264.30" y="209.38" font-size="4.42" text-anchor="end" fill="#333">Histidine metabolism</text>
<text x="264.30" y="214.36" font-size="4.42" text-anchor="end" fill="#333">Meiosis - yeast</text>
<text x="264.30" y="219.35" font-size="4.42" text-anchor="end" fill="#333">RNA transport</text>
<text x="264.30" y="224.33" font-size="4.42" text-anchor="end" fill="#333">Biosynthesis of secondary metabolites</text>
<text x="264.30" y="229.32" font-size="4.42" text-anchor="end" fill="#333">Pantothenate and CoA biosynthesis</text>
<text x="264.30" y="234.30" font-size="4.42" text-anchor="end" fill="#333">Cysteine and methionine metabolism</text>
<text x="264.30" y="239.29" font-size="4.42" text-anchor="end" fill="#333">DNA replication</text>
<text x="264.30" y="244.27" font-size="4.42" text-anchor="end" fill="#333">Biosynthesis of antibiotics</text>
<text x="264.30" y="249.26" font-size="4.42" text-anchor="end" fill="#333">Alanine, aspartate and glutamate metabolism</text>
<text x="264.30" y="254.24" font-size="4.42" text-anchor="end" fill="#333">Arginine biosynthesis</text>
<text x="264.30" y="259.23" font-size="4.42" text-anchor="end" fill="#333">Valine, leucine and isoleucine biosynthesis</text>
<text x="264.30" y="264.21" font-size="4.42" text-anchor="end" fill="#333">Phenylalanine, tyrosine and tryptophan ...</text>
<text x="264.30" y="269.19" font-size="4.42" text-anchor="end" fill="#333">2-Oxocarboxylic acid metabolism</text>
<text x="264.30" y="274.18" font-size="4.42" text-anchor="end" fill="#333">Biosynthesis of amino acids</text>
<text x="264.30" y="279.17" font-size="4.42" text-anchor="end" fill="#333">Cell cycle - yeast</text>
<text x="277.70" y="284.60" font-size="3.7" text-anchor="middle" fill="#333">0.05</text>
<text x="291.30" y="284.60" font-size="3.7" text-anchor="middle" fill="#333">0.10</text>
<text x="305.00" y="284.60" font-size="3.7" text-anchor="middle" fill="#333">0.15</text>
<text x="292.90" y="288.30" font-size="3.8" text-anchor="middle" fill="#222">GeneRatio</text>
<text x="174.00" y="227.80" font-size="4.38" text-anchor="middle" fill="#333" transform="rotate(-90 174.0 227.8)">Description</text>
<circle cx="276.50" cy="182.90" r="0.80" fill="#8c9448"/>
<circle cx="271.70" cy="187.89" r="0.70" fill="#8a8a8a"/>
<circle cx="268.80" cy="192.87" r="0.45" fill="#d0a898"/>
<circle cx="271.80" cy="197.86" r="0.70" fill="#807060"/>
<circle cx="269.00" cy="202.84" r="0.45" fill="#d0a8a8"/>
<circle cx="269.10" cy="207.83" r="0.50" fill="#a09898"/>
<circle cx="289.20" cy="212.81" r="1.10" fill="#a81e1e"/>
<circle cx="282.00" cy="217.80" r="1.00" fill="#803030"/>
<circle cx="315.30" cy="222.78" r="1.40" fill="#b02434"/>
<circle cx="269.40" cy="227.77" r="0.55" fill="#6a6a6a"/>
<circle cx="275.10" cy="232.75" r="0.85" fill="#982a2a"/>
<circle cx="273.30" cy="237.74" r="0.80" fill="#a82222"/>
<circle cx="307.10" cy="242.72" r="1.40" fill="#b41616"/>
<circle cx="273.30" cy="247.71" r="0.75" fill="#a82626"/>
<circle cx="272.00" cy="252.69" r="0.70" fill="#a82626"/>
<circle cx="270.90" cy="257.68" r="0.70" fill="#a42a2a"/>
<circle cx="272.40" cy="262.66" r="0.70" fill="#a42a2a"/>
<circle cx="277.20" cy="267.64" r="0.85" fill="#a82222"/>
<circle cx="298.60" cy="272.63" r="1.35" fill="#b41818"/>
<circle cx="301.90" cy="277.62" r="1.35" fill="#b41818"/>
<text x="319.80" y="216.80" font-size="3.9" text-anchor="start" fill="#333">Count</text>
<circle cx="322.00" cy="219.20" r="0.70" fill="#111"/>
<text x="325.00" y="220.40" font-size="3.4" text-anchor="start" fill="#333">25</text>
<circle cx="322.00" cy="222.80" r="1.00" fill="#111"/>
<text x="325.00" y="224.00" font-size="3.4" text-anchor="start" fill="#333">50</text>
<circle cx="322.00" cy="227.00" r="1.30" fill="#111"/>
<text x="325.00" y="228.20" font-size="3.4" text-anchor="start" fill="#333">75</text>
<text x="319.60" y="233.40" font-size="3.9" text-anchor="start" fill="#333">padj</text>
<defs><linearGradient id="pg2" x1="0" y1="0" x2="0" y2="1"><stop offset="0" stop-color="#5a3cc8"/><stop offset="0.2" stop-color="#4a70e0"/><stop offset="0.4" stop-color="#30d0d0"/><stop offset="0.6" stop-color="#70d840"/><stop offset="0.75" stop-color="#e8d020"/><stop offset="0.88" stop-color="#f08010"/><stop offset="1" stop-color="#c83c10"/></linearGradient></defs>
<rect x="319.80" y="235.60" width="3.50" height="19.40" fill="url(#pg2)"/>
<text x="324.60" y="238.20" font-size="3.4" text-anchor="start" fill="#333">1.00</text>
<text x="324.60" y="242.60" font-size="3.4" text-anchor="start" fill="#333">0.75</text>
<text x="324.60" y="247.00" font-size="3.4" text-anchor="start" fill="#333">0.50</text>
<text x="324.60" y="251.40" font-size="3.4" text-anchor="start" fill="#333">0.25</text>
<text x="324.60" y="255.80" font-size="3.4" text-anchor="start" fill="#333">0.00</text>
<text x="5.00" y="284.50" font-size="5.15" text-anchor="start" fill="#222">Cluster 3</text>
<rect x="113.40" y="290.50" width="39.10" height="99.90" fill="#ffffff" stroke="#d4d4d4" stroke-width="0.5"/>
<line x1="116.20" y1="290.50" x2="116.20" y2="390.40" stroke="#f5f5f5" stroke-width="0.4"/>
<line x1="123.70" y1="290.50" x2="123.70" y2="390.40" stroke="#f5f5f5" stroke-width="0.4"/>
<line x1="131.20" y1="290.50" x2="131.20" y2="390.40" stroke="#f5f5f5" stroke-width="0.4"/>
<line x1="138.70" y1="290.50" x2="138.70" y2="390.40" stroke="#f5f5f5" stroke-width="0.4"/>
<line x1="146.20" y1="290.50" x2="146.20" y2="390.40" stroke="#f5f5f5" stroke-width="0.4"/>
<line x1="113.40" y1="294.20" x2="152.50" y2="294.20" stroke="#f4f4f4" stroke-width="0.35"/>
<line x1="113.40" y1="299.16" x2="152.50" y2="299.16" stroke="#f4f4f4" stroke-width="0.35"/>
<line x1="113.40" y1="304.13" x2="152.50" y2="304.13" stroke="#f4f4f4" stroke-width="0.35"/>
<line x1="113.40" y1="309.09" x2="152.50" y2="309.09" stroke="#f4f4f4" stroke-width="0.35"/>
<line x1="113.40" y1="314.06" x2="152.50" y2="314.06" stroke="#f4f4f4" stroke-width="0.35"/>
<line x1="113.40" y1="319.02" x2="152.50" y2="319.02" stroke="#f4f4f4" stroke-width="0.35"/>
<line x1="113.40" y1="323.99" x2="152.50" y2="323.99" stroke="#f4f4f4" stroke-width="0.35"/>
<line x1="113.40" y1="328.95" x2="152.50" y2="328.95" stroke="#f4f4f4" stroke-width="0.35"/>
<line x1="113.40" y1="333.92" x2="152.50" y2="333.92" stroke="#f4f4f4" stroke-width="0.35"/>
<line x1="113.40" y1="338.88" x2="152.50" y2="338.88" stroke="#f4f4f4" stroke-width="0.35"/>
<line x1="113.40" y1="343.85" x2="152.50" y2="343.85" stroke="#f4f4f4" stroke-width="0.35"/>
<line x1="113.40" y1="348.81" x2="152.50" y2="348.81" stroke="#f4f4f4" stroke-width="0.35"/>
<line x1="113.40" y1="353.78" x2="152.50" y2="353.78" stroke="#f4f4f4" stroke-width="0.35"/>
<line x1="113.40" y1="358.75" x2="152.50" y2="358.75" stroke="#f4f4f4" stroke-width="0.35"/>
<line x1="113.40" y1="363.71" x2="152.50" y2="363.71" stroke="#f4f4f4" stroke-width="0.35"/>
<line x1="113.40" y1="368.67" x2="152.50" y2="368.67" stroke="#f4f4f4" stroke-width="0.35"/>
<line x1="113.40" y1="373.64" x2="152.50" y2="373.64" stroke="#f4f4f4" stroke-width="0.35"/>
<line x1="113.40" y1="378.61" x2="152.50" y2="378.61" stroke="#f4f4f4" stroke-width="0.35"/>
<line x1="113.40" y1="383.57" x2="152.50" y2="383.57" stroke="#f4f4f4" stroke-width="0.35"/>
<line x1="113.40" y1="388.53" x2="152.50" y2="388.53" stroke="#f4f4f4" stroke-width="0.35"/>
<text x="110.50" y="295.75" font-size="4.42" text-anchor="end" fill="#333">Selenocompound metabolism</text>
<text x="110.50" y="300.71" font-size="4.42" text-anchor="end" fill="#333">Lysine biosynthesis</text>
<text x="110.50" y="305.68" font-size="4.42" text-anchor="end" fill="#333">Pentose phosphate pathway</text>
<text x="110.50" y="310.64" font-size="4.42" text-anchor="end" fill="#333">Steroid biosynthesis</text>
<text x="110.50" y="315.61" font-size="4.42" text-anchor="end" fill="#333">Biosynthesis of amino acids</text>
<text x="110.50" y="320.57" font-size="4.42" text-anchor="end" fill="#333">Mismatch repair</text>
<text x="110.50" y="325.54" font-size="4.42" text-anchor="end" fill="#333">Glycine, serine and threonine metabolism</text>
<text x="110.50" y="330.50" font-size="4.42" text-anchor="end" fill="#333">Glycosylphosphatidylinositol-anchor biosynthesis</text>
<text x="110.50" y="335.47" font-size="4.42" text-anchor="end" fill="#333">One carbon pool by folate</text>
<text x="110.50" y="340.44" font-size="4.42" text-anchor="end" fill="#333">DNA replication</text>
<text x="110.50" y="345.40" font-size="4.42" text-anchor="end" fill="#333">Base excision repair</text>
<text x="110.50" y="350.37" font-size="4.42" text-anchor="end" fill="#333">Methane metabolism</text>
<text x="110.50" y="355.33" font-size="4.42" text-anchor="end" fill="#333">Folate biosynthesis</text>
<text x="110.50" y="360.30" font-size="4.42" text-anchor="end" fill="#333">Sulfur metabolism</text>
<text x="110.50" y="365.26" font-size="4.42" text-anchor="end" fill="#333">RNA transport</text>
<text x="110.50" y="370.22" font-size="4.42" text-anchor="end" fill="#333">Pyrimidine metabolism</text>
<text x="110.50" y="375.19" font-size="4.42" text-anchor="end" fill="#333">RNA polymerase</text>
<text x="110.50" y="380.16" font-size="4.42" text-anchor="end" fill="#333">Purine metabolism</text>
<text x="110.50" y="385.12" font-size="4.42" text-anchor="end" fill="#333">Ribosome biogenesis in eukaryotes</text>
<text x="110.50" y="390.08" font-size="4.42" text-anchor="end" fill="#333">Ribosome</text>
<text x="116.20" y="394.80" font-size="3.7" text-anchor="middle" fill="#333">0.05</text>
<text x="123.70" y="394.80" font-size="3.7" text-anchor="middle" fill="#333">0.10</text>
<text x="131.20" y="394.80" font-size="3.7" text-anchor="middle" fill="#333">0.15</text>
<text x="138.70" y="394.80" font-size="3.7" text-anchor="middle" fill="#333">0.20</text>
<text x="146.20" y="394.80" font-size="3.7" text-anchor="middle" fill="#333">0.25</text>
<text x="134.60" y="398.10" font-size="3.8" text-anchor="middle" fill="#222">GeneRatio</text>
<text x="10.70" y="323.70" font-size="4.38" text-anchor="middle" fill="#333" transform="rotate(-90 10.7 323.7)">Description</text>
<circle cx="114.60" cy="294.20" r="0.45" fill="#a0a0aa"/>
<circle cx="115.20" cy="299.16" r="0.50" fill="#8a8a98"/>
<circle cx="116.50" cy="304.13" r="0.70" fill="#505062"/>
<circle cx="115.60" cy="309.09" r="0.65" fill="#5c5474"/>
<circle cx="125.10" cy="314.06" r="1.05" fill="#2e2c5c"/>
<circle cx="115.80" cy="319.02" r="0.65" fill="#5c5474"/>
<circle cx="117.00" cy="323.99" r="0.70" fill="#505062"/>
<circle cx="116.40" cy="328.95" r="0.65" fill="#5c5474"/>
<circle cx="116.40" cy="333.92" r="0.65" fill="#5c5474"/>
<circle cx="116.40" cy="338.88" r="0.65" fill="#5c5474"/>
<circle cx="116.10" cy="343.85" r="0.65" fill="#5c5474"/>
<circle cx="117.00" cy="348.81" r="0.65" fill="#5c5474"/>
<circle cx="115.50" cy="353.78" r="0.55" fill="#6a6a7a"/>
<circle cx="116.40" cy="358.75" r="0.55" fill="#6a6a70"/>
<circle cx="124.20" cy="363.71" r="0.90" fill="#8a5434"/>
<circle cx="125.40" cy="368.67" r="1.00" fill="#9a1e1e"/>
<circle cx="122.00" cy="373.64" r="0.95" fill="#9a1e1e"/>
<circle cx="131.90" cy="378.61" r="1.15" fill="#9a1a1a"/>
<circle cx="129.90" cy="383.57" r="1.10" fill="#9a1a1a"/>
<circle cx="150.20" cy="388.53" r="1.40" fill="#a01c14"/>
<text x="155.00" y="324.90" font-size="3.9" text-anchor="start" fill="#333">Count</text>
<circle cx="157.20" cy="327.40" r="0.65" fill="#111"/>
<text x="160.20" y="328.60" font-size="3.4" text-anchor="start" fill="#333">30</text>
<circle cx="157.20" cy="331.10" r="0.90" fill="#111"/>
<text x="160.20" y="332.30" font-size="3.4" text-anchor="start" fill="#333">60</text>
<circle cx="157.20" cy="335.30" r="1.15" fill="#111"/>
<text x="160.20" y="336.50" font-size="3.4" text-anchor="start" fill="#333">90</text>
<text x="154.80" y="341.90" font-size="3.9" text-anchor="start" fill="#333">padj</text>
<defs><linearGradient id="pg3" x1="0" y1="0" x2="0" y2="1"><stop offset="0" stop-color="#5a3cc8"/><stop offset="0.2" stop-color="#4a70e0"/><stop offset="0.4" stop-color="#30d0d0"/><stop offset="0.6" stop-color="#70d840"/><stop offset="0.75" stop-color="#e8d020"/><stop offset="0.88" stop-color="#f08010"/><stop offset="1" stop-color="#c83c10"/></linearGradient></defs>
<rect x="155.00" y="344.10" width="3.50" height="19.40" fill="url(#pg3)"/>
<text x="159.80" y="346.70" font-size="3.4" text-anchor="start" fill="#333">1.00</text>
<text x="159.80" y="351.10" font-size="3.4" text-anchor="start" fill="#333">0.75</text>
<text x="159.80" y="355.50" font-size="3.4" text-anchor="start" fill="#333">0.50</text>
<text x="159.80" y="359.90" font-size="3.4" text-anchor="start" fill="#333">0.25</text>
<text x="159.80" y="364.30" font-size="3.4" text-anchor="start" fill="#333">0.00</text>
<text x="172.20" y="288.00" font-size="5.15" text-anchor="start" fill="#222">Cluster 4</text>
<rect x="280.00" y="290.60" width="39.20" height="99.10" fill="#ffffff" stroke="#d4d4d4" stroke-width="0.5"/>
<line x1="289.70" y1="290.60" x2="289.70" y2="389.70" stroke="#f5f5f5" stroke-width="0.4"/>
<line x1="298.70" y1="290.60" x2="298.70" y2="389.70" stroke="#f5f5f5" stroke-width="0.4"/>
<line x1="307.70" y1="290.60" x2="307.70" y2="389.70" stroke="#f5f5f5" stroke-width="0.4"/>
<line x1="316.70" y1="290.60" x2="316.70" y2="389.70" stroke="#f5f5f5" stroke-width="0.4"/>
<line x1="280.00" y1="293.20" x2="319.20" y2="293.20" stroke="#f4f4f4" stroke-width="0.35"/>
<line x1="280.00" y1="298.17" x2="319.20" y2="298.17" stroke="#f4f4f4" stroke-width="0.35"/>
<line x1="280.00" y1="303.14" x2="319.20" y2="303.14" stroke="#f4f4f4" stroke-width="0.35"/>
<line x1="280.00" y1="308.12" x2="319.20" y2="308.12" stroke="#f4f4f4" stroke-width="0.35"/>
<line x1="280.00" y1="313.09" x2="319.20" y2="313.09" stroke="#f4f4f4" stroke-width="0.35"/>
<line x1="280.00" y1="318.06" x2="319.20" y2="318.06" stroke="#f4f4f4" stroke-width="0.35"/>
<line x1="280.00" y1="323.03" x2="319.20" y2="323.03" stroke="#f4f4f4" stroke-width="0.35"/>
<line x1="280.00" y1="328.00" x2="319.20" y2="328.00" stroke="#f4f4f4" stroke-width="0.35"/>
<line x1="280.00" y1="332.98" x2="319.20" y2="332.98" stroke="#f4f4f4" stroke-width="0.35"/>
<line x1="280.00" y1="337.95" x2="319.20" y2="337.95" stroke="#f4f4f4" stroke-width="0.35"/>
<line x1="280.00" y1="342.92" x2="319.20" y2="342.92" stroke="#f4f4f4" stroke-width="0.35"/>
<line x1="280.00" y1="347.89" x2="319.20" y2="347.89" stroke="#f4f4f4" stroke-width="0.35"/>
<line x1="280.00" y1="352.86" x2="319.20" y2="352.86" stroke="#f4f4f4" stroke-width="0.35"/>
<line x1="280.00" y1="357.84" x2="319.20" y2="357.84" stroke="#f4f4f4" stroke-width="0.35"/>
<line x1="280.00" y1="362.81" x2="319.20" y2="362.81" stroke="#f4f4f4" stroke-width="0.35"/>
<line x1="280.00" y1="367.78" x2="319.20" y2="367.78" stroke="#f4f4f4" stroke-width="0.35"/>
<line x1="280.00" y1="372.75" x2="319.20" y2="372.75" stroke="#f4f4f4" stroke-width="0.35"/>
<line x1="280.00" y1="377.72" x2="319.20" y2="377.72" stroke="#f4f4f4" stroke-width="0.35"/>
<line x1="280.00" y1="382.70" x2="319.20" y2="382.70" stroke="#f4f4f4" stroke-width="0.35"/>
<line x1="280.00" y1="387.67" x2="319.20" y2="387.67" stroke="#f4f4f4" stroke-width="0.35"/>
<text x="278.30" y="294.75" font-size="4.42" text-anchor="end" fill="#333">Lysine degradation</text>
<text x="278.30" y="299.97" font-size="5.0" text-anchor="end" fill="#111" stroke="#111" stroke-width="0.06">Peroxisome</text>
<text x="278.30" y="304.69" font-size="4.42" text-anchor="end" fill="#333">Glycosylphosphatidylinositol-anchor biosynthesis</text>
<text x="278.30" y="309.67" font-size="4.42" text-anchor="end" fill="#333">Propanoate metabolism</text>
<text x="278.30" y="314.64" font-size="4.42" text-anchor="end" fill="#333">Spliceosome</text>
<text x="278.30" y="319.61" font-size="4.42" text-anchor="end" fill="#333">Lysine biosynthesis</text>
<text x="278.30" y="324.58" font-size="4.42" text-anchor="end" fill="#333">Phenylalanine metabolism</text>
<text x="278.30" y="329.55" font-size="4.42" text-anchor="end" fill="#333">Arginine and proline metabolism</text>
<text x="278.30" y="334.53" font-size="4.42" text-anchor="end" fill="#333">Biosynthesis of secondary metabolites</text>
<text x="278.30" y="339.50" font-size="4.42" text-anchor="end" fill="#333">Thiamine metabolism</text>
<text x="278.30" y="344.47" font-size="4.42" text-anchor="end" fill="#333">Fatty acid degradation</text>
<text x="278.30" y="349.44" font-size="4.42" text-anchor="end" fill="#333">Non-homologous end-joining</text>
<text x="278.30" y="354.41" font-size="4.42" text-anchor="end" fill="#333">Glutathione metabolism</text>
<text x="278.30" y="359.39" font-size="4.42" text-anchor="end" fill="#333">Other types of O-glycan biosynthesis</text>
<text x="278.30" y="364.36" font-size="4.42" text-anchor="end" fill="#333">Terpenoid backbone biosynthesis</text>
<text x="278.30" y="369.33" font-size="4.42" text-anchor="end" fill="#333">Vitamin B6 metabolism</text>
<text x="278.30" y="374.30" font-size="4.42" text-anchor="end" fill="#333">Fatty acid biosynthesis</text>
<text x="278.30" y="379.27" font-size="4.42" text-anchor="end" fill="#333">Steroid biosynthesis</text>
<text x="278.30" y="384.25" font-size="4.42" text-anchor="end" fill="#333">Biosynthesis of unsaturated fatty acids</text>
<text x="278.30" y="389.22" font-size="4.42" text-anchor="end" fill="#333">Fatty acid metabolism</text>
<text x="289.70" y="394.10" font-size="3.7" text-anchor="middle" fill="#333">0.05</text>
<text x="298.70" y="394.10" font-size="3.7" text-anchor="middle" fill="#333">0.10</text>
<text x="307.70" y="394.10" font-size="3.7" text-anchor="middle" fill="#333">0.15</text>
<text x="316.70" y="394.10" font-size="3.7" text-anchor="middle" fill="#333">0.20</text>
<text x="303.50" y="397.20" font-size="3.8" text-anchor="middle" fill="#222">GeneRatio</text>
<text x="176.90" y="326.00" font-size="4.38" text-anchor="middle" fill="#333" transform="rotate(-90 176.9 326.0)">Description</text>
<circle cx="284.40" cy="293.20" r="0.35" fill="#c8c8c8"/>
<circle cx="285.00" cy="298.17" r="0.65" fill="#78a8a0"/>
<circle cx="283.20" cy="303.14" r="0.55" fill="#70a8a0"/>
<circle cx="283.00" cy="308.12" r="0.35" fill="#c0c8c8"/>
<circle cx="289.90" cy="313.09" r="0.85" fill="#60b4a0"/>
<circle cx="283.00" cy="318.06" r="0.35" fill="#c8c8c8"/>
<circle cx="283.00" cy="323.03" r="0.35" fill="#c8c8c8"/>
<circle cx="283.40" cy="328.00" r="0.50" fill="#a8a8a8"/>
<circle cx="317.00" cy="332.98" r="1.40" fill="#80d070"/>
<circle cx="285.20" cy="337.95" r="0.80" fill="#a89070"/>
<circle cx="285.20" cy="342.92" r="0.80" fill="#a08a6a"/>
<circle cx="283.70" cy="347.89" r="0.60" fill="#b8b0a8"/>
<circle cx="286.70" cy="352.86" r="0.85" fill="#9a7a60"/>
<circle cx="284.70" cy="357.84" r="0.80" fill="#988878"/>
<circle cx="286.70" cy="362.81" r="0.85" fill="#9a6a50"/>
<circle cx="284.70" cy="367.78" r="0.80" fill="#a07070"/>
<circle cx="284.70" cy="372.75" r="0.80" fill="#987868"/>
<circle cx="286.70" cy="377.72" r="0.85" fill="#9a4a40"/>
<circle cx="286.70" cy="382.70" r="0.85" fill="#9a3a38"/>
<circle cx="292.90" cy="387.67" r="1.10" fill="#882020"/>
<text x="320.60" y="318.90" font-size="3.9" text-anchor="start" fill="#333">Count</text>
<circle cx="322.80" cy="321.60" r="0.50" fill="#111"/>
<text x="325.80" y="322.80" font-size="3.4" text-anchor="start" fill="#333">5</text>
<circle cx="322.80" cy="325.30" r="0.70" fill="#111"/>
<text x="325.80" y="326.50" font-size="3.4" text-anchor="start" fill="#333">10</text>
<circle cx="322.80" cy="329.00" r="0.90" fill="#111"/>
<text x="325.80" y="330.20" font-size="3.4" text-anchor="start" fill="#333">15</text>
<circle cx="322.80" cy="332.60" r="1.10" fill="#111"/>
<text x="325.80" y="333.80" font-size="3.4" text-anchor="start" fill="#333">20</text>
<circle cx="322.80" cy="336.50" r="1.30" fill="#111"/>
<text x="325.80" y="337.70" font-size="3.4" text-anchor="start" fill="#333">25</text>
<text x="320.40" y="344.60" font-size="3.9" text-anchor="start" fill="#333">padj</text>
<defs><linearGradient id="pg4" x1="0" y1="0" x2="0" y2="1"><stop offset="0" stop-color="#5a3cc8"/><stop offset="0.2" stop-color="#4a70e0"/><stop offset="0.4" stop-color="#30d0d0"/><stop offset="0.6" stop-color="#70d840"/><stop offset="0.75" stop-color="#e8d020"/><stop offset="0.88" stop-color="#f08010"/><stop offset="1" stop-color="#c83c10"/></linearGradient></defs>
<rect x="320.60" y="346.80" width="3.50" height="19.40" fill="url(#pg4)"/>
<text x="325.40" y="349.40" font-size="3.4" text-anchor="start" fill="#333">1.00</text>
<text x="325.40" y="353.80" font-size="3.4" text-anchor="start" fill="#333">0.75</text>
<text x="325.40" y="358.20" font-size="3.4" text-anchor="start" fill="#333">0.50</text>
<text x="325.40" y="362.60" font-size="3.4" text-anchor="start" fill="#333">0.25</text>
<text x="325.40" y="367.00" font-size="3.4" text-anchor="start" fill="#333">0.00</text>
</g>
</svg>
</body></html>
